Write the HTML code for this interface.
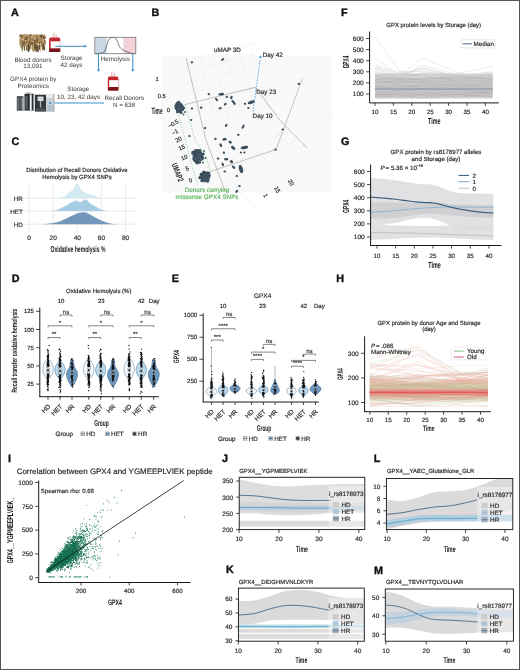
<!DOCTYPE html>
<html><head><meta charset="utf-8"><style>
html,body{margin:0;padding:0;background:#fff;width:520px;height:670px;overflow:hidden;}
#wrap{position:relative;width:520px;height:670px;}
svg{display:block;font-family:"Liberation Sans",sans-serif;text-rendering:geometricPrecision;}
#main{filter:blur(0.3px);}
#brd{position:absolute;left:0;top:0;}
</style></head><body><div id="wrap">
<svg id="main" width="520" height="670" viewBox="0 0 520 670">
<rect x="0" y="0" width="520" height="670" fill="#fff"/>
<text x="11.00" y="16.20" font-size="10.8" font-weight="bold" fill="#111" stroke="#111" stroke-width="0.35">A</text>
<rect x="19.50" y="34.50" width="25.50" height="10.00" fill="#b08d5c" stroke="none" stroke-width="1" />
<rect x="27.76" y="35.91" width="1.25" height="0.69" fill="#e3cfa6"/>
<rect x="21.90" y="40.54" width="1.51" height="0.86" fill="#c9a874"/>
<rect x="30.56" y="35.05" width="0.69" height="1.11" fill="#b89460"/>
<rect x="33.92" y="44.44" width="1.23" height="1.30" fill="#c9a874"/>
<rect x="34.22" y="38.54" width="1.58" height="0.66" fill="#b89460"/>
<rect x="22.90" y="38.78" width="1.14" height="1.29" fill="#e3cfa6"/>
<rect x="40.31" y="36.23" width="1.18" height="1.37" fill="#8a6a40"/>
<rect x="21.98" y="41.92" width="1.16" height="1.34" fill="#5b4630"/>
<rect x="36.85" y="38.88" width="0.91" height="1.30" fill="#5b4630"/>
<rect x="28.72" y="36.96" width="0.78" height="1.54" fill="#c9a874"/>
<rect x="34.15" y="39.92" width="1.48" height="1.48" fill="#8a6a40"/>
<rect x="35.03" y="35.08" width="1.11" height="0.80" fill="#8a6a40"/>
<rect x="23.38" y="39.53" width="0.64" height="1.40" fill="#b89460"/>
<rect x="33.73" y="42.74" width="1.42" height="1.01" fill="#8a6a40"/>
<rect x="34.66" y="40.50" width="1.06" height="1.61" fill="#8a6a40"/>
<rect x="31.59" y="41.41" width="0.66" height="1.44" fill="#3f3327"/>
<rect x="34.24" y="41.59" width="1.05" height="1.46" fill="#3f3327"/>
<rect x="28.35" y="44.36" width="0.96" height="1.33" fill="#5b4630"/>
<rect x="21.00" y="42.52" width="0.73" height="0.90" fill="#5b4630"/>
<rect x="42.88" y="39.61" width="0.77" height="1.08" fill="#8a6a40"/>
<rect x="42.03" y="43.07" width="1.46" height="0.93" fill="#5b4630"/>
<rect x="44.65" y="41.61" width="0.98" height="0.88" fill="#c9a874"/>
<rect x="23.99" y="36.78" width="0.83" height="1.18" fill="#e3cfa6"/>
<rect x="24.15" y="37.32" width="0.75" height="1.24" fill="#e3cfa6"/>
<rect x="33.94" y="44.50" width="1.29" height="1.22" fill="#e3cfa6"/>
<rect x="36.20" y="42.22" width="1.06" height="1.65" fill="#b89460"/>
<rect x="36.85" y="40.28" width="1.00" height="1.07" fill="#5b4630"/>
<rect x="35.67" y="34.97" width="0.67" height="0.85" fill="#a7834e"/>
<rect x="22.30" y="40.73" width="0.70" height="1.28" fill="#e3cfa6"/>
<rect x="22.09" y="38.19" width="0.63" height="1.65" fill="#e3cfa6"/>
<rect x="29.09" y="41.09" width="1.56" height="1.32" fill="#5b4630"/>
<rect x="22.63" y="43.38" width="1.59" height="1.16" fill="#5b4630"/>
<rect x="27.45" y="35.84" width="1.35" height="1.49" fill="#5b4630"/>
<rect x="40.64" y="36.03" width="0.62" height="1.74" fill="#e3cfa6"/>
<rect x="28.72" y="41.68" width="1.51" height="1.51" fill="#8a6a40"/>
<rect x="44.45" y="43.54" width="1.30" height="0.91" fill="#8a6a40"/>
<rect x="42.66" y="38.11" width="0.82" height="1.25" fill="#e3cfa6"/>
<rect x="27.91" y="36.69" width="1.41" height="1.78" fill="#b89460"/>
<rect x="24.48" y="36.86" width="1.00" height="1.56" fill="#a7834e"/>
<rect x="32.70" y="38.10" width="0.63" height="0.63" fill="#8a6a40"/>
<rect x="31.54" y="36.37" width="1.21" height="1.01" fill="#b89460"/>
<rect x="43.39" y="44.87" width="1.56" height="1.04" fill="#a7834e"/>
<rect x="22.11" y="39.33" width="0.94" height="1.18" fill="#e3cfa6"/>
<rect x="40.93" y="39.43" width="1.25" height="1.56" fill="#c9a874"/>
<rect x="40.78" y="35.58" width="0.99" height="1.45" fill="#a7834e"/>
<rect x="31.69" y="36.21" width="1.39" height="1.00" fill="#b89460"/>
<rect x="43.63" y="42.02" width="1.06" height="1.49" fill="#c9a874"/>
<rect x="37.98" y="36.12" width="0.73" height="0.78" fill="#5b4630"/>
<rect x="40.07" y="35.86" width="1.43" height="1.78" fill="#3f3327"/>
<rect x="43.41" y="35.97" width="1.15" height="0.63" fill="#b89460"/>
<rect x="44.26" y="41.25" width="1.13" height="1.72" fill="#5b4630"/>
<rect x="44.66" y="36.38" width="1.47" height="0.63" fill="#a7834e"/>
<rect x="26.97" y="36.87" width="1.19" height="0.91" fill="#5b4630"/>
<rect x="40.77" y="34.95" width="1.34" height="1.68" fill="#3f3327"/>
<rect x="34.38" y="43.98" width="1.02" height="1.70" fill="#e3cfa6"/>
<rect x="22.83" y="35.92" width="1.11" height="1.65" fill="#b89460"/>
<rect x="24.17" y="34.34" width="1.40" height="0.81" fill="#5b4630"/>
<rect x="35.29" y="35.59" width="0.66" height="1.42" fill="#e3cfa6"/>
<rect x="33.66" y="42.69" width="0.71" height="1.27" fill="#a7834e"/>
<rect x="24.38" y="34.75" width="0.70" height="1.14" fill="#c9a874"/>
<rect x="38.88" y="44.06" width="1.04" height="1.34" fill="#e3cfa6"/>
<rect x="34.96" y="36.43" width="0.88" height="1.21" fill="#b89460"/>
<rect x="31.69" y="44.37" width="1.30" height="1.65" fill="#8a6a40"/>
<rect x="43.03" y="43.85" width="0.80" height="1.14" fill="#5b4630"/>
<rect x="22.60" y="39.03" width="0.67" height="0.89" fill="#c9a874"/>
<rect x="24.92" y="37.54" width="0.72" height="1.53" fill="#3f3327"/>
<rect x="35.91" y="38.22" width="0.85" height="0.76" fill="#5b4630"/>
<rect x="25.10" y="44.49" width="1.00" height="1.18" fill="#3f3327"/>
<rect x="40.73" y="36.03" width="1.03" height="1.22" fill="#8a6a40"/>
<rect x="30.24" y="38.12" width="0.69" height="1.04" fill="#8a6a40"/>
<rect x="33.63" y="39.01" width="0.62" height="1.00" fill="#e3cfa6"/>
<rect x="27.03" y="44.58" width="0.71" height="1.70" fill="#a7834e"/>
<rect x="44.28" y="35.42" width="0.87" height="0.65" fill="#b89460"/>
<rect x="24.13" y="42.39" width="1.42" height="1.62" fill="#3f3327"/>
<rect x="40.38" y="37.07" width="0.75" height="1.70" fill="#e3cfa6"/>
<rect x="32.11" y="37.80" width="0.88" height="1.56" fill="#a7834e"/>
<rect x="30.35" y="35.07" width="1.54" height="1.36" fill="#b89460"/>
<rect x="26.14" y="40.81" width="0.82" height="0.92" fill="#c9a874"/>
<rect x="31.07" y="37.93" width="1.15" height="1.71" fill="#8a6a40"/>
<rect x="35.35" y="34.76" width="1.31" height="1.73" fill="#a7834e"/>
<rect x="26.18" y="36.24" width="1.53" height="1.35" fill="#e3cfa6"/>
<rect x="38.87" y="37.40" width="1.10" height="0.81" fill="#8a6a40"/>
<rect x="39.99" y="44.94" width="0.64" height="0.62" fill="#e3cfa6"/>
<rect x="33.55" y="36.33" width="1.07" height="1.72" fill="#c9a874"/>
<rect x="36.29" y="41.26" width="1.26" height="1.26" fill="#5b4630"/>
<rect x="44.24" y="37.59" width="0.82" height="0.88" fill="#a7834e"/>
<rect x="40.72" y="41.86" width="1.24" height="1.09" fill="#8a6a40"/>
<rect x="44.54" y="43.26" width="0.61" height="1.35" fill="#8a6a40"/>
<rect x="30.48" y="34.89" width="1.27" height="1.06" fill="#e3cfa6"/>
<rect x="36.60" y="37.32" width="0.84" height="0.95" fill="#5b4630"/>
<rect x="24.23" y="37.18" width="0.60" height="1.04" fill="#8a6a40"/>
<rect x="44.30" y="40.15" width="0.84" height="1.76" fill="#8a6a40"/>
<rect x="25.06" y="36.26" width="0.94" height="0.70" fill="#8a6a40"/>
<rect x="32.32" y="36.45" width="1.10" height="0.61" fill="#8a6a40"/>
<rect x="40.33" y="35.84" width="1.19" height="1.07" fill="#8a6a40"/>
<rect x="27.26" y="36.79" width="1.19" height="1.24" fill="#b89460"/>
<rect x="23.46" y="43.85" width="1.38" height="1.32" fill="#b89460"/>
<rect x="27.82" y="44.84" width="0.75" height="1.47" fill="#3f3327"/>
<rect x="23.19" y="43.13" width="1.32" height="1.22" fill="#5b4630"/>
<rect x="38.21" y="42.99" width="0.74" height="1.23" fill="#e3cfa6"/>
<rect x="34.00" y="43.00" width="0.62" height="1.42" fill="#b89460"/>
<rect x="42.27" y="41.61" width="1.29" height="0.88" fill="#c9a874"/>
<rect x="20.57" y="41.12" width="1.56" height="1.05" fill="#5b4630"/>
<rect x="33.74" y="41.02" width="1.23" height="1.42" fill="#5b4630"/>
<rect x="26.23" y="39.19" width="0.67" height="1.72" fill="#e3cfa6"/>
<rect x="21.84" y="39.93" width="1.35" height="1.17" fill="#b89460"/>
<rect x="21.40" y="37.14" width="1.33" height="0.85" fill="#3f3327"/>
<rect x="36.07" y="39.23" width="1.45" height="0.69" fill="#3f3327"/>
<rect x="26.83" y="34.80" width="1.23" height="0.84" fill="#e3cfa6"/>
<rect x="23.26" y="37.02" width="1.34" height="0.97" fill="#e3cfa6"/>
<rect x="22.90" y="39.46" width="1.09" height="1.77" fill="#c9a874"/>
<rect x="37.15" y="41.53" width="0.89" height="1.22" fill="#5b4630"/>
<rect x="31.38" y="42.51" width="1.59" height="1.26" fill="#8a6a40"/>
<rect x="44.44" y="44.32" width="0.62" height="1.15" fill="#b89460"/>
<rect x="32.42" y="44.94" width="1.59" height="1.06" fill="#a7834e"/>
<rect x="21.40" y="35.27" width="1.35" height="0.91" fill="#8a6a40"/>
<rect x="22.88" y="43.08" width="1.11" height="1.66" fill="#3f3327"/>
<rect x="28.81" y="39.63" width="1.48" height="1.07" fill="#a7834e"/>
<rect x="19.59" y="39.56" width="1.05" height="0.96" fill="#a7834e"/>
<rect x="30.11" y="38.32" width="0.72" height="1.00" fill="#8a6a40"/>
<rect x="38.64" y="43.28" width="0.72" height="1.71" fill="#3f3327"/>
<rect x="19.80" y="42.22" width="0.85" height="0.68" fill="#5b4630"/>
<rect x="44.97" y="40.60" width="0.96" height="1.11" fill="#8a6a40"/>
<rect x="41.28" y="37.30" width="0.65" height="1.39" fill="#3f3327"/>
<rect x="43.36" y="36.97" width="0.87" height="1.21" fill="#a7834e"/>
<rect x="39.22" y="42.70" width="1.03" height="0.63" fill="#b89460"/>
<rect x="35.59" y="44.07" width="1.54" height="1.26" fill="#3f3327"/>
<rect x="21.55" y="44.29" width="1.01" height="1.34" fill="#a7834e"/>
<rect x="35.93" y="37.36" width="0.65" height="1.71" fill="#a7834e"/>
<rect x="23.85" y="38.74" width="0.88" height="0.91" fill="#3f3327"/>
<rect x="44.40" y="37.08" width="1.26" height="0.96" fill="#e3cfa6"/>
<rect x="36.56" y="35.58" width="1.24" height="0.69" fill="#e3cfa6"/>
<rect x="42.60" y="39.62" width="0.82" height="1.69" fill="#b89460"/>
<rect x="30.97" y="35.79" width="0.79" height="0.71" fill="#8a6a40"/>
<rect x="33.67" y="37.72" width="0.97" height="1.57" fill="#a7834e"/>
<rect x="42.12" y="42.32" width="1.01" height="1.10" fill="#e3cfa6"/>
<rect x="24.86" y="37.19" width="1.35" height="1.20" fill="#e3cfa6"/>
<rect x="44.18" y="35.65" width="1.10" height="1.36" fill="#b89460"/>
<rect x="41.14" y="35.29" width="1.50" height="1.06" fill="#3f3327"/>
<rect x="30.87" y="44.51" width="1.45" height="1.65" fill="#c9a874"/>
<rect x="22.74" y="38.85" width="1.36" height="1.57" fill="#e3cfa6"/>
<rect x="31.99" y="35.08" width="1.53" height="1.71" fill="#e3cfa6"/>
<rect x="41.31" y="44.70" width="0.85" height="0.73" fill="#a7834e"/>
<rect x="23.38" y="44.70" width="0.71" height="1.59" fill="#3f3327"/>
<rect x="36.01" y="42.48" width="1.06" height="1.26" fill="#c9a874"/>
<rect x="19.53" y="35.64" width="1.17" height="0.65" fill="#3f3327"/>
<rect x="27.25" y="35.67" width="0.85" height="1.36" fill="#3f3327"/>
<rect x="38.98" y="35.36" width="0.90" height="1.73" fill="#a7834e"/>
<rect x="29.40" y="36.69" width="1.20" height="0.61" fill="#8a6a40"/>
<rect x="44.91" y="37.28" width="0.92" height="1.61" fill="#a7834e"/>
<rect x="31.62" y="36.81" width="0.85" height="1.75" fill="#3f3327"/>
<rect x="36.07" y="34.89" width="0.79" height="1.66" fill="#3f3327"/>
<rect x="30.21" y="37.05" width="1.27" height="1.71" fill="#a7834e"/>
<rect x="32.07" y="41.75" width="1.32" height="1.03" fill="#5b4630"/>
<rect x="24.55" y="42.83" width="1.34" height="1.21" fill="#a7834e"/>
<rect x="32.14" y="36.44" width="1.37" height="0.83" fill="#5b4630"/>
<rect x="25.15" y="42.44" width="0.89" height="1.74" fill="#5b4630"/>
<rect x="35.06" y="43.89" width="1.09" height="1.69" fill="#c9a874"/>
<rect x="43.69" y="35.87" width="0.99" height="0.86" fill="#e3cfa6"/>
<rect x="23.12" y="34.85" width="0.66" height="1.07" fill="#3f3327"/>
<rect x="42.03" y="42.14" width="1.60" height="1.72" fill="#8a6a40"/>
<rect x="24.36" y="41.28" width="1.12" height="1.16" fill="#8a6a40"/>
<rect x="36.44" y="38.35" width="0.97" height="1.00" fill="#a7834e"/>
<rect x="22.28" y="35.14" width="0.68" height="1.10" fill="#c9a874"/>
<rect x="33.81" y="42.42" width="0.98" height="1.52" fill="#8a6a40"/>
<rect x="40.46" y="38.93" width="0.65" height="1.17" fill="#8a6a40"/>
<rect x="33.31" y="39.08" width="0.92" height="1.48" fill="#5b4630"/>
<rect x="20.27" y="38.70" width="1.41" height="1.52" fill="#c9a874"/>
<rect x="29.08" y="39.27" width="1.40" height="0.67" fill="#a7834e"/>
<rect x="38.56" y="43.91" width="0.94" height="0.93" fill="#e3cfa6"/>
<rect x="20.61" y="42.29" width="1.29" height="1.71" fill="#8a6a40"/>
<rect x="19.60" y="42.39" width="1.52" height="1.36" fill="#c9a874"/>
<rect x="20.12" y="36.80" width="1.08" height="1.75" fill="#b89460"/>
<rect x="29.36" y="36.99" width="1.03" height="1.19" fill="#5b4630"/>
<rect x="24.16" y="42.89" width="1.34" height="1.59" fill="#b89460"/>
<rect x="23.36" y="36.83" width="1.46" height="1.15" fill="#b89460"/>
<rect x="39.45" y="35.15" width="0.80" height="1.50" fill="#a7834e"/>
<rect x="29.90" y="41.25" width="1.08" height="1.25" fill="#a7834e"/>
<rect x="44.50" y="43.75" width="1.59" height="0.92" fill="#c9a874"/>
<rect x="24.81" y="38.81" width="1.59" height="1.77" fill="#a7834e"/>
<rect x="25.47" y="38.76" width="1.22" height="1.41" fill="#3f3327"/>
<rect x="33.23" y="42.58" width="1.36" height="1.54" fill="#8a6a40"/>
<rect x="26.99" y="40.37" width="0.97" height="1.49" fill="#a7834e"/>
<rect x="30.70" y="36.29" width="0.84" height="0.94" fill="#e3cfa6"/>
<rect x="24.30" y="34.99" width="0.85" height="0.90" fill="#e3cfa6"/>
<rect x="25.40" y="42.95" width="1.25" height="1.79" fill="#c9a874"/>
<rect x="19.61" y="43.75" width="0.83" height="1.14" fill="#8a6a40"/>
<rect x="20.53" y="37.44" width="0.72" height="0.83" fill="#b89460"/>
<rect x="34.37" y="44.25" width="0.97" height="1.64" fill="#5b4630"/>
<rect x="34.88" y="42.59" width="1.26" height="0.61" fill="#3f3327"/>
<rect x="34.70" y="40.93" width="0.82" height="1.04" fill="#a7834e"/>
<rect x="20.63" y="45.00" width="0.64" height="1.48" fill="#a7834e"/>
<rect x="40.28" y="43.06" width="1.01" height="1.05" fill="#e3cfa6"/>
<rect x="27.46" y="36.48" width="1.40" height="1.26" fill="#c9a874"/>
<rect x="29.91" y="42.82" width="1.26" height="0.79" fill="#e3cfa6"/>
<rect x="21.82" y="36.05" width="1.30" height="1.09" fill="#8a6a40"/>
<rect x="36.53" y="38.77" width="0.65" height="1.49" fill="#8a6a40"/>
<rect x="30.06" y="34.49" width="1.37" height="1.56" fill="#3f3327"/>
<rect x="24.53" y="42.09" width="0.80" height="0.61" fill="#a7834e"/>
<rect x="30.31" y="43.08" width="1.01" height="1.66" fill="#5b4630"/>
<rect x="39.21" y="35.69" width="0.65" height="0.77" fill="#b89460"/>
<rect x="42.70" y="35.25" width="1.22" height="1.05" fill="#e3cfa6"/>
<rect x="23.88" y="38.02" width="0.76" height="0.81" fill="#c9a874"/>
<rect x="22.27" y="39.55" width="1.40" height="1.76" fill="#a7834e"/>
<rect x="27.19" y="43.26" width="0.64" height="1.70" fill="#8a6a40"/>
<rect x="20.86" y="44.21" width="0.99" height="1.69" fill="#e3cfa6"/>
<rect x="37.05" y="43.84" width="1.24" height="1.63" fill="#e3cfa6"/>
<rect x="29.81" y="43.36" width="1.43" height="0.82" fill="#a7834e"/>
<rect x="20.56" y="44.34" width="0.76" height="1.03" fill="#a7834e"/>
<rect x="25.80" y="42.06" width="1.50" height="0.65" fill="#e3cfa6"/>
<rect x="40.98" y="41.49" width="1.27" height="0.99" fill="#5b4630"/>
<rect x="34.79" y="40.19" width="1.23" height="0.97" fill="#5b4630"/>
<rect x="27.36" y="36.97" width="0.99" height="1.04" fill="#e3cfa6"/>
<rect x="30.68" y="34.55" width="1.22" height="1.19" fill="#a7834e"/>
<rect x="30.89" y="40.92" width="1.42" height="1.60" fill="#b89460"/>
<rect x="31.57" y="35.45" width="0.73" height="1.12" fill="#c9a874"/>
<rect x="39.96" y="39.70" width="1.26" height="0.65" fill="#a7834e"/>
<rect x="21.60" y="42.15" width="1.38" height="1.21" fill="#c9a874"/>
<rect x="38.68" y="43.88" width="1.25" height="1.54" fill="#c9a874"/>
<rect x="41.36" y="44.96" width="1.33" height="1.58" fill="#a7834e"/>
<rect x="22.86" y="43.78" width="0.89" height="1.57" fill="#b89460"/>
<rect x="23.71" y="42.74" width="1.53" height="0.68" fill="#8a6a40"/>
<rect x="35.07" y="37.00" width="0.92" height="1.34" fill="#b89460"/>
<rect x="31.14" y="37.02" width="1.56" height="1.18" fill="#e3cfa6"/>
<rect x="26.20" y="39.71" width="0.92" height="0.64" fill="#a7834e"/>
<rect x="29.79" y="41.11" width="0.88" height="0.99" fill="#5b4630"/>
<rect x="23.80" y="42.70" width="0.72" height="1.24" fill="#3f3327"/>
<rect x="41.39" y="44.64" width="1.05" height="1.23" fill="#3f3327"/>
<rect x="42.00" y="35.42" width="1.59" height="1.36" fill="#5b4630"/>
<rect x="38.32" y="38.27" width="0.98" height="1.04" fill="#a7834e"/>
<rect x="28.69" y="42.48" width="1.04" height="0.81" fill="#3f3327"/>
<rect x="43.93" y="37.47" width="1.12" height="0.97" fill="#b89460"/>
<rect x="34.44" y="41.40" width="0.91" height="0.60" fill="#c9a874"/>
<rect x="25.15" y="37.41" width="1.23" height="1.10" fill="#8a6a40"/>
<rect x="42.34" y="35.71" width="0.83" height="1.38" fill="#c9a874"/>
<rect x="20.89" y="40.37" width="0.90" height="1.23" fill="#e3cfa6"/>
<rect x="25.22" y="40.54" width="1.19" height="0.85" fill="#e3cfa6"/>
<rect x="40.63" y="36.00" width="0.61" height="1.56" fill="#3f3327"/>
<rect x="23.31" y="35.33" width="1.24" height="1.65" fill="#b89460"/>
<rect x="26.38" y="42.98" width="1.57" height="0.67" fill="#b89460"/>
<rect x="33.84" y="38.05" width="1.25" height="1.13" fill="#e3cfa6"/>
<rect x="38.20" y="36.96" width="1.50" height="0.65" fill="#e3cfa6"/>
<rect x="20.14" y="36.29" width="0.76" height="1.69" fill="#c9a874"/>
<rect x="19.81" y="40.19" width="1.54" height="0.77" fill="#a7834e"/>
<rect x="32.72" y="41.18" width="1.25" height="1.10" fill="#e3cfa6"/>
<rect x="23.95" y="37.61" width="0.90" height="0.66" fill="#3f3327"/>
<rect x="39.47" y="41.95" width="0.61" height="1.61" fill="#3f3327"/>
<rect x="42.76" y="35.16" width="1.26" height="0.81" fill="#c9a874"/>
<rect x="26.17" y="41.19" width="0.72" height="1.67" fill="#3f3327"/>
<rect x="43.54" y="37.12" width="0.65" height="1.36" fill="#3f3327"/>
<rect x="30.62" y="42.74" width="1.12" height="0.92" fill="#3f3327"/>
<rect x="43.18" y="43.87" width="0.69" height="1.21" fill="#a7834e"/>
<rect x="26.14" y="36.83" width="1.34" height="1.73" fill="#3f3327"/>
<rect x="42.83" y="36.35" width="0.99" height="1.32" fill="#5b4630"/>
<rect x="42.64" y="41.05" width="1.29" height="1.40" fill="#e3cfa6"/>
<rect x="31.47" y="43.28" width="1.30" height="1.63" fill="#5b4630"/>
<rect x="43.87" y="36.80" width="1.48" height="1.55" fill="#5b4630"/>
<rect x="35.38" y="35.13" width="1.51" height="0.77" fill="#c9a874"/>
<rect x="22.35" y="40.96" width="0.76" height="1.77" fill="#3f3327"/>
<rect x="20.23" y="34.75" width="1.29" height="1.36" fill="#3f3327"/>
<rect x="21.66" y="44.14" width="1.06" height="7.02" fill="#6b5538"/>
<rect x="40.03" y="46.46" width="0.64" height="5.16" fill="#c9a874"/>
<rect x="22.62" y="44.62" width="0.62" height="2.60" fill="#4a3a2a"/>
<rect x="40.21" y="45.89" width="0.66" height="3.18" fill="#4a3a2a"/>
<rect x="39.40" y="45.94" width="0.80" height="3.20" fill="#8a6a40"/>
<rect x="20.51" y="44.77" width="1.03" height="3.48" fill="#8a6a40"/>
<rect x="42.30" y="46.31" width="0.89" height="4.22" fill="#8a6a40"/>
<rect x="35.15" y="44.09" width="0.86" height="4.44" fill="#4a3a2a"/>
<rect x="28.50" y="46.11" width="0.73" height="4.09" fill="#4a3a2a"/>
<rect x="34.08" y="44.86" width="0.91" height="4.24" fill="#8a6a40"/>
<rect x="38.67" y="46.93" width="0.89" height="2.01" fill="#c9a874"/>
<rect x="37.03" y="46.48" width="0.96" height="5.41" fill="#8a6a40"/>
<rect x="34.16" y="44.48" width="1.16" height="6.50" fill="#6b5538"/>
<rect x="32.21" y="44.33" width="0.65" height="5.61" fill="#4a3a2a"/>
<rect x="35.38" y="45.07" width="0.84" height="3.98" fill="#4a3a2a"/>
<rect x="30.34" y="45.94" width="0.78" height="3.51" fill="#c9a874"/>
<rect x="42.08" y="45.50" width="1.13" height="3.71" fill="#6b5538"/>
<rect x="43.13" y="44.38" width="1.01" height="5.34" fill="#4a3a2a"/>
<rect x="28.54" y="44.98" width="1.11" height="2.78" fill="#8a6a40"/>
<rect x="24.15" y="45.32" width="0.95" height="5.62" fill="#6b5538"/>
<rect x="28.18" y="45.93" width="0.90" height="4.84" fill="#8a6a40"/>
<rect x="27.39" y="46.11" width="0.69" height="5.28" fill="#6b5538"/>
<rect x="43.88" y="46.17" width="0.81" height="4.31" fill="#6b5538"/>
<rect x="28.04" y="44.57" width="1.04" height="7.30" fill="#4a3a2a"/>
<rect x="24.03" y="45.97" width="0.69" height="2.79" fill="#6b5538"/>
<rect x="39.47" y="46.20" width="0.72" height="3.65" fill="#4a3a2a"/>
<rect x="26.88" y="46.66" width="0.61" height="3.55" fill="#c9a874"/>
<rect x="36.99" y="45.50" width="0.88" height="4.84" fill="#6b5538"/>
<rect x="26.30" y="46.21" width="0.75" height="2.02" fill="#c9a874"/>
<rect x="37.18" y="45.76" width="1.11" height="4.74" fill="#6b5538"/>
<rect x="36.65" y="45.92" width="0.79" height="3.85" fill="#4a3a2a"/>
<rect x="41.92" y="44.73" width="1.03" height="4.11" fill="#6b5538"/>
<rect x="26.13" y="45.27" width="0.97" height="4.15" fill="#c9a874"/>
<rect x="32.70" y="45.98" width="1.14" height="5.51" fill="#8a6a40"/>
<rect x="39.07" y="45.17" width="1.18" height="4.37" fill="#4a3a2a"/>
<rect x="26.15" y="44.65" width="1.17" height="5.83" fill="#6b5538"/>
<rect x="32.72" y="44.30" width="0.92" height="5.27" fill="#c9a874"/>
<rect x="32.55" y="45.92" width="0.91" height="5.38" fill="#c9a874"/>
<rect x="38.18" y="45.37" width="0.71" height="6.58" fill="#4a3a2a"/>
<rect x="37.86" y="45.84" width="0.75" height="4.65" fill="#c9a874"/>
<rect x="29.79" y="44.04" width="0.85" height="4.49" fill="#8a6a40"/>
<rect x="34.21" y="44.33" width="0.84" height="3.72" fill="#6b5538"/>
<rect x="44.36" y="46.88" width="0.70" height="3.44" fill="#4a3a2a"/>
<rect x="39.83" y="45.90" width="0.94" height="3.92" fill="#6b5538"/>
<rect x="39.96" y="44.44" width="1.10" height="5.70" fill="#c9a874"/>
<rect x="31.47" y="44.88" width="0.68" height="4.81" fill="#c9a874"/>
<rect x="28.69" y="46.55" width="0.83" height="2.92" fill="#8a6a40"/>
<rect x="44.08" y="46.04" width="1.08" height="3.91" fill="#8a6a40"/>
<rect x="28.77" y="45.96" width="0.89" height="3.29" fill="#4a3a2a"/>
<rect x="36.15" y="45.09" width="1.11" height="6.56" fill="#4a3a2a"/>
<rect x="22.09" y="45.69" width="1.17" height="3.40" fill="#8a6a40"/>
<rect x="35.51" y="44.04" width="1.17" height="2.07" fill="#8a6a40"/>
<rect x="26.13" y="44.30" width="0.74" height="2.81" fill="#c9a874"/>
<rect x="28.49" y="44.46" width="1.08" height="7.01" fill="#6b5538"/>
<rect x="34.93" y="46.06" width="0.65" height="5.85" fill="#8a6a40"/>
<path d="M50.70,37.60 H58.70 Q60.20,37.60 60.20,39.60 V51.00 Q60.20,52.00 58.70,52.00 H50.70 Q49.20,52.00 49.20,51.00 V39.60 Q49.20,37.60 50.70,37.60 Z" fill="#c0262c"/>
<rect x="50.40" y="41.34" width="9.60" height="7.20" fill="#ffffff" stroke="none" stroke-width="1" />
<rect x="49.20" y="48.54" width="11.00" height="3.46" fill="#7a1418" stroke="none" stroke-width="1" />
<rect x="49.20" y="41.34" width="1.20" height="7.20" fill="#c0262c" stroke="none" stroke-width="1" />
<line x1="53.20" y1="37.60" x2="53.20" y2="33.10" stroke="#c77" stroke-width="0.5" />
<line x1="56.20" y1="37.60" x2="56.20" y2="34.10" stroke="#c77" stroke-width="0.5" />
<line x1="54.70" y1="37.60" x2="54.70" y2="32.10" stroke="#caa" stroke-width="0.5" />
<path d="M109.40,76.50 H116.90 Q118.40,76.50 118.40,78.50 V89.50 Q118.40,90.50 116.90,90.50 H109.40 Q107.90,90.50 107.90,89.50 V78.50 Q107.90,76.50 109.40,76.50 Z" fill="#c0262c"/>
<rect x="109.10" y="80.14" width="9.10" height="7.00" fill="#ffffff" stroke="none" stroke-width="1" />
<rect x="107.90" y="87.14" width="10.50" height="3.36" fill="#7a1418" stroke="none" stroke-width="1" />
<rect x="107.90" y="80.14" width="1.20" height="7.00" fill="#c0262c" stroke="none" stroke-width="1" />
<line x1="111.65" y1="76.50" x2="111.65" y2="72.00" stroke="#c77" stroke-width="0.5" />
<line x1="114.65" y1="76.50" x2="114.65" y2="73.00" stroke="#c77" stroke-width="0.5" />
<line x1="113.15" y1="76.50" x2="113.15" y2="71.00" stroke="#caa" stroke-width="0.5" />
<line x1="55.50" y1="46.30" x2="84.50" y2="46.30" stroke="#3a92cf" stroke-width="1.0" />
<polygon points="87.00,46.30 84.20,47.84 84.20,44.76" fill="#3a92cf" />
<text x="33.00" y="61.50" font-size="6.3" text-anchor="middle" fill="#3a3a3a">Blood donors</text>
<text x="33.00" y="67.80" font-size="6.3" text-anchor="middle" fill="#3a3a3a">13,091</text>
<text x="71.50" y="60.40" font-size="6.3" text-anchor="middle" fill="#3a3a3a">Storage</text>
<text x="71.50" y="67.10" font-size="6.3" text-anchor="middle" fill="#3a3a3a">42 days</text>
<rect x="94.80" y="37.30" width="41.00" height="16.40" fill="#fff" stroke="none" stroke-width="1" />
<rect x="94.80" y="37.30" width="11.80" height="16.40" fill="#cad8e6" stroke="none" stroke-width="1" />
<rect x="123.40" y="37.30" width="12.40" height="16.40" fill="#f2d2d8" stroke="none" stroke-width="1" />
<polyline points="95.50,53.80 95.99,53.77 96.67,53.74 97.48,53.71 98.34,53.64 99.20,53.55 100.00,53.40 100.76,53.24 101.56,53.10 102.34,52.91 103.10,52.65 103.80,52.26 104.40,51.70 104.90,50.92 105.31,49.93 105.66,48.83 105.98,47.67 106.28,46.53 106.60,45.50 106.91,44.53 107.20,43.56 107.47,42.61 107.76,41.72 108.06,40.91 108.40,40.20 108.79,39.61 109.22,39.10 109.67,38.68 110.13,38.33 110.57,38.04 111.00,37.80 111.40,37.63 111.79,37.54 112.17,37.51 112.55,37.53 112.93,37.56 113.30,37.60 113.67,37.62 114.04,37.62 114.41,37.65 114.77,37.73 115.13,37.91 115.50,38.20 115.88,38.65 116.27,39.24 116.66,39.91 117.03,40.63 117.39,41.34 117.70,42.00 117.96,42.62 118.17,43.24 118.35,43.85 118.53,44.45 118.74,45.04 119.00,45.60 119.30,46.14 119.62,46.67 119.96,47.19 120.34,47.68 120.75,48.15 121.20,48.60 121.70,49.02 122.23,49.41 122.81,49.77 123.41,50.13 124.04,50.47 124.70,50.80 125.41,51.13 126.19,51.47 126.99,51.79 127.79,52.09 128.54,52.36 129.20,52.60 129.76,52.80 130.23,52.96 130.66,53.09 131.08,53.20 131.51,53.30 132.00,53.40 132.58,53.49 133.24,53.58 133.93,53.65 134.57,53.71 135.11,53.76 135.50,53.80" stroke="#333" fill="none" stroke-width="0.7" />
<rect x="94.80" y="37.30" width="41.00" height="16.40" fill="none" stroke="#777" stroke-width="0.8" />
<text x="115.30" y="60.90" font-size="6.3" text-anchor="middle" fill="#3a3a3a">Hemolysis</text>
<line x1="98.50" y1="53.80" x2="98.50" y2="69.50" stroke="#3a92cf" stroke-width="1.0" />
<polygon points="98.50,72.00 96.96,69.20 100.04,69.20" fill="#3a92cf" />
<line x1="132.80" y1="53.80" x2="132.80" y2="69.50" stroke="#3a92cf" stroke-width="1.0" />
<polygon points="132.80,72.00 131.26,69.20 134.34,69.20" fill="#3a92cf" />
<text x="124.30" y="99.70" font-size="6.3" text-anchor="middle" fill="#3a3a3a">Recall Donors</text>
<text x="124.00" y="107.00" font-size="6.3" text-anchor="middle" fill="#3a3a3a">N = 638</text>
<text x="78.30" y="90.50" font-size="6.3" text-anchor="middle" fill="#3a3a3a">Storage</text>
<text x="78.50" y="98.90" font-size="6.3" text-anchor="middle" fill="#3a3a3a">10, 23, 42 days</text>
<line x1="51.00" y1="103.00" x2="104.00" y2="103.00" stroke="#3a92cf" stroke-width="1.1" />
<text x="33.20" y="80.50" font-size="6.3" text-anchor="middle" fill="#3a3a3a">GPX4 protein by</text>
<text x="33.20" y="87.70" font-size="6.3" text-anchor="middle" fill="#3a3a3a">Proteomics</text>
<rect x="16.80" y="96.20" width="6.80" height="14.40" fill="#3a3e44" stroke="none" stroke-width="1" />
<rect x="17.60" y="97.50" width="1.00" height="12.00" fill="#8d939a" stroke="none" stroke-width="1" />
<rect x="19.60" y="97.50" width="0.80" height="12.00" fill="#6a7077" stroke="none" stroke-width="1" />
<rect x="21.60" y="97.50" width="1.20" height="12.00" fill="#a9aeb3" stroke="none" stroke-width="1" />
<rect x="23.60" y="95.00" width="1.00" height="15.60" fill="#e8eaec" stroke="none" stroke-width="1" />
<rect x="24.50" y="93.80" width="9.20" height="16.80" fill="#2c3035" stroke="none" stroke-width="1" />
<rect x="25.50" y="96.00" width="2.00" height="13.00" fill="#5d636a" stroke="none" stroke-width="1" />
<rect x="29.80" y="94.50" width="1.90" height="16.00" fill="#eef0f2" stroke="none" stroke-width="1" />
<rect x="26.00" y="92.40" width="4.00" height="1.40" fill="#9aa" stroke="none" stroke-width="1" />
<rect x="33.70" y="95.00" width="1.30" height="15.60" fill="#d8dbde" stroke="none" stroke-width="1" />
<rect x="35.00" y="94.70" width="11.10" height="16.90" fill="#33373c" stroke="none" stroke-width="1" />
<rect x="37.50" y="96.50" width="6.00" height="4.50" fill="#d5dadf" stroke="none" stroke-width="1" />
<rect x="39.80" y="101.00" width="1.40" height="6.50" fill="#aab2b8" stroke="none" stroke-width="1" />
<rect x="36.00" y="108.50" width="9.00" height="2.20" fill="#50565c" stroke="none" stroke-width="1" />
<rect x="46.10" y="94.20" width="8.30" height="17.80" fill="#cdd2d7" stroke="none" stroke-width="1" />
<rect x="46.10" y="94.20" width="8.30" height="3.50" fill="#e9ecef" stroke="none" stroke-width="1" />
<rect x="47.20" y="105.00" width="6.20" height="6.00" fill="#b2c1cf" stroke="none" stroke-width="1" />
<rect x="53.20" y="94.20" width="1.20" height="17.80" fill="#a9b0b7" stroke="none" stroke-width="1" />
<polygon points="48.30,103.00 51.10,101.46 51.10,104.54" fill="#3a92cf" />
<text x="151.50" y="15.80" font-size="10.8" font-weight="bold" fill="#111" stroke="#111" stroke-width="0.35">B</text>
<polygon points="161.00,55.50 331.70,55.50 331.70,192.60 161.00,192.60" fill="#f9f9fa" />
<line x1="199.00" y1="55.50" x2="219.00" y2="135.10" stroke="#eeeef1" stroke-width="0.6" />
<line x1="212.00" y1="53.00" x2="232.00" y2="130.20" stroke="#eeeef1" stroke-width="0.6" />
<line x1="225.00" y1="50.50" x2="245.00" y2="125.30" stroke="#eeeef1" stroke-width="0.6" />
<line x1="238.00" y1="48.00" x2="258.00" y2="120.40" stroke="#eeeef1" stroke-width="0.6" />
<line x1="251.00" y1="45.50" x2="271.00" y2="115.50" stroke="#eeeef1" stroke-width="0.6" />
<line x1="187.00" y1="93.60" x2="255.40" y2="76.30" stroke="#eeeef1" stroke-width="0.6" />
<line x1="187.00" y1="82.60" x2="255.40" y2="65.30" stroke="#eeeef1" stroke-width="0.6" />
<line x1="187.00" y1="71.60" x2="255.40" y2="54.30" stroke="#eeeef1" stroke-width="0.6" />
<line x1="187.00" y1="60.60" x2="255.40" y2="43.30" stroke="#eeeef1" stroke-width="0.6" />
<line x1="276.80" y1="132.40" x2="298.40" y2="158.10" stroke="#eeeef1" stroke-width="0.6" />
<line x1="268.20" y1="142.50" x2="289.80" y2="168.20" stroke="#eeeef1" stroke-width="0.6" />
<line x1="259.60" y1="152.60" x2="281.20" y2="178.30" stroke="#eeeef1" stroke-width="0.6" />
<line x1="251.00" y1="162.70" x2="272.60" y2="188.40" stroke="#eeeef1" stroke-width="0.6" />
<line x1="242.40" y1="172.80" x2="264.00" y2="198.50" stroke="#eeeef1" stroke-width="0.6" />
<line x1="233.80" y1="182.90" x2="255.40" y2="208.60" stroke="#eeeef1" stroke-width="0.6" />
<line x1="217.00" y1="159.00" x2="284.00" y2="159.00" stroke="#eeeef1" stroke-width="0.0" />
<line x1="225.00" y1="168.50" x2="292.00" y2="168.50" stroke="#eeeef1" stroke-width="0.0" />
<line x1="233.00" y1="178.00" x2="300.00" y2="178.00" stroke="#eeeef1" stroke-width="0.0" />
<line x1="241.00" y1="187.50" x2="308.00" y2="187.50" stroke="#eeeef1" stroke-width="0.0" />
<line x1="249.00" y1="197.00" x2="316.00" y2="197.00" stroke="#eeeef1" stroke-width="0.0" />
<line x1="257.00" y1="206.50" x2="324.00" y2="206.50" stroke="#eeeef1" stroke-width="0.0" />
<line x1="255.40" y1="87.30" x2="195.40" y2="107.30" stroke="#eeeef1" stroke-width="0.6" />
<line x1="262.80" y1="96.00" x2="202.80" y2="116.00" stroke="#eeeef1" stroke-width="0.6" />
<line x1="270.20" y1="104.70" x2="210.20" y2="124.70" stroke="#eeeef1" stroke-width="0.6" />
<line x1="277.60" y1="113.40" x2="217.60" y2="133.40" stroke="#eeeef1" stroke-width="0.6" />
<line x1="285.00" y1="122.10" x2="225.00" y2="142.10" stroke="#eeeef1" stroke-width="0.6" />
<line x1="292.40" y1="130.80" x2="232.40" y2="150.80" stroke="#eeeef1" stroke-width="0.6" />
<line x1="299.80" y1="139.50" x2="239.80" y2="159.50" stroke="#eeeef1" stroke-width="0.6" />
<line x1="218.00" y1="173.50" x2="263.00" y2="128.50" stroke="#eeeef1" stroke-width="0.6" />
<line x1="227.00" y1="175.00" x2="272.00" y2="130.00" stroke="#eeeef1" stroke-width="0.6" />
<line x1="236.00" y1="176.50" x2="281.00" y2="131.50" stroke="#eeeef1" stroke-width="0.6" />
<line x1="245.00" y1="178.00" x2="290.00" y2="133.00" stroke="#eeeef1" stroke-width="0.6" />
<line x1="254.00" y1="179.50" x2="299.00" y2="134.50" stroke="#eeeef1" stroke-width="0.6" />
<line x1="264.00" y1="60.00" x2="331.50" y2="117.38" stroke="#eeeef1" stroke-width="0.6" />
<line x1="275.00" y1="61.00" x2="331.50" y2="109.03" stroke="#eeeef1" stroke-width="0.6" />
<line x1="286.00" y1="62.00" x2="331.50" y2="100.67" stroke="#eeeef1" stroke-width="0.6" />
<line x1="297.00" y1="63.00" x2="331.50" y2="92.33" stroke="#eeeef1" stroke-width="0.6" />
<line x1="308.00" y1="64.00" x2="331.50" y2="83.97" stroke="#eeeef1" stroke-width="0.6" />
<line x1="319.00" y1="65.00" x2="331.50" y2="75.62" stroke="#eeeef1" stroke-width="0.6" />
<line x1="300.00" y1="150.00" x2="331.50" y2="118.00" stroke="#eeeef1" stroke-width="0.6" />
<line x1="308.00" y1="156.00" x2="331.50" y2="132.00" stroke="#eeeef1" stroke-width="0.6" />
<line x1="316.00" y1="162.00" x2="331.50" y2="146.00" stroke="#eeeef1" stroke-width="0.6" />
<line x1="324.00" y1="168.00" x2="331.50" y2="160.00" stroke="#eeeef1" stroke-width="0.6" />
<polyline points="186.00,58.00 206.00,140.00 225.00,191.00" stroke="#a9a9a9" fill="none" stroke-width="0.7" />
<line x1="184.60" y1="104.60" x2="255.40" y2="87.30" stroke="#a9a9a9" stroke-width="0.7" />
<polyline points="255.40,87.30 279.70,120.00 307.00,148.00" stroke="#a9a9a9" fill="none" stroke-width="0.7" />
<line x1="302.50" y1="78.50" x2="276.00" y2="149.50" stroke="#a9a9a9" stroke-width="0.7" />
<line x1="276.00" y1="149.50" x2="209.00" y2="172.00" stroke="#a9a9a9" stroke-width="0.7" />
<line x1="253.00" y1="111.60" x2="260.30" y2="58.50" stroke="#3f98d4" stroke-width="0.8" stroke-dasharray="1.6,1.2"/>
<polygon points="260.70,55.30 261.75,58.07 258.92,57.68" fill="#3f98d4" />
<text x="262.80" y="56.80" font-size="6.3" text-anchor="start" fill="#2b2b2b" stroke="#2b2b2b" stroke-width="0.18">Day 42</text>
<text x="256.20" y="93.80" font-size="6.3" text-anchor="start" fill="#2b2b2b" stroke="#2b2b2b" stroke-width="0.18">Day 23</text>
<text x="252.60" y="117.50" font-size="6.3" text-anchor="start" fill="#2b2b2b" stroke="#2b2b2b" stroke-width="0.18">Day 10</text>
<text x="214.00" y="52.20" font-size="6.3" text-anchor="start" fill="#2b2b2b" stroke="#2b2b2b" stroke-width="0.18">uMAP 3D</text>
<polyline points="177.00,110.00 188.00,150.00 192.00,166.00 198.00,185.00" stroke="#86c986" fill="none" stroke-width="0.7" stroke-dasharray="1.3,1.2"/>
<polyline points="185.00,104.00 195.00,140.00 206.00,156.00 210.00,170.00" stroke="#86c986" fill="none" stroke-width="0.7" stroke-dasharray="1.3,1.2"/>
<text x="207.00" y="192.30" font-size="6.3" text-anchor="middle" fill="#5fb65f" stroke="#5fb65f" stroke-width="0.18">Donors carrying</text>
<text x="207.00" y="198.80" font-size="6.3" text-anchor="middle" fill="#5fb65f" stroke="#5fb65f" stroke-width="0.18">missense GPX4 SNPs</text>
<ellipse cx="179.5" cy="107.5" rx="4.00" ry="4.96" fill="#3a4e5b"/>
<circle cx="180.72" cy="111.90" r="1.32" fill="#3a4e5b"/>
<circle cx="179.35" cy="103.88" r="1.61" fill="#3a4e5b"/>
<circle cx="177.28" cy="106.51" r="1.09" fill="#3a4e5b"/>
<circle cx="181.49" cy="110.45" r="0.95" fill="#3a4e5b"/>
<circle cx="177.57" cy="108.00" r="1.29" fill="#3a4e5b"/>
<circle cx="176.25" cy="107.55" r="1.59" fill="#3a4e5b"/>
<circle cx="183.73" cy="107.72" r="1.27" fill="#3a4e5b"/>
<circle cx="176.12" cy="105.76" r="1.57" fill="#3a4e5b"/>
<circle cx="177.48" cy="110.01" r="1.67" fill="#3a4e5b"/>
<circle cx="182.68" cy="109.52" r="1.41" fill="#3a4e5b"/>
<circle cx="182.93" cy="108.27" r="1.45" fill="#3a4e5b"/>
<circle cx="181.84" cy="106.17" r="1.69" fill="#3a4e5b"/>
<circle cx="176.43" cy="107.25" r="1.62" fill="#3a4e5b"/>
<circle cx="183.25" cy="108.50" r="1.40" fill="#3a4e5b"/>
<circle cx="177.23" cy="112.03" r="1.19" fill="#3a4e5b"/>
<circle cx="176.33" cy="108.13" r="1.52" fill="#3a4e5b"/>
<circle cx="180.21" cy="111.00" r="1.24" fill="#3a4e5b"/>
<circle cx="175.55" cy="105.77" r="1.13" fill="#3a4e5b"/>
<circle cx="180.82" cy="104.42" r="1.30" fill="#3a4e5b"/>
<circle cx="179.07" cy="111.36" r="1.68" fill="#3a4e5b"/>
<circle cx="177.20" cy="103.33" r="1.16" fill="#3a4e5b"/>
<circle cx="178.49" cy="110.30" r="1.37" fill="#3a4e5b"/>
<circle cx="176.82" cy="103.74" r="0.93" fill="#3a4e5b"/>
<circle cx="178.75" cy="102.15" r="1.34" fill="#3a4e5b"/>
<circle cx="181.86" cy="108.44" r="0.90" fill="#3a4e5b"/>
<circle cx="181.16" cy="112.68" r="1.39" fill="#3a4e5b"/>
<circle cx="177.28" cy="103.28" r="1.63" fill="#3a4e5b"/>
<circle cx="176.82" cy="104.69" r="1.40" fill="#3a4e5b"/>
<circle cx="178.36" cy="103.48" r="1.44" fill="#3a4e5b"/>
<circle cx="180.36" cy="111.92" r="1.27" fill="#3a4e5b"/>
<circle cx="179.57" cy="106.44" r="0.45" fill="#7a8c96"/>
<circle cx="179.76" cy="108.21" r="0.45" fill="#7a8c96"/>
<circle cx="180.07" cy="102.97" r="0.45" fill="#7a8c96"/>
<circle cx="178.50" cy="105.66" r="0.45" fill="#7a8c96"/>
<circle cx="180.93" cy="103.88" r="0.45" fill="#7a8c96"/>
<circle cx="178.20" cy="106.84" r="0.45" fill="#7a8c96"/>
<circle cx="178.87" cy="109.82" r="0.45" fill="#7a8c96"/>
<circle cx="178.66" cy="109.76" r="0.45" fill="#7a8c96"/>
<circle cx="177.13" cy="103.87" r="0.45" fill="#7a8c96"/>
<circle cx="181.84" cy="108.54" r="0.45" fill="#7a8c96"/>
<ellipse cx="197.8" cy="156.5" rx="5.20" ry="6.08" fill="#3a4e5b"/>
<circle cx="200.18" cy="157.20" r="1.55" fill="#3a4e5b"/>
<circle cx="192.61" cy="153.39" r="1.26" fill="#3a4e5b"/>
<circle cx="201.37" cy="156.87" r="1.37" fill="#3a4e5b"/>
<circle cx="203.43" cy="153.78" r="1.28" fill="#3a4e5b"/>
<circle cx="195.77" cy="157.96" r="1.42" fill="#3a4e5b"/>
<circle cx="198.41" cy="159.44" r="0.91" fill="#3a4e5b"/>
<circle cx="202.64" cy="156.67" r="1.00" fill="#3a4e5b"/>
<circle cx="200.07" cy="155.93" r="1.60" fill="#3a4e5b"/>
<circle cx="199.20" cy="158.22" r="1.48" fill="#3a4e5b"/>
<circle cx="198.05" cy="162.40" r="1.05" fill="#3a4e5b"/>
<circle cx="202.76" cy="158.39" r="1.47" fill="#3a4e5b"/>
<circle cx="200.90" cy="151.86" r="0.97" fill="#3a4e5b"/>
<circle cx="194.38" cy="152.32" r="1.27" fill="#3a4e5b"/>
<circle cx="200.55" cy="155.04" r="1.67" fill="#3a4e5b"/>
<circle cx="197.39" cy="154.21" r="0.91" fill="#3a4e5b"/>
<circle cx="194.64" cy="151.37" r="0.96" fill="#3a4e5b"/>
<circle cx="195.92" cy="161.96" r="1.03" fill="#3a4e5b"/>
<circle cx="200.37" cy="152.91" r="0.95" fill="#3a4e5b"/>
<circle cx="194.85" cy="160.29" r="1.25" fill="#3a4e5b"/>
<circle cx="196.66" cy="153.81" r="1.54" fill="#3a4e5b"/>
<circle cx="194.75" cy="160.64" r="1.40" fill="#3a4e5b"/>
<circle cx="194.69" cy="158.56" r="1.53" fill="#3a4e5b"/>
<circle cx="202.75" cy="154.41" r="1.35" fill="#3a4e5b"/>
<circle cx="197.22" cy="158.99" r="1.68" fill="#3a4e5b"/>
<circle cx="196.22" cy="150.41" r="1.17" fill="#3a4e5b"/>
<circle cx="193.01" cy="152.11" r="1.57" fill="#3a4e5b"/>
<circle cx="195.18" cy="154.24" r="1.24" fill="#3a4e5b"/>
<circle cx="200.50" cy="153.82" r="1.45" fill="#3a4e5b"/>
<circle cx="193.20" cy="152.50" r="1.55" fill="#3a4e5b"/>
<circle cx="197.39" cy="158.74" r="1.11" fill="#3a4e5b"/>
<circle cx="193.89" cy="158.92" r="1.55" fill="#3a4e5b"/>
<circle cx="199.42" cy="154.88" r="1.57" fill="#3a4e5b"/>
<circle cx="199.92" cy="150.42" r="1.36" fill="#3a4e5b"/>
<circle cx="196.97" cy="162.91" r="1.55" fill="#3a4e5b"/>
<circle cx="195.48" cy="150.27" r="1.18" fill="#3a4e5b"/>
<circle cx="201.49" cy="159.05" r="1.54" fill="#3a4e5b"/>
<circle cx="199.37" cy="162.20" r="1.65" fill="#3a4e5b"/>
<circle cx="198.25" cy="161.75" r="1.44" fill="#3a4e5b"/>
<circle cx="195.04" cy="157.21" r="1.10" fill="#3a4e5b"/>
<circle cx="197.84" cy="150.31" r="1.27" fill="#3a4e5b"/>
<circle cx="201.48" cy="159.14" r="0.45" fill="#7a8c96"/>
<circle cx="198.04" cy="154.52" r="0.45" fill="#7a8c96"/>
<circle cx="193.65" cy="153.85" r="0.45" fill="#7a8c96"/>
<circle cx="200.07" cy="154.16" r="0.45" fill="#7a8c96"/>
<circle cx="194.50" cy="157.07" r="0.45" fill="#7a8c96"/>
<circle cx="198.37" cy="158.15" r="0.45" fill="#7a8c96"/>
<circle cx="199.42" cy="160.57" r="0.45" fill="#7a8c96"/>
<circle cx="195.71" cy="159.36" r="0.45" fill="#7a8c96"/>
<circle cx="195.34" cy="158.52" r="0.45" fill="#7a8c96"/>
<circle cx="198.31" cy="157.30" r="0.45" fill="#7a8c96"/>
<circle cx="200.15" cy="156.45" r="0.45" fill="#7a8c96"/>
<circle cx="200.57" cy="159.05" r="0.45" fill="#7a8c96"/>
<circle cx="198.12" cy="154.95" r="0.45" fill="#7a8c96"/>
<ellipse cx="204.8" cy="176.3" rx="4.40" ry="4.80" fill="#3a4e5b"/>
<circle cx="202.44" cy="174.50" r="1.32" fill="#3a4e5b"/>
<circle cx="206.56" cy="176.55" r="1.69" fill="#3a4e5b"/>
<circle cx="207.06" cy="173.54" r="1.35" fill="#3a4e5b"/>
<circle cx="204.48" cy="181.13" r="1.24" fill="#3a4e5b"/>
<circle cx="208.95" cy="174.72" r="1.56" fill="#3a4e5b"/>
<circle cx="207.29" cy="175.66" r="0.93" fill="#3a4e5b"/>
<circle cx="205.50" cy="178.69" r="0.97" fill="#3a4e5b"/>
<circle cx="208.26" cy="177.55" r="1.60" fill="#3a4e5b"/>
<circle cx="199.94" cy="177.72" r="1.63" fill="#3a4e5b"/>
<circle cx="208.28" cy="177.92" r="1.22" fill="#3a4e5b"/>
<circle cx="208.50" cy="180.09" r="1.11" fill="#3a4e5b"/>
<circle cx="201.18" cy="174.61" r="1.67" fill="#3a4e5b"/>
<circle cx="203.32" cy="173.38" r="1.26" fill="#3a4e5b"/>
<circle cx="207.54" cy="180.99" r="1.69" fill="#3a4e5b"/>
<circle cx="205.12" cy="178.22" r="1.10" fill="#3a4e5b"/>
<circle cx="201.88" cy="180.56" r="1.62" fill="#3a4e5b"/>
<circle cx="205.75" cy="174.61" r="1.53" fill="#3a4e5b"/>
<circle cx="203.80" cy="172.12" r="1.69" fill="#3a4e5b"/>
<circle cx="206.84" cy="177.11" r="1.50" fill="#3a4e5b"/>
<circle cx="208.58" cy="174.65" r="1.14" fill="#3a4e5b"/>
<circle cx="201.14" cy="173.72" r="0.98" fill="#3a4e5b"/>
<circle cx="203.65" cy="178.81" r="1.00" fill="#3a4e5b"/>
<circle cx="202.56" cy="176.59" r="1.09" fill="#3a4e5b"/>
<circle cx="207.33" cy="179.78" r="0.91" fill="#3a4e5b"/>
<circle cx="204.32" cy="173.79" r="0.93" fill="#3a4e5b"/>
<circle cx="206.99" cy="175.13" r="1.65" fill="#3a4e5b"/>
<circle cx="208.03" cy="172.39" r="1.01" fill="#3a4e5b"/>
<circle cx="202.91" cy="177.01" r="1.64" fill="#3a4e5b"/>
<circle cx="206.93" cy="172.74" r="1.26" fill="#3a4e5b"/>
<circle cx="202.34" cy="180.53" r="1.28" fill="#3a4e5b"/>
<circle cx="203.30" cy="174.60" r="1.08" fill="#3a4e5b"/>
<circle cx="208.74" cy="177.90" r="1.34" fill="#3a4e5b"/>
<circle cx="207.20" cy="179.66" r="0.45" fill="#7a8c96"/>
<circle cx="204.58" cy="178.62" r="0.45" fill="#7a8c96"/>
<circle cx="205.69" cy="177.74" r="0.45" fill="#7a8c96"/>
<circle cx="205.78" cy="174.60" r="0.45" fill="#7a8c96"/>
<circle cx="206.01" cy="178.61" r="0.45" fill="#7a8c96"/>
<circle cx="203.13" cy="180.30" r="0.45" fill="#7a8c96"/>
<circle cx="208.05" cy="179.40" r="0.45" fill="#7a8c96"/>
<circle cx="208.54" cy="177.82" r="0.45" fill="#7a8c96"/>
<circle cx="204.13" cy="175.00" r="0.45" fill="#7a8c96"/>
<circle cx="203.16" cy="176.55" r="0.45" fill="#7a8c96"/>
<circle cx="183.5" cy="114.5" r="0.9" fill="#3a4e5b"/>
<circle cx="185" cy="112" r="0.9" fill="#3a4e5b"/>
<circle cx="204" cy="151" r="0.9" fill="#3a4e5b"/>
<circle cx="205.5" cy="158" r="0.9" fill="#3a4e5b"/>
<circle cx="203" cy="162.5" r="0.9" fill="#3a4e5b"/>
<circle cx="209.5" cy="173" r="0.9" fill="#3a4e5b"/>
<circle cx="210" cy="176" r="0.9" fill="#3a4e5b"/>
<ellipse cx="191.9" cy="62.3" rx="1.3" ry="1.1" fill="#3a4e5b" transform="rotate(0 191.9 62.3)"/>
<ellipse cx="222.7" cy="59.5" rx="1.9" ry="1.1" fill="#3a4e5b" transform="rotate(-40 222.7 59.5)"/>
<ellipse cx="208.8" cy="94.2" rx="1.2" ry="1.1" fill="#3a4e5b" transform="rotate(0 208.8 94.2)"/>
<ellipse cx="221.2" cy="94.2" rx="3.0" ry="1.3" fill="#3a4e5b" transform="rotate(-5 221.2 94.2)"/>
<ellipse cx="216.5" cy="99.5" rx="2.0" ry="1.1" fill="#3a4e5b" transform="rotate(60 216.5 99.5)"/>
<ellipse cx="226.8" cy="96.9" rx="1.2" ry="1.1" fill="#3a4e5b" transform="rotate(0 226.8 96.9)"/>
<ellipse cx="231.4" cy="97.5" rx="1.2" ry="1.8" fill="#3a4e5b" transform="rotate(20 231.4 97.5)"/>
<ellipse cx="233.2" cy="101.8" rx="2.2" ry="1.2" fill="#3a4e5b" transform="rotate(40 233.2 101.8)"/>
<ellipse cx="234.6" cy="103.8" rx="1.3" ry="1.1" fill="#3a4e5b" transform="rotate(0 234.6 103.8)"/>
<ellipse cx="225.3" cy="104.2" rx="1.6" ry="1.1" fill="#3a4e5b" transform="rotate(-40 225.3 104.2)"/>
<ellipse cx="220.1" cy="108.2" rx="1.6" ry="1.1" fill="#3a4e5b" transform="rotate(-20 220.1 108.2)"/>
<ellipse cx="201.2" cy="107.7" rx="1.3" ry="1.1" fill="#3a4e5b" transform="rotate(0 201.2 107.7)"/>
<ellipse cx="191.9" cy="108.5" rx="1.3" ry="1.1" fill="#3a4e5b" transform="rotate(0 191.9 108.5)"/>
<ellipse cx="191.2" cy="120" rx="1.2" ry="1.1" fill="#3a4e5b" transform="rotate(0 191.2 120)"/>
<ellipse cx="245" cy="103.8" rx="1.2" ry="1.1" fill="#3a4e5b" transform="rotate(0 245 103.8)"/>
<ellipse cx="251.2" cy="102.3" rx="3.6" ry="1.6" fill="#3a4e5b" transform="rotate(-20 251.2 102.3)"/>
<ellipse cx="248.4" cy="108" rx="1.2" ry="1.1" fill="#3a4e5b" transform="rotate(0 248.4 108)"/>
<ellipse cx="226.2" cy="125.4" rx="1.7" ry="1.1" fill="#3a4e5b" transform="rotate(-50 226.2 125.4)"/>
<ellipse cx="243.1" cy="126.7" rx="2.3" ry="1.1" fill="#3a4e5b" transform="rotate(-60 243.1 126.7)"/>
<ellipse cx="205.1" cy="128.1" rx="1.3" ry="1.1" fill="#3a4e5b" transform="rotate(0 205.1 128.1)"/>
<ellipse cx="238.3" cy="134.8" rx="1.3" ry="1.1" fill="#3a4e5b" transform="rotate(0 238.3 134.8)"/>
<ellipse cx="215.4" cy="138.9" rx="1.3" ry="1.1" fill="#3a4e5b" transform="rotate(0 215.4 138.9)"/>
<ellipse cx="224.6" cy="139.3" rx="2.3" ry="1.3" fill="#3a4e5b" transform="rotate(-10 224.6 139.3)"/>
<ellipse cx="220.8" cy="145.2" rx="2.0" ry="1.2" fill="#3a4e5b" transform="rotate(65 220.8 145.2)"/>
<ellipse cx="230.2" cy="142.2" rx="1.8" ry="1.3" fill="#3a4e5b" transform="rotate(30 230.2 142.2)"/>
<ellipse cx="233.2" cy="147.9" rx="2.6" ry="1.4" fill="#3a4e5b" transform="rotate(40 233.2 147.9)"/>
<ellipse cx="244.4" cy="147.6" rx="3.8" ry="1.6" fill="#3a4e5b" transform="rotate(-10 244.4 147.6)"/>
<ellipse cx="240.9" cy="152.5" rx="1.1" ry="1.0" fill="#3a4e5b" transform="rotate(0 240.9 152.5)"/>
<ellipse cx="244.4" cy="152.5" rx="1.1" ry="1.0" fill="#3a4e5b" transform="rotate(0 244.4 152.5)"/>
<ellipse cx="223.9" cy="152.7" rx="1.3" ry="1.1" fill="#3a4e5b" transform="rotate(0 223.9 152.7)"/>
<ellipse cx="218.1" cy="158.6" rx="1.3" ry="1.1" fill="#3a4e5b" transform="rotate(0 218.1 158.6)"/>
<ellipse cx="226.2" cy="159.2" rx="2.2" ry="1.3" fill="#3a4e5b" transform="rotate(0 226.2 159.2)"/>
<ellipse cx="231.5" cy="161.7" rx="1.8" ry="1.4" fill="#3a4e5b" transform="rotate(30 231.5 161.7)"/>
<ellipse cx="222.8" cy="164.4" rx="2.0" ry="1.1" fill="#3a4e5b" transform="rotate(70 222.8 164.4)"/>
<ellipse cx="233.6" cy="167.2" rx="2.0" ry="1.2" fill="#3a4e5b" transform="rotate(45 233.6 167.2)"/>
<ellipse cx="240.9" cy="169.1" rx="4.2" ry="2.0" fill="#3a4e5b" transform="rotate(75 240.9 169.1)"/>
<ellipse cx="224.8" cy="171.5" rx="1.3" ry="1.1" fill="#3a4e5b" transform="rotate(0 224.8 171.5)"/>
<ellipse cx="236.8" cy="176.0" rx="1.3" ry="1.1" fill="#3a4e5b" transform="rotate(0 236.8 176.0)"/>
<ellipse cx="239.5" cy="186.1" rx="1.3" ry="1.1" fill="#3a4e5b" transform="rotate(0 239.5 186.1)"/>
<ellipse cx="236.8" cy="191.3" rx="1.8" ry="1.1" fill="#3a4e5b" transform="rotate(-50 236.8 191.3)"/>
<ellipse cx="298.8" cy="83.9" rx="1.3" ry="1.1" fill="#3a4e5b" transform="rotate(0 298.8 83.9)"/>
<ellipse cx="282.8" cy="129.5" rx="1.3" ry="1.1" fill="#3a4e5b" transform="rotate(0 282.8 129.5)"/>
<ellipse cx="275.6" cy="149.6" rx="1.3" ry="1.1" fill="#3a4e5b" transform="rotate(0 275.6 149.6)"/>
<ellipse cx="189.5" cy="136.0" rx="1.2" ry="1.0" fill="#3a4e5b" transform="rotate(0 189.5 136.0)"/>
<text x="157.70" y="98.20" font-size="5.8" text-anchor="start" fill="#2b2b2b" stroke="#2b2b2b" stroke-width="0.18">0.5</text>
<text x="155.50" y="81.20" font-size="5.8" text-anchor="start" fill="#2b2b2b" stroke="#2b2b2b" stroke-width="0.18">1</text>
<text x="166.80" y="112.30" font-size="5.8" text-anchor="start" fill="#2b2b2b" stroke="#2b2b2b" stroke-width="0.18">0</text>
<text x="151.40" y="113.90" font-size="9.2" text-anchor="start" fill="#161616" font-weight="bold" textLength="11.2" lengthAdjust="spacingAndGlyphs">Time</text>
<text x="174.20" y="125.40" font-size="5.8" text-anchor="middle" fill="#2b2b2b" transform="rotate(-30 174.20 125.40)" stroke="#2b2b2b" stroke-width="0.18">−0.5</text>
<text x="176.00" y="133.80" font-size="5.8" text-anchor="middle" fill="#2b2b2b" transform="rotate(-30 176.00 133.80)" stroke="#2b2b2b" stroke-width="0.18">−1</text>
<text x="179.60" y="141.20" font-size="5.8" text-anchor="middle" fill="#2b2b2b" transform="rotate(-30 179.60 141.20)" stroke="#2b2b2b" stroke-width="0.18">20</text>
<text x="182.40" y="149.30" font-size="5.8" text-anchor="middle" fill="#2b2b2b" transform="rotate(-22 182.40 149.30)" stroke="#2b2b2b" stroke-width="0.18">15</text>
<text x="184.90" y="159.30" font-size="5.8" text-anchor="middle" fill="#2b2b2b" transform="rotate(-22 184.90 159.30)" stroke="#2b2b2b" stroke-width="0.18">10</text>
<text x="188.00" y="170.50" font-size="5.8" text-anchor="middle" fill="#2b2b2b" transform="rotate(-22 188.00 170.50)" stroke="#2b2b2b" stroke-width="0.18">5</text>
<text x="191.30" y="182.20" font-size="5.8" text-anchor="middle" fill="#2b2b2b" transform="rotate(-22 191.30 182.20)" stroke="#2b2b2b" stroke-width="0.18">0</text>
<text x="175.00" y="173.40" font-size="8.13" text-anchor="middle" fill="#161616" font-weight="bold" textLength="19" lengthAdjust="spacingAndGlyphs" transform="rotate(68 175.00 173.40)">UMAP2</text>
<text x="275.50" y="190.50" font-size="5.8" text-anchor="middle" fill="#2b2b2b" transform="rotate(62 275.50 190.50)" stroke="#2b2b2b" stroke-width="0.18">15</text>
<text x="289.30" y="183.50" font-size="5.8" text-anchor="middle" fill="#2b2b2b" transform="rotate(62 289.30 183.50)" stroke="#2b2b2b" stroke-width="0.18">20</text>
<text x="264.00" y="196.50" font-size="5.8" text-anchor="middle" fill="#2b2b2b" transform="rotate(62 264.00 196.50)" stroke="#2b2b2b" stroke-width="0.18">1</text>
<text x="11.50" y="144.60" font-size="10.8" font-weight="bold" fill="#111" stroke="#111" stroke-width="0.35">C</text>
<text x="76.90" y="171.50" font-size="5.93" text-anchor="middle" fill="#2b2b2b" stroke="#2b2b2b" stroke-width="0.18">Distribution of Recall Donors Oxidative</text>
<text x="76.90" y="178.50" font-size="5.93" text-anchor="middle" fill="#2b2b2b" stroke="#2b2b2b" stroke-width="0.18">Hemolysis by GPX4 SNPs</text>
<line x1="29.10" y1="183.50" x2="29.10" y2="232.00" stroke="#dcdcdc" stroke-width="0.6" />
<line x1="53.20" y1="183.50" x2="53.20" y2="232.00" stroke="#dcdcdc" stroke-width="0.6" />
<line x1="77.30" y1="183.50" x2="77.30" y2="232.00" stroke="#dcdcdc" stroke-width="0.6" />
<line x1="101.40" y1="183.50" x2="101.40" y2="232.00" stroke="#dcdcdc" stroke-width="0.6" />
<line x1="125.50" y1="183.50" x2="125.50" y2="232.00" stroke="#dcdcdc" stroke-width="0.6" />
<line x1="25.00" y1="198.20" x2="137.00" y2="198.20" stroke="#dcdcdc" stroke-width="0.6" />
<line x1="25.00" y1="211.10" x2="137.00" y2="211.10" stroke="#dcdcdc" stroke-width="0.6" />
<line x1="25.00" y1="224.20" x2="137.00" y2="224.20" stroke="#dcdcdc" stroke-width="0.6" />
<polygon points="50.79,198.20 51.46,198.16 52.36,198.12 53.44,198.08 54.63,198.02 55.87,197.95 57.09,197.86 58.23,197.74 59.23,197.60 60.11,197.43 60.96,197.25 61.77,197.04 62.54,196.82 63.27,196.57 63.97,196.30 64.63,196.01 65.25,195.70 65.81,195.35 66.31,194.97 66.76,194.56 67.17,194.13 67.57,193.69 67.98,193.25 68.40,192.82 68.87,192.40 69.36,192.02 69.88,191.67 70.40,191.33 70.94,190.99 71.47,190.63 72.01,190.22 72.55,189.75 73.08,189.20 73.61,188.46 74.14,187.50 74.66,186.43 75.19,185.34 75.72,184.33 76.25,183.50 76.77,182.96 77.30,182.80 77.81,183.09 78.31,183.78 78.80,184.75 79.29,185.90 79.79,187.13 80.33,188.32 80.90,189.38 81.52,190.20 82.19,190.81 82.89,191.31 83.63,191.73 84.39,192.10 85.19,192.43 86.00,192.74 86.82,193.06 87.66,193.40 88.55,193.76 89.49,194.12 90.48,194.46 91.47,194.80 92.45,195.12 93.38,195.43 94.25,195.73 95.01,196.00 95.67,196.25 96.23,196.49 96.71,196.72 97.16,196.93 97.59,197.12 98.02,197.29 98.48,197.45 98.99,197.60 99.59,197.73 100.25,197.83 100.95,197.92 101.65,198.00 102.32,198.06 102.92,198.12 103.43,198.16 103.81,198.20" fill="#d4ebf4" />
<polyline points="50.79,198.20 51.46,198.16 52.36,198.12 53.44,198.08 54.63,198.02 55.87,197.95 57.09,197.86 58.23,197.74 59.23,197.60 60.11,197.43 60.96,197.25 61.77,197.04 62.54,196.82 63.27,196.57 63.97,196.30 64.63,196.01 65.25,195.70 65.81,195.35 66.31,194.97 66.76,194.56 67.17,194.13 67.57,193.69 67.98,193.25 68.40,192.82 68.87,192.40 69.36,192.02 69.88,191.67 70.40,191.33 70.94,190.99 71.47,190.63 72.01,190.22 72.55,189.75 73.08,189.20 73.61,188.46 74.14,187.50 74.66,186.43 75.19,185.34 75.72,184.33 76.25,183.50 76.77,182.96 77.30,182.80 77.81,183.09 78.31,183.78 78.80,184.75 79.29,185.90 79.79,187.13 80.33,188.32 80.90,189.38 81.52,190.20 82.19,190.81 82.89,191.31 83.63,191.73 84.39,192.10 85.19,192.43 86.00,192.74 86.82,193.06 87.66,193.40 88.55,193.76 89.49,194.12 90.48,194.46 91.47,194.80 92.45,195.12 93.38,195.43 94.25,195.73 95.01,196.00 95.67,196.25 96.23,196.49 96.71,196.72 97.16,196.93 97.59,197.12 98.02,197.29 98.48,197.45 98.99,197.60 99.59,197.73 100.25,197.83 100.95,197.92 101.65,198.00 102.32,198.06 102.92,198.12 103.43,198.16 103.81,198.20" stroke="#ffffff" fill="none" stroke-width="0.3" stroke-opacity="0.4"/>
<polygon points="49.59,211.10 50.03,211.06 50.59,211.04 51.25,211.01 52.01,210.96 52.84,210.88 53.73,210.76 54.65,210.57 55.61,210.30 56.65,209.93 57.82,209.46 59.08,208.92 60.37,208.34 61.65,207.74 62.89,207.15 64.02,206.59 65.01,206.10 65.85,205.66 66.58,205.25 67.22,204.86 67.80,204.49 68.35,204.13 68.90,203.78 69.46,203.44 70.07,203.10 70.71,202.75 71.36,202.37 72.00,201.99 72.65,201.63 73.30,201.30 73.95,201.03 74.60,200.82 75.25,200.70 75.90,200.71 76.54,200.85 77.19,201.08 77.83,201.36 78.48,201.63 79.13,201.86 79.78,201.99 80.43,202.00 81.09,201.82 81.76,201.49 82.43,201.05 83.11,200.57 83.78,200.12 84.44,199.75 85.09,199.52 85.74,199.50 86.36,199.71 86.98,200.10 87.59,200.62 88.20,201.24 88.80,201.89 89.39,202.53 89.97,203.12 90.56,203.60 91.12,203.99 91.68,204.33 92.22,204.63 92.76,204.92 93.30,205.20 93.86,205.48 94.42,205.77 95.01,206.10 95.62,206.46 96.24,206.85 96.87,207.25 97.51,207.65 98.16,208.05 98.82,208.43 99.50,208.78 100.19,209.10 100.92,209.38 101.70,209.65 102.50,209.89 103.31,210.12 104.10,210.32 104.86,210.50 105.58,210.66 106.22,210.80 106.81,210.91 107.38,210.98 107.91,211.03 108.40,211.06 108.85,211.07 109.24,211.08 109.57,211.09 109.84,211.10" fill="#a7cde4" />
<polyline points="49.59,211.10 50.03,211.06 50.59,211.04 51.25,211.01 52.01,210.96 52.84,210.88 53.73,210.76 54.65,210.57 55.61,210.30 56.65,209.93 57.82,209.46 59.08,208.92 60.37,208.34 61.65,207.74 62.89,207.15 64.02,206.59 65.01,206.10 65.85,205.66 66.58,205.25 67.22,204.86 67.80,204.49 68.35,204.13 68.90,203.78 69.46,203.44 70.07,203.10 70.71,202.75 71.36,202.37 72.00,201.99 72.65,201.63 73.30,201.30 73.95,201.03 74.60,200.82 75.25,200.70 75.90,200.71 76.54,200.85 77.19,201.08 77.83,201.36 78.48,201.63 79.13,201.86 79.78,201.99 80.43,202.00 81.09,201.82 81.76,201.49 82.43,201.05 83.11,200.57 83.78,200.12 84.44,199.75 85.09,199.52 85.74,199.50 86.36,199.71 86.98,200.10 87.59,200.62 88.20,201.24 88.80,201.89 89.39,202.53 89.97,203.12 90.56,203.60 91.12,203.99 91.68,204.33 92.22,204.63 92.76,204.92 93.30,205.20 93.86,205.48 94.42,205.77 95.01,206.10 95.62,206.46 96.24,206.85 96.87,207.25 97.51,207.65 98.16,208.05 98.82,208.43 99.50,208.78 100.19,209.10 100.92,209.38 101.70,209.65 102.50,209.89 103.31,210.12 104.10,210.32 104.86,210.50 105.58,210.66 106.22,210.80 106.81,210.91 107.38,210.98 107.91,211.03 108.40,211.06 108.85,211.07 109.24,211.08 109.57,211.09 109.84,211.10" stroke="#ffffff" fill="none" stroke-width="0.3" stroke-opacity="0.4"/>
<polygon points="41.15,224.20 41.51,224.18 41.96,224.16 42.50,224.14 43.11,224.11 43.77,224.08 44.48,224.03 45.22,223.97 45.97,223.90 46.76,223.81 47.62,223.72 48.53,223.61 49.46,223.49 50.42,223.36 51.37,223.22 52.30,223.06 53.20,222.90 54.08,222.73 54.95,222.54 55.83,222.34 56.69,222.13 57.54,221.91 58.37,221.68 59.18,221.45 59.95,221.20 60.67,220.95 61.34,220.69 61.97,220.43 62.58,220.16 63.20,219.87 63.84,219.57 64.52,219.24 65.25,218.90 66.05,218.52 66.90,218.11 67.78,217.67 68.68,217.21 69.60,216.76 70.50,216.31 71.39,215.89 72.24,215.50 73.06,215.13 73.86,214.77 74.64,214.42 75.42,214.09 76.19,213.77 76.96,213.48 77.73,213.22 78.50,213.00 79.30,212.80 80.11,212.61 80.93,212.45 81.74,212.32 82.54,212.22 83.32,212.16 84.07,212.15 84.77,212.20 85.41,212.31 86.00,212.47 86.55,212.69 87.08,212.95 87.60,213.24 88.14,213.55 88.72,213.87 89.35,214.20 90.03,214.54 90.75,214.92 91.50,215.32 92.27,215.74 93.05,216.16 93.83,216.59 94.61,217.00 95.38,217.40 96.13,217.79 96.88,218.18 97.63,218.57 98.39,218.96 99.14,219.34 99.89,219.70 100.65,220.06 101.40,220.40 102.15,220.73 102.91,221.05 103.66,221.36 104.41,221.66 105.17,221.95 105.92,222.22 106.67,222.47 107.43,222.70 108.19,222.91 108.96,223.10 109.74,223.27 110.51,223.42 111.28,223.56 112.03,223.69 112.75,223.80 113.45,223.90 114.14,223.98 114.85,224.05 115.56,224.09 116.24,224.12 116.87,224.15 117.43,224.17 117.91,224.18 118.27,224.20" fill="#7297bb" />
<polyline points="41.15,224.20 41.51,224.18 41.96,224.16 42.50,224.14 43.11,224.11 43.77,224.08 44.48,224.03 45.22,223.97 45.97,223.90 46.76,223.81 47.62,223.72 48.53,223.61 49.46,223.49 50.42,223.36 51.37,223.22 52.30,223.06 53.20,222.90 54.08,222.73 54.95,222.54 55.83,222.34 56.69,222.13 57.54,221.91 58.37,221.68 59.18,221.45 59.95,221.20 60.67,220.95 61.34,220.69 61.97,220.43 62.58,220.16 63.20,219.87 63.84,219.57 64.52,219.24 65.25,218.90 66.05,218.52 66.90,218.11 67.78,217.67 68.68,217.21 69.60,216.76 70.50,216.31 71.39,215.89 72.24,215.50 73.06,215.13 73.86,214.77 74.64,214.42 75.42,214.09 76.19,213.77 76.96,213.48 77.73,213.22 78.50,213.00 79.30,212.80 80.11,212.61 80.93,212.45 81.74,212.32 82.54,212.22 83.32,212.16 84.07,212.15 84.77,212.20 85.41,212.31 86.00,212.47 86.55,212.69 87.08,212.95 87.60,213.24 88.14,213.55 88.72,213.87 89.35,214.20 90.03,214.54 90.75,214.92 91.50,215.32 92.27,215.74 93.05,216.16 93.83,216.59 94.61,217.00 95.38,217.40 96.13,217.79 96.88,218.18 97.63,218.57 98.39,218.96 99.14,219.34 99.89,219.70 100.65,220.06 101.40,220.40 102.15,220.73 102.91,221.05 103.66,221.36 104.41,221.66 105.17,221.95 105.92,222.22 106.67,222.47 107.43,222.70 108.19,222.91 108.96,223.10 109.74,223.27 110.51,223.42 111.28,223.56 112.03,223.69 112.75,223.80 113.45,223.90 114.14,223.98 114.85,224.05 115.56,224.09 116.24,224.12 116.87,224.15 117.43,224.17 117.91,224.18 118.27,224.20" stroke="#ffffff" fill="none" stroke-width="0.3" stroke-opacity="0.4"/>
<text x="22.80" y="200.60" font-size="6.3" text-anchor="end" fill="#2b2b2b" stroke="#2b2b2b" stroke-width="0.18">HR</text>
<text x="22.80" y="213.50" font-size="6.3" text-anchor="end" fill="#2b2b2b" stroke="#2b2b2b" stroke-width="0.18">HET</text>
<text x="22.80" y="226.60" font-size="6.3" text-anchor="end" fill="#2b2b2b" stroke="#2b2b2b" stroke-width="0.18">HD</text>
<text x="29.10" y="240.20" font-size="6.5" text-anchor="middle" fill="#2b2b2b" stroke="#2b2b2b" stroke-width="0.18">0</text>
<text x="53.20" y="240.20" font-size="6.5" text-anchor="middle" fill="#2b2b2b" stroke="#2b2b2b" stroke-width="0.18">20</text>
<text x="77.30" y="240.20" font-size="6.5" text-anchor="middle" fill="#2b2b2b" stroke="#2b2b2b" stroke-width="0.18">40</text>
<text x="101.40" y="240.20" font-size="6.5" text-anchor="middle" fill="#2b2b2b" stroke="#2b2b2b" stroke-width="0.18">60</text>
<text x="125.50" y="240.20" font-size="6.5" text-anchor="middle" fill="#2b2b2b" stroke="#2b2b2b" stroke-width="0.18">80</text>
<text x="78.00" y="251.50" font-size="8.56" text-anchor="middle" fill="#161616" font-weight="bold" textLength="55" lengthAdjust="spacingAndGlyphs">Oxidative hemolysis %</text>
<text x="11.80" y="282.30" font-size="10.8" font-weight="bold" fill="#111" stroke="#111" stroke-width="0.35">D</text>
<text x="98.75" y="293.20" font-size="6.0" text-anchor="middle" fill="#2b2b2b" stroke="#2b2b2b" stroke-width="0.18">Oxidative Hemolysis (%)</text>
<text x="61.00" y="303.20" font-size="6.0" text-anchor="middle" fill="#2b2b2b" stroke="#2b2b2b" stroke-width="0.18">10</text>
<text x="101.30" y="303.20" font-size="6.0" text-anchor="middle" fill="#2b2b2b" stroke="#2b2b2b" stroke-width="0.18">23</text>
<text x="141.30" y="303.20" font-size="6.0" text-anchor="middle" fill="#2b2b2b" stroke="#2b2b2b" stroke-width="0.18">42</text>
<text x="148.80" y="303.20" font-size="6.0" text-anchor="start" fill="#2b2b2b" stroke="#2b2b2b" stroke-width="0.18">Day</text>
<line x1="39.80" y1="307.50" x2="39.80" y2="397.20" stroke="#1a1a1a" stroke-width="1.0" />
<line x1="36.00" y1="384.10" x2="39.80" y2="384.10" stroke="#1a1a1a" stroke-width="0.8" />
<text x="33.90" y="386.26" font-size="6.0" text-anchor="end" fill="#2b2b2b" stroke="#2b2b2b" stroke-width="0.18">25</text>
<line x1="36.00" y1="365.90" x2="39.80" y2="365.90" stroke="#1a1a1a" stroke-width="0.8" />
<text x="33.90" y="368.06" font-size="6.0" text-anchor="end" fill="#2b2b2b" stroke="#2b2b2b" stroke-width="0.18">50</text>
<line x1="36.00" y1="347.70" x2="39.80" y2="347.70" stroke="#1a1a1a" stroke-width="0.8" />
<text x="33.90" y="349.86" font-size="6.0" text-anchor="end" fill="#2b2b2b" stroke="#2b2b2b" stroke-width="0.18">75</text>
<line x1="36.00" y1="329.50" x2="39.80" y2="329.50" stroke="#1a1a1a" stroke-width="0.8" />
<text x="33.90" y="331.66" font-size="6.0" text-anchor="end" fill="#2b2b2b" stroke="#2b2b2b" stroke-width="0.18">100</text>
<line x1="36.00" y1="311.30" x2="39.80" y2="311.30" stroke="#1a1a1a" stroke-width="0.8" />
<text x="33.90" y="313.46" font-size="6.0" text-anchor="end" fill="#2b2b2b" stroke="#2b2b2b" stroke-width="0.18">125</text>
<line x1="39.30" y1="396.70" x2="158.80" y2="396.70" stroke="#1a1a1a" stroke-width="1.0" />
<line x1="48.00" y1="396.70" x2="48.00" y2="399.70" stroke="#1a1a1a" stroke-width="0.8" />
<line x1="60.00" y1="396.70" x2="60.00" y2="399.70" stroke="#1a1a1a" stroke-width="0.8" />
<line x1="72.00" y1="396.70" x2="72.00" y2="399.70" stroke="#1a1a1a" stroke-width="0.8" />
<line x1="88.75" y1="396.70" x2="88.75" y2="399.70" stroke="#1a1a1a" stroke-width="0.8" />
<line x1="100.75" y1="396.70" x2="100.75" y2="399.70" stroke="#1a1a1a" stroke-width="0.8" />
<line x1="113.00" y1="396.70" x2="113.00" y2="399.70" stroke="#1a1a1a" stroke-width="0.8" />
<line x1="129.25" y1="396.70" x2="129.25" y2="399.70" stroke="#1a1a1a" stroke-width="0.8" />
<line x1="141.25" y1="396.70" x2="141.25" y2="399.70" stroke="#1a1a1a" stroke-width="0.8" />
<line x1="153.75" y1="396.70" x2="153.75" y2="399.70" stroke="#1a1a1a" stroke-width="0.8" />
<text x="17.20" y="350.60" font-size="7.7" text-anchor="middle" fill="#161616" font-weight="bold" textLength="84" lengthAdjust="spacingAndGlyphs" transform="rotate(-90 17.20 350.60)">Recall transfer oxidative hemolysis</text>
<polygon points="48.00,358.62 48.24,358.83 48.56,359.09 48.95,359.41 49.37,359.79 49.79,360.23 50.18,360.73 50.57,361.31 50.98,361.98 51.39,362.71 51.78,363.47 52.13,364.23 52.42,364.95 52.65,365.66 52.85,366.36 53.00,367.06 53.11,367.77 53.18,368.47 53.20,369.18 53.18,369.88 53.11,370.58 53.00,371.29 52.85,371.99 52.65,372.69 52.42,373.40 52.13,374.13 51.78,374.88 51.39,375.64 50.98,376.37 50.57,377.04 50.18,377.62 49.79,378.12 49.37,378.56 48.95,378.94 48.56,379.26 48.24,379.53 48.00,379.73 48.00,379.73 47.76,379.53 47.44,379.26 47.05,378.94 46.63,378.56 46.21,378.12 45.82,377.62 45.43,377.04 45.02,376.37 44.61,375.64 44.22,374.88 43.87,374.13 43.58,373.40 43.35,372.69 43.15,371.99 43.00,371.29 42.89,370.58 42.82,369.88 42.80,369.18 42.82,368.47 42.89,367.77 43.00,367.06 43.15,366.36 43.35,365.66 43.58,364.95 43.87,364.23 44.22,363.47 44.61,362.71 45.02,361.98 45.43,361.31 45.82,360.73 46.21,360.23 46.63,359.79 47.05,359.41 47.44,359.09 47.76,358.83 48.00,358.62" fill="#f6fafd" stroke="#7f9fb8" stroke-width="0.75"/>
<path d="M48.4 380.1h0M46.9 367.2h0M47.9 362.3h0M47.7 374.4h0M47.7 380.9h0M48.0 370.8h0M48.6 366.4h0M48.0 361.5h0M47.9 380.0h0M47.7 380.6h0M47.9 364.6h0M48.5 366.5h0M47.8 358.0h0M47.4 362.4h0M47.4 371.1h0M47.4 372.5h0M47.3 349.7h0M48.5 372.6h0M48.2 376.6h0M47.9 379.4h0M48.7 369.5h0M47.7 369.1h0M48.4 373.0h0M48.4 370.8h0M47.2 368.1h0M47.2 364.7h0M47.5 361.5h0M48.5 368.6h0M48.6 384.6h0M47.4 364.6h0M48.5 381.6h0M47.8 371.6h0M47.8 382.1h0M47.7 370.3h0M47.8 376.5h0M47.1 368.6h0M47.5 370.7h0M47.4 363.5h0M48.2 380.9h0M49.0 372.6h0M49.1 365.0h0M47.8 371.0h0M47.1 367.3h0M47.8 369.4h0M47.5 378.3h0M49.0 365.8h0M48.3 376.8h0M47.6 355.3h0M48.5 374.3h0M48.3 364.8h0M47.2 370.2h0M47.7 362.6h0M47.9 375.1h0M48.0 362.3h0M48.1 371.3h0M47.8 360.2h0M48.1 365.3h0M47.7 369.1h0M47.6 376.5h0M48.8 364.1h0M48.2 366.5h0M48.2 357.1h0M47.2 373.3h0M47.9 365.8h0M48.4 366.2h0M47.4 368.0h0M48.5 368.6h0M47.8 368.8h0M48.2 375.1h0M47.9 378.4h0M48.1 373.4h0M48.6 365.5h0M47.8 358.2h0M48.8 362.4h0M47.6 361.8h0M47.5 364.0h0M48.4 364.7h0M47.5 368.8h0M47.8 364.1h0M48.5 356.1h0M48.6 372.9h0M47.1 375.8h0M48.3 354.6h0M48.9 368.3h0M48.6 362.5h0M47.9 363.3h0M47.7 379.4h0M47.9 350.8h0M47.4 356.0h0M47.9 368.9h0M47.9 364.2h0M47.9 369.3h0M48.6 377.3h0M47.9 371.2h0M47.3 367.3h0M48.5 361.3h0M47.5 364.6h0M47.8 369.8h0M47.9 359.4h0M47.8 376.4h0M47.5 363.9h0M47.9 361.4h0M49.1 372.6h0M47.7 384.6h0M47.9 377.5h0M48.6 368.4h0M48.4 366.0h0M48.4 357.9h0M48.4 378.3h0M47.0 370.3h0M47.6 365.1h0M48.1 371.5h0M48.2 389.2h0M48.6 363.8h0M48.2 351.8h0M47.9 362.2h0M48.0 377.6h0M47.9 373.6h0M48.1 368.5h0M48.3 350.3h0M47.8 365.3h0M47.6 369.4h0M47.6 357.8h0M48.5 370.9h0M48.6 355.4h0M48.5 375.8h0M48.4 374.1h0M48.4 364.5h0M48.0 358.9h0M48.3 365.0h0M47.5 367.9h0M47.9 384.9h0M47.6 376.0h0M48.4 375.2h0M47.7 374.5h0M47.9 365.6h0M48.2 373.0h0M48.7 364.0h0M47.6 369.6h0M47.5 372.9h0M48.4 369.3h0M47.4 366.8h0M48.2 363.4h0M47.7 374.1h0M47.9 372.1h0M47.1 381.2h0M48.4 357.4h0M47.7 358.6h0M47.6 371.7h0M49.0 374.1h0M48.4 380.2h0M49.1 368.9h0M48.2 368.6h0M47.8 352.8h0M48.1 368.3h0M48.8 376.5h0M48.0 389.8h0M48.2 359.0h0M48.3 368.8h0M47.5 383.2h0M48.1 368.8h0M47.7 383.1h0M47.4 361.3h0M48.4 365.7h0M48.3 371.7h0M48.0 387.4h0M47.5 371.3h0M47.0 382.7h0M48.2 365.5h0M48.0 387.4h0M47.2 377.5h0M48.0 360.5h0M47.2 357.1h0M48.0 379.7h0M48.1 382.6h0M48.2 363.2h0M48.1 363.4h0M48.1 378.2h0M47.4 375.8h0M47.8 375.8h0M47.7 379.8h0M47.9 375.7h0M48.1 360.3h0M48.3 364.7h0M48.8 353.8h0M46.9 371.0h0M48.2 371.4h0M47.9 378.1h0M49.1 371.3h0M48.5 380.8h0M47.2 384.5h0M48.2 364.7h0M47.7 358.7h0M48.5 363.6h0M47.5 359.6h0M47.9 368.2h0M47.9 376.0h0M48.0 369.6h0M47.7 373.3h0M47.1 379.2h0M48.2 383.8h0M48.5 382.1h0M48.0 370.3h0M47.5 369.1h0M48.1 374.1h0M48.3 358.8h0M47.9 368.8h0M48.0 365.6h0M48.7 360.5h0M47.4 376.8h0M47.7 386.0h0M47.0 364.2h0M47.7 375.8h0M47.6 359.8h0M47.5 367.6h0M47.7 362.2h0M48.9 364.2h0M47.9 386.9h0M47.9 364.5h0M49.1 375.7h0M48.0 376.3h0M47.1 373.8h0M48.2 364.1h0M47.5 363.2h0M48.8 362.2h0M47.4 383.6h0M47.7 375.0h0M47.2 389.3h0M48.0 371.1h0M47.5 365.5h0M48.0 376.4h0M47.8 368.3h0M47.7 368.4h0M48.5 362.2h0M48.5 376.8h0M48.0 376.9h0M47.5 376.4h0M47.5 356.2h0M48.1 361.5h0M49.1 371.3h0M47.8 368.5h0M47.6 369.4h0M47.7 368.6h0M47.5 371.9h0M47.5 372.9h0M47.9 380.3h0M48.7 375.4h0M48.0 357.1h0M47.7 366.0h0M47.2 369.7h0M48.1 372.0h0M48.0 369.8h0M47.4 367.4h0M47.5 375.4h0M48.0 368.7h0M48.5 368.3h0M48.3 376.3h0M48.1 376.6h0M47.8 378.3h0M48.2 378.8h0M48.0 390.7h0M49.1 345.5h0" stroke="#111" stroke-width="1.3" stroke-linecap="round" fill="none"/>
<rect x="46.50" y="367.05" width="3.00" height="6.44" fill="#e3eef6" stroke="none" stroke-width="1" fill-opacity="0.85"/>
<circle cx="48.00" cy="370.27" r="0.9" fill="#111"/>
<polygon points="60.00,360.80 60.23,360.98 60.55,361.21 60.93,361.49 61.34,361.82 61.76,362.19 62.14,362.62 62.52,363.13 62.92,363.70 63.32,364.33 63.71,364.98 64.05,365.64 64.33,366.26 64.56,366.87 64.75,367.48 64.90,368.08 65.01,368.69 65.08,369.30 65.10,369.90 65.08,370.51 65.01,371.12 64.90,371.72 64.75,372.33 64.56,372.94 64.33,373.54 64.05,374.17 63.71,374.82 63.32,375.48 62.92,376.11 62.52,376.68 62.14,377.18 61.76,377.61 61.34,377.99 60.93,378.32 60.55,378.60 60.23,378.83 60.00,379.00 60.00,379.00 59.77,378.83 59.45,378.60 59.07,378.32 58.66,377.99 58.24,377.61 57.86,377.18 57.48,376.68 57.08,376.11 56.68,375.48 56.29,374.82 55.95,374.17 55.67,373.54 55.44,372.94 55.25,372.33 55.10,371.72 54.99,371.12 54.92,370.51 54.90,369.90 54.92,369.30 54.99,368.69 55.10,368.08 55.25,367.48 55.44,366.87 55.67,366.26 55.95,365.64 56.29,364.98 56.68,364.33 57.08,363.70 57.48,363.13 57.86,362.62 58.24,362.19 58.66,361.82 59.07,361.49 59.45,361.21 59.77,360.98 60.00,360.80" fill="#bedaef" stroke="#5f8db0" stroke-width="0.75"/>
<path d="M60.3 380.9h0M60.1 374.2h0M60.8 359.9h0M59.7 373.3h0M59.8 358.5h0M60.2 371.4h0M60.4 369.7h0M60.4 374.2h0M60.7 383.1h0M59.8 379.5h0M60.6 351.6h0M60.2 365.4h0M59.5 365.7h0M59.9 362.7h0M61.0 366.0h0M60.4 362.1h0M59.8 373.3h0M58.9 372.9h0M59.6 362.4h0M59.6 374.1h0M60.0 382.6h0M61.1 373.0h0M60.4 375.8h0M60.2 365.6h0M59.5 377.3h0M59.4 380.3h0M59.9 373.9h0M59.8 357.4h0M61.1 371.4h0M59.8 369.6h0M59.7 370.9h0M60.6 368.4h0M60.0 362.9h0M59.4 358.8h0M60.6 385.4h0M59.8 359.1h0M59.3 371.0h0M60.2 373.8h0M60.2 350.0h0M59.8 372.5h0M60.3 354.0h0M60.4 362.5h0M59.6 380.0h0M59.0 366.7h0M58.9 364.6h0M59.9 372.1h0M60.6 391.3h0M60.5 374.0h0M60.7 372.7h0M60.9 380.7h0M60.0 355.0h0M60.5 373.1h0M59.2 374.4h0M60.3 373.6h0M60.2 377.8h0M60.0 377.8h0M59.8 370.2h0M59.4 368.3h0M60.1 375.4h0M60.6 371.8h0M59.8 383.1h0M60.3 366.4h0M59.7 377.5h0M60.1 369.1h0M59.5 378.9h0M60.2 375.5h0M59.9 369.1h0M60.2 381.6h0M59.7 349.4h0M59.4 371.3h0M59.8 371.6h0M60.5 377.4h0M60.8 357.1h0M59.8 358.9h0M60.4 368.4h0M60.4 382.9h0M60.2 375.4h0M59.2 365.6h0M60.2 375.5h0M59.5 381.3h0M60.6 381.4h0M60.4 377.7h0M60.3 370.9h0M58.9 376.7h0M60.3 370.8h0M60.3 355.5h0M59.4 380.1h0M60.5 368.0h0M60.0 370.2h0M59.9 372.2h0M59.6 361.9h0M59.5 373.9h0M59.8 373.8h0M61.1 374.3h0M60.1 371.9h0M60.1 359.8h0M59.7 364.2h0M59.7 382.7h0M59.7 374.9h0M59.6 378.0h0M60.4 363.9h0M59.9 369.0h0M60.4 363.2h0M59.4 371.5h0M60.5 387.7h0M60.0 367.1h0M60.3 369.0h0M59.9 366.6h0M59.6 382.4h0M60.6 370.3h0M59.8 377.0h0M59.9 377.0h0M59.6 367.9h0M60.1 367.9h0M59.8 378.8h0M60.1 386.0h0M60.2 392.6h0M59.7 376.0h0M59.3 361.2h0M60.2 371.5h0M60.5 390.7h0M60.3 378.5h0M59.4 367.3h0M60.3 356.4h0M60.2 360.8h0M60.1 367.8h0M60.2 369.3h0M59.8 380.3h0M60.1 374.9h0M60.5 373.9h0M59.7 377.8h0M59.3 370.4h0M59.9 374.4h0M60.1 368.1h0M59.1 358.5h0M59.7 364.5h0M60.3 367.3h0M59.9 373.1h0M60.0 384.3h0M59.4 372.0h0M60.5 366.2h0M60.9 379.8h0M59.9 360.0h0M59.6 373.9h0M59.4 367.7h0M60.4 373.9h0M60.1 382.0h0M59.6 352.9h0M60.6 381.1h0M60.4 363.0h0M60.3 375.9h0M59.1 368.6h0M59.9 378.0h0M60.3 374.6h0M59.4 363.0h0M60.5 354.0h0M60.7 378.4h0M60.5 370.9h0M59.6 362.7h0M59.6 376.5h0M60.5 364.8h0M60.5 377.9h0M60.6 365.7h0M60.6 367.2h0M60.0 360.4h0M59.8 367.8h0M59.1 381.4h0M60.4 365.2h0M61.1 380.6h0M59.8 364.4h0M59.8 357.8h0M60.3 365.8h0M60.2 375.8h0M59.3 360.6h0M59.6 369.5h0M59.5 381.9h0M61.0 374.1h0M59.6 358.6h0M60.4 373.7h0M61.0 369.9h0M60.9 374.0h0M60.7 385.7h0M60.8 375.5h0M59.4 367.9h0M59.8 369.2h0M59.6 372.5h0M59.9 389.6h0M61.1 360.3h0M59.2 364.7h0M60.3 362.1h0M59.4 359.6h0M60.7 374.9h0M60.6 376.3h0M59.7 368.2h0M61.0 356.4h0M60.0 385.7h0M60.7 373.0h0M60.2 377.2h0M59.7 366.1h0M59.8 358.2h0M59.9 373.6h0M60.3 381.8h0M60.1 370.6h0M61.1 373.5h0M59.9 384.5h0M59.8 363.3h0M59.6 375.6h0M59.6 365.0h0M59.3 382.5h0M59.5 361.4h0M60.5 383.6h0M60.0 361.8h0M59.9 386.8h0M60.2 358.9h0M60.5 374.3h0M60.3 384.6h0M60.4 373.0h0M59.7 368.0h0M59.9 379.6h0M59.6 375.3h0M60.0 368.6h0M59.6 372.5h0M59.8 374.8h0M59.9 367.3h0M59.9 368.4h0M59.9 362.2h0M59.8 377.0h0M60.7 364.0h0M59.8 368.3h0M59.5 361.5h0M60.1 362.7h0M59.5 370.1h0M59.5 376.4h0M60.0 362.0h0M59.2 367.3h0M58.9 387.5h0M60.1 380.6h0M60.5 366.9h0M59.2 370.0h0M59.6 368.6h0M60.3 396.5h0M59.0 349.2h0" stroke="#111" stroke-width="1.3" stroke-linecap="round" fill="none"/>
<rect x="58.50" y="367.48" width="3.00" height="7.02" fill="#d2e6f4" stroke="none" stroke-width="1" fill-opacity="0.85"/>
<circle cx="60.00" cy="371.00" r="0.9" fill="#111"/>
<polygon points="72.00,358.62 72.16,358.78 72.39,358.98 72.65,359.22 72.92,359.52 73.17,359.89 73.35,360.32 73.46,360.86 73.53,361.50 73.56,362.20 73.59,362.93 73.64,363.64 73.73,364.30 73.84,364.90 73.96,365.47 74.10,366.02 74.27,366.57 74.46,367.13 74.70,367.71 75.01,368.30 75.39,368.89 75.81,369.50 76.22,370.11 76.58,370.75 76.86,371.40 77.07,372.06 77.24,372.74 77.37,373.44 77.44,374.15 77.45,374.89 77.40,375.66 77.26,376.47 77.04,377.34 76.76,378.23 76.44,379.11 76.11,379.97 75.78,380.77 75.45,381.51 75.08,382.24 74.70,382.93 74.32,383.58 73.96,384.19 73.62,384.74 73.30,385.24 72.98,385.71 72.68,386.12 72.40,386.49 72.17,386.78 72.00,387.01 72.00,387.01 71.83,386.78 71.60,386.49 71.32,386.12 71.02,385.71 70.70,385.24 70.38,384.74 70.04,384.19 69.68,383.58 69.30,382.93 68.92,382.24 68.55,381.51 68.22,380.77 67.89,379.97 67.56,379.11 67.24,378.23 66.96,377.34 66.74,376.47 66.60,375.66 66.55,374.89 66.56,374.15 66.63,373.44 66.76,372.74 66.93,372.06 67.14,371.40 67.42,370.75 67.78,370.11 68.19,369.50 68.61,368.89 68.99,368.30 69.30,367.71 69.54,367.13 69.73,366.57 69.90,366.02 70.04,365.47 70.16,364.90 70.27,364.30 70.36,363.64 70.41,362.93 70.44,362.20 70.47,361.50 70.54,360.86 70.65,360.32 70.83,359.89 71.08,359.52 71.35,359.22 71.61,358.98 71.84,358.78 72.00,358.62" fill="#7097bd" stroke="#46709a" stroke-width="0.75"/>
<path d="M72.0 377.5h0M72.9 379.5h0M72.3 373.6h0M72.2 383.9h0M72.0 367.2h0M71.6 373.3h0M71.9 370.7h0M72.6 374.4h0M72.4 384.8h0M73.0 373.3h0M72.1 380.3h0M72.0 372.4h0M71.2 377.4h0M72.2 374.3h0M71.1 373.7h0M72.8 368.0h0M71.7 368.0h0M72.0 378.3h0M71.3 372.5h0M71.8 364.0h0M71.5 369.6h0M72.6 376.7h0M72.1 373.2h0M71.4 374.5h0M71.0 367.0h0M72.0 372.3h0M71.8 370.3h0M71.4 359.6h0M72.3 380.5h0M71.9 378.4h0M72.1 382.5h0M71.7 381.7h0M71.7 367.5h0M71.8 370.7h0M71.2 363.0h0M72.3 384.0h0M72.2 377.6h0M71.1 364.0h0M72.1 366.5h0M72.6 367.3h0M72.1 367.4h0M72.6 372.3h0M71.9 372.5h0M72.0 372.3h0M71.4 367.5h0M71.5 373.4h0M71.1 370.6h0M71.6 364.0h0M72.1 379.0h0M72.3 376.8h0M72.6 369.2h0M72.1 374.0h0M71.5 373.4h0M72.2 360.2h0M71.9 370.0h0M72.9 374.9h0M73.0 366.1h0M72.5 378.9h0M71.4 376.4h0M71.7 371.8h0M72.1 376.2h0M71.6 359.8h0M72.3 369.4h0M72.3 374.8h0M72.4 369.6h0M72.1 377.1h0M71.6 376.0h0M71.6 371.8h0M71.9 385.6h0M72.7 370.0h0M72.8 364.6h0M72.5 368.1h0M72.2 361.3h0M72.3 369.8h0M72.4 371.6h0M72.6 373.2h0M72.4 377.4h0M71.2 362.9h0M72.5 379.3h0M72.2 373.2h0M71.8 375.5h0M72.3 377.0h0M72.1 385.4h0M72.0 374.7h0M71.2 371.7h0M72.1 371.6h0M72.3 367.5h0M72.0 373.4h0M71.2 376.2h0M72.2 370.7h0M72.4 368.6h0M72.1 377.7h0M72.2 381.3h0M71.8 378.4h0M71.7 366.3h0M72.3 366.6h0M71.8 377.6h0M72.1 371.8h0M73.1 367.6h0M72.4 364.7h0M72.1 376.3h0M71.2 373.8h0M72.0 364.2h0M72.4 363.5h0M71.6 379.1h0M71.9 369.8h0M70.9 374.2h0M72.3 372.8h0M71.7 376.3h0M72.3 375.2h0M72.7 387.0h0M71.9 358.6h0" stroke="#111" stroke-width="1.3" stroke-linecap="round" fill="none"/>
<rect x="70.50" y="370.11" width="3.00" height="4.68" fill="#9bb8d2" stroke="none" stroke-width="1" fill-opacity="0.85"/>
<circle cx="72.00" cy="372.45" r="0.9" fill="#111"/>
<polyline points="60.00,316.60 60.00,315.00 72.00,315.00 72.00,316.60" stroke="#555" fill="none" stroke-width="0.7" />
<text x="66.00" y="313.80" font-size="6.0" text-anchor="middle" fill="#333" stroke="#333" stroke-width="0.18">ns</text>
<polyline points="48.00,327.35 48.00,325.75 72.00,325.75 72.00,327.35" stroke="#555" fill="none" stroke-width="0.7" />
<text x="60.00" y="324.55" font-size="6.0" text-anchor="middle" fill="#333" stroke="#333" stroke-width="0.18">*</text>
<polyline points="48.00,339.10 48.00,337.50 60.00,337.50 60.00,339.10" stroke="#555" fill="none" stroke-width="0.7" />
<text x="54.00" y="336.30" font-size="6.0" text-anchor="middle" fill="#333" stroke="#333" stroke-width="0.18">**</text>
<text x="50.90" y="406.90" font-size="6.5" text-anchor="end" fill="#2b2b2b" transform="rotate(-45 50.90 406.90)" stroke="#2b2b2b" stroke-width="0.18">HD</text>
<text x="62.90" y="406.90" font-size="6.5" text-anchor="end" fill="#2b2b2b" transform="rotate(-45 62.90 406.90)" stroke="#2b2b2b" stroke-width="0.18">HET</text>
<text x="74.90" y="406.90" font-size="6.5" text-anchor="end" fill="#2b2b2b" transform="rotate(-45 74.90 406.90)" stroke="#2b2b2b" stroke-width="0.18">HR</text>
<polygon points="88.75,358.62 88.99,358.83 89.31,359.09 89.70,359.41 90.12,359.79 90.54,360.23 90.93,360.73 91.32,361.31 91.73,361.98 92.14,362.71 92.53,363.47 92.88,364.23 93.17,364.95 93.40,365.66 93.60,366.36 93.75,367.06 93.86,367.77 93.93,368.47 93.95,369.18 93.93,369.88 93.86,370.58 93.75,371.29 93.60,371.99 93.40,372.69 93.17,373.40 92.88,374.13 92.53,374.88 92.14,375.64 91.73,376.37 91.32,377.04 90.93,377.62 90.54,378.12 90.12,378.56 89.70,378.94 89.31,379.26 88.99,379.53 88.75,379.73 88.75,379.73 88.51,379.53 88.19,379.26 87.80,378.94 87.38,378.56 86.96,378.12 86.57,377.62 86.18,377.04 85.77,376.37 85.36,375.64 84.97,374.88 84.62,374.13 84.33,373.40 84.10,372.69 83.90,371.99 83.75,371.29 83.64,370.58 83.57,369.88 83.55,369.18 83.57,368.47 83.64,367.77 83.75,367.06 83.90,366.36 84.10,365.66 84.33,364.95 84.62,364.23 84.97,363.47 85.36,362.71 85.77,361.98 86.18,361.31 86.57,360.73 86.96,360.23 87.38,359.79 87.80,359.41 88.19,359.09 88.51,358.83 88.75,358.62" fill="#f6fafd" stroke="#7f9fb8" stroke-width="0.75"/>
<path d="M88.6 362.4h0M89.2 368.3h0M88.1 371.9h0M88.2 372.5h0M89.2 377.1h0M88.7 360.0h0M88.5 363.2h0M88.2 378.3h0M88.8 363.5h0M88.5 376.1h0M88.9 382.3h0M89.0 360.7h0M89.1 380.5h0M88.6 360.8h0M88.5 368.7h0M88.8 363.0h0M88.7 366.2h0M88.8 361.0h0M88.5 367.5h0M88.6 365.6h0M88.5 368.3h0M88.5 361.5h0M88.8 373.4h0M89.3 362.1h0M88.5 358.2h0M89.0 370.8h0M88.9 366.7h0M88.8 374.4h0M89.1 372.6h0M88.5 368.2h0M89.0 373.0h0M88.9 377.4h0M87.7 370.5h0M88.9 368.7h0M89.0 367.7h0M89.7 364.6h0M88.2 384.5h0M88.8 359.0h0M88.9 371.6h0M88.3 376.5h0M89.3 373.2h0M89.0 366.7h0M88.4 363.3h0M88.2 373.2h0M88.5 369.0h0M89.8 383.0h0M89.8 368.9h0M87.7 371.2h0M87.9 373.7h0M89.1 363.2h0M88.7 355.9h0M88.4 362.0h0M89.0 376.5h0M88.8 358.0h0M88.9 372.9h0M88.9 370.6h0M88.2 374.9h0M89.4 366.6h0M88.5 365.8h0M89.3 369.1h0M89.1 371.9h0M88.8 371.4h0M88.8 373.5h0M88.7 362.5h0M87.9 374.4h0M88.6 371.4h0M89.0 371.9h0M88.0 376.3h0M88.0 372.1h0M89.3 382.0h0M89.2 367.0h0M88.0 365.9h0M89.0 372.7h0M88.7 357.8h0M89.2 376.8h0M88.6 365.8h0M88.6 366.5h0M88.4 374.5h0M88.8 372.2h0M88.7 363.2h0M88.4 369.8h0M88.6 368.0h0M88.4 359.1h0M89.1 368.5h0M88.2 383.6h0M88.0 376.1h0M88.3 363.6h0M89.3 371.3h0M88.5 378.9h0M89.1 386.0h0M89.1 367.7h0M88.5 358.3h0M89.1 380.3h0M89.0 387.5h0M88.7 366.3h0M88.4 374.6h0M88.7 372.6h0M88.1 372.8h0M88.6 377.5h0M88.5 366.8h0M89.0 362.9h0M88.9 367.4h0M88.4 374.7h0M89.2 362.0h0M89.3 371.1h0M88.8 365.6h0M88.4 377.7h0M89.0 365.0h0M87.7 364.3h0M88.5 360.0h0M89.0 370.0h0M89.7 366.7h0M88.4 374.8h0M89.5 363.2h0M89.8 364.1h0M89.7 361.7h0M87.7 373.3h0M89.3 380.0h0M88.8 370.8h0M89.3 371.9h0M88.7 376.2h0M88.4 365.5h0M88.6 362.7h0M89.5 367.1h0M89.2 361.4h0M88.6 367.1h0M88.9 378.0h0M89.2 374.9h0M89.0 373.1h0M88.7 364.8h0M88.4 363.0h0M88.4 369.2h0M88.5 362.2h0M88.5 376.8h0M88.0 371.2h0M88.1 358.4h0M89.2 366.7h0M88.2 362.0h0M88.1 385.2h0M88.7 383.5h0M89.5 377.1h0M89.4 362.3h0M88.5 357.4h0M88.2 375.1h0M88.5 378.0h0M88.3 378.3h0M88.5 377.3h0M89.0 365.9h0M88.2 372.7h0M88.4 355.4h0M88.6 364.6h0M88.7 375.7h0M88.4 368.4h0M88.4 371.5h0M88.2 364.0h0M88.4 363.1h0M89.0 373.0h0M88.6 363.2h0M87.7 365.8h0M89.1 370.9h0M88.7 368.2h0M88.3 364.9h0M88.6 372.8h0M87.7 375.6h0M87.9 360.2h0M89.3 370.2h0M89.8 374.9h0M89.8 366.6h0M88.4 381.9h0M88.8 369.8h0M89.1 381.0h0M88.1 373.6h0M89.6 384.3h0M88.4 375.9h0M88.9 363.2h0M88.2 371.7h0M88.9 379.8h0M88.7 356.6h0M89.3 375.2h0M88.2 358.6h0M88.7 374.4h0M89.7 381.8h0M88.2 355.7h0M88.9 373.6h0M89.0 364.3h0M88.5 360.9h0M88.6 380.6h0M89.5 369.7h0M89.3 374.8h0M89.0 365.5h0M88.9 370.3h0M88.2 380.2h0M88.8 369.8h0M89.6 364.2h0M89.3 372.5h0M88.1 365.8h0M87.7 374.4h0M88.4 370.6h0M88.8 367.5h0M88.5 369.1h0M88.6 360.3h0M88.9 362.8h0M89.2 363.6h0M88.9 364.6h0M89.4 369.0h0M88.0 379.3h0M89.0 361.9h0M89.0 356.6h0M88.0 368.5h0M89.4 372.2h0M88.0 370.5h0M88.0 360.7h0M89.8 368.0h0M89.4 377.9h0M88.9 371.6h0M89.4 376.2h0M89.3 371.8h0M88.2 377.2h0M89.0 377.1h0M89.5 358.6h0M88.7 362.0h0M88.8 382.8h0M88.5 377.9h0M89.1 373.7h0M88.5 373.3h0M88.5 381.0h0M88.1 363.3h0M88.3 382.8h0M88.9 364.8h0M89.0 364.8h0M88.6 373.1h0M88.2 375.3h0M88.9 369.7h0M88.9 369.0h0M89.4 386.6h0M88.5 380.0h0M88.5 366.1h0M89.0 371.1h0M89.5 373.5h0M88.7 378.0h0M88.7 375.7h0M88.3 376.2h0M88.6 348.3h0M89.2 380.0h0M89.2 358.2h0M89.3 366.5h0M87.9 368.5h0M89.2 368.7h0M88.3 373.2h0M89.0 357.6h0M87.7 366.2h0M88.7 370.4h0M88.3 371.2h0M89.4 368.6h0M88.8 379.1h0M89.4 372.7h0M88.5 375.1h0M89.7 365.3h0M88.5 365.5h0M89.7 384.8h0M88.5 390.7h0M88.3 345.5h0" stroke="#111" stroke-width="1.3" stroke-linecap="round" fill="none"/>
<rect x="87.25" y="367.05" width="3.00" height="6.44" fill="#e3eef6" stroke="none" stroke-width="1" fill-opacity="0.85"/>
<circle cx="88.75" cy="370.27" r="0.9" fill="#111"/>
<polygon points="100.75,360.80 100.98,360.98 101.30,361.21 101.68,361.49 102.09,361.82 102.51,362.19 102.89,362.62 103.27,363.13 103.67,363.70 104.07,364.33 104.46,364.98 104.80,365.64 105.08,366.26 105.31,366.87 105.50,367.48 105.65,368.08 105.76,368.69 105.83,369.30 105.85,369.90 105.83,370.51 105.76,371.12 105.65,371.72 105.50,372.33 105.31,372.94 105.08,373.54 104.80,374.17 104.46,374.82 104.07,375.48 103.67,376.11 103.27,376.68 102.89,377.18 102.51,377.61 102.09,377.99 101.68,378.32 101.30,378.60 100.98,378.83 100.75,379.00 100.75,379.00 100.52,378.83 100.20,378.60 99.82,378.32 99.41,377.99 98.99,377.61 98.61,377.18 98.23,376.68 97.83,376.11 97.43,375.48 97.04,374.82 96.70,374.17 96.42,373.54 96.19,372.94 96.00,372.33 95.85,371.72 95.74,371.12 95.67,370.51 95.65,369.90 95.67,369.30 95.74,368.69 95.85,368.08 96.00,367.48 96.19,366.87 96.42,366.26 96.70,365.64 97.04,364.98 97.43,364.33 97.83,363.70 98.23,363.13 98.61,362.62 98.99,362.19 99.41,361.82 99.82,361.49 100.20,361.21 100.52,360.98 100.75,360.80" fill="#bedaef" stroke="#5f8db0" stroke-width="0.75"/>
<path d="M99.7 363.1h0M100.0 374.5h0M100.8 371.5h0M100.1 382.8h0M101.3 374.0h0M101.4 370.0h0M101.3 377.2h0M101.1 367.5h0M101.3 391.2h0M100.9 363.1h0M101.2 374.6h0M101.0 358.0h0M101.1 374.1h0M100.2 376.8h0M100.4 374.9h0M100.3 368.5h0M101.2 365.7h0M101.0 375.1h0M100.4 378.0h0M100.3 367.2h0M100.5 363.7h0M101.2 386.4h0M100.7 380.2h0M100.6 376.9h0M100.4 355.9h0M100.7 360.1h0M101.6 363.9h0M100.4 366.6h0M100.6 380.9h0M101.6 361.1h0M101.1 374.9h0M100.2 378.0h0M101.3 353.9h0M100.1 383.8h0M101.0 358.8h0M99.7 369.2h0M100.3 379.1h0M101.2 369.4h0M100.5 378.4h0M100.4 369.3h0M100.8 376.7h0M100.8 381.5h0M100.5 375.4h0M100.4 362.2h0M101.7 371.4h0M101.5 365.0h0M100.9 382.1h0M100.2 380.2h0M100.5 362.1h0M100.6 367.0h0M101.0 381.4h0M101.6 363.6h0M100.5 365.7h0M100.8 368.9h0M100.5 362.9h0M100.8 365.5h0M100.4 364.1h0M100.9 371.2h0M101.3 374.6h0M100.6 364.7h0M100.6 360.0h0M100.8 381.3h0M100.1 381.0h0M101.7 371.3h0M100.1 355.0h0M100.6 372.8h0M100.3 386.0h0M101.5 363.8h0M100.5 364.3h0M100.5 353.8h0M101.7 369.3h0M100.7 353.5h0M100.4 377.3h0M100.8 363.0h0M100.9 369.8h0M100.4 381.5h0M100.7 373.4h0M100.6 359.2h0M101.1 361.1h0M101.1 374.3h0M101.2 361.1h0M100.7 363.0h0M101.2 363.0h0M100.6 368.4h0M101.3 368.3h0M101.0 378.3h0M100.5 371.6h0M101.4 369.9h0M100.0 377.5h0M100.3 373.5h0M100.4 369.5h0M100.7 369.1h0M100.1 361.6h0M100.1 380.0h0M99.8 374.5h0M100.8 368.6h0M100.4 374.3h0M101.8 368.0h0M101.1 375.1h0M100.2 360.5h0M101.4 373.0h0M100.8 381.0h0M101.3 364.3h0M100.2 356.2h0M101.3 388.0h0M101.3 372.1h0M100.5 370.3h0M100.3 361.8h0M100.6 357.7h0M100.9 372.3h0M101.8 384.7h0M101.7 365.0h0M101.5 362.0h0M100.6 366.8h0M100.6 370.2h0M100.9 378.1h0M100.6 349.4h0M100.5 381.5h0M100.6 384.3h0M101.2 362.3h0M100.7 368.4h0M100.9 365.0h0M100.6 367.8h0M100.7 356.0h0M100.6 358.4h0M101.4 375.8h0M100.9 362.1h0M101.5 381.3h0M100.7 386.0h0M101.3 360.3h0M100.1 374.7h0M100.6 389.9h0M100.7 371.1h0M100.4 376.8h0M100.7 366.5h0M100.3 371.4h0M100.7 377.7h0M100.4 377.2h0M100.8 364.2h0M100.6 379.1h0M100.3 369.8h0M100.5 379.7h0M100.8 367.0h0M100.1 355.2h0M100.8 365.9h0M101.4 361.1h0M100.6 366.9h0M101.0 379.4h0M101.1 373.6h0M100.4 370.3h0M101.4 367.1h0M101.8 376.3h0M100.2 365.5h0M101.8 377.3h0M100.4 370.4h0M101.5 371.0h0M99.8 381.1h0M101.3 362.1h0M100.8 370.5h0M100.1 370.0h0M100.3 371.2h0M100.2 389.5h0M100.3 383.3h0M100.9 378.8h0M100.7 362.2h0M99.7 376.0h0M100.6 365.6h0M101.0 380.0h0M100.8 378.4h0M101.6 375.1h0M99.8 361.6h0M100.9 385.5h0M100.8 372.5h0M101.1 367.4h0M100.1 369.7h0M100.1 371.1h0M100.7 364.1h0M100.8 368.4h0M99.8 379.8h0M100.9 365.3h0M100.8 377.8h0M101.1 373.9h0M99.7 358.1h0M101.0 349.4h0M100.3 358.1h0M100.5 367.2h0M101.1 377.8h0M101.6 377.6h0M100.8 356.3h0M100.7 368.0h0M101.4 383.2h0M100.3 357.1h0M100.7 365.8h0M100.5 359.3h0M100.3 367.4h0M100.9 389.9h0M101.8 377.4h0M100.9 372.2h0M101.0 372.4h0M100.7 357.6h0M101.3 376.9h0M100.8 371.8h0M100.3 371.4h0M100.8 371.7h0M101.5 380.1h0M100.7 381.7h0M101.4 393.7h0M100.7 368.0h0M101.8 372.7h0M100.9 369.2h0M101.1 380.2h0M100.6 370.9h0M101.2 379.5h0M100.6 379.9h0M100.0 368.0h0M100.9 365.3h0M100.1 365.8h0M101.5 371.3h0M101.2 374.3h0M100.8 358.6h0M101.1 360.0h0M99.7 376.5h0M101.5 380.5h0M100.4 367.7h0M101.1 368.1h0M101.8 379.0h0M99.9 350.9h0M100.5 389.3h0M100.9 378.3h0M101.0 368.8h0M99.9 362.2h0M100.3 387.3h0M101.5 374.8h0M100.5 358.3h0M101.0 358.6h0M100.1 373.2h0M100.3 370.6h0M99.8 378.7h0M100.9 367.5h0M101.3 380.2h0M100.8 396.5h0M100.6 349.2h0" stroke="#111" stroke-width="1.3" stroke-linecap="round" fill="none"/>
<rect x="99.25" y="367.48" width="3.00" height="7.02" fill="#d2e6f4" stroke="none" stroke-width="1" fill-opacity="0.85"/>
<circle cx="100.75" cy="371.00" r="0.9" fill="#111"/>
<polygon points="113.00,358.62 113.16,358.78 113.39,358.98 113.65,359.22 113.92,359.52 114.17,359.89 114.35,360.32 114.46,360.86 114.53,361.50 114.56,362.20 114.59,362.93 114.64,363.64 114.73,364.30 114.84,364.90 114.96,365.47 115.10,366.02 115.27,366.57 115.46,367.13 115.70,367.71 116.01,368.30 116.39,368.89 116.81,369.50 117.22,370.11 117.58,370.75 117.86,371.40 118.07,372.06 118.24,372.74 118.37,373.44 118.44,374.15 118.45,374.89 118.40,375.66 118.26,376.47 118.04,377.34 117.76,378.23 117.44,379.11 117.11,379.97 116.78,380.77 116.45,381.51 116.08,382.24 115.70,382.93 115.32,383.58 114.96,384.19 114.62,384.74 114.30,385.24 113.98,385.71 113.68,386.12 113.40,386.49 113.17,386.78 113.00,387.01 113.00,387.01 112.83,386.78 112.60,386.49 112.32,386.12 112.02,385.71 111.70,385.24 111.38,384.74 111.04,384.19 110.68,383.58 110.30,382.93 109.92,382.24 109.55,381.51 109.22,380.77 108.89,379.97 108.56,379.11 108.24,378.23 107.96,377.34 107.74,376.47 107.60,375.66 107.55,374.89 107.56,374.15 107.63,373.44 107.76,372.74 107.93,372.06 108.14,371.40 108.42,370.75 108.78,370.11 109.19,369.50 109.61,368.89 109.99,368.30 110.30,367.71 110.54,367.13 110.73,366.57 110.90,366.02 111.04,365.47 111.16,364.90 111.27,364.30 111.36,363.64 111.41,362.93 111.44,362.20 111.47,361.50 111.54,360.86 111.65,360.32 111.83,359.89 112.08,359.52 112.35,359.22 112.61,358.98 112.84,358.78 113.00,358.62" fill="#7097bd" stroke="#46709a" stroke-width="0.75"/>
<path d="M113.0 371.0h0M112.9 369.7h0M113.6 374.1h0M112.6 369.2h0M112.6 361.0h0M113.5 359.4h0M113.3 375.8h0M112.3 379.8h0M113.1 361.2h0M113.4 366.7h0M112.9 365.3h0M112.8 368.9h0M113.1 373.7h0M113.1 366.7h0M112.7 365.8h0M113.4 365.5h0M112.2 378.8h0M113.0 366.4h0M114.1 374.5h0M112.5 374.5h0M113.0 370.3h0M111.9 374.4h0M112.6 358.8h0M112.4 369.1h0M113.0 370.8h0M112.8 373.5h0M113.9 370.9h0M112.5 373.7h0M113.0 369.0h0M113.1 367.3h0M113.3 367.5h0M113.5 379.8h0M112.2 374.3h0M114.1 371.9h0M112.9 379.6h0M112.6 370.2h0M112.2 373.2h0M112.8 372.1h0M112.1 370.2h0M113.1 376.0h0M112.7 363.3h0M113.2 366.3h0M112.6 375.6h0M113.0 369.7h0M114.1 368.0h0M113.6 376.9h0M113.1 374.5h0M112.5 368.3h0M113.7 380.1h0M112.2 370.5h0M112.3 368.8h0M113.7 377.8h0M112.7 367.4h0M113.7 359.4h0M113.3 371.2h0M114.1 372.6h0M113.9 372.0h0M113.3 378.3h0M112.7 369.2h0M113.3 371.3h0M113.7 368.0h0M113.1 364.0h0M111.9 372.2h0M112.8 371.3h0M112.8 370.5h0M113.0 362.2h0M112.8 380.9h0M113.6 372.4h0M112.4 376.1h0M113.2 371.6h0M112.0 367.5h0M111.9 372.0h0M112.5 368.1h0M112.6 371.3h0M112.6 376.6h0M112.7 376.2h0M113.3 380.5h0M113.3 371.1h0M113.0 374.7h0M113.1 367.5h0M112.7 366.7h0M112.5 377.6h0M112.3 378.7h0M112.8 368.8h0M112.4 377.5h0M112.8 371.2h0M113.4 368.8h0M113.3 374.6h0M113.7 362.0h0M112.5 376.9h0M111.9 369.9h0M112.4 374.8h0M114.0 373.4h0M113.4 373.3h0M112.8 369.0h0M113.7 373.2h0M112.8 376.7h0M113.8 375.4h0M112.8 374.2h0M112.8 367.9h0M113.4 374.0h0M112.4 365.2h0M112.9 367.4h0M114.0 376.7h0M113.2 366.3h0M112.4 385.6h0M112.9 372.2h0M113.0 378.1h0M112.6 373.0h0M113.2 365.6h0M113.6 387.0h0M113.0 358.6h0" stroke="#111" stroke-width="1.3" stroke-linecap="round" fill="none"/>
<rect x="111.50" y="370.11" width="3.00" height="4.68" fill="#9bb8d2" stroke="none" stroke-width="1" fill-opacity="0.85"/>
<circle cx="113.00" cy="372.45" r="0.9" fill="#111"/>
<polyline points="100.75,316.60 100.75,315.00 113.00,315.00 113.00,316.60" stroke="#555" fill="none" stroke-width="0.7" />
<text x="106.88" y="313.80" font-size="6.0" text-anchor="middle" fill="#333" stroke="#333" stroke-width="0.18">ns</text>
<polyline points="88.75,327.35 88.75,325.75 113.00,325.75 113.00,327.35" stroke="#555" fill="none" stroke-width="0.7" />
<text x="100.88" y="324.55" font-size="6.0" text-anchor="middle" fill="#333" stroke="#333" stroke-width="0.18">*</text>
<polyline points="88.75,339.10 88.75,337.50 100.75,337.50 100.75,339.10" stroke="#555" fill="none" stroke-width="0.7" />
<text x="94.75" y="336.30" font-size="6.0" text-anchor="middle" fill="#333" stroke="#333" stroke-width="0.18">**</text>
<text x="91.65" y="406.90" font-size="6.5" text-anchor="end" fill="#2b2b2b" transform="rotate(-45 91.65 406.90)" stroke="#2b2b2b" stroke-width="0.18">HD</text>
<text x="103.65" y="406.90" font-size="6.5" text-anchor="end" fill="#2b2b2b" transform="rotate(-45 103.65 406.90)" stroke="#2b2b2b" stroke-width="0.18">HET</text>
<text x="115.90" y="406.90" font-size="6.5" text-anchor="end" fill="#2b2b2b" transform="rotate(-45 115.90 406.90)" stroke="#2b2b2b" stroke-width="0.18">HR</text>
<polygon points="129.25,358.62 129.49,358.83 129.81,359.09 130.20,359.41 130.62,359.79 131.04,360.23 131.43,360.73 131.82,361.31 132.23,361.98 132.64,362.71 133.03,363.47 133.38,364.23 133.67,364.95 133.90,365.66 134.10,366.36 134.25,367.06 134.36,367.77 134.43,368.47 134.45,369.18 134.43,369.88 134.36,370.58 134.25,371.29 134.10,371.99 133.90,372.69 133.67,373.40 133.38,374.13 133.03,374.88 132.64,375.64 132.23,376.37 131.82,377.04 131.43,377.62 131.04,378.12 130.62,378.56 130.20,378.94 129.81,379.26 129.49,379.53 129.25,379.73 129.25,379.73 129.01,379.53 128.69,379.26 128.30,378.94 127.88,378.56 127.46,378.12 127.07,377.62 126.68,377.04 126.27,376.37 125.86,375.64 125.47,374.88 125.12,374.13 124.83,373.40 124.60,372.69 124.40,371.99 124.25,371.29 124.14,370.58 124.07,369.88 124.05,369.18 124.07,368.47 124.14,367.77 124.25,367.06 124.40,366.36 124.60,365.66 124.83,364.95 125.12,364.23 125.47,363.47 125.86,362.71 126.27,361.98 126.68,361.31 127.07,360.73 127.46,360.23 127.88,359.79 128.30,359.41 128.69,359.09 129.01,358.83 129.25,358.62" fill="#f6fafd" stroke="#7f9fb8" stroke-width="0.75"/>
<path d="M129.2 363.1h0M129.9 367.9h0M128.7 369.2h0M128.7 376.3h0M128.7 362.5h0M129.0 359.4h0M128.7 373.9h0M128.8 377.3h0M129.5 366.1h0M128.7 369.4h0M129.2 361.2h0M128.6 366.3h0M129.1 371.3h0M129.5 381.4h0M128.2 365.3h0M129.3 369.5h0M129.4 380.4h0M129.2 382.2h0M129.4 384.9h0M129.4 365.3h0M128.6 373.8h0M129.2 377.3h0M129.6 375.4h0M129.9 371.2h0M128.6 370.0h0M128.9 373.0h0M128.5 364.3h0M129.2 362.1h0M128.7 372.1h0M128.7 357.6h0M129.6 371.3h0M130.3 377.2h0M128.2 369.0h0M130.1 381.8h0M128.8 372.7h0M129.6 378.8h0M129.4 373.7h0M129.9 368.7h0M129.1 389.9h0M128.8 367.1h0M129.2 368.2h0M129.6 372.0h0M128.8 364.5h0M129.4 367.5h0M129.2 373.2h0M129.3 378.3h0M129.2 364.4h0M129.5 364.2h0M129.6 382.1h0M129.1 376.1h0M129.1 379.8h0M128.2 363.6h0M128.8 374.9h0M128.5 380.3h0M129.6 358.2h0M128.7 366.6h0M128.9 368.4h0M129.5 368.3h0M129.7 371.7h0M129.9 370.0h0M128.8 363.1h0M129.4 366.7h0M129.8 374.0h0M128.8 369.5h0M129.1 355.3h0M128.6 374.8h0M128.9 380.9h0M129.6 369.4h0M129.3 379.5h0M129.1 349.2h0M129.0 365.3h0M130.0 365.6h0M129.6 367.4h0M128.6 354.5h0M130.3 378.5h0M129.0 370.7h0M129.2 383.7h0M129.0 360.3h0M129.0 370.9h0M129.6 356.1h0M128.5 372.5h0M129.3 378.7h0M129.1 376.0h0M130.1 363.9h0M129.4 376.9h0M129.5 368.2h0M129.5 376.1h0M129.5 376.1h0M129.3 374.8h0M128.2 357.3h0M129.5 379.0h0M129.1 367.7h0M129.6 363.9h0M129.4 376.3h0M129.0 382.4h0M128.8 358.2h0M128.7 356.4h0M129.4 372.3h0M129.2 380.0h0M128.8 363.3h0M129.1 370.7h0M129.4 377.0h0M128.9 373.5h0M129.2 389.6h0M128.9 376.9h0M128.2 380.1h0M129.3 381.0h0M129.3 365.6h0M129.7 368.2h0M129.9 356.7h0M128.9 375.7h0M129.5 377.1h0M129.4 359.7h0M129.3 362.0h0M129.7 369.4h0M129.7 369.6h0M128.6 376.4h0M130.0 374.5h0M129.2 374.0h0M128.9 355.1h0M128.9 364.4h0M129.1 353.6h0M128.7 360.4h0M129.8 366.4h0M129.5 363.7h0M128.8 384.0h0M129.7 378.6h0M129.4 363.5h0M129.3 373.5h0M129.7 383.4h0M129.2 370.5h0M129.1 380.8h0M129.5 370.4h0M128.3 357.8h0M128.6 379.6h0M129.5 374.0h0M129.8 365.9h0M128.4 370.6h0M129.3 368.9h0M128.9 377.2h0M129.1 373.1h0M129.5 389.7h0M130.0 371.9h0M130.1 360.0h0M129.7 379.5h0M129.6 371.9h0M129.3 364.7h0M128.3 360.5h0M129.4 361.0h0M128.6 377.6h0M128.7 373.8h0M129.3 356.2h0M128.5 374.2h0M130.1 368.1h0M129.5 377.3h0M129.4 375.8h0M129.5 374.9h0M129.4 388.2h0M129.3 378.7h0M129.6 378.4h0M128.9 359.5h0M129.4 364.2h0M129.3 367.2h0M129.6 374.6h0M128.7 381.7h0M129.4 366.6h0M129.2 377.2h0M129.6 371.4h0M129.5 362.8h0M129.3 372.0h0M129.5 370.7h0M129.5 378.5h0M129.9 362.0h0M129.4 366.2h0M129.5 364.7h0M128.8 357.3h0M129.1 383.6h0M129.6 370.3h0M129.8 365.3h0M128.8 367.8h0M129.2 368.0h0M129.1 366.7h0M129.3 382.9h0M129.0 371.1h0M129.0 361.0h0M129.2 370.9h0M129.3 372.1h0M129.8 363.6h0M128.8 384.7h0M128.8 367.3h0M129.6 358.1h0M129.5 372.5h0M129.2 377.2h0M128.7 366.2h0M129.8 374.2h0M128.7 377.1h0M129.8 369.1h0M129.4 383.9h0M129.2 365.0h0M129.2 380.2h0M129.7 374.9h0M129.3 364.6h0M128.4 370.7h0M128.9 368.4h0M128.2 359.3h0M129.4 358.1h0M129.7 353.5h0M129.8 374.9h0M128.6 363.0h0M130.3 383.9h0M130.2 364.0h0M129.2 359.9h0M128.2 376.4h0M128.8 366.7h0M129.8 363.7h0M130.3 371.8h0M129.0 375.6h0M128.3 358.2h0M128.8 381.2h0M130.2 369.1h0M129.2 362.7h0M128.5 368.6h0M128.2 357.6h0M129.6 358.5h0M129.6 366.7h0M129.0 356.1h0M129.1 364.4h0M129.3 380.5h0M129.1 373.1h0M129.0 368.3h0M129.0 368.9h0M128.9 384.2h0M129.9 351.8h0M129.4 383.2h0M129.8 379.6h0M130.2 366.8h0M128.2 368.8h0M129.2 358.0h0M129.7 368.6h0M129.1 367.4h0M128.9 364.5h0M129.4 376.4h0M129.0 381.0h0M128.8 374.2h0M129.1 362.2h0M129.3 372.8h0M129.3 360.3h0M129.7 374.9h0M129.3 364.3h0M129.0 370.2h0M130.3 363.6h0M129.1 370.4h0M129.1 368.8h0M129.2 374.2h0M128.9 360.3h0M128.5 370.7h0M129.3 366.4h0M130.0 365.2h0M128.3 377.7h0M128.9 377.2h0M129.5 390.7h0M128.9 345.5h0" stroke="#111" stroke-width="1.3" stroke-linecap="round" fill="none"/>
<rect x="127.75" y="367.05" width="3.00" height="6.44" fill="#e3eef6" stroke="none" stroke-width="1" fill-opacity="0.85"/>
<circle cx="129.25" cy="370.27" r="0.9" fill="#111"/>
<polygon points="141.25,360.80 141.48,360.98 141.80,361.21 142.18,361.49 142.59,361.82 143.01,362.19 143.39,362.62 143.77,363.13 144.17,363.70 144.57,364.33 144.96,364.98 145.30,365.64 145.59,366.26 145.81,366.87 146.00,367.48 146.15,368.08 146.26,368.69 146.33,369.30 146.35,369.90 146.33,370.51 146.26,371.12 146.15,371.72 146.00,372.33 145.81,372.94 145.59,373.54 145.30,374.17 144.96,374.82 144.57,375.48 144.17,376.11 143.77,376.68 143.39,377.18 143.01,377.61 142.59,377.99 142.18,378.32 141.80,378.60 141.48,378.83 141.25,379.00 141.25,379.00 141.02,378.83 140.70,378.60 140.32,378.32 139.91,377.99 139.49,377.61 139.11,377.18 138.73,376.68 138.33,376.11 137.93,375.48 137.54,374.82 137.20,374.17 136.91,373.54 136.69,372.94 136.50,372.33 136.35,371.72 136.24,371.12 136.17,370.51 136.15,369.90 136.17,369.30 136.24,368.69 136.35,368.08 136.50,367.48 136.69,366.87 136.91,366.26 137.20,365.64 137.54,364.98 137.93,364.33 138.33,363.70 138.73,363.13 139.11,362.62 139.49,362.19 139.91,361.82 140.32,361.49 140.70,361.21 141.02,360.98 141.25,360.80" fill="#bedaef" stroke="#5f8db0" stroke-width="0.75"/>
<path d="M141.2 366.5h0M140.5 371.5h0M141.2 380.7h0M141.0 373.0h0M140.6 375.6h0M141.5 366.3h0M140.3 393.3h0M141.5 367.5h0M141.4 359.4h0M141.5 369.8h0M141.3 369.0h0M141.7 375.8h0M141.1 368.1h0M140.7 372.4h0M141.5 382.3h0M140.9 381.5h0M141.1 391.4h0M141.3 367.3h0M140.8 369.6h0M141.8 361.6h0M140.5 368.8h0M141.9 365.0h0M141.3 382.8h0M142.1 387.4h0M141.8 376.1h0M141.6 374.0h0M141.4 367.9h0M141.3 372.2h0M140.6 372.5h0M141.0 370.7h0M140.8 368.9h0M140.9 369.3h0M141.2 368.3h0M140.9 375.5h0M141.3 371.9h0M141.1 384.0h0M141.0 380.9h0M141.5 373.5h0M141.5 367.3h0M140.6 377.7h0M141.1 383.4h0M142.3 362.7h0M141.3 378.4h0M141.5 386.2h0M140.8 379.6h0M141.8 381.5h0M142.0 392.3h0M141.6 374.5h0M141.2 356.3h0M141.3 377.6h0M140.3 378.3h0M141.6 361.1h0M141.1 370.3h0M141.5 372.0h0M141.5 359.2h0M141.4 381.4h0M142.3 371.6h0M141.7 366.7h0M140.9 369.3h0M141.6 381.3h0M141.6 379.2h0M141.3 355.5h0M142.0 371.9h0M141.1 373.4h0M140.4 361.7h0M140.7 386.8h0M141.5 371.6h0M140.8 386.5h0M141.3 358.9h0M140.5 379.8h0M141.5 370.1h0M141.1 379.1h0M140.8 370.0h0M141.0 368.3h0M141.1 371.0h0M141.7 373.9h0M141.4 368.9h0M141.2 373.2h0M141.3 375.5h0M141.7 365.6h0M141.5 363.6h0M142.1 382.9h0M140.9 379.9h0M141.7 377.9h0M141.3 368.5h0M141.0 383.3h0M141.6 357.5h0M141.7 370.7h0M141.8 369.7h0M141.5 363.4h0M140.8 377.6h0M141.4 367.8h0M141.5 367.5h0M142.1 359.8h0M141.3 380.2h0M141.3 359.0h0M142.0 365.8h0M141.3 368.9h0M141.0 361.7h0M141.4 373.2h0M141.7 372.7h0M141.3 363.7h0M140.4 374.1h0M141.1 361.6h0M141.8 359.0h0M140.9 369.1h0M141.7 369.5h0M141.4 376.7h0M140.9 379.0h0M141.7 358.5h0M140.2 380.0h0M140.2 370.3h0M140.5 368.4h0M141.5 378.8h0M141.1 377.0h0M141.6 377.1h0M141.2 352.5h0M141.3 367.8h0M141.0 358.9h0M141.1 353.3h0M141.8 362.2h0M141.7 359.5h0M140.6 374.8h0M141.6 377.0h0M142.3 358.3h0M141.6 358.2h0M140.8 379.9h0M141.6 361.0h0M141.4 368.4h0M141.1 364.0h0M141.8 362.5h0M141.9 354.4h0M141.0 376.4h0M141.3 370.9h0M141.1 359.9h0M141.3 373.2h0M142.1 366.2h0M141.1 371.6h0M141.6 385.7h0M141.4 375.7h0M141.3 363.2h0M140.7 375.6h0M141.6 384.3h0M140.7 375.3h0M141.6 370.0h0M141.2 366.6h0M141.3 368.0h0M141.0 366.3h0M140.8 380.1h0M140.8 376.1h0M141.3 377.6h0M141.2 374.7h0M141.4 367.0h0M141.1 359.2h0M141.7 372.9h0M141.3 361.6h0M141.3 361.2h0M141.2 380.8h0M141.3 377.9h0M141.6 369.5h0M140.9 382.9h0M140.7 354.5h0M141.5 387.2h0M141.5 381.5h0M141.3 364.0h0M141.4 377.3h0M140.6 364.6h0M140.8 379.4h0M141.3 361.6h0M141.3 375.9h0M140.7 364.5h0M141.5 362.0h0M140.3 383.9h0M141.9 378.5h0M140.8 386.0h0M141.0 380.5h0M140.8 362.8h0M140.6 371.1h0M141.1 363.4h0M140.3 358.4h0M141.1 361.8h0M141.4 364.5h0M141.1 374.5h0M141.3 374.1h0M140.6 368.0h0M140.4 363.2h0M140.6 361.3h0M141.8 368.1h0M141.4 373.3h0M140.4 371.4h0M142.1 356.3h0M141.6 368.3h0M141.8 353.3h0M141.8 377.0h0M141.9 363.1h0M140.4 368.8h0M141.3 364.1h0M140.9 377.3h0M142.2 367.8h0M141.6 371.3h0M141.3 373.1h0M141.1 381.1h0M140.2 383.0h0M141.3 373.6h0M140.9 365.9h0M141.9 368.4h0M141.6 368.6h0M141.2 367.9h0M141.1 382.5h0M141.8 361.4h0M141.0 370.1h0M141.8 377.2h0M141.4 375.4h0M141.1 362.1h0M141.4 369.0h0M142.1 385.2h0M140.5 352.4h0M141.6 383.6h0M141.6 355.8h0M141.1 363.3h0M142.0 379.4h0M141.6 359.8h0M141.5 359.7h0M140.8 361.6h0M141.6 365.0h0M140.6 367.8h0M141.5 368.8h0M142.3 375.3h0M140.8 368.3h0M142.0 359.5h0M140.7 371.6h0M141.3 353.5h0M141.6 384.2h0M140.6 370.4h0M141.4 383.6h0M140.9 385.9h0M141.0 368.4h0M141.7 373.5h0M141.2 375.5h0M141.5 379.9h0M141.3 396.5h0M141.5 349.2h0" stroke="#111" stroke-width="1.3" stroke-linecap="round" fill="none"/>
<rect x="139.75" y="367.48" width="3.00" height="7.02" fill="#d2e6f4" stroke="none" stroke-width="1" fill-opacity="0.85"/>
<circle cx="141.25" cy="371.00" r="0.9" fill="#111"/>
<polygon points="153.75,358.62 153.91,358.78 154.14,358.98 154.40,359.22 154.67,359.52 154.92,359.89 155.10,360.32 155.21,360.86 155.28,361.50 155.31,362.20 155.34,362.93 155.39,363.64 155.48,364.30 155.59,364.90 155.71,365.47 155.85,366.02 156.02,366.57 156.21,367.13 156.45,367.71 156.76,368.30 157.14,368.89 157.56,369.50 157.97,370.11 158.33,370.75 158.61,371.40 158.82,372.06 158.99,372.74 159.12,373.44 159.19,374.15 159.20,374.89 159.15,375.66 159.01,376.47 158.79,377.34 158.51,378.23 158.19,379.11 157.86,379.97 157.53,380.77 157.19,381.51 156.83,382.24 156.45,382.93 156.07,383.58 155.71,384.19 155.37,384.74 155.05,385.24 154.73,385.71 154.43,386.12 154.15,386.49 153.92,386.78 153.75,387.01 153.75,387.01 153.58,386.78 153.35,386.49 153.07,386.12 152.77,385.71 152.45,385.24 152.13,384.74 151.79,384.19 151.43,383.58 151.05,382.93 150.67,382.24 150.31,381.51 149.97,380.77 149.64,379.97 149.31,379.11 148.99,378.23 148.71,377.34 148.49,376.47 148.35,375.66 148.30,374.89 148.31,374.15 148.38,373.44 148.51,372.74 148.68,372.06 148.89,371.40 149.17,370.75 149.53,370.11 149.94,369.50 150.36,368.89 150.74,368.30 151.05,367.71 151.29,367.13 151.48,366.57 151.65,366.02 151.79,365.47 151.91,364.90 152.02,364.30 152.11,363.64 152.16,362.93 152.19,362.20 152.22,361.50 152.29,360.86 152.40,360.32 152.58,359.89 152.83,359.52 153.10,359.22 153.36,358.98 153.59,358.78 153.75,358.62" fill="#7097bd" stroke="#46709a" stroke-width="0.75"/>
<path d="M154.2 363.3h0M154.2 371.5h0M153.0 373.9h0M154.2 372.1h0M153.0 368.1h0M154.8 369.6h0M154.0 384.6h0M154.3 372.7h0M153.8 369.8h0M153.8 375.7h0M153.4 373.8h0M154.8 378.9h0M153.6 372.7h0M154.3 382.4h0M153.4 377.1h0M153.7 372.7h0M153.6 380.9h0M153.7 373.8h0M153.5 376.2h0M154.1 365.0h0M154.1 363.1h0M153.0 360.1h0M153.5 371.5h0M153.1 368.4h0M154.3 358.6h0M153.1 376.0h0M154.0 362.5h0M153.8 377.5h0M153.7 366.2h0M152.8 381.3h0M154.6 374.5h0M153.7 373.4h0M154.1 373.7h0M154.3 383.4h0M153.3 371.5h0M153.3 373.9h0M154.6 363.7h0M154.7 368.9h0M153.4 384.7h0M153.7 371.5h0M154.2 366.1h0M153.7 372.8h0M154.4 376.3h0M154.1 380.1h0M153.7 374.4h0M154.1 377.7h0M153.5 373.8h0M154.4 374.1h0M153.4 364.9h0M154.4 377.9h0M154.8 370.3h0M152.9 378.6h0M154.6 370.7h0M153.0 366.3h0M153.7 375.6h0M154.7 379.1h0M154.3 372.1h0M154.1 372.1h0M154.0 375.9h0M153.9 369.8h0M154.0 371.9h0M153.7 368.4h0M153.6 380.2h0M153.2 367.9h0M154.6 365.0h0M153.8 377.0h0M154.7 360.8h0M154.1 370.9h0M154.0 379.8h0M153.2 378.4h0M153.6 376.6h0M153.8 376.0h0M153.7 373.6h0M153.6 370.6h0M152.7 373.5h0M153.6 374.1h0M153.6 377.8h0M153.5 384.1h0M153.6 376.4h0M153.0 379.4h0M153.3 367.2h0M154.5 386.2h0M153.3 365.7h0M153.5 373.4h0M153.4 372.2h0M153.7 378.7h0M153.5 377.9h0M154.8 367.2h0M153.2 378.5h0M154.4 372.8h0M153.5 372.0h0M154.0 368.5h0M154.8 379.6h0M153.8 364.7h0M153.8 373.2h0M152.7 366.4h0M153.6 380.5h0M153.7 366.0h0M153.8 372.8h0M153.9 367.8h0M153.2 376.0h0M153.3 367.3h0M154.2 372.1h0M153.6 383.3h0M153.8 376.1h0M154.1 369.6h0M153.8 373.4h0M153.8 374.9h0M153.2 374.4h0M153.8 367.0h0M152.9 387.0h0M154.7 358.6h0" stroke="#111" stroke-width="1.3" stroke-linecap="round" fill="none"/>
<rect x="152.25" y="370.11" width="3.00" height="4.68" fill="#9bb8d2" stroke="none" stroke-width="1" fill-opacity="0.85"/>
<circle cx="153.75" cy="372.45" r="0.9" fill="#111"/>
<polyline points="141.25,316.60 141.25,315.00 153.75,315.00 153.75,316.60" stroke="#555" fill="none" stroke-width="0.7" />
<text x="147.50" y="313.80" font-size="6.0" text-anchor="middle" fill="#333" stroke="#333" stroke-width="0.18">ns</text>
<polyline points="129.25,327.35 129.25,325.75 153.75,325.75 153.75,327.35" stroke="#555" fill="none" stroke-width="0.7" />
<text x="141.50" y="324.55" font-size="6.0" text-anchor="middle" fill="#333" stroke="#333" stroke-width="0.18">*</text>
<polyline points="129.25,339.10 129.25,337.50 141.25,337.50 141.25,339.10" stroke="#555" fill="none" stroke-width="0.7" />
<text x="135.25" y="336.30" font-size="6.0" text-anchor="middle" fill="#333" stroke="#333" stroke-width="0.18">**</text>
<text x="132.15" y="406.90" font-size="6.5" text-anchor="end" fill="#2b2b2b" transform="rotate(-45 132.15 406.90)" stroke="#2b2b2b" stroke-width="0.18">HD</text>
<text x="144.15" y="406.90" font-size="6.5" text-anchor="end" fill="#2b2b2b" transform="rotate(-45 144.15 406.90)" stroke="#2b2b2b" stroke-width="0.18">HET</text>
<text x="156.65" y="406.90" font-size="6.5" text-anchor="end" fill="#2b2b2b" transform="rotate(-45 156.65 406.90)" stroke="#2b2b2b" stroke-width="0.18">HR</text>
<text x="101.40" y="425.80" font-size="8.56" text-anchor="middle" fill="#161616" font-weight="bold" textLength="14.5" lengthAdjust="spacingAndGlyphs">Group</text>
<text x="55.60" y="436.00" font-size="6.3" text-anchor="start" fill="#2b2b2b" stroke="#2b2b2b" stroke-width="0.18">Group</text>
<rect x="80.50" y="431.60" width="4.40" height="4.40" fill="#a3a3a3" stroke="none" stroke-width="1" />
<rect x="81.30" y="432.40" width="2.80" height="2.80" fill="#dbe9f3" stroke="none" stroke-width="1" />
<line x1="81.00" y1="433.80" x2="84.40" y2="433.80" stroke="#333" stroke-width="0.7" />
<text x="86.30" y="436.00" font-size="6.3" text-anchor="start" fill="#2b2b2b" stroke="#2b2b2b" stroke-width="0.18">HD</text>
<rect x="105.30" y="431.60" width="4.40" height="4.40" fill="#a3a3a3" stroke="none" stroke-width="1" />
<rect x="106.10" y="432.40" width="2.80" height="2.80" fill="#93c0e0" stroke="none" stroke-width="1" />
<line x1="105.80" y1="433.80" x2="109.20" y2="433.80" stroke="#333" stroke-width="0.7" />
<text x="111.10" y="436.00" font-size="6.3" text-anchor="start" fill="#2b2b2b" stroke="#2b2b2b" stroke-width="0.18">HET</text>
<rect x="132.30" y="431.60" width="4.40" height="4.40" fill="#a3a3a3" stroke="none" stroke-width="1" />
<rect x="133.10" y="432.40" width="2.80" height="2.80" fill="#345" stroke="none" stroke-width="1" />
<line x1="132.80" y1="433.80" x2="136.20" y2="433.80" stroke="#333" stroke-width="0.7" />
<text x="138.10" y="436.00" font-size="6.3" text-anchor="start" fill="#2b2b2b" stroke="#2b2b2b" stroke-width="0.18">HR</text>
<text x="171.70" y="282.30" font-size="10.8" font-weight="bold" fill="#111" stroke="#111" stroke-width="0.35">E</text>
<text x="262.60" y="297.60" font-size="6.5" text-anchor="middle" fill="#2b2b2b" stroke="#2b2b2b" stroke-width="0.18">GPX4</text>
<text x="223.00" y="308.40" font-size="6.0" text-anchor="middle" fill="#2b2b2b" stroke="#2b2b2b" stroke-width="0.18">10</text>
<text x="262.50" y="308.40" font-size="6.0" text-anchor="middle" fill="#2b2b2b" stroke="#2b2b2b" stroke-width="0.18">23</text>
<text x="303.75" y="308.40" font-size="6.0" text-anchor="middle" fill="#2b2b2b" stroke="#2b2b2b" stroke-width="0.18">42</text>
<text x="314.00" y="308.40" font-size="6.0" text-anchor="start" fill="#2b2b2b" stroke="#2b2b2b" stroke-width="0.18">Day</text>
<line x1="203.20" y1="313.30" x2="203.20" y2="402.30" stroke="#1a1a1a" stroke-width="1.0" />
<line x1="199.40" y1="381.25" x2="203.20" y2="381.25" stroke="#1a1a1a" stroke-width="0.8" />
<text x="197.30" y="383.48" font-size="6.2" text-anchor="end" fill="#2b2b2b" stroke="#2b2b2b" stroke-width="0.18">250</text>
<line x1="199.40" y1="359.25" x2="203.20" y2="359.25" stroke="#1a1a1a" stroke-width="0.8" />
<text x="197.30" y="361.48" font-size="6.2" text-anchor="end" fill="#2b2b2b" stroke="#2b2b2b" stroke-width="0.18">500</text>
<line x1="199.40" y1="337.25" x2="203.20" y2="337.25" stroke="#1a1a1a" stroke-width="0.8" />
<text x="197.30" y="339.48" font-size="6.2" text-anchor="end" fill="#2b2b2b" stroke="#2b2b2b" stroke-width="0.18">750</text>
<line x1="199.40" y1="315.25" x2="203.20" y2="315.25" stroke="#1a1a1a" stroke-width="0.8" />
<text x="197.30" y="317.48" font-size="6.2" text-anchor="end" fill="#2b2b2b" stroke="#2b2b2b" stroke-width="0.18">1000</text>
<line x1="202.70" y1="402.00" x2="318.80" y2="402.00" stroke="#1a1a1a" stroke-width="1.0" />
<line x1="211.50" y1="402.00" x2="211.50" y2="405.00" stroke="#1a1a1a" stroke-width="0.8" />
<line x1="223.10" y1="402.00" x2="223.10" y2="405.00" stroke="#1a1a1a" stroke-width="0.8" />
<line x1="235.00" y1="402.00" x2="235.00" y2="405.00" stroke="#1a1a1a" stroke-width="0.8" />
<line x1="251.50" y1="402.00" x2="251.50" y2="405.00" stroke="#1a1a1a" stroke-width="0.8" />
<line x1="263.40" y1="402.00" x2="263.40" y2="405.00" stroke="#1a1a1a" stroke-width="0.8" />
<line x1="275.00" y1="402.00" x2="275.00" y2="405.00" stroke="#1a1a1a" stroke-width="0.8" />
<line x1="291.50" y1="402.00" x2="291.50" y2="405.00" stroke="#1a1a1a" stroke-width="0.8" />
<line x1="303.40" y1="402.00" x2="303.40" y2="405.00" stroke="#1a1a1a" stroke-width="0.8" />
<line x1="315.50" y1="402.00" x2="315.50" y2="405.00" stroke="#1a1a1a" stroke-width="0.8" />
<text x="179.00" y="356.60" font-size="8.03" text-anchor="middle" fill="#161616" font-weight="bold" textLength="13.2" lengthAdjust="spacingAndGlyphs" transform="rotate(-90 179.00 356.60)">GPX4</text>
<line x1="211.50" y1="347.30" x2="211.50" y2="385.60" stroke="#888" stroke-width="0.6" />
<polygon points="211.50,385.60 212.23,386.24 213.33,387.12 214.59,388.16 215.78,389.28 216.66,390.41 217.00,391.45 216.66,392.49 215.78,393.62 214.59,394.74 213.33,395.78 212.23,396.66 211.50,397.30 211.50,397.30 210.77,396.66 209.67,395.78 208.41,394.74 207.22,393.62 206.34,392.49 206.00,391.45 206.34,390.41 207.22,389.28 208.41,388.16 209.67,387.12 210.77,386.24 211.50,385.60" fill="#f6fafd" stroke="#7f9fb8" stroke-width="0.75"/>
<path d="M212.1 387.8h0M211.3 394.1h0M211.5 390.8h0M211.6 383.6h0M211.1 381.0h0M211.3 391.7h0M211.8 394.7h0M211.4 381.9h0M211.5 392.7h0M211.6 386.4h0M212.3 392.5h0M211.6 394.1h0M211.7 392.9h0M211.3 386.7h0M212.1 384.9h0M211.6 396.6h0M211.5 395.4h0M212.1 395.5h0M212.1 390.9h0M211.1 382.0h0M211.4 388.6h0M212.1 395.3h0M211.3 382.5h0M212.2 387.5h0M211.5 381.6h0M212.4 394.8h0M211.1 388.4h0M210.6 383.0h0M210.9 388.4h0M212.4 385.9h0M211.2 389.5h0M211.3 391.7h0M211.3 392.2h0M211.2 383.4h0M211.6 390.8h0M211.6 382.1h0M211.2 389.6h0M211.3 393.8h0M212.1 387.0h0M212.0 394.0h0M212.0 386.6h0M212.1 389.0h0M211.4 393.6h0M211.9 379.1h0M212.3 391.0h0M211.2 390.8h0M212.1 392.8h0M210.4 396.1h0M210.7 392.6h0M210.9 386.3h0M211.1 385.8h0M211.1 390.2h0M211.3 387.3h0M211.9 391.0h0M211.2 383.2h0M211.4 392.6h0M210.9 389.3h0M210.8 381.9h0M211.4 384.1h0M211.2 395.8h0M211.9 394.4h0M211.6 394.8h0M210.7 388.9h0M211.9 397.2h0M211.0 385.2h0M211.3 392.9h0M211.1 395.9h0M211.1 386.0h0M211.2 379.1h0M211.0 384.2h0M211.2 383.1h0M211.4 393.8h0M211.8 391.6h0M211.8 390.1h0M212.3 383.9h0M210.8 392.0h0M211.3 384.5h0M212.1 384.4h0M211.0 391.5h0M211.4 392.0h0M211.8 393.7h0M212.2 394.1h0M211.8 384.5h0M211.7 387.7h0M211.4 384.6h0M211.8 390.3h0M211.6 380.9h0M211.7 394.6h0M211.2 392.5h0M211.5 393.8h0M211.1 390.2h0M211.0 395.3h0M211.1 394.2h0M211.1 394.1h0M211.2 393.8h0M211.3 386.1h0M210.8 388.3h0M211.7 382.2h0M211.7 393.3h0M212.2 390.0h0M210.5 397.3h0M210.9 387.4h0M211.1 389.5h0M211.1 394.6h0M211.5 396.6h0M211.1 393.2h0M211.2 394.8h0M211.8 395.6h0M211.4 387.1h0M210.8 391.7h0M211.9 382.4h0M212.5 392.4h0M212.0 396.2h0M211.4 390.5h0M212.1 384.7h0M211.5 391.2h0M211.4 382.5h0M211.6 389.9h0M212.1 383.0h0M211.6 389.3h0M211.4 393.9h0M210.9 393.1h0M211.6 394.4h0M211.0 389.8h0M211.5 389.6h0M210.9 382.1h0M211.1 393.6h0M211.1 391.2h0M211.2 389.2h0M211.0 384.7h0M212.1 389.9h0M211.9 382.4h0M211.4 384.1h0M211.0 382.9h0M212.0 389.4h0M211.4 384.5h0M211.8 394.1h0M212.0 391.7h0M211.3 394.6h0M211.7 391.0h0M211.7 385.0h0M211.3 387.2h0M211.4 394.2h0M211.2 391.4h0M210.0 392.1h0M211.3 391.9h0M212.3 381.8h0M212.0 385.8h0M212.7 389.5h0M211.5 394.3h0M211.9 378.0h0M211.2 398.5h0M211.2 347.3h0M211.1 366.2h0M211.7 371.5h0M211.9 374.5h0" stroke="#111" stroke-width="1.24" stroke-linecap="round" fill="none"/>
<rect x="210.10" y="389.25" width="2.80" height="4.40" fill="#e3eef6" stroke="none" stroke-width="1" fill-opacity="0.85"/>
<circle cx="211.50" cy="391.95" r="0.9" fill="#111"/>
<text x="214.40" y="412.20" font-size="6.5" text-anchor="end" fill="#2b2b2b" transform="rotate(-45 214.40 412.20)" stroke="#2b2b2b" stroke-width="0.18">HD</text>
<polygon points="223.10,384.20 223.33,384.35 223.65,384.55 224.02,384.79 224.42,385.06 224.81,385.35 225.17,385.65 225.50,385.97 225.84,386.32 226.18,386.68 226.49,387.06 226.77,387.44 227.01,387.83 227.21,388.22 227.38,388.62 227.51,389.02 227.61,389.43 227.68,389.84 227.70,390.25 227.68,390.66 227.61,391.07 227.51,391.48 227.38,391.88 227.21,392.28 227.01,392.67 226.77,393.06 226.49,393.44 226.18,393.82 225.84,394.18 225.50,394.53 225.17,394.85 224.81,395.15 224.42,395.44 224.02,395.71 223.65,395.95 223.33,396.15 223.10,396.30 223.10,396.30 222.87,396.15 222.55,395.95 222.18,395.71 221.78,395.44 221.39,395.15 221.03,394.85 220.70,394.53 220.36,394.18 220.02,393.82 219.71,393.44 219.43,393.06 219.19,392.67 218.99,392.28 218.82,391.88 218.69,391.48 218.59,391.07 218.52,390.66 218.50,390.25 218.52,389.84 218.59,389.43 218.69,389.02 218.82,388.62 218.99,388.22 219.19,387.83 219.43,387.44 219.71,387.06 220.02,386.68 220.36,386.32 220.70,385.97 221.03,385.65 221.39,385.35 221.78,385.06 222.18,384.79 222.55,384.55 222.87,384.35 223.10,384.20" fill="#bedaef" stroke="#5f8db0" stroke-width="0.75"/>
<path d="M222.9 386.6h0M222.7 392.6h0M223.2 379.4h0M222.5 388.2h0M223.5 387.1h0M223.4 388.4h0M223.1 391.6h0M223.5 389.0h0M223.6 384.5h0M222.9 394.2h0M223.1 389.0h0M222.8 383.5h0M222.9 388.3h0M222.9 392.6h0M223.1 376.7h0M223.3 389.7h0M224.1 387.4h0M223.3 383.8h0M223.5 380.8h0M223.0 382.6h0M223.8 386.6h0M223.2 386.3h0M223.0 389.1h0M223.0 383.4h0M223.1 389.3h0M222.9 387.1h0M223.2 391.6h0M223.9 391.7h0M223.1 382.7h0M222.8 394.9h0M222.3 388.3h0M223.1 384.7h0M222.7 383.1h0M222.8 390.6h0M223.2 386.5h0M223.3 390.2h0M223.3 383.1h0M223.6 392.5h0M222.7 383.3h0M222.8 392.6h0M222.7 386.6h0M222.7 385.9h0M222.8 388.7h0M222.7 387.9h0M223.4 388.3h0M222.6 388.5h0M224.1 394.1h0M222.2 391.0h0M223.5 378.7h0M222.4 395.3h0M222.9 374.7h0M222.6 377.1h0M223.1 391.9h0M223.3 383.5h0M222.9 375.8h0M222.8 381.2h0M222.7 387.5h0M222.7 392.2h0M222.7 375.1h0M222.8 380.9h0M223.1 374.5h0M223.5 377.1h0M222.8 384.3h0M222.2 387.4h0M222.9 394.6h0M223.5 389.7h0M222.6 392.4h0M223.3 388.9h0M222.6 393.3h0M222.5 390.0h0M223.2 382.8h0M222.3 385.4h0M222.9 387.2h0M221.9 379.3h0M222.6 393.5h0M223.3 387.3h0M222.9 381.8h0M222.8 387.4h0M223.3 391.7h0M222.7 383.5h0M222.6 388.9h0M222.9 378.7h0M223.1 382.8h0M223.1 381.5h0M223.0 387.6h0M223.6 390.2h0M223.3 382.5h0M223.0 390.3h0M224.1 388.8h0M222.4 391.1h0M223.2 395.8h0M222.7 384.7h0M224.0 395.9h0M223.2 386.8h0M223.4 387.7h0M223.3 381.3h0M223.7 378.4h0M222.8 389.7h0M223.5 379.1h0M222.3 376.1h0M223.3 378.4h0M223.6 388.2h0M223.5 381.7h0M223.3 383.3h0M222.3 391.3h0M223.1 386.7h0M222.9 380.4h0M223.7 390.1h0M223.3 395.7h0M223.4 389.3h0M223.7 386.7h0M223.3 388.1h0M222.5 390.4h0M222.7 392.2h0M222.2 391.5h0M223.6 383.0h0M223.0 391.4h0M222.5 379.1h0M223.3 379.9h0M222.9 387.7h0M223.0 381.5h0M223.6 388.5h0M222.2 383.7h0M222.4 393.9h0M223.0 386.5h0M223.0 391.9h0M223.6 394.0h0M222.9 386.8h0M223.3 391.3h0M223.8 387.4h0M222.5 385.9h0M222.5 379.8h0M222.8 389.9h0M223.0 393.5h0M222.6 390.2h0M223.2 384.4h0M222.7 387.9h0M223.6 385.1h0M223.3 385.8h0M223.4 391.3h0M223.2 373.8h0M223.2 387.3h0M222.4 387.7h0M223.0 380.4h0M222.3 390.8h0M223.7 383.1h0M222.6 386.0h0M222.7 383.0h0M222.9 389.0h0M224.0 386.4h0M222.6 372.0h0M223.8 396.5h0" stroke="#111" stroke-width="1.24" stroke-linecap="round" fill="none"/>
<rect x="221.70" y="388.05" width="2.80" height="4.40" fill="#d2e6f4" stroke="none" stroke-width="1" fill-opacity="0.85"/>
<circle cx="223.10" cy="390.75" r="0.9" fill="#111"/>
<text x="226.00" y="412.20" font-size="6.5" text-anchor="end" fill="#2b2b2b" transform="rotate(-45 226.00 412.20)" stroke="#2b2b2b" stroke-width="0.18">HET</text>
<polygon points="235.00,384.20 235.25,384.31 235.59,384.45 236.00,384.62 236.44,384.82 236.86,385.03 237.25,385.24 237.61,385.47 237.98,385.72 238.34,385.98 238.69,386.26 238.99,386.53 239.25,386.81 239.46,387.09 239.65,387.38 239.80,387.67 239.91,387.96 239.98,388.26 240.00,388.55 239.98,388.84 239.91,389.14 239.80,389.43 239.65,389.72 239.46,390.01 239.25,390.29 238.99,390.57 238.69,390.84 238.34,391.12 237.98,391.38 237.61,391.63 237.25,391.86 236.86,392.07 236.44,392.28 236.00,392.48 235.59,392.65 235.25,392.79 235.00,392.90 235.00,392.90 234.75,392.79 234.41,392.65 234.00,392.48 233.56,392.28 233.14,392.07 232.75,391.86 232.39,391.63 232.02,391.38 231.66,391.12 231.31,390.84 231.01,390.57 230.75,390.29 230.54,390.01 230.35,389.72 230.20,389.43 230.09,389.14 230.02,388.84 230.00,388.55 230.02,388.26 230.09,387.96 230.20,387.67 230.35,387.38 230.54,387.09 230.75,386.81 231.01,386.53 231.31,386.26 231.66,385.98 232.02,385.72 232.39,385.47 232.75,385.24 233.14,385.03 233.56,384.82 234.00,384.62 234.41,384.45 234.75,384.31 235.00,384.20" fill="#7097bd" stroke="#46709a" stroke-width="0.75"/>
<path d="M235.2 385.2h0M235.1 391.9h0M234.6 389.4h0M235.0 384.2h0M235.1 389.8h0M234.5 383.9h0M234.6 386.8h0M234.9 386.7h0M235.8 386.2h0M235.1 386.5h0M234.4 384.0h0M235.5 386.9h0M235.4 382.7h0M235.3 390.3h0M234.7 386.4h0M234.9 389.7h0M235.9 387.2h0M235.5 392.4h0M237.0 391.0h0M234.2 389.6h0M234.3 390.7h0M234.8 391.4h0M234.6 391.6h0M234.7 387.1h0M235.3 388.7h0M235.6 382.2h0M234.4 386.6h0M235.2 386.2h0M235.4 388.9h0M235.1 379.9h0M235.6 390.0h0M235.5 382.3h0M234.6 387.2h0M235.0 387.8h0M235.1 390.7h0M234.5 389.0h0M234.9 383.7h0M235.4 389.3h0M235.2 385.0h0M235.0 388.9h0M236.1 387.1h0M235.3 392.0h0M235.4 387.4h0M234.6 385.5h0M235.5 386.0h0M234.8 392.0h0M234.9 386.4h0M234.8 385.1h0M234.4 388.2h0M235.2 389.3h0M234.4 391.8h0M235.4 382.4h0M234.6 386.2h0M235.5 389.7h0M235.1 387.9h0M235.5 389.5h0M234.5 389.4h0M235.2 382.7h0M235.3 381.7h0M235.1 384.2h0M234.9 385.9h0M234.7 384.3h0M233.6 385.7h0M235.2 383.1h0M234.4 380.9h0M234.5 388.1h0M235.2 390.0h0M233.8 383.9h0M234.7 382.7h0M235.3 389.8h0M235.0 378.8h0M234.9 393.5h0" stroke="#111" stroke-width="1.24" stroke-linecap="round" fill="none"/>
<rect x="233.60" y="386.35" width="2.80" height="4.40" fill="#9bb8d2" stroke="none" stroke-width="1" fill-opacity="0.85"/>
<circle cx="235.00" cy="389.05" r="0.9" fill="#111"/>
<text x="237.90" y="412.20" font-size="6.5" text-anchor="end" fill="#2b2b2b" transform="rotate(-45 237.90 412.20)" stroke="#2b2b2b" stroke-width="0.18">HR</text>
<polygon points="251.50,386.60 252.23,387.07 253.33,387.73 254.59,388.50 255.78,389.34 256.66,390.17 257.00,390.95 256.66,391.73 255.78,392.56 254.59,393.40 253.33,394.17 252.23,394.83 251.50,395.30 251.50,395.30 250.77,394.83 249.67,394.17 248.41,393.40 247.22,392.56 246.34,391.73 246.00,390.95 246.34,390.17 247.22,389.34 248.41,388.50 249.67,387.73 250.77,387.07 251.50,386.60" fill="#f6fafd" stroke="#7f9fb8" stroke-width="0.75"/>
<path d="M251.4 388.0h0M250.7 384.3h0M250.5 389.4h0M251.3 391.9h0M252.3 393.7h0M251.4 388.7h0M251.3 391.4h0M251.8 378.9h0M251.3 390.9h0M251.3 395.0h0M251.6 390.3h0M251.7 388.4h0M251.2 388.7h0M251.1 387.1h0M252.2 382.1h0M251.1 382.6h0M251.1 392.7h0M251.4 388.8h0M251.4 376.9h0M251.6 390.3h0M252.2 393.2h0M252.1 390.8h0M251.5 382.1h0M251.6 395.6h0M251.9 382.2h0M251.4 388.7h0M251.6 387.9h0M251.0 381.7h0M251.7 384.2h0M251.5 382.3h0M250.9 381.8h0M251.6 377.1h0M252.5 390.7h0M251.7 391.0h0M251.1 383.9h0M252.1 395.6h0M251.7 387.3h0M251.6 387.8h0M252.2 395.0h0M251.9 390.8h0M252.4 388.0h0M251.1 392.1h0M251.3 392.0h0M251.5 385.1h0M251.6 378.5h0M251.0 391.9h0M251.6 392.1h0M250.9 390.1h0M251.2 380.3h0M251.4 392.1h0M251.6 382.0h0M251.6 392.8h0M251.2 390.4h0M251.7 390.6h0M251.6 378.7h0M251.5 386.2h0M251.5 391.9h0M251.3 380.1h0M252.3 377.0h0M252.1 387.1h0M251.6 393.6h0M252.1 390.5h0M251.1 383.4h0M251.3 379.0h0M251.4 393.3h0M251.7 393.4h0M251.4 391.5h0M251.1 382.8h0M250.8 392.2h0M251.0 374.7h0M251.9 381.9h0M251.7 385.3h0M250.9 395.7h0M252.3 376.8h0M251.3 381.6h0M251.3 391.9h0M251.4 392.3h0M251.5 384.2h0M251.3 378.8h0M251.5 393.6h0M251.8 396.2h0M251.9 394.6h0M251.2 389.6h0M251.4 379.1h0M251.2 392.0h0M251.3 390.8h0M251.5 393.3h0M251.4 392.3h0M251.8 388.6h0M251.1 396.4h0M251.7 387.9h0M251.8 387.7h0M251.4 390.6h0M251.4 392.6h0M251.8 389.9h0M251.3 395.3h0M251.4 384.3h0M251.6 394.3h0M250.4 394.0h0M251.8 385.8h0M251.6 376.3h0M251.8 390.1h0M250.9 390.4h0M251.3 395.8h0M251.7 389.4h0M251.7 391.8h0M251.2 392.3h0M251.3 381.8h0M252.2 391.0h0M251.6 387.5h0M252.1 383.0h0M250.9 384.4h0M251.7 386.2h0M251.3 391.9h0M251.3 389.4h0M252.1 385.3h0M251.0 377.8h0M251.1 392.6h0M251.2 392.2h0M251.4 393.3h0M251.5 392.6h0M251.7 378.2h0M252.1 384.5h0M251.7 387.9h0M252.3 384.9h0M252.0 393.1h0M251.7 382.8h0M251.4 375.2h0M252.1 387.7h0M251.4 377.6h0M251.9 376.3h0M251.5 390.2h0M251.3 390.1h0M251.8 389.2h0M251.8 378.5h0M251.6 389.5h0M252.0 388.9h0M251.6 385.0h0M251.2 383.2h0M251.5 381.5h0M252.3 388.3h0M251.1 386.2h0M250.7 389.9h0M251.5 391.1h0M251.0 384.4h0M252.1 390.2h0M251.6 384.0h0M251.1 392.1h0M251.5 382.7h0M251.1 390.0h0M251.7 372.5h0M251.9 398.3h0" stroke="#111" stroke-width="1.24" stroke-linecap="round" fill="none"/>
<rect x="250.10" y="388.75" width="2.80" height="4.40" fill="#e3eef6" stroke="none" stroke-width="1" fill-opacity="0.85"/>
<circle cx="251.50" cy="391.45" r="0.9" fill="#111"/>
<text x="254.40" y="412.20" font-size="6.5" text-anchor="end" fill="#2b2b2b" transform="rotate(-45 254.40 412.20)" stroke="#2b2b2b" stroke-width="0.18">HD</text>
<polygon points="263.40,384.70 263.63,384.83 263.95,384.99 264.32,385.20 264.72,385.43 265.11,385.67 265.47,385.92 265.80,386.19 266.14,386.48 266.48,386.79 266.79,387.11 267.07,387.44 267.31,387.76 267.51,388.09 267.68,388.42 267.81,388.77 267.91,389.11 267.98,389.46 268.00,389.80 267.98,390.14 267.91,390.49 267.81,390.83 267.68,391.18 267.51,391.51 267.31,391.84 267.07,392.16 266.79,392.49 266.48,392.81 266.14,393.12 265.80,393.41 265.47,393.68 265.11,393.93 264.72,394.17 264.32,394.40 263.95,394.61 263.63,394.77 263.40,394.90 263.40,394.90 263.17,394.77 262.85,394.61 262.48,394.40 262.08,394.17 261.69,393.93 261.33,393.68 261.00,393.41 260.66,393.12 260.32,392.81 260.01,392.49 259.73,392.16 259.49,391.84 259.29,391.51 259.12,391.18 258.99,390.83 258.89,390.49 258.82,390.14 258.80,389.80 258.82,389.46 258.89,389.11 258.99,388.77 259.12,388.42 259.29,388.09 259.49,387.76 259.73,387.44 260.01,387.11 260.32,386.79 260.66,386.48 261.00,386.19 261.33,385.92 261.69,385.67 262.08,385.43 262.48,385.20 262.85,384.99 263.17,384.83 263.40,384.70" fill="#bedaef" stroke="#5f8db0" stroke-width="0.75"/>
<path d="M262.8 378.1h0M263.2 390.4h0M263.8 382.1h0M263.2 387.0h0M263.2 391.7h0M263.6 388.7h0M263.4 393.4h0M263.0 390.5h0M263.5 390.1h0M263.7 390.8h0M262.6 390.0h0M263.8 393.7h0M262.6 388.6h0M263.7 389.6h0M262.8 387.9h0M263.5 387.6h0M263.4 394.2h0M263.9 383.2h0M263.4 380.5h0M263.2 387.1h0M263.1 383.5h0M263.5 390.4h0M263.3 389.2h0M263.8 371.1h0M263.6 381.0h0M264.0 389.0h0M263.7 385.2h0M263.5 389.9h0M263.4 386.5h0M263.7 378.0h0M263.7 390.0h0M262.8 395.2h0M263.6 377.3h0M263.2 388.9h0M263.5 388.9h0M263.8 388.9h0M262.5 387.1h0M263.4 387.2h0M263.9 396.0h0M262.6 392.7h0M263.5 385.9h0M263.4 391.8h0M263.2 389.7h0M263.8 391.7h0M263.8 396.7h0M263.4 376.4h0M264.0 381.1h0M264.1 381.6h0M263.5 391.8h0M263.8 393.8h0M263.8 381.5h0M264.2 386.8h0M263.8 393.0h0M263.7 390.5h0M263.5 388.5h0M263.7 393.1h0M264.1 393.8h0M263.4 377.3h0M263.4 394.9h0M263.0 383.0h0M264.6 388.9h0M263.2 390.9h0M263.2 383.1h0M263.2 383.3h0M263.9 393.4h0M263.6 391.5h0M262.5 395.3h0M263.5 377.4h0M264.2 389.1h0M263.4 390.7h0M263.5 394.6h0M264.7 390.5h0M263.3 382.8h0M263.3 377.7h0M263.7 380.0h0M264.5 382.3h0M263.6 388.2h0M262.7 383.7h0M263.3 379.3h0M263.3 377.1h0M263.7 390.0h0M263.3 391.8h0M263.5 378.5h0M262.8 387.3h0M262.9 395.5h0M263.4 384.5h0M264.1 387.6h0M263.0 391.7h0M262.7 373.7h0M263.9 392.7h0M263.6 391.2h0M263.8 390.7h0M263.3 384.1h0M263.5 386.9h0M263.4 394.2h0M263.4 376.0h0M264.2 376.9h0M263.2 389.3h0M263.2 394.5h0M263.4 379.3h0M263.3 380.5h0M264.2 386.4h0M263.3 391.4h0M263.6 388.1h0M262.9 389.6h0M263.7 375.5h0M263.7 380.8h0M263.7 388.5h0M262.7 390.5h0M263.1 377.3h0M262.2 377.3h0M264.2 383.5h0M263.4 385.5h0M264.1 383.9h0M264.3 379.9h0M263.9 376.6h0M263.1 389.4h0M263.3 394.5h0M263.8 389.2h0M262.5 393.7h0M264.0 378.6h0M264.1 388.9h0M263.8 384.6h0M263.3 392.3h0M263.6 388.7h0M262.7 388.9h0M263.0 393.6h0M263.2 394.6h0M263.1 378.9h0M264.2 386.0h0M263.6 377.0h0M262.3 388.1h0M263.9 381.4h0M263.6 390.2h0M263.3 384.4h0M263.1 372.1h0M264.3 393.0h0M263.5 378.6h0M263.5 382.5h0M262.7 387.4h0M263.2 375.8h0M263.8 391.2h0M263.5 390.4h0M263.2 378.3h0M263.3 389.0h0M262.7 378.6h0M262.3 387.6h0M263.7 377.4h0M262.8 382.8h0M262.7 386.2h0M263.6 370.0h0M263.8 397.3h0" stroke="#111" stroke-width="1.24" stroke-linecap="round" fill="none"/>
<rect x="262.00" y="387.60" width="2.80" height="4.40" fill="#d2e6f4" stroke="none" stroke-width="1" fill-opacity="0.85"/>
<circle cx="263.40" cy="390.30" r="0.9" fill="#111"/>
<text x="266.30" y="412.20" font-size="6.5" text-anchor="end" fill="#2b2b2b" transform="rotate(-45 266.30 412.20)" stroke="#2b2b2b" stroke-width="0.18">HET</text>
<line x1="275.00" y1="365.70" x2="275.00" y2="378.80" stroke="#888" stroke-width="0.6" />
<polygon points="275.00,378.80 275.16,379.32 275.37,380.04 275.62,380.90 275.89,381.80 276.18,382.69 276.47,383.48 276.77,384.18 277.11,384.87 277.45,385.53 277.79,386.17 278.10,386.78 278.36,387.38 278.59,387.95 278.80,388.51 278.98,389.04 279.11,389.55 279.19,390.03 279.20,390.50 279.13,390.94 279.00,391.37 278.81,391.77 278.56,392.15 278.27,392.50 277.94,392.84 277.51,393.16 276.98,393.48 276.39,393.77 275.82,394.02 275.34,394.24 275.00,394.40 275.00,394.40 274.66,394.24 274.18,394.02 273.61,393.77 273.02,393.48 272.49,393.16 272.06,392.84 271.73,392.50 271.44,392.15 271.19,391.77 271.00,391.37 270.87,390.94 270.80,390.50 270.81,390.03 270.89,389.55 271.02,389.04 271.20,388.51 271.41,387.95 271.64,387.38 271.90,386.78 272.21,386.17 272.55,385.53 272.89,384.87 273.23,384.18 273.53,383.48 273.82,382.69 274.11,381.80 274.38,380.90 274.63,380.04 274.84,379.32 275.00,378.80" fill="#7097bd" stroke="#46709a" stroke-width="0.75"/>
<path d="M274.7 386.3h0M274.7 387.9h0M275.3 389.9h0M275.2 393.6h0M275.1 391.7h0M275.6 390.9h0M274.6 393.0h0M274.5 389.7h0M275.0 389.7h0M275.0 384.0h0M275.1 387.2h0M275.2 387.8h0M274.3 384.2h0M275.7 391.6h0M274.2 387.0h0M275.2 385.8h0M275.2 383.8h0M275.4 388.2h0M275.1 386.7h0M274.6 392.4h0M274.9 388.9h0M274.4 387.4h0M274.9 384.9h0M274.9 383.2h0M274.2 389.3h0M276.0 388.7h0M274.7 387.9h0M275.3 388.0h0M275.6 387.3h0M275.0 391.7h0M274.8 383.3h0M274.5 385.7h0M274.7 390.3h0M274.7 386.5h0M274.9 386.6h0M275.4 387.4h0M275.1 386.3h0M275.7 389.9h0M275.2 384.0h0M275.1 388.3h0M273.6 389.5h0M274.9 386.7h0M275.1 389.7h0M274.3 386.8h0M275.0 388.8h0M274.7 384.1h0M274.9 386.5h0M275.0 388.3h0M274.9 388.7h0M275.0 387.7h0M275.2 382.9h0M275.2 388.2h0M274.7 391.1h0M275.4 386.1h0M275.0 385.5h0M275.2 388.8h0M275.8 385.7h0M275.8 384.1h0M276.0 383.7h0M274.9 388.8h0M275.2 391.3h0M275.2 390.1h0M275.1 388.5h0M274.9 391.2h0M275.4 390.9h0M275.5 386.1h0M276.0 387.0h0M274.8 393.0h0M275.2 392.3h0M274.7 388.9h0M274.9 381.0h0M273.9 394.5h0" stroke="#111" stroke-width="1.24" stroke-linecap="round" fill="none"/>
<rect x="273.60" y="384.40" width="2.80" height="4.40" fill="#9bb8d2" stroke="none" stroke-width="1" fill-opacity="0.85"/>
<circle cx="275.00" cy="387.10" r="0.9" fill="#111"/>
<text x="277.90" y="412.20" font-size="6.5" text-anchor="end" fill="#2b2b2b" transform="rotate(-45 277.90 412.20)" stroke="#2b2b2b" stroke-width="0.18">HR</text>
<polygon points="291.50,385.60 291.73,385.73 292.05,385.91 292.42,386.12 292.82,386.36 293.21,386.62 293.57,386.88 293.90,387.17 294.24,387.47 294.58,387.79 294.89,388.13 295.17,388.47 295.41,388.81 295.61,389.15 295.78,389.51 295.91,389.87 296.01,390.23 296.08,390.59 296.10,390.95 296.08,391.31 296.01,391.67 295.91,392.03 295.78,392.39 295.61,392.75 295.41,393.09 295.17,393.43 294.89,393.77 294.58,394.11 294.24,394.43 293.90,394.73 293.57,395.02 293.21,395.28 292.82,395.54 292.42,395.78 292.05,395.99 291.73,396.17 291.50,396.30 291.50,396.30 291.27,396.17 290.95,395.99 290.58,395.78 290.18,395.54 289.79,395.28 289.43,395.02 289.10,394.73 288.76,394.43 288.42,394.11 288.11,393.77 287.83,393.43 287.59,393.09 287.39,392.75 287.22,392.39 287.09,392.03 286.99,391.67 286.92,391.31 286.90,390.95 286.92,390.59 286.99,390.23 287.09,389.87 287.22,389.51 287.39,389.15 287.59,388.81 287.83,388.47 288.11,388.13 288.42,387.79 288.76,387.47 289.10,387.17 289.43,386.88 289.79,386.62 290.18,386.36 290.58,386.12 290.95,385.91 291.27,385.73 291.50,385.60" fill="#f6fafd" stroke="#7f9fb8" stroke-width="0.75"/>
<path d="M291.0 394.8h0M291.5 396.4h0M291.0 392.9h0M291.5 393.2h0M291.2 392.3h0M291.0 388.9h0M292.0 390.8h0M291.7 395.4h0M291.5 390.8h0M292.1 380.2h0M290.8 389.3h0M291.7 394.3h0M292.2 392.3h0M291.3 389.7h0M291.1 395.5h0M291.1 392.8h0M292.1 385.8h0M292.0 392.3h0M291.6 394.3h0M291.9 378.8h0M291.2 395.5h0M291.3 389.1h0M291.9 394.0h0M291.1 379.4h0M291.6 387.4h0M291.5 387.2h0M291.1 385.7h0M291.6 391.8h0M290.9 393.3h0M291.2 391.7h0M290.6 395.0h0M290.9 383.4h0M291.1 386.9h0M291.7 388.6h0M291.5 393.3h0M290.9 392.6h0M291.4 397.2h0M292.5 394.4h0M291.5 390.3h0M291.7 392.7h0M290.5 393.6h0M291.3 390.2h0M292.0 392.0h0M290.8 394.1h0M291.1 393.8h0M291.2 384.4h0M291.4 380.5h0M291.8 392.3h0M290.7 393.6h0M291.8 385.1h0M290.3 394.0h0M291.1 392.8h0M291.7 384.6h0M291.0 384.4h0M291.1 391.8h0M291.2 391.4h0M292.2 384.5h0M291.0 394.9h0M291.9 385.6h0M292.4 393.8h0M291.3 395.7h0M291.1 383.6h0M291.5 392.2h0M291.0 390.5h0M291.3 395.1h0M291.0 389.2h0M290.8 388.8h0M290.8 386.0h0M291.9 394.0h0M291.2 387.4h0M291.0 395.0h0M292.0 380.7h0M291.4 394.6h0M291.3 379.8h0M291.1 392.5h0M291.5 395.8h0M291.3 387.5h0M291.3 391.0h0M291.4 388.8h0M291.8 381.9h0M291.4 393.9h0M292.1 389.9h0M291.9 393.4h0M291.0 380.8h0M291.0 384.6h0M290.9 385.9h0M291.1 393.6h0M291.8 380.1h0M291.3 380.1h0M291.3 388.3h0M291.5 388.4h0M290.5 394.0h0M291.6 394.1h0M291.4 386.1h0M291.8 392.7h0M291.3 388.0h0M291.9 393.0h0M292.0 391.8h0M291.3 382.1h0M291.7 389.6h0M291.1 388.9h0M291.1 389.4h0M291.0 390.6h0M291.4 392.1h0M290.9 388.6h0M291.0 390.2h0M291.4 393.7h0M290.8 392.0h0M291.7 385.2h0M291.1 384.0h0M291.4 386.6h0M291.3 395.9h0M291.9 388.4h0M291.7 394.5h0M291.4 396.2h0M291.2 392.2h0M291.9 388.2h0M291.4 392.7h0M291.0 390.0h0M291.5 395.9h0M291.8 390.0h0M291.5 391.5h0M291.5 392.1h0M292.1 391.5h0M291.2 384.9h0M291.8 390.8h0M292.2 389.0h0M292.2 392.0h0M290.9 393.0h0M291.7 385.5h0M291.5 388.2h0M292.6 386.4h0M292.0 396.1h0M291.9 389.8h0M292.0 389.3h0M291.7 396.2h0M291.0 393.1h0M292.5 394.1h0M290.7 390.0h0M291.8 383.7h0M291.8 388.2h0M291.6 382.5h0M291.9 388.6h0M291.5 389.3h0M291.8 389.7h0M291.6 396.7h0M291.1 390.3h0M291.9 384.6h0M291.2 384.9h0M291.8 392.0h0M291.0 377.4h0M291.6 398.3h0" stroke="#111" stroke-width="1.24" stroke-linecap="round" fill="none"/>
<rect x="290.10" y="388.75" width="2.80" height="4.40" fill="#e3eef6" stroke="none" stroke-width="1" fill-opacity="0.85"/>
<circle cx="291.50" cy="391.45" r="0.9" fill="#111"/>
<text x="294.40" y="412.20" font-size="6.5" text-anchor="end" fill="#2b2b2b" transform="rotate(-45 294.40 412.20)" stroke="#2b2b2b" stroke-width="0.18">HD</text>
<polygon points="303.40,385.00 303.63,385.14 303.95,385.32 304.32,385.54 304.72,385.78 305.11,386.05 305.47,386.32 305.80,386.61 306.14,386.92 306.48,387.25 306.79,387.60 307.07,387.95 307.31,388.30 307.51,388.65 307.68,389.02 307.81,389.39 307.91,389.76 307.98,390.13 308.00,390.50 307.98,390.87 307.91,391.24 307.81,391.61 307.68,391.98 307.51,392.35 307.31,392.70 307.07,393.05 306.79,393.40 306.48,393.75 306.14,394.08 305.80,394.39 305.47,394.68 305.11,394.95 304.72,395.22 304.32,395.46 303.95,395.68 303.63,395.86 303.40,396.00 303.40,396.00 303.17,395.86 302.85,395.68 302.48,395.46 302.08,395.22 301.69,394.95 301.33,394.68 301.00,394.39 300.66,394.08 300.32,393.75 300.01,393.40 299.73,393.05 299.49,392.70 299.29,392.35 299.12,391.98 298.99,391.61 298.89,391.24 298.82,390.87 298.80,390.50 298.82,390.13 298.89,389.76 298.99,389.39 299.12,389.02 299.29,388.65 299.49,388.30 299.73,387.95 300.01,387.60 300.32,387.25 300.66,386.92 301.00,386.61 301.33,386.32 301.69,386.05 302.08,385.78 302.48,385.54 302.85,385.32 303.17,385.14 303.40,385.00" fill="#bedaef" stroke="#5f8db0" stroke-width="0.75"/>
<path d="M303.3 384.7h0M303.7 389.7h0M303.0 390.3h0M303.3 390.3h0M303.3 392.1h0M303.0 388.9h0M303.5 385.3h0M303.3 394.8h0M304.3 383.3h0M303.7 386.8h0M303.3 388.4h0M303.1 388.4h0M303.1 385.2h0M303.1 393.5h0M303.0 386.8h0M303.4 390.0h0M302.8 390.7h0M303.2 383.6h0M303.6 388.6h0M303.1 383.6h0M302.9 390.0h0M303.2 392.0h0M303.8 393.4h0M303.0 394.8h0M304.1 383.1h0M302.6 388.9h0M303.0 391.3h0M303.7 387.8h0M304.0 394.9h0M303.3 389.4h0M302.6 393.6h0M303.3 381.8h0M303.0 388.0h0M303.1 391.6h0M303.2 393.2h0M303.1 389.4h0M303.4 393.4h0M303.4 392.3h0M303.2 388.4h0M302.6 391.7h0M303.3 389.6h0M302.2 383.1h0M303.4 394.0h0M303.2 393.2h0M303.0 393.9h0M304.3 385.7h0M304.1 392.4h0M304.0 380.7h0M303.5 389.5h0M303.2 386.8h0M303.6 389.5h0M304.1 387.9h0M303.3 390.0h0M303.3 388.6h0M303.1 392.3h0M303.3 391.2h0M303.8 386.4h0M303.0 385.0h0M303.8 385.7h0M303.4 387.1h0M304.4 388.5h0M303.5 389.5h0M303.9 392.3h0M302.9 395.9h0M304.5 386.1h0M303.4 386.7h0M303.3 389.7h0M304.1 378.8h0M303.4 391.0h0M302.8 380.7h0M303.7 390.5h0M303.6 390.5h0M303.4 387.9h0M303.2 396.3h0M302.7 386.9h0M304.1 379.6h0M303.2 383.0h0M303.5 385.8h0M303.2 392.0h0M303.1 392.1h0M303.5 387.5h0M303.0 393.8h0M303.8 384.3h0M302.7 385.5h0M303.6 390.3h0M303.9 389.8h0M303.2 392.6h0M303.5 386.9h0M303.8 394.1h0M303.2 390.9h0M303.3 391.6h0M303.3 390.3h0M304.6 385.2h0M303.0 390.2h0M303.3 394.8h0M303.2 379.5h0M303.1 387.2h0M303.0 386.9h0M303.1 386.0h0M303.5 392.4h0M303.9 391.1h0M304.1 383.7h0M302.8 391.7h0M302.9 393.7h0M303.4 381.8h0M302.9 379.7h0M303.0 390.6h0M303.3 393.8h0M303.1 390.0h0M303.0 389.5h0M303.5 388.3h0M303.0 390.2h0M303.3 394.3h0M303.5 390.6h0M303.7 392.1h0M303.5 389.0h0M303.9 393.8h0M303.4 392.4h0M302.7 389.6h0M304.0 386.8h0M304.7 386.7h0M303.7 395.8h0M304.1 391.0h0M303.9 381.9h0M303.2 389.7h0M303.7 388.5h0M303.1 390.6h0M303.1 386.5h0M303.6 394.1h0M303.4 389.2h0M303.1 393.0h0M302.8 386.1h0M303.7 393.9h0M303.4 390.0h0M303.4 390.0h0M303.0 388.6h0M303.0 394.8h0M303.4 390.2h0M302.6 389.9h0M303.9 387.7h0M303.4 388.9h0M303.9 386.3h0M303.8 388.8h0M303.1 386.2h0M303.6 382.1h0M302.9 387.7h0M303.0 380.2h0M304.0 391.3h0M303.1 382.7h0M303.0 394.1h0M303.6 377.4h0M303.4 397.3h0M303.8 371.6h0" stroke="#111" stroke-width="1.24" stroke-linecap="round" fill="none"/>
<rect x="302.00" y="388.30" width="2.80" height="4.40" fill="#d2e6f4" stroke="none" stroke-width="1" fill-opacity="0.85"/>
<circle cx="303.40" cy="391.00" r="0.9" fill="#111"/>
<text x="306.30" y="412.20" font-size="6.5" text-anchor="end" fill="#2b2b2b" transform="rotate(-45 306.30 412.20)" stroke="#2b2b2b" stroke-width="0.18">HET</text>
<polygon points="315.50,382.70 316.23,383.39 317.33,384.33 318.59,385.46 319.78,386.67 320.66,387.88 321.00,389.00 320.66,390.12 319.78,391.33 318.59,392.54 317.33,393.67 316.23,394.61 315.50,395.30 315.50,395.30 314.77,394.61 313.67,393.67 312.41,392.54 311.22,391.33 310.34,390.12 310.00,389.00 310.34,387.88 311.22,386.67 312.41,385.46 313.67,384.33 314.77,383.39 315.50,382.70" fill="#7097bd" stroke="#46709a" stroke-width="0.75"/>
<path d="M314.9 390.7h0M315.5 388.7h0M316.4 391.1h0M315.8 382.5h0M316.1 390.4h0M315.4 392.3h0M315.6 388.1h0M315.4 391.0h0M315.9 390.6h0M315.6 389.0h0M314.7 391.3h0M315.7 388.8h0M315.4 384.3h0M315.6 389.2h0M315.9 391.1h0M315.4 385.1h0M315.8 388.6h0M315.5 391.9h0M315.5 381.3h0M315.3 392.2h0M315.4 387.5h0M315.4 387.6h0M315.8 390.6h0M314.5 389.6h0M315.7 386.8h0M315.5 384.9h0M315.0 388.2h0M315.8 392.6h0M315.5 394.9h0M315.7 390.8h0M316.1 390.6h0M315.6 390.5h0M314.8 392.9h0M314.8 385.0h0M315.5 384.7h0M315.0 392.0h0M316.5 381.6h0M315.5 389.2h0M314.7 388.0h0M314.5 393.0h0M315.3 390.0h0M314.4 385.9h0M315.7 383.1h0M314.5 388.7h0M315.9 389.4h0M315.3 388.7h0M316.0 389.7h0M315.0 383.0h0M315.3 387.6h0M316.0 391.8h0M314.8 386.8h0M315.8 385.4h0M316.1 385.3h0M315.0 393.3h0M315.4 392.3h0M316.2 388.0h0M316.2 387.2h0M316.2 387.7h0M315.4 392.5h0M315.3 392.8h0M315.4 393.6h0M315.3 392.1h0M315.9 390.5h0M315.9 384.2h0M315.7 393.4h0M315.2 385.1h0M315.8 391.0h0M315.7 387.5h0M315.6 382.3h0M316.0 390.3h0M315.3 379.8h0M315.6 395.5h0" stroke="#111" stroke-width="1.24" stroke-linecap="round" fill="none"/>
<rect x="314.10" y="386.80" width="2.80" height="4.40" fill="#9bb8d2" stroke="none" stroke-width="1" fill-opacity="0.85"/>
<circle cx="315.50" cy="389.50" r="0.9" fill="#111"/>
<text x="318.40" y="412.20" font-size="6.5" text-anchor="end" fill="#2b2b2b" transform="rotate(-45 318.40 412.20)" stroke="#2b2b2b" stroke-width="0.18">HR</text>
<polyline points="223.10,319.10 223.10,317.50 235.00,317.50 235.00,319.10" stroke="#555" fill="none" stroke-width="0.7" />
<text x="229.05" y="316.30" font-size="6.0" text-anchor="middle" fill="#333" stroke="#333" stroke-width="0.18">ns</text>
<polyline points="211.50,330.35 211.50,328.75 235.00,328.75 235.00,330.35" stroke="#555" fill="none" stroke-width="0.7" />
<text x="223.25" y="327.55" font-size="6.0" text-anchor="middle" fill="#333" stroke="#333" stroke-width="0.18">****</text>
<polyline points="211.50,341.60 211.50,340.00 223.10,340.00 223.10,341.60" stroke="#555" fill="none" stroke-width="0.7" />
<text x="217.30" y="338.80" font-size="6.0" text-anchor="middle" fill="#333" stroke="#333" stroke-width="0.18">***</text>
<polyline points="263.40,346.00 263.40,344.40 275.00,344.40 275.00,346.00" stroke="#555" fill="none" stroke-width="0.7" />
<text x="269.20" y="343.20" font-size="6.0" text-anchor="middle" fill="#333" stroke="#333" stroke-width="0.18">ns</text>
<polyline points="251.50,353.70 251.50,352.10 275.00,352.10 275.00,353.70" stroke="#555" fill="none" stroke-width="0.7" />
<text x="263.25" y="350.90" font-size="6.0" text-anchor="middle" fill="#333" stroke="#333" stroke-width="0.18">*</text>
<polyline points="251.50,361.00 251.50,359.40 263.40,359.40 263.40,361.00" stroke="#555" fill="none" stroke-width="0.7" />
<text x="257.45" y="358.20" font-size="6.0" text-anchor="middle" fill="#333" stroke="#333" stroke-width="0.18">****</text>
<polyline points="303.40,355.70 303.40,354.10 315.50,354.10 315.50,355.70" stroke="#555" fill="none" stroke-width="0.7" />
<text x="309.45" y="352.90" font-size="6.0" text-anchor="middle" fill="#333" stroke="#333" stroke-width="0.18">ns</text>
<polyline points="291.50,362.00 291.50,360.40 315.50,360.40 315.50,362.00" stroke="#555" fill="none" stroke-width="0.7" />
<text x="303.50" y="359.20" font-size="6.0" text-anchor="middle" fill="#333" stroke="#333" stroke-width="0.18">*</text>
<polyline points="291.50,367.80 291.50,366.20 303.40,366.20 303.40,367.80" stroke="#555" fill="none" stroke-width="0.7" />
<text x="297.45" y="365.00" font-size="6.0" text-anchor="middle" fill="#333" stroke="#333" stroke-width="0.18">****</text>
<text x="264.00" y="431.20" font-size="8.56" text-anchor="middle" fill="#161616" font-weight="bold" textLength="14.3" lengthAdjust="spacingAndGlyphs">Group</text>
<text x="218.00" y="440.60" font-size="6.3" text-anchor="start" fill="#2b2b2b" stroke="#2b2b2b" stroke-width="0.18">Group</text>
<rect x="243.00" y="436.20" width="4.40" height="4.40" fill="#a3a3a3" stroke="none" stroke-width="1" />
<rect x="243.80" y="437.00" width="2.80" height="2.80" fill="#dbe9f3" stroke="none" stroke-width="1" />
<line x1="243.50" y1="438.40" x2="246.90" y2="438.40" stroke="#333" stroke-width="0.7" />
<text x="248.80" y="440.60" font-size="6.3" text-anchor="start" fill="#2b2b2b" stroke="#2b2b2b" stroke-width="0.18">HD</text>
<rect x="268.50" y="436.20" width="4.40" height="4.40" fill="#a3a3a3" stroke="none" stroke-width="1" />
<rect x="269.30" y="437.00" width="2.80" height="2.80" fill="#93c0e0" stroke="none" stroke-width="1" />
<line x1="269.00" y1="438.40" x2="272.40" y2="438.40" stroke="#333" stroke-width="0.7" />
<text x="274.30" y="440.60" font-size="6.3" text-anchor="start" fill="#2b2b2b" stroke="#2b2b2b" stroke-width="0.18">HET</text>
<rect x="295.50" y="436.20" width="4.40" height="4.40" fill="#a3a3a3" stroke="none" stroke-width="1" />
<rect x="296.30" y="437.00" width="2.80" height="2.80" fill="#345" stroke="none" stroke-width="1" />
<line x1="296.00" y1="438.40" x2="299.40" y2="438.40" stroke="#333" stroke-width="0.7" />
<text x="301.30" y="440.60" font-size="6.3" text-anchor="start" fill="#2b2b2b" stroke="#2b2b2b" stroke-width="0.18">HR</text>
<text x="341.00" y="15.90" font-size="10.8" font-weight="bold" fill="#111" stroke="#111" stroke-width="0.35">F</text>
<text x="433.70" y="26.50" font-size="5.95" text-anchor="middle" fill="#2b2b2b" stroke="#2b2b2b" stroke-width="0.18">GPX protein levels by Storage (day)</text>
<rect x="375.00" y="73.47" width="117.76" height="25.20" fill="#d8d8d8" stroke="none" stroke-width="1" fill-opacity="0.85"/>
<rect x="375.00" y="77.91" width="117.76" height="19.42" fill="#c2c2c2" stroke="none" stroke-width="1" fill-opacity="0.6"/>
<polyline points="375.00,36.28 398.92,70.69 422.84,77.35 459.64,78.46 492.76,77.35" stroke="#d4d4d4" fill="none" stroke-width="0.6" stroke-opacity="0.7"/>
<polyline points="375.00,58.48 398.92,74.02 422.84,68.47 459.64,76.24 492.76,75.69" stroke="#d4d4d4" fill="none" stroke-width="0.6" stroke-opacity="0.7"/>
<polyline points="375.00,66.25 398.92,75.13 422.84,58.48 459.64,72.91 492.76,66.25" stroke="#d4d4d4" fill="none" stroke-width="0.6" stroke-opacity="0.7"/>
<polyline points="375.00,68.47 398.92,77.35 422.84,65.14 459.64,75.13 492.76,71.80" stroke="#d4d4d4" fill="none" stroke-width="0.6" stroke-opacity="0.7"/>
<polyline points="375.00,71.80 398.92,76.24 422.84,67.36 459.64,77.35 492.76,74.02" stroke="#d4d4d4" fill="none" stroke-width="0.6" stroke-opacity="0.7"/>
<polyline points="375.00,65.14 398.92,71.80 422.84,71.80 459.64,75.13 492.76,75.13" stroke="#d4d4d4" fill="none" stroke-width="0.6" stroke-opacity="0.7"/>
<polyline points="375.00,67.36 398.92,72.91 422.84,70.69 459.64,77.35 492.76,76.24" stroke="#d4d4d4" fill="none" stroke-width="0.6" stroke-opacity="0.7"/>
<polyline points="375.00,70.69 398.92,78.46 422.84,72.91 459.64,74.02 492.76,76.24" stroke="#d4d4d4" fill="none" stroke-width="0.6" stroke-opacity="0.7"/>
<polyline points="375.00,72.91 398.92,75.13 422.84,68.47 459.64,78.46 492.76,71.80" stroke="#d4d4d4" fill="none" stroke-width="0.6" stroke-opacity="0.7"/>
<polyline points="375.00,68.47 398.92,76.24 422.84,74.02 459.64,77.35 492.76,72.91" stroke="#d4d4d4" fill="none" stroke-width="0.6" stroke-opacity="0.7"/>
<polyline points="375.00,86.62 398.92,90.79 422.84,89.13 459.64,89.47 492.76,94.94" stroke="#8a8a8a" fill="none" stroke-width="0.5" stroke-opacity="0.10"/>
<polyline points="375.00,79.04 398.92,84.51 422.84,86.27 459.64,84.07 492.76,84.23" stroke="#8a8a8a" fill="none" stroke-width="0.5" stroke-opacity="0.10"/>
<polyline points="375.00,97.81 398.92,98.44 422.84,94.30 459.64,95.95 492.76,96.26" stroke="#8a8a8a" fill="none" stroke-width="0.5" stroke-opacity="0.10"/>
<polyline points="375.00,76.16 398.92,78.13 422.84,78.08 459.64,77.13 492.76,78.58" stroke="#8a8a8a" fill="none" stroke-width="0.5" stroke-opacity="0.10"/>
<polyline points="375.00,78.20 398.92,79.38 422.84,83.48 459.64,80.92 492.76,81.30" stroke="#8a8a8a" fill="none" stroke-width="0.5" stroke-opacity="0.10"/>
<polyline points="375.00,94.39 398.92,94.35 422.84,95.84 459.64,94.10 492.76,94.08" stroke="#8a8a8a" fill="none" stroke-width="0.5" stroke-opacity="0.10"/>
<polyline points="375.00,88.55 398.92,86.35 422.84,88.19 459.64,87.39 492.76,86.69" stroke="#8a8a8a" fill="none" stroke-width="0.5" stroke-opacity="0.10"/>
<polyline points="375.00,83.72 398.92,87.94 422.84,87.68 459.64,83.29 492.76,89.43" stroke="#8a8a8a" fill="none" stroke-width="0.5" stroke-opacity="0.10"/>
<polyline points="375.00,83.24 398.92,84.44 422.84,88.19 459.64,77.04 492.76,84.11" stroke="#8a8a8a" fill="none" stroke-width="0.5" stroke-opacity="0.10"/>
<polyline points="375.00,81.14 398.92,83.33 422.84,78.78 459.64,77.82 492.76,77.90" stroke="#8a8a8a" fill="none" stroke-width="0.5" stroke-opacity="0.10"/>
<polyline points="375.00,98.44 398.92,96.91 422.84,98.18 459.64,97.64 492.76,91.42" stroke="#8a8a8a" fill="none" stroke-width="0.5" stroke-opacity="0.10"/>
<polyline points="375.00,92.23 398.92,94.83 422.84,92.47 459.64,95.42 492.76,96.55" stroke="#8a8a8a" fill="none" stroke-width="0.5" stroke-opacity="0.10"/>
<polyline points="375.00,82.81 398.92,80.43 422.84,77.88 459.64,80.48 492.76,79.81" stroke="#8a8a8a" fill="none" stroke-width="0.5" stroke-opacity="0.10"/>
<polyline points="375.00,78.61 398.92,77.99 422.84,77.62 459.64,77.94 492.76,79.01" stroke="#8a8a8a" fill="none" stroke-width="0.5" stroke-opacity="0.10"/>
<polyline points="375.00,73.54 398.92,78.31 422.84,74.63 459.64,73.73 492.76,75.22" stroke="#8a8a8a" fill="none" stroke-width="0.5" stroke-opacity="0.10"/>
<polyline points="375.00,96.01 398.92,95.94 422.84,94.38 459.64,93.76 492.76,95.19" stroke="#8a8a8a" fill="none" stroke-width="0.5" stroke-opacity="0.10"/>
<polyline points="375.00,94.39 398.92,91.62 422.84,89.04 459.64,93.88 492.76,91.78" stroke="#8a8a8a" fill="none" stroke-width="0.5" stroke-opacity="0.10"/>
<polyline points="375.00,92.43 398.92,91.57 422.84,95.06 459.64,90.83 492.76,93.89" stroke="#8a8a8a" fill="none" stroke-width="0.5" stroke-opacity="0.10"/>
<polyline points="375.00,94.79 398.92,93.89 422.84,98.15 459.64,93.50 492.76,95.50" stroke="#8a8a8a" fill="none" stroke-width="0.5" stroke-opacity="0.10"/>
<polyline points="375.00,82.41 398.92,78.79 422.84,80.33 459.64,83.22 492.76,84.72" stroke="#8a8a8a" fill="none" stroke-width="0.5" stroke-opacity="0.10"/>
<polyline points="375.00,76.13 398.92,76.66 422.84,75.79 459.64,75.40 492.76,76.00" stroke="#8a8a8a" fill="none" stroke-width="0.5" stroke-opacity="0.10"/>
<polyline points="375.00,80.42 398.92,85.19 422.84,81.31 459.64,82.06 492.76,79.91" stroke="#8a8a8a" fill="none" stroke-width="0.5" stroke-opacity="0.10"/>
<polyline points="375.00,95.49 398.92,87.32 422.84,93.29 459.64,87.37 492.76,88.18" stroke="#8a8a8a" fill="none" stroke-width="0.5" stroke-opacity="0.10"/>
<polyline points="375.00,97.78 398.92,95.53 422.84,96.31 459.64,94.24 492.76,90.95" stroke="#8a8a8a" fill="none" stroke-width="0.5" stroke-opacity="0.10"/>
<polyline points="375.00,90.86 398.92,93.60 422.84,94.73 459.64,89.94 492.76,94.21" stroke="#8a8a8a" fill="none" stroke-width="0.5" stroke-opacity="0.10"/>
<polyline points="375.00,86.11 398.92,89.45 422.84,87.75 459.64,85.86 492.76,85.26" stroke="#8a8a8a" fill="none" stroke-width="0.5" stroke-opacity="0.10"/>
<polyline points="375.00,90.31 398.92,84.31 422.84,87.24 459.64,87.12 492.76,88.49" stroke="#8a8a8a" fill="none" stroke-width="0.5" stroke-opacity="0.10"/>
<polyline points="375.00,90.63 398.92,90.73 422.84,81.90 459.64,89.52 492.76,91.73" stroke="#8a8a8a" fill="none" stroke-width="0.5" stroke-opacity="0.10"/>
<polyline points="375.00,94.39 398.92,90.64 422.84,96.11 459.64,94.36 492.76,90.51" stroke="#8a8a8a" fill="none" stroke-width="0.5" stroke-opacity="0.10"/>
<polyline points="375.00,82.80 398.92,82.05 422.84,81.57 459.64,80.09 492.76,85.94" stroke="#8a8a8a" fill="none" stroke-width="0.5" stroke-opacity="0.10"/>
<polyline points="375.00,95.03 398.92,90.13 422.84,89.17 459.64,90.41 492.76,89.77" stroke="#8a8a8a" fill="none" stroke-width="0.5" stroke-opacity="0.10"/>
<polyline points="375.00,86.93 398.92,87.53 422.84,85.20 459.64,84.03 492.76,87.98" stroke="#8a8a8a" fill="none" stroke-width="0.5" stroke-opacity="0.10"/>
<polyline points="375.00,82.87 398.92,88.44 422.84,85.15 459.64,79.38 492.76,83.65" stroke="#8a8a8a" fill="none" stroke-width="0.5" stroke-opacity="0.10"/>
<polyline points="375.00,97.29 398.92,95.63 422.84,95.54 459.64,94.41 492.76,96.66" stroke="#8a8a8a" fill="none" stroke-width="0.5" stroke-opacity="0.10"/>
<polyline points="375.00,94.56 398.92,90.31 422.84,83.65 459.64,94.80 492.76,92.46" stroke="#8a8a8a" fill="none" stroke-width="0.5" stroke-opacity="0.10"/>
<polyline points="375.00,88.24 398.92,93.25 422.84,93.06 459.64,91.94 492.76,92.38" stroke="#8a8a8a" fill="none" stroke-width="0.5" stroke-opacity="0.10"/>
<polyline points="375.00,92.45 398.92,92.43 422.84,93.83 459.64,92.05 492.76,90.52" stroke="#8a8a8a" fill="none" stroke-width="0.5" stroke-opacity="0.10"/>
<polyline points="375.00,74.55 398.92,73.67 422.84,76.58 459.64,76.00 492.76,76.71" stroke="#8a8a8a" fill="none" stroke-width="0.5" stroke-opacity="0.10"/>
<polyline points="375.00,90.59 398.92,93.90 422.84,82.74 459.64,92.14 492.76,89.45" stroke="#8a8a8a" fill="none" stroke-width="0.5" stroke-opacity="0.10"/>
<polyline points="375.00,90.47 398.92,88.64 422.84,91.53 459.64,86.59 492.76,91.08" stroke="#8a8a8a" fill="none" stroke-width="0.5" stroke-opacity="0.10"/>
<polyline points="375.00,95.07 398.92,96.00 422.84,98.44 459.64,97.09 492.76,91.78" stroke="#8a8a8a" fill="none" stroke-width="0.5" stroke-opacity="0.10"/>
<polyline points="375.00,76.69 398.92,76.10 422.84,73.68 459.64,79.37 492.76,73.82" stroke="#8a8a8a" fill="none" stroke-width="0.5" stroke-opacity="0.10"/>
<polyline points="375.00,78.57 398.92,80.30 422.84,78.56 459.64,77.11 492.76,78.95" stroke="#8a8a8a" fill="none" stroke-width="0.5" stroke-opacity="0.10"/>
<polyline points="375.00,95.78 398.92,98.44 422.84,93.45 459.64,93.79 492.76,91.64" stroke="#8a8a8a" fill="none" stroke-width="0.5" stroke-opacity="0.10"/>
<polyline points="375.00,82.35 398.92,81.40 422.84,82.87 459.64,84.36 492.76,85.76" stroke="#8a8a8a" fill="none" stroke-width="0.5" stroke-opacity="0.10"/>
<polyline points="375.00,94.94 398.92,97.89 422.84,98.44 459.64,93.60 492.76,98.44" stroke="#8a8a8a" fill="none" stroke-width="0.5" stroke-opacity="0.10"/>
<polyline points="375.00,96.97 398.92,97.05 422.84,97.01 459.64,94.16 492.76,98.44" stroke="#8a8a8a" fill="none" stroke-width="0.5" stroke-opacity="0.10"/>
<polyline points="375.00,87.02 398.92,88.21 422.84,81.07 459.64,86.33 492.76,83.17" stroke="#8a8a8a" fill="none" stroke-width="0.5" stroke-opacity="0.10"/>
<polyline points="375.00,74.83 398.92,74.46 422.84,74.85 459.64,81.44 492.76,79.41" stroke="#8a8a8a" fill="none" stroke-width="0.5" stroke-opacity="0.10"/>
<polyline points="375.00,87.32 398.92,86.98 422.84,86.22 459.64,85.48 492.76,88.57" stroke="#8a8a8a" fill="none" stroke-width="0.5" stroke-opacity="0.10"/>
<polyline points="375.00,76.25 398.92,72.91 422.84,77.85 459.64,76.57 492.76,74.26" stroke="#8a8a8a" fill="none" stroke-width="0.5" stroke-opacity="0.10"/>
<polyline points="375.00,96.49 398.92,93.01 422.84,95.39 459.64,89.77 492.76,92.85" stroke="#8a8a8a" fill="none" stroke-width="0.5" stroke-opacity="0.10"/>
<polyline points="375.00,76.01 398.92,80.99 422.84,81.03 459.64,77.13 492.76,77.27" stroke="#8a8a8a" fill="none" stroke-width="0.5" stroke-opacity="0.10"/>
<polyline points="375.00,75.81 398.92,72.91 422.84,75.80 459.64,80.97 492.76,74.96" stroke="#8a8a8a" fill="none" stroke-width="0.5" stroke-opacity="0.10"/>
<polyline points="375.00,94.69 398.92,96.74 422.84,98.09 459.64,96.41 492.76,97.32" stroke="#8a8a8a" fill="none" stroke-width="0.5" stroke-opacity="0.10"/>
<polyline points="375.00,83.53 398.92,80.56 422.84,88.21 459.64,86.37 492.76,81.62" stroke="#8a8a8a" fill="none" stroke-width="0.5" stroke-opacity="0.10"/>
<polyline points="375.00,92.23 398.92,94.54 422.84,92.83 459.64,92.15 492.76,93.88" stroke="#8a8a8a" fill="none" stroke-width="0.5" stroke-opacity="0.10"/>
<polyline points="375.00,76.87 398.92,73.85 422.84,81.60 459.64,83.03 492.76,79.94" stroke="#8a8a8a" fill="none" stroke-width="0.5" stroke-opacity="0.10"/>
<polyline points="375.00,77.76 398.92,78.41 422.84,72.91 459.64,79.45 492.76,75.93" stroke="#8a8a8a" fill="none" stroke-width="0.5" stroke-opacity="0.10"/>
<polyline points="375.00,78.72 398.92,80.34 422.84,82.74 459.64,84.92 492.76,81.31" stroke="#8a8a8a" fill="none" stroke-width="0.5" stroke-opacity="0.10"/>
<polyline points="375.00,80.94 398.92,83.22 422.84,85.15 459.64,83.88 492.76,81.73" stroke="#8a8a8a" fill="none" stroke-width="0.5" stroke-opacity="0.10"/>
<polyline points="375.00,85.50 398.92,79.67 422.84,79.47 459.64,82.31 492.76,80.80" stroke="#8a8a8a" fill="none" stroke-width="0.5" stroke-opacity="0.10"/>
<polyline points="375.00,74.90 398.92,79.75 422.84,78.19 459.64,78.65 492.76,77.45" stroke="#8a8a8a" fill="none" stroke-width="0.5" stroke-opacity="0.10"/>
<polyline points="375.00,75.42 398.92,76.11 422.84,72.91 459.64,75.43 492.76,78.57" stroke="#8a8a8a" fill="none" stroke-width="0.5" stroke-opacity="0.10"/>
<polyline points="375.00,77.78 398.92,77.97 422.84,79.78 459.64,76.00 492.76,79.18" stroke="#8a8a8a" fill="none" stroke-width="0.5" stroke-opacity="0.10"/>
<polyline points="375.00,85.84 398.92,85.43 422.84,86.12 459.64,85.07 492.76,88.71" stroke="#8a8a8a" fill="none" stroke-width="0.5" stroke-opacity="0.10"/>
<polyline points="375.00,91.87 398.92,90.64 422.84,90.76 459.64,89.13 492.76,92.75" stroke="#8a8a8a" fill="none" stroke-width="0.5" stroke-opacity="0.10"/>
<polyline points="375.00,82.52 398.92,82.15 422.84,83.03 459.64,86.95 492.76,85.35" stroke="#8a8a8a" fill="none" stroke-width="0.5" stroke-opacity="0.10"/>
<polyline points="375.00,86.00 398.92,90.20 422.84,85.48 459.64,89.97 492.76,88.16" stroke="#8a8a8a" fill="none" stroke-width="0.5" stroke-opacity="0.10"/>
<polyline points="375.00,96.37 398.92,93.96 422.84,98.37 459.64,95.55 492.76,94.85" stroke="#8a8a8a" fill="none" stroke-width="0.5" stroke-opacity="0.10"/>
<polyline points="375.00,95.18 398.92,92.66 422.84,94.79 459.64,92.79 492.76,96.72" stroke="#8a8a8a" fill="none" stroke-width="0.5" stroke-opacity="0.10"/>
<polyline points="375.00,95.13 398.92,94.77 422.84,93.85 459.64,88.63 492.76,93.11" stroke="#8a8a8a" fill="none" stroke-width="0.5" stroke-opacity="0.10"/>
<polyline points="375.00,94.24 398.92,96.04 422.84,90.80 459.64,98.44 492.76,95.81" stroke="#8a8a8a" fill="none" stroke-width="0.5" stroke-opacity="0.10"/>
<polyline points="375.00,86.68 398.92,84.18 422.84,88.55 459.64,86.57 492.76,87.00" stroke="#8a8a8a" fill="none" stroke-width="0.5" stroke-opacity="0.10"/>
<polyline points="375.00,88.78 398.92,86.64 422.84,86.88 459.64,94.00 492.76,89.75" stroke="#8a8a8a" fill="none" stroke-width="0.5" stroke-opacity="0.10"/>
<polyline points="375.00,75.88 398.92,79.60 422.84,79.28 459.64,73.41 492.76,76.21" stroke="#8a8a8a" fill="none" stroke-width="0.5" stroke-opacity="0.10"/>
<polyline points="375.00,94.34 398.92,94.41 422.84,98.44 459.64,94.56 492.76,96.66" stroke="#8a8a8a" fill="none" stroke-width="0.5" stroke-opacity="0.10"/>
<polyline points="375.00,79.75 398.92,81.66 422.84,82.90 459.64,77.22 492.76,84.57" stroke="#8a8a8a" fill="none" stroke-width="0.5" stroke-opacity="0.10"/>
<polyline points="375.00,75.78 398.92,78.83 422.84,74.54 459.64,81.54 492.76,74.54" stroke="#8a8a8a" fill="none" stroke-width="0.5" stroke-opacity="0.10"/>
<polyline points="375.00,80.27 398.92,77.00 422.84,79.85 459.64,75.08 492.76,80.10" stroke="#8a8a8a" fill="none" stroke-width="0.5" stroke-opacity="0.10"/>
<polyline points="375.00,88.69 398.92,85.89 422.84,86.00 459.64,89.48 492.76,85.25" stroke="#8a8a8a" fill="none" stroke-width="0.5" stroke-opacity="0.10"/>
<polyline points="375.00,80.44 398.92,82.74 422.84,75.37 459.64,84.00 492.76,84.43" stroke="#8a8a8a" fill="none" stroke-width="0.5" stroke-opacity="0.10"/>
<polyline points="375.00,96.07 398.92,92.31 422.84,91.38 459.64,98.01 492.76,94.04" stroke="#8a8a8a" fill="none" stroke-width="0.5" stroke-opacity="0.10"/>
<polyline points="375.00,85.35 398.92,91.43 422.84,88.98 459.64,89.39 492.76,86.68" stroke="#8a8a8a" fill="none" stroke-width="0.5" stroke-opacity="0.10"/>
<polyline points="375.00,80.08 398.92,78.70 422.84,81.63 459.64,75.16 492.76,79.57" stroke="#8a8a8a" fill="none" stroke-width="0.5" stroke-opacity="0.10"/>
<polyline points="375.00,79.55 398.92,74.53 422.84,72.91 459.64,76.23 492.76,81.81" stroke="#8a8a8a" fill="none" stroke-width="0.5" stroke-opacity="0.10"/>
<polyline points="375.00,86.38 398.92,83.02 422.84,80.86 459.64,86.91 492.76,82.49" stroke="#8a8a8a" fill="none" stroke-width="0.5" stroke-opacity="0.10"/>
<polyline points="375.00,87.14 398.92,85.89 422.84,84.39 459.64,84.03 492.76,86.39" stroke="#8a8a8a" fill="none" stroke-width="0.5" stroke-opacity="0.10"/>
<polyline points="375.00,73.82 398.92,76.65 422.84,74.68 459.64,76.75 492.76,82.17" stroke="#8a8a8a" fill="none" stroke-width="0.5" stroke-opacity="0.10"/>
<polyline points="375.00,92.86 398.92,89.69 422.84,91.10 459.64,91.70 492.76,93.84" stroke="#8a8a8a" fill="none" stroke-width="0.5" stroke-opacity="0.10"/>
<line x1="375.00" y1="89.00" x2="492.76" y2="89.00" stroke="#74899a" stroke-width="0.9" />
<line x1="369.60" y1="31.50" x2="369.60" y2="103.00" stroke="#1a1a1a" stroke-width="1.0" />
<line x1="366.00" y1="94.00" x2="369.60" y2="94.00" stroke="#1a1a1a" stroke-width="0.8" />
<text x="363.70" y="96.34" font-size="6.5" text-anchor="end" fill="#2b2b2b" stroke="#2b2b2b" stroke-width="0.18">100</text>
<line x1="366.00" y1="82.90" x2="369.60" y2="82.90" stroke="#1a1a1a" stroke-width="0.8" />
<text x="363.70" y="85.24" font-size="6.5" text-anchor="end" fill="#2b2b2b" stroke="#2b2b2b" stroke-width="0.18">200</text>
<line x1="366.00" y1="71.80" x2="369.60" y2="71.80" stroke="#1a1a1a" stroke-width="0.8" />
<text x="363.70" y="74.14" font-size="6.5" text-anchor="end" fill="#2b2b2b" stroke="#2b2b2b" stroke-width="0.18">300</text>
<line x1="366.00" y1="60.70" x2="369.60" y2="60.70" stroke="#1a1a1a" stroke-width="0.8" />
<text x="363.70" y="63.04" font-size="6.5" text-anchor="end" fill="#2b2b2b" stroke="#2b2b2b" stroke-width="0.18">400</text>
<line x1="366.00" y1="49.60" x2="369.60" y2="49.60" stroke="#1a1a1a" stroke-width="0.8" />
<text x="363.70" y="51.94" font-size="6.5" text-anchor="end" fill="#2b2b2b" stroke="#2b2b2b" stroke-width="0.18">500</text>
<line x1="366.00" y1="38.50" x2="369.60" y2="38.50" stroke="#1a1a1a" stroke-width="0.8" />
<text x="363.70" y="40.84" font-size="6.5" text-anchor="end" fill="#2b2b2b" stroke="#2b2b2b" stroke-width="0.18">600</text>
<line x1="369.60" y1="102.90" x2="498.80" y2="102.90" stroke="#1a1a1a" stroke-width="1.0" />
<line x1="375.00" y1="102.90" x2="375.00" y2="105.90" stroke="#1a1a1a" stroke-width="0.8" />
<text x="375.00" y="113.80" font-size="6.2" text-anchor="middle" fill="#2b2b2b" stroke="#2b2b2b" stroke-width="0.18">10</text>
<line x1="393.40" y1="102.90" x2="393.40" y2="105.90" stroke="#1a1a1a" stroke-width="0.8" />
<text x="393.40" y="113.80" font-size="6.2" text-anchor="middle" fill="#2b2b2b" stroke="#2b2b2b" stroke-width="0.18">15</text>
<line x1="411.80" y1="102.90" x2="411.80" y2="105.90" stroke="#1a1a1a" stroke-width="0.8" />
<text x="411.80" y="113.80" font-size="6.2" text-anchor="middle" fill="#2b2b2b" stroke="#2b2b2b" stroke-width="0.18">20</text>
<line x1="430.20" y1="102.90" x2="430.20" y2="105.90" stroke="#1a1a1a" stroke-width="0.8" />
<text x="430.20" y="113.80" font-size="6.2" text-anchor="middle" fill="#2b2b2b" stroke="#2b2b2b" stroke-width="0.18">25</text>
<line x1="448.60" y1="102.90" x2="448.60" y2="105.90" stroke="#1a1a1a" stroke-width="0.8" />
<text x="448.60" y="113.80" font-size="6.2" text-anchor="middle" fill="#2b2b2b" stroke="#2b2b2b" stroke-width="0.18">30</text>
<line x1="467.00" y1="102.90" x2="467.00" y2="105.90" stroke="#1a1a1a" stroke-width="0.8" />
<text x="467.00" y="113.80" font-size="6.2" text-anchor="middle" fill="#2b2b2b" stroke="#2b2b2b" stroke-width="0.18">35</text>
<line x1="485.40" y1="102.90" x2="485.40" y2="105.90" stroke="#1a1a1a" stroke-width="0.8" />
<text x="485.40" y="113.80" font-size="6.2" text-anchor="middle" fill="#2b2b2b" stroke="#2b2b2b" stroke-width="0.18">40</text>
<text x="434.20" y="124.30" font-size="8.88" text-anchor="middle" fill="#161616" font-weight="bold" textLength="12.4" lengthAdjust="spacingAndGlyphs">Time</text>
<text x="348.80" y="62.00" font-size="8.88" text-anchor="middle" fill="#161616" font-weight="bold" textLength="12.6" lengthAdjust="spacingAndGlyphs" transform="rotate(-90 348.80 62.00)">GPX4</text>
<rect x="461.00" y="39.80" width="34.00" height="8.10" fill="#fff" stroke="#c8c8c8" stroke-width="0.5" rx="1"/>
<line x1="462.60" y1="43.80" x2="472.00" y2="43.80" stroke="#55677a" stroke-width="1.0" />
<text x="473.60" y="46.00" font-size="6.2" text-anchor="start" fill="#2b2b2b" stroke="#2b2b2b" stroke-width="0.18">Median</text>
<text x="341.00" y="144.50" font-size="10.8" font-weight="bold" fill="#111" stroke="#111" stroke-width="0.35">G</text>
<text x="436.00" y="154.40" font-size="6.1" text-anchor="middle" fill="#2b2b2b" stroke="#2b2b2b" stroke-width="0.18">GPX protein by rs8178977 alleles</text>
<text x="436.00" y="161.20" font-size="6.1" text-anchor="middle" fill="#2b2b2b" stroke="#2b2b2b" stroke-width="0.18">and Storage (day)</text>
<polygon points="369.91,177.66 371.02,177.77 372.41,177.90 374.02,178.05 375.84,178.21 377.81,178.40 379.91,178.60 382.10,178.81 384.34,179.03 386.58,179.27 388.81,179.51 390.97,179.76 393.04,180.01 395.08,180.29 397.19,180.59 399.35,180.92 401.54,181.26 403.74,181.62 405.93,181.97 408.10,182.33 410.24,182.67 412.32,183.00 414.32,183.30 416.23,183.58 418.03,183.81 419.70,184.00 421.26,184.12 422.72,184.20 424.09,184.26 425.42,184.29 426.70,184.32 427.97,184.37 429.25,184.44 430.55,184.54 431.90,184.71 433.31,184.94 434.81,185.25 436.39,185.67 438.00,186.19 439.64,186.80 441.31,187.46 443.00,188.16 444.72,188.88 446.46,189.60 448.22,190.30 449.98,190.96 451.76,191.55 453.54,192.06 455.33,192.46 457.15,192.77 459.03,193.00 460.95,193.17 462.90,193.29 464.86,193.37 466.82,193.42 468.77,193.44 470.68,193.44 472.54,193.45 474.35,193.45 476.07,193.47 477.71,193.51 479.30,193.56 480.89,193.60 482.47,193.63 484.01,193.66 485.51,193.69 486.94,193.70 488.30,193.72 489.56,193.73 490.72,193.74 491.75,193.75 492.64,193.76 493.38,193.77 493.38,232.55 492.64,232.45 491.75,232.33 490.72,232.19 489.56,232.03 488.30,231.86 486.94,231.68 485.51,231.49 484.01,231.28 482.47,231.08 480.89,230.87 479.30,230.66 477.71,230.45 476.07,230.25 474.35,230.08 472.54,229.91 470.68,229.75 468.77,229.58 466.82,229.39 464.86,229.19 462.90,228.96 460.95,228.68 459.03,228.37 457.15,228.00 455.33,227.57 453.54,227.05 451.76,226.42 449.98,225.72 448.22,224.96 446.46,224.16 444.72,223.34 443.00,222.53 441.31,221.75 439.64,221.02 438.00,220.35 436.39,219.78 434.81,219.31 433.31,218.94 431.90,218.62 430.55,218.35 429.25,218.12 427.97,217.95 426.70,217.82 425.42,217.73 424.09,217.70 422.72,217.71 421.26,217.76 419.70,217.86 418.03,218.00 416.23,218.22 414.32,218.53 412.32,218.92 410.24,219.36 408.10,219.86 405.93,220.38 403.74,220.92 401.54,221.45 399.35,221.97 397.19,222.45 395.08,222.88 393.04,223.25 390.97,223.56 388.81,223.86 386.58,224.15 384.34,224.41 382.10,224.66 379.91,224.88 377.81,225.09 375.84,225.28 374.02,225.46 372.41,225.61 371.02,225.75 369.91,225.87" fill="#dcdcdf" fill-opacity="0.85"/>
<polygon points="369.91,202.55 371.02,202.55 372.41,202.55 374.02,202.55 375.84,202.55 377.81,202.55 379.91,202.55 382.10,202.55 384.34,202.55 386.58,202.55 388.81,202.55 390.97,202.55 393.04,202.55 395.08,202.55 397.19,202.55 399.35,202.54 401.54,202.54 403.74,202.54 405.93,202.54 408.10,202.54 410.24,202.54 412.32,202.54 414.32,202.54 416.23,202.54 418.03,202.55 419.70,202.55 421.26,202.54 422.72,202.54 424.09,202.53 425.42,202.52 426.70,202.51 427.97,202.51 429.25,202.52 430.55,202.54 431.90,202.57 433.31,202.62 434.81,202.68 436.39,202.76 438.00,202.87 439.64,202.99 441.31,203.12 443.00,203.27 444.72,203.42 446.46,203.58 448.22,203.73 449.98,203.88 451.76,204.02 453.54,204.14 455.33,204.25 457.15,204.35 459.03,204.44 460.95,204.52 462.90,204.60 464.86,204.67 466.82,204.74 468.77,204.80 470.68,204.86 472.54,204.91 474.35,204.96 476.07,205.00 477.71,205.04 479.30,205.06 480.89,205.08 482.47,205.09 484.01,205.09 485.51,205.09 486.94,205.09 488.30,205.08 489.56,205.07 490.72,205.05 491.75,205.05 492.64,205.04 493.38,205.04 493.38,217.48 492.64,217.48 491.75,217.48 490.72,217.49 489.56,217.50 488.30,217.51 486.94,217.51 485.51,217.51 484.01,217.51 482.47,217.49 480.89,217.46 479.30,217.41 477.71,217.35 476.07,217.27 474.35,217.18 472.54,217.07 470.68,216.95 468.77,216.82 466.82,216.68 464.86,216.53 462.90,216.38 460.95,216.23 459.03,216.08 457.15,215.93 455.33,215.78 453.54,215.62 451.76,215.44 449.98,215.25 448.22,215.05 446.46,214.84 444.72,214.64 443.00,214.45 441.31,214.27 439.64,214.11 438.00,213.98 436.39,213.88 434.81,213.81 433.31,213.78 431.90,213.77 430.55,213.78 429.25,213.82 427.97,213.87 426.70,213.94 425.42,214.03 424.09,214.14 422.72,214.27 421.26,214.41 419.70,214.56 418.03,214.73 416.23,214.93 414.32,215.17 412.32,215.44 410.24,215.74 408.10,216.05 405.93,216.38 403.74,216.70 401.54,217.01 399.35,217.31 397.19,217.58 395.08,217.81 393.04,218.00 390.97,218.16 388.81,218.29 386.58,218.39 384.34,218.48 382.10,218.55 379.91,218.60 377.81,218.65 375.84,218.68 374.02,218.71 372.41,218.73 371.02,218.76 369.91,218.79" fill="#c9c9cc" fill-opacity="0.75"/>
<polygon points="369.91,224.95 371.02,224.97 372.41,225.01 374.02,225.04 375.84,225.08 377.81,225.13 379.91,225.18 382.10,225.23 384.34,225.28 386.58,225.33 388.81,225.38 390.97,225.43 393.04,225.47 395.08,225.52 397.19,225.57 399.35,225.62 401.54,225.67 403.74,225.72 405.93,225.77 408.10,225.81 410.24,225.86 412.32,225.90 414.32,225.94 416.23,225.97 418.03,226.00 419.70,226.02 421.26,226.03 422.72,226.05 424.09,226.05 425.42,226.06 426.70,226.06 427.97,226.06 429.25,226.05 430.55,226.05 431.90,226.03 433.31,226.02 434.81,226.00 436.39,225.97 438.00,225.94 439.64,225.90 441.31,225.85 443.00,225.80 444.72,225.75 446.46,225.70 448.22,225.65 449.98,225.60 451.76,225.55 453.54,225.51 455.33,225.47 457.15,225.44 459.03,225.41 460.95,225.39 462.90,225.37 464.86,225.34 466.82,225.32 468.77,225.31 470.68,225.29 472.54,225.27 474.35,225.25 476.07,225.23 477.71,225.21 479.30,225.19 480.89,225.16 482.47,225.14 484.01,225.11 485.51,225.09 486.94,225.06 488.30,225.04 489.56,225.02 490.72,225.00 491.75,224.98 492.64,224.96 493.38,224.95 493.38,240.01 492.64,240.00 491.75,239.98 490.72,239.96 489.56,239.95 488.30,239.92 486.94,239.90 485.51,239.87 484.01,239.83 482.47,239.79 480.89,239.74 479.30,239.69 477.71,239.62 476.07,239.54 474.35,239.45 472.54,239.34 470.68,239.23 468.77,239.11 466.82,238.99 464.86,238.87 462.90,238.74 460.95,238.62 459.03,238.51 457.15,238.40 455.33,238.31 453.54,238.22 451.76,238.14 449.98,238.06 448.22,237.98 446.46,237.91 444.72,237.84 443.00,237.77 441.31,237.71 439.64,237.65 438.00,237.60 436.39,237.56 434.81,237.52 433.31,237.49 431.90,237.46 430.55,237.43 429.25,237.41 427.97,237.40 426.70,237.38 425.42,237.38 424.09,237.39 422.72,237.40 421.26,237.43 419.70,237.47 418.03,237.52 416.23,237.59 414.32,237.69 412.32,237.79 410.24,237.91 408.10,238.04 405.93,238.18 403.74,238.32 401.54,238.46 399.35,238.60 397.19,238.73 395.08,238.85 393.04,238.97 390.97,239.07 388.81,239.17 386.58,239.28 384.34,239.38 382.10,239.48 379.91,239.58 377.81,239.67 375.84,239.76 374.02,239.83 372.41,239.90 371.02,239.96 369.91,240.01" fill="#dcdcdc" fill-opacity="0.85"/>
<polyline points="369.91,232.55 371.02,232.56 372.41,232.57 374.02,232.59 375.84,232.60 377.81,232.62 379.91,232.64 382.10,232.67 384.34,232.69 386.58,232.72 388.81,232.75 390.97,232.78 393.04,232.81 395.08,232.84 397.19,232.88 399.35,232.92 401.54,232.96 403.74,233.01 405.93,233.05 408.10,233.10 410.24,233.15 412.32,233.19 414.32,233.24 416.23,233.29 418.03,233.33 419.70,233.37 421.26,233.42 422.72,233.46 424.09,233.50 425.42,233.54 426.70,233.58 427.97,233.62 429.25,233.66 430.55,233.71 431.90,233.75 433.31,233.80 434.81,233.86 436.39,233.91 438.00,233.97 439.64,234.03 441.31,234.10 443.00,234.16 444.72,234.23 446.46,234.30 448.22,234.37 449.98,234.44 451.76,234.51 453.54,234.58 455.33,234.64 457.15,234.71 459.03,234.78 460.95,234.84 462.90,234.91 464.86,234.98 466.82,235.05 468.77,235.12 470.68,235.19 472.54,235.25 474.35,235.31 476.07,235.37 477.71,235.43 479.30,235.48 480.89,235.54 482.47,235.59 484.01,235.64 485.51,235.69 486.94,235.74 488.30,235.78 489.56,235.83 490.72,235.86 491.75,235.90 492.64,235.93 493.38,235.95" stroke="#b8c2ca" fill="none" stroke-width="1.0" stroke-opacity="1.0" stroke-linejoin="round"/>
<polyline points="369.91,212.50 371.02,212.42 372.41,212.33 374.02,212.21 375.84,212.09 377.81,211.95 379.91,211.80 382.10,211.64 384.34,211.48 386.58,211.31 388.81,211.14 390.97,210.97 393.04,210.80 395.08,210.62 397.19,210.43 399.35,210.22 401.54,210.01 403.74,209.79 405.93,209.57 408.10,209.36 410.24,209.15 412.32,208.95 414.32,208.76 416.23,208.59 418.03,208.44 419.70,208.31 421.26,208.20 422.72,208.10 424.09,208.02 425.42,207.94 426.70,207.87 427.97,207.81 429.25,207.75 430.55,207.69 431.90,207.64 433.31,207.58 434.81,207.53 436.39,207.47 438.00,207.41 439.64,207.35 441.31,207.29 443.00,207.24 444.72,207.19 446.46,207.14 448.22,207.10 449.98,207.07 451.76,207.04 453.54,207.02 455.33,207.00 457.15,207.00 459.03,207.00 460.95,207.01 462.90,207.03 464.86,207.05 466.82,207.08 468.77,207.11 470.68,207.15 472.54,207.18 474.35,207.21 476.07,207.24 477.71,207.26 479.30,207.29 480.89,207.31 482.47,207.33 484.01,207.36 485.51,207.39 486.94,207.41 488.30,207.43 489.56,207.46 490.72,207.48 491.75,207.50 492.64,207.51 493.38,207.53" stroke="#8fb4d0" fill="none" stroke-width="1.0" stroke-opacity="1.0" stroke-linejoin="round"/>
<polyline points="369.91,197.05 371.02,197.14 372.41,197.25 374.02,197.37 375.84,197.51 377.81,197.66 379.91,197.83 382.10,198.01 384.34,198.19 386.58,198.39 388.81,198.59 390.97,198.80 393.04,199.01 395.08,199.24 397.19,199.49 399.35,199.76 401.54,200.05 403.74,200.34 405.93,200.64 408.10,200.93 410.24,201.22 412.32,201.49 414.32,201.74 416.23,201.96 418.03,202.15 419.70,202.30 421.26,202.40 422.72,202.47 424.09,202.51 425.42,202.54 426.70,202.56 427.97,202.59 429.25,202.64 430.55,202.71 431.90,202.82 433.31,202.98 434.81,203.20 436.39,203.48 438.00,203.82 439.64,204.20 441.31,204.62 443.00,205.06 444.72,205.53 446.46,206.00 448.22,206.47 449.98,206.94 451.76,207.38 453.54,207.80 455.33,208.18 457.15,208.54 459.03,208.90 460.95,209.25 462.90,209.59 464.86,209.93 466.82,210.25 468.77,210.56 470.68,210.86 472.54,211.14 474.35,211.40 476.07,211.63 477.71,211.85 479.30,212.04 480.89,212.20 482.47,212.35 484.01,212.47 485.51,212.58 486.94,212.67 488.30,212.75 489.56,212.81 490.72,212.87 491.75,212.93 492.64,212.98 493.38,213.03" stroke="#3b6282" fill="none" stroke-width="1.2" stroke-opacity="1.0" stroke-linejoin="round"/>
<line x1="370.60" y1="164.50" x2="370.60" y2="246.00" stroke="#1a1a1a" stroke-width="1.0" />
<line x1="367.00" y1="237.00" x2="370.60" y2="237.00" stroke="#1a1a1a" stroke-width="0.8" />
<text x="364.70" y="239.34" font-size="6.5" text-anchor="end" fill="#2b2b2b" stroke="#2b2b2b" stroke-width="0.18">100</text>
<line x1="367.00" y1="223.90" x2="370.60" y2="223.90" stroke="#1a1a1a" stroke-width="0.8" />
<text x="364.70" y="226.24" font-size="6.5" text-anchor="end" fill="#2b2b2b" stroke="#2b2b2b" stroke-width="0.18">200</text>
<line x1="367.00" y1="210.80" x2="370.60" y2="210.80" stroke="#1a1a1a" stroke-width="0.8" />
<text x="364.70" y="213.14" font-size="6.5" text-anchor="end" fill="#2b2b2b" stroke="#2b2b2b" stroke-width="0.18">300</text>
<line x1="367.00" y1="197.70" x2="370.60" y2="197.70" stroke="#1a1a1a" stroke-width="0.8" />
<text x="364.70" y="200.04" font-size="6.5" text-anchor="end" fill="#2b2b2b" stroke="#2b2b2b" stroke-width="0.18">400</text>
<line x1="367.00" y1="184.60" x2="370.60" y2="184.60" stroke="#1a1a1a" stroke-width="0.8" />
<text x="364.70" y="186.94" font-size="6.5" text-anchor="end" fill="#2b2b2b" stroke="#2b2b2b" stroke-width="0.18">500</text>
<line x1="367.00" y1="171.50" x2="370.60" y2="171.50" stroke="#1a1a1a" stroke-width="0.8" />
<text x="364.70" y="173.84" font-size="6.5" text-anchor="end" fill="#2b2b2b" stroke="#2b2b2b" stroke-width="0.18">600</text>
<line x1="370.60" y1="245.50" x2="501.50" y2="245.50" stroke="#1a1a1a" stroke-width="1.0" />
<line x1="377.00" y1="245.50" x2="377.00" y2="248.50" stroke="#1a1a1a" stroke-width="0.8" />
<text x="377.00" y="257.80" font-size="6.2" text-anchor="middle" fill="#2b2b2b" stroke="#2b2b2b" stroke-width="0.18">10</text>
<line x1="395.65" y1="245.50" x2="395.65" y2="248.50" stroke="#1a1a1a" stroke-width="0.8" />
<text x="395.65" y="257.80" font-size="6.2" text-anchor="middle" fill="#2b2b2b" stroke="#2b2b2b" stroke-width="0.18">15</text>
<line x1="414.30" y1="245.50" x2="414.30" y2="248.50" stroke="#1a1a1a" stroke-width="0.8" />
<text x="414.30" y="257.80" font-size="6.2" text-anchor="middle" fill="#2b2b2b" stroke="#2b2b2b" stroke-width="0.18">20</text>
<line x1="432.95" y1="245.50" x2="432.95" y2="248.50" stroke="#1a1a1a" stroke-width="0.8" />
<text x="432.95" y="257.80" font-size="6.2" text-anchor="middle" fill="#2b2b2b" stroke="#2b2b2b" stroke-width="0.18">25</text>
<line x1="451.60" y1="245.50" x2="451.60" y2="248.50" stroke="#1a1a1a" stroke-width="0.8" />
<text x="451.60" y="257.80" font-size="6.2" text-anchor="middle" fill="#2b2b2b" stroke="#2b2b2b" stroke-width="0.18">30</text>
<line x1="470.25" y1="245.50" x2="470.25" y2="248.50" stroke="#1a1a1a" stroke-width="0.8" />
<text x="470.25" y="257.80" font-size="6.2" text-anchor="middle" fill="#2b2b2b" stroke="#2b2b2b" stroke-width="0.18">35</text>
<line x1="488.90" y1="245.50" x2="488.90" y2="248.50" stroke="#1a1a1a" stroke-width="0.8" />
<text x="488.90" y="257.80" font-size="6.2" text-anchor="middle" fill="#2b2b2b" stroke="#2b2b2b" stroke-width="0.18">40</text>
<text x="434.50" y="267.80" font-size="8.88" text-anchor="middle" fill="#161616" font-weight="bold" textLength="12.4" lengthAdjust="spacingAndGlyphs">Time</text>
<text x="348.60" y="206.30" font-size="8.88" text-anchor="middle" fill="#161616" font-weight="bold" textLength="13.4" lengthAdjust="spacingAndGlyphs" transform="rotate(-90 348.60 206.30)">GPX4</text>
<text x="380.60" y="170.10" font-size="6.2" text-anchor="start" fill="#2b2b2b" font-style="italic" stroke="#2b2b2b" stroke-width="0.18">P</text>
<text x="385.60" y="170.10" font-size="6.2" text-anchor="start" fill="#2b2b2b" stroke="#2b2b2b" stroke-width="0.18">= 5.36 × 10</text>
<text x="416.50" y="166.60" font-size="3.8" text-anchor="start" fill="#2b2b2b" stroke="#2b2b2b" stroke-width="0.18">−18</text>
<line x1="458.50" y1="175.40" x2="469.00" y2="175.40" stroke="#3b6282" stroke-width="1.1" />
<text x="472.50" y="177.60" font-size="6.2" text-anchor="start" fill="#2b2b2b" stroke="#2b2b2b" stroke-width="0.18">2</text>
<line x1="458.50" y1="181.70" x2="469.00" y2="181.70" stroke="#8aa8c4" stroke-width="1.1" />
<text x="472.50" y="183.90" font-size="6.2" text-anchor="start" fill="#2b2b2b" stroke="#2b2b2b" stroke-width="0.18">1</text>
<line x1="458.50" y1="188.30" x2="469.00" y2="188.30" stroke="#c3cbd1" stroke-width="1.1" />
<text x="472.50" y="190.50" font-size="6.2" text-anchor="start" fill="#2b2b2b" stroke="#2b2b2b" stroke-width="0.18">0</text>
<text x="336.30" y="282.20" font-size="10.8" font-weight="bold" fill="#111" stroke="#111" stroke-width="0.35">H</text>
<text x="429.00" y="324.60" font-size="5.95" text-anchor="middle" fill="#2b2b2b" stroke="#2b2b2b" stroke-width="0.18">GPX protein by donor Age and Storage</text>
<text x="429.00" y="331.40" font-size="5.95" text-anchor="middle" fill="#2b2b2b" stroke="#2b2b2b" stroke-width="0.18">(day)</text>
<polyline points="369.80,364.22 417.77,349.59 462.05,373.95 487.88,369.62" stroke="#8fc47c" fill="none" stroke-width="0.5" stroke-opacity="0.45"/>
<polyline points="369.80,380.36 417.77,364.39 462.05,381.23 487.88,379.52" stroke="#e99595" fill="none" stroke-width="0.5" stroke-opacity="0.45"/>
<polyline points="369.80,369.05 417.77,370.17 462.05,379.49 487.88,369.54" stroke="#e99595" fill="none" stroke-width="0.5" stroke-opacity="0.45"/>
<polyline points="369.80,368.54 417.77,355.62 462.05,375.34 487.88,372.93" stroke="#e99595" fill="none" stroke-width="0.5" stroke-opacity="0.45"/>
<polyline points="369.80,374.89 417.77,353.16 462.05,381.23 487.88,374.63" stroke="#ef8a8a" fill="none" stroke-width="0.5" stroke-opacity="0.45"/>
<polyline points="369.80,379.77 417.77,361.69 462.05,380.18 487.88,378.08" stroke="#ef8a8a" fill="none" stroke-width="0.5" stroke-opacity="0.45"/>
<polyline points="369.80,366.62 417.77,376.28 462.05,373.63 487.88,375.60" stroke="#ef8a8a" fill="none" stroke-width="0.5" stroke-opacity="0.45"/>
<polyline points="369.80,357.09 417.77,345.94 462.05,381.95 487.88,378.11" stroke="#d6c49a" fill="none" stroke-width="0.5" stroke-opacity="0.45"/>
<polyline points="369.80,367.02 417.77,350.06 462.05,378.56 487.88,371.51" stroke="#e99595" fill="none" stroke-width="0.5" stroke-opacity="0.45"/>
<polyline points="369.80,359.17 417.77,347.18 462.05,374.43 487.88,372.40" stroke="#ef8a8a" fill="none" stroke-width="0.5" stroke-opacity="0.45"/>
<polyline points="369.80,365.56 417.77,365.02 462.05,375.46 487.88,374.31" stroke="#ef8a8a" fill="none" stroke-width="0.5" stroke-opacity="0.45"/>
<polyline points="369.80,363.09 417.77,376.08 462.05,374.77 487.88,378.48" stroke="#d9b48e" fill="none" stroke-width="0.5" stroke-opacity="0.45"/>
<polyline points="369.80,387.87 417.77,389.62 462.05,391.42 487.88,395.54" stroke="#ef8a8a" fill="none" stroke-width="0.5" stroke-opacity="0.45"/>
<polyline points="369.80,392.09 417.77,395.56 462.05,393.43 487.88,397.05" stroke="#e99595" fill="none" stroke-width="0.5" stroke-opacity="0.45"/>
<polyline points="369.80,395.20 417.77,383.54 462.05,389.89 487.88,390.18" stroke="#d9b48e" fill="none" stroke-width="0.5" stroke-opacity="0.45"/>
<polyline points="369.80,379.97 417.77,395.47 462.05,392.90 487.88,384.29" stroke="#e99595" fill="none" stroke-width="0.5" stroke-opacity="0.45"/>
<polyline points="369.80,391.15 417.77,392.94 462.05,389.10 487.88,390.79" stroke="#d6c49a" fill="none" stroke-width="0.5" stroke-opacity="0.45"/>
<polyline points="369.80,391.82 417.77,396.52 462.05,388.84 487.88,390.33" stroke="#ef8a8a" fill="none" stroke-width="0.5" stroke-opacity="0.45"/>
<polyline points="369.80,392.63 417.77,397.29 462.05,392.54 487.88,390.08" stroke="#e99595" fill="none" stroke-width="0.5" stroke-opacity="0.45"/>
<polyline points="369.80,400.29 417.77,391.87 462.05,394.58 487.88,393.43" stroke="#e99595" fill="none" stroke-width="0.5" stroke-opacity="0.45"/>
<polyline points="369.80,379.59 417.77,387.01 462.05,381.08 487.88,389.57" stroke="#e99595" fill="none" stroke-width="0.5" stroke-opacity="0.45"/>
<polyline points="369.80,390.68 417.77,399.02 462.05,392.65 487.88,394.06" stroke="#add49a" fill="none" stroke-width="0.5" stroke-opacity="0.45"/>
<polyline points="369.80,383.47 417.77,388.56 462.05,390.69 487.88,386.81" stroke="#8fc47c" fill="none" stroke-width="0.5" stroke-opacity="0.45"/>
<polyline points="369.80,384.16 417.77,385.65 462.05,387.11 487.88,389.99" stroke="#ef8a8a" fill="none" stroke-width="0.5" stroke-opacity="0.45"/>
<polyline points="369.80,395.79 417.77,401.76 462.05,397.81 487.88,394.49" stroke="#e99595" fill="none" stroke-width="0.5" stroke-opacity="0.45"/>
<polyline points="369.80,379.38 417.77,381.82 462.05,378.18 487.88,378.11" stroke="#d9b48e" fill="none" stroke-width="0.5" stroke-opacity="0.45"/>
<polyline points="369.80,388.88 417.77,386.39 462.05,389.48 487.88,390.25" stroke="#d9b48e" fill="none" stroke-width="0.5" stroke-opacity="0.45"/>
<polyline points="369.80,382.20 417.77,386.85 462.05,383.52 487.88,381.67" stroke="#8fc47c" fill="none" stroke-width="0.5" stroke-opacity="0.45"/>
<polyline points="369.80,382.79 417.77,385.09 462.05,388.95 487.88,386.74" stroke="#d6c49a" fill="none" stroke-width="0.5" stroke-opacity="0.45"/>
<polyline points="369.80,396.03 417.77,396.14 462.05,395.43 487.88,394.40" stroke="#add49a" fill="none" stroke-width="0.5" stroke-opacity="0.45"/>
<polyline points="369.80,404.39 417.77,402.72 462.05,400.50 487.88,406.10" stroke="#add49a" fill="none" stroke-width="0.5" stroke-opacity="0.45"/>
<polyline points="369.80,391.17 417.77,385.73 462.05,388.91 487.88,395.06" stroke="#add49a" fill="none" stroke-width="0.5" stroke-opacity="0.45"/>
<polyline points="369.80,382.35 417.77,394.22 462.05,388.56 487.88,393.03" stroke="#ef8a8a" fill="none" stroke-width="0.5" stroke-opacity="0.45"/>
<polyline points="369.80,376.51 417.77,379.50 462.05,382.33 487.88,375.78" stroke="#8fc47c" fill="none" stroke-width="0.5" stroke-opacity="0.45"/>
<polyline points="369.80,387.69 417.77,385.44 462.05,388.71 487.88,377.75" stroke="#8fc47c" fill="none" stroke-width="0.5" stroke-opacity="0.45"/>
<polyline points="369.80,401.56 417.77,395.72 462.05,389.61 487.88,396.97" stroke="#d6c49a" fill="none" stroke-width="0.5" stroke-opacity="0.45"/>
<polyline points="369.80,392.21 417.77,387.99 462.05,383.85 487.88,391.17" stroke="#add49a" fill="none" stroke-width="0.5" stroke-opacity="0.45"/>
<polyline points="369.80,378.28 417.77,377.96 462.05,381.12 487.88,387.34" stroke="#d9b48e" fill="none" stroke-width="0.5" stroke-opacity="0.45"/>
<polyline points="369.80,375.49 417.77,384.87 462.05,374.24 487.88,372.10" stroke="#8fc47c" fill="none" stroke-width="0.5" stroke-opacity="0.45"/>
<polyline points="369.80,378.60 417.77,383.15 462.05,393.90 487.88,385.03" stroke="#e99595" fill="none" stroke-width="0.5" stroke-opacity="0.45"/>
<polyline points="369.80,389.23 417.77,398.35 462.05,393.00 487.88,396.56" stroke="#8fc47c" fill="none" stroke-width="0.5" stroke-opacity="0.45"/>
<polyline points="369.80,390.83 417.77,392.43 462.05,384.60 487.88,382.38" stroke="#d9b48e" fill="none" stroke-width="0.5" stroke-opacity="0.45"/>
<polyline points="369.80,394.25 417.77,388.90 462.05,390.79 487.88,389.00" stroke="#e99595" fill="none" stroke-width="0.5" stroke-opacity="0.45"/>
<polyline points="369.80,406.19 417.77,396.26 462.05,405.31 487.88,406.19" stroke="#add49a" fill="none" stroke-width="0.5" stroke-opacity="0.45"/>
<polyline points="369.80,389.74 417.77,385.73 462.05,376.91 487.88,390.89" stroke="#d6c49a" fill="none" stroke-width="0.5" stroke-opacity="0.45"/>
<polyline points="369.80,396.28 417.77,399.37 462.05,399.25 487.88,400.60" stroke="#8fc47c" fill="none" stroke-width="0.5" stroke-opacity="0.45"/>
<polyline points="369.80,392.92 417.77,393.65 462.05,395.97 487.88,397.86" stroke="#add49a" fill="none" stroke-width="0.5" stroke-opacity="0.45"/>
<polyline points="369.80,392.51 417.77,389.68 462.05,384.09 487.88,384.87" stroke="#d6c49a" fill="none" stroke-width="0.5" stroke-opacity="0.45"/>
<polyline points="369.80,387.29 417.77,387.82 462.05,382.73 487.88,392.23" stroke="#d6c49a" fill="none" stroke-width="0.5" stroke-opacity="0.45"/>
<polyline points="369.80,384.04 417.77,386.93 462.05,386.16 487.88,388.74" stroke="#d6c49a" fill="none" stroke-width="0.5" stroke-opacity="0.45"/>
<polyline points="369.80,406.19 417.77,406.19 462.05,406.19 487.88,406.19" stroke="#ef8a8a" fill="none" stroke-width="0.5" stroke-opacity="0.45"/>
<polyline points="369.80,385.66 417.77,384.27 462.05,391.63 487.88,385.67" stroke="#add49a" fill="none" stroke-width="0.5" stroke-opacity="0.45"/>
<polyline points="369.80,403.10 417.77,400.05 462.05,402.24 487.88,401.20" stroke="#ef8a8a" fill="none" stroke-width="0.5" stroke-opacity="0.45"/>
<polyline points="369.80,387.85 417.77,385.29 462.05,386.92 487.88,380.54" stroke="#add49a" fill="none" stroke-width="0.5" stroke-opacity="0.45"/>
<polyline points="369.80,379.57 417.77,385.31 462.05,378.85 487.88,380.95" stroke="#ef8a8a" fill="none" stroke-width="0.5" stroke-opacity="0.45"/>
<polyline points="369.80,377.31 417.77,374.49 462.05,378.31 487.88,380.74" stroke="#ef8a8a" fill="none" stroke-width="0.5" stroke-opacity="0.45"/>
<polyline points="369.80,394.54 417.77,397.78 462.05,393.80 487.88,398.81" stroke="#d6c49a" fill="none" stroke-width="0.5" stroke-opacity="0.45"/>
<polyline points="369.80,397.54 417.77,393.25 462.05,398.08 487.88,389.24" stroke="#8fc47c" fill="none" stroke-width="0.5" stroke-opacity="0.45"/>
<polyline points="369.80,398.87 417.77,406.19 462.05,404.12 487.88,394.51" stroke="#d9b48e" fill="none" stroke-width="0.5" stroke-opacity="0.45"/>
<polyline points="369.80,380.99 417.77,384.51 462.05,386.48 487.88,386.89" stroke="#e99595" fill="none" stroke-width="0.5" stroke-opacity="0.45"/>
<polyline points="369.80,387.67 417.77,394.25 462.05,388.53 487.88,394.13" stroke="#d6c49a" fill="none" stroke-width="0.5" stroke-opacity="0.45"/>
<polyline points="369.80,390.44 417.77,388.86 462.05,382.44 487.88,385.72" stroke="#d6c49a" fill="none" stroke-width="0.5" stroke-opacity="0.45"/>
<polyline points="369.80,385.48 417.77,386.88 462.05,386.70 487.88,391.15" stroke="#8fc47c" fill="none" stroke-width="0.5" stroke-opacity="0.45"/>
<polyline points="369.80,384.28 417.77,391.12 462.05,393.40 487.88,399.24" stroke="#e99595" fill="none" stroke-width="0.5" stroke-opacity="0.45"/>
<polyline points="369.80,393.94 417.77,387.52 462.05,386.91 487.88,382.90" stroke="#add49a" fill="none" stroke-width="0.5" stroke-opacity="0.45"/>
<polyline points="369.80,386.06 417.77,376.66 462.05,386.81 487.88,395.25" stroke="#d6c49a" fill="none" stroke-width="0.5" stroke-opacity="0.45"/>
<polyline points="369.80,364.43 417.77,368.45 462.05,365.89 487.88,365.34" stroke="#d6c49a" fill="none" stroke-width="0.5" stroke-opacity="0.45"/>
<polyline points="369.80,385.57 417.77,395.15 462.05,384.57 487.88,386.68" stroke="#d9b48e" fill="none" stroke-width="0.5" stroke-opacity="0.45"/>
<polyline points="369.80,394.37 417.77,395.30 462.05,389.92 487.88,393.21" stroke="#d9b48e" fill="none" stroke-width="0.5" stroke-opacity="0.45"/>
<polyline points="369.80,381.30 417.77,392.02 462.05,383.12 487.88,381.69" stroke="#d9b48e" fill="none" stroke-width="0.5" stroke-opacity="0.45"/>
<polyline points="369.80,378.87 417.77,384.51 462.05,383.72 487.88,383.16" stroke="#ef8a8a" fill="none" stroke-width="0.5" stroke-opacity="0.45"/>
<polyline points="369.80,393.34 417.77,389.40 462.05,392.41 487.88,393.58" stroke="#add49a" fill="none" stroke-width="0.5" stroke-opacity="0.45"/>
<polyline points="369.80,388.86 417.77,391.64 462.05,392.89 487.88,393.30" stroke="#e99595" fill="none" stroke-width="0.5" stroke-opacity="0.45"/>
<polyline points="369.80,377.90 417.77,386.34 462.05,380.72 487.88,383.68" stroke="#e99595" fill="none" stroke-width="0.5" stroke-opacity="0.45"/>
<polyline points="369.80,394.30 417.77,391.56 462.05,397.06 487.88,396.74" stroke="#8fc47c" fill="none" stroke-width="0.5" stroke-opacity="0.45"/>
<polyline points="369.80,396.29 417.77,389.53 462.05,396.22 487.88,393.36" stroke="#add49a" fill="none" stroke-width="0.5" stroke-opacity="0.45"/>
<polyline points="369.80,397.95 417.77,406.19 462.05,394.82 487.88,399.06" stroke="#add49a" fill="none" stroke-width="0.5" stroke-opacity="0.45"/>
<polyline points="369.80,392.63 417.77,391.52 462.05,389.68 487.88,395.81" stroke="#8fc47c" fill="none" stroke-width="0.5" stroke-opacity="0.45"/>
<polyline points="369.80,374.71 417.77,379.75 462.05,386.25 487.88,382.57" stroke="#d6c49a" fill="none" stroke-width="0.5" stroke-opacity="0.45"/>
<polyline points="369.80,384.03 417.77,387.67 462.05,383.88 487.88,375.32" stroke="#d6c49a" fill="none" stroke-width="0.5" stroke-opacity="0.45"/>
<polyline points="369.80,396.10 417.77,386.55 462.05,392.20 487.88,384.80" stroke="#add49a" fill="none" stroke-width="0.5" stroke-opacity="0.45"/>
<polyline points="369.80,395.22 417.77,398.69 462.05,396.52 487.88,388.45" stroke="#d9b48e" fill="none" stroke-width="0.5" stroke-opacity="0.45"/>
<polyline points="369.80,396.46 417.77,399.79 462.05,389.46 487.88,396.27" stroke="#ef8a8a" fill="none" stroke-width="0.5" stroke-opacity="0.45"/>
<polyline points="369.80,381.11 417.77,377.36 462.05,381.02 487.88,374.60" stroke="#ef8a8a" fill="none" stroke-width="0.5" stroke-opacity="0.45"/>
<polyline points="369.80,402.56 417.77,395.99 462.05,399.75 487.88,393.18" stroke="#8fc47c" fill="none" stroke-width="0.5" stroke-opacity="0.45"/>
<polyline points="369.80,386.51 417.77,387.10 462.05,391.16 487.88,390.56" stroke="#d6c49a" fill="none" stroke-width="0.5" stroke-opacity="0.45"/>
<polyline points="369.80,397.54 417.77,394.98 462.05,393.74 487.88,397.08" stroke="#8fc47c" fill="none" stroke-width="0.5" stroke-opacity="0.45"/>
<polyline points="369.80,385.13 417.77,384.39 462.05,386.04 487.88,389.41" stroke="#add49a" fill="none" stroke-width="0.5" stroke-opacity="0.45"/>
<polyline points="369.80,387.38 417.77,399.62 462.05,399.14 487.88,397.78" stroke="#8fc47c" fill="none" stroke-width="0.5" stroke-opacity="0.45"/>
<polyline points="369.80,386.09 417.77,383.82 462.05,388.79 487.88,397.26" stroke="#add49a" fill="none" stroke-width="0.5" stroke-opacity="0.45"/>
<polyline points="369.80,382.17 417.77,386.51 462.05,383.29 487.88,383.27" stroke="#d9b48e" fill="none" stroke-width="0.5" stroke-opacity="0.45"/>
<polyline points="369.80,406.19 417.77,399.43 462.05,400.13 487.88,396.97" stroke="#e99595" fill="none" stroke-width="0.5" stroke-opacity="0.45"/>
<polyline points="369.80,397.65 417.77,389.69 462.05,388.47 487.88,395.42" stroke="#d6c49a" fill="none" stroke-width="0.5" stroke-opacity="0.45"/>
<polyline points="369.80,387.58 417.77,391.35 462.05,391.02 487.88,390.70" stroke="#add49a" fill="none" stroke-width="0.5" stroke-opacity="0.45"/>
<polyline points="369.80,399.28 417.77,399.53 462.05,399.15 487.88,394.93" stroke="#ef8a8a" fill="none" stroke-width="0.5" stroke-opacity="0.45"/>
<polyline points="369.80,385.68 417.77,385.10 462.05,384.21 487.88,377.74" stroke="#8fc47c" fill="none" stroke-width="0.5" stroke-opacity="0.45"/>
<polyline points="369.80,388.75 417.77,387.77 462.05,394.43 487.88,381.51" stroke="#d9b48e" fill="none" stroke-width="0.5" stroke-opacity="0.45"/>
<polyline points="369.80,389.23 417.77,384.56 462.05,386.06 487.88,390.52" stroke="#d9b48e" fill="none" stroke-width="0.5" stroke-opacity="0.45"/>
<polyline points="369.80,387.16 417.77,391.78 462.05,391.79 487.88,399.76" stroke="#add49a" fill="none" stroke-width="0.5" stroke-opacity="0.45"/>
<polyline points="369.80,396.19 417.77,395.25 462.05,384.24 487.88,394.35" stroke="#e99595" fill="none" stroke-width="0.5" stroke-opacity="0.45"/>
<polyline points="369.80,393.31 417.77,385.93 462.05,380.62 487.88,396.40" stroke="#e99595" fill="none" stroke-width="0.5" stroke-opacity="0.45"/>
<polyline points="369.80,387.37 417.77,395.27 462.05,391.86 487.88,388.12" stroke="#e99595" fill="none" stroke-width="0.5" stroke-opacity="0.45"/>
<polyline points="369.80,393.18 417.77,382.45 462.05,384.34 487.88,390.58" stroke="#8fc47c" fill="none" stroke-width="0.5" stroke-opacity="0.45"/>
<polyline points="369.80,389.89 417.77,397.53 462.05,394.75 487.88,391.11" stroke="#e99595" fill="none" stroke-width="0.5" stroke-opacity="0.45"/>
<polyline points="369.80,382.90 417.77,391.22 462.05,385.96 487.88,386.68" stroke="#d6c49a" fill="none" stroke-width="0.5" stroke-opacity="0.45"/>
<polyline points="369.80,387.20 417.77,388.35 462.05,385.77 487.88,389.51" stroke="#d6c49a" fill="none" stroke-width="0.5" stroke-opacity="0.45"/>
<polyline points="369.80,376.33 417.77,376.10 462.05,371.64 487.88,375.66" stroke="#add49a" fill="none" stroke-width="0.5" stroke-opacity="0.45"/>
<polyline points="369.80,394.58 417.77,397.06 462.05,393.39 487.88,394.40" stroke="#8fc47c" fill="none" stroke-width="0.5" stroke-opacity="0.45"/>
<polyline points="369.80,385.39 417.77,378.20 462.05,384.39 487.88,380.49" stroke="#add49a" fill="none" stroke-width="0.5" stroke-opacity="0.45"/>
<polyline points="369.80,393.10 417.77,393.94 462.05,397.99 487.88,394.55" stroke="#e99595" fill="none" stroke-width="0.5" stroke-opacity="0.45"/>
<polyline points="369.80,390.00 417.77,394.16 462.05,390.14 487.88,390.09" stroke="#d9b48e" fill="none" stroke-width="0.5" stroke-opacity="0.45"/>
<polyline points="369.80,386.46 417.77,384.21 462.05,391.56 487.88,390.68" stroke="#d9b48e" fill="none" stroke-width="0.5" stroke-opacity="0.45"/>
<polyline points="369.80,381.23 417.77,378.14 462.05,374.37 487.88,377.83" stroke="#e99595" fill="none" stroke-width="0.5" stroke-opacity="0.45"/>
<polyline points="369.80,387.48 417.77,385.41 462.05,385.82 487.88,390.06" stroke="#add49a" fill="none" stroke-width="0.5" stroke-opacity="0.45"/>
<polyline points="369.80,385.19 417.77,381.21 462.05,388.64 487.88,392.09" stroke="#d9b48e" fill="none" stroke-width="0.5" stroke-opacity="0.45"/>
<polyline points="369.80,390.86 417.77,383.15 462.05,380.90 487.88,383.06" stroke="#d9b48e" fill="none" stroke-width="0.5" stroke-opacity="0.45"/>
<polyline points="369.80,398.52 417.77,404.54 462.05,402.89 487.88,400.31" stroke="#add49a" fill="none" stroke-width="0.5" stroke-opacity="0.45"/>
<polyline points="369.80,390.20 417.77,391.05 462.05,391.42 487.88,394.60" stroke="#d9b48e" fill="none" stroke-width="0.5" stroke-opacity="0.45"/>
<polyline points="369.80,393.85 417.77,390.98 462.05,393.50 487.88,392.72" stroke="#d6c49a" fill="none" stroke-width="0.5" stroke-opacity="0.45"/>
<polyline points="369.80,397.98 417.77,396.11 462.05,394.28 487.88,395.13" stroke="#d6c49a" fill="none" stroke-width="0.5" stroke-opacity="0.45"/>
<polyline points="369.80,390.08 417.77,382.74 462.05,394.90 487.88,391.50" stroke="#e99595" fill="none" stroke-width="0.5" stroke-opacity="0.45"/>
<polyline points="369.80,381.73 417.77,383.57 462.05,382.20 487.88,381.98" stroke="#d9b48e" fill="none" stroke-width="0.5" stroke-opacity="0.45"/>
<polyline points="369.80,390.19 417.77,393.22 462.05,389.39 487.88,389.39" stroke="#d6c49a" fill="none" stroke-width="0.5" stroke-opacity="0.45"/>
<polyline points="369.80,399.71 417.77,406.19 462.05,399.44 487.88,400.71" stroke="#add49a" fill="none" stroke-width="0.5" stroke-opacity="0.45"/>
<polyline points="369.80,395.96 417.77,391.99 462.05,394.72 487.88,390.17" stroke="#e99595" fill="none" stroke-width="0.5" stroke-opacity="0.45"/>
<polyline points="369.80,381.87 417.77,383.71 462.05,382.50 487.88,383.19" stroke="#e99595" fill="none" stroke-width="0.5" stroke-opacity="0.45"/>
<polyline points="369.80,394.18 417.77,394.91 462.05,392.31 487.88,398.86" stroke="#ef8a8a" fill="none" stroke-width="0.5" stroke-opacity="0.45"/>
<polyline points="369.80,391.72 417.77,387.85 462.05,395.72 487.88,393.26" stroke="#d9b48e" fill="none" stroke-width="0.5" stroke-opacity="0.45"/>
<polyline points="369.80,404.56 417.77,402.89 462.05,396.65 487.88,395.50" stroke="#ef8a8a" fill="none" stroke-width="0.5" stroke-opacity="0.45"/>
<polyline points="369.80,393.44 417.77,395.07 462.05,389.94 487.88,393.14" stroke="#d9b48e" fill="none" stroke-width="0.5" stroke-opacity="0.45"/>
<polyline points="369.80,389.27 417.77,384.98 462.05,391.90 487.88,382.93" stroke="#d9b48e" fill="none" stroke-width="0.5" stroke-opacity="0.45"/>
<polyline points="369.80,382.37 417.77,385.17 462.05,388.28 487.88,385.81" stroke="#8fc47c" fill="none" stroke-width="0.5" stroke-opacity="0.45"/>
<polyline points="369.80,388.65 417.77,388.05 462.05,392.76 487.88,395.21" stroke="#d9b48e" fill="none" stroke-width="0.5" stroke-opacity="0.45"/>
<polyline points="369.80,385.28 417.77,380.39 462.05,392.06 487.88,384.26" stroke="#e99595" fill="none" stroke-width="0.5" stroke-opacity="0.45"/>
<polyline points="369.80,398.46 417.77,398.35 462.05,398.10 487.88,399.57" stroke="#d6c49a" fill="none" stroke-width="0.5" stroke-opacity="0.45"/>
<polyline points="369.80,386.40 417.77,379.06 462.05,389.71 487.88,384.69" stroke="#e99595" fill="none" stroke-width="0.5" stroke-opacity="0.45"/>
<polyline points="369.80,385.83 417.77,388.05 462.05,387.45 487.88,390.82" stroke="#e99595" fill="none" stroke-width="0.5" stroke-opacity="0.45"/>
<polyline points="369.80,387.11 417.77,388.15 462.05,389.75 487.88,381.57" stroke="#8fc47c" fill="none" stroke-width="0.5" stroke-opacity="0.45"/>
<polyline points="369.80,378.37 417.77,383.86 462.05,380.25 487.88,382.82" stroke="#ef8a8a" fill="none" stroke-width="0.5" stroke-opacity="0.45"/>
<polyline points="369.80,382.85 417.77,387.40 462.05,389.58 487.88,387.63" stroke="#d9b48e" fill="none" stroke-width="0.5" stroke-opacity="0.45"/>
<polyline points="369.80,377.48 417.77,388.88 462.05,391.18 487.88,386.62" stroke="#add49a" fill="none" stroke-width="0.5" stroke-opacity="0.45"/>
<polyline points="369.80,391.01 417.77,382.20 462.05,384.31 487.88,392.65" stroke="#add49a" fill="none" stroke-width="0.5" stroke-opacity="0.45"/>
<polyline points="369.80,389.05 417.77,392.93 462.05,387.73 487.88,392.30" stroke="#d6c49a" fill="none" stroke-width="0.5" stroke-opacity="0.45"/>
<polyline points="369.80,398.33 417.77,400.49 462.05,394.68 487.88,396.74" stroke="#add49a" fill="none" stroke-width="0.5" stroke-opacity="0.45"/>
<polyline points="369.80,379.00 417.77,375.78 462.05,375.36 487.88,367.86" stroke="#d6c49a" fill="none" stroke-width="0.5" stroke-opacity="0.45"/>
<polyline points="369.80,390.43 417.77,391.22 462.05,387.88 487.88,390.15" stroke="#add49a" fill="none" stroke-width="0.5" stroke-opacity="0.45"/>
<polyline points="369.80,380.14 417.77,376.97 462.05,372.86 487.88,372.45" stroke="#e99595" fill="none" stroke-width="0.5" stroke-opacity="0.45"/>
<polyline points="369.80,386.02 417.77,388.73 462.05,382.21 487.88,387.31" stroke="#add49a" fill="none" stroke-width="0.5" stroke-opacity="0.45"/>
<polyline points="369.80,393.84 417.77,392.06 462.05,392.85 487.88,387.81" stroke="#d9b48e" fill="none" stroke-width="0.5" stroke-opacity="0.45"/>
<polyline points="369.80,388.55 417.77,395.56 462.05,392.60 487.88,391.97" stroke="#e99595" fill="none" stroke-width="0.5" stroke-opacity="0.45"/>
<polyline points="369.80,392.74 417.77,393.58 462.05,396.25 487.88,399.77" stroke="#8fc47c" fill="none" stroke-width="0.5" stroke-opacity="0.45"/>
<polyline points="369.80,397.49 417.77,397.04 462.05,392.84 487.88,391.61" stroke="#add49a" fill="none" stroke-width="0.5" stroke-opacity="0.45"/>
<polyline points="369.80,386.47 417.77,390.03 462.05,381.63 487.88,387.39" stroke="#d9b48e" fill="none" stroke-width="0.5" stroke-opacity="0.45"/>
<polyline points="369.80,392.71 417.77,395.12 462.05,399.35 487.88,394.44" stroke="#d9b48e" fill="none" stroke-width="0.5" stroke-opacity="0.45"/>
<polyline points="369.80,373.86 417.77,380.94 462.05,380.12 487.88,380.17" stroke="#ef8a8a" fill="none" stroke-width="0.5" stroke-opacity="0.45"/>
<polyline points="369.80,387.30 417.77,382.56 462.05,393.15 487.88,390.83" stroke="#d9b48e" fill="none" stroke-width="0.5" stroke-opacity="0.45"/>
<polyline points="369.80,384.02 417.77,384.74 462.05,384.13 487.88,385.51" stroke="#d9b48e" fill="none" stroke-width="0.5" stroke-opacity="0.45"/>
<polyline points="369.80,392.43 417.77,398.51 462.05,398.09 487.88,396.66" stroke="#e99595" fill="none" stroke-width="0.5" stroke-opacity="0.45"/>
<polyline points="369.80,396.78 417.77,401.49 462.05,390.93 487.88,395.18" stroke="#8fc47c" fill="none" stroke-width="0.5" stroke-opacity="0.45"/>
<polyline points="369.80,380.07 417.77,384.89 462.05,388.84 487.88,383.75" stroke="#add49a" fill="none" stroke-width="0.5" stroke-opacity="0.45"/>
<polyline points="369.80,393.78 417.77,390.84 462.05,395.75 487.88,385.21" stroke="#d6c49a" fill="none" stroke-width="0.5" stroke-opacity="0.45"/>
<polyline points="369.80,398.51 417.77,396.60 462.05,400.92 487.88,396.32" stroke="#e99595" fill="none" stroke-width="0.5" stroke-opacity="0.45"/>
<polyline points="369.80,394.19 417.77,394.40 462.05,399.59 487.88,399.43" stroke="#add49a" fill="none" stroke-width="0.5" stroke-opacity="0.45"/>
<polyline points="369.80,391.93 417.77,386.49 462.05,392.70 487.88,391.60" stroke="#d9b48e" fill="none" stroke-width="0.5" stroke-opacity="0.45"/>
<polyline points="369.80,386.44 417.77,383.97 462.05,383.93 487.88,382.65" stroke="#e99595" fill="none" stroke-width="0.5" stroke-opacity="0.45"/>
<polyline points="369.80,398.84 417.77,397.09 462.05,395.19 487.88,387.42" stroke="#ef8a8a" fill="none" stroke-width="0.5" stroke-opacity="0.45"/>
<polyline points="369.80,385.95 417.77,383.10 462.05,386.80 487.88,384.82" stroke="#add49a" fill="none" stroke-width="0.5" stroke-opacity="0.45"/>
<polyline points="369.80,390.02 417.77,388.71 462.05,395.49 487.88,390.45" stroke="#d9b48e" fill="none" stroke-width="0.5" stroke-opacity="0.45"/>
<polyline points="369.80,393.32 417.77,397.35 462.05,396.95 487.88,401.23" stroke="#e99595" fill="none" stroke-width="0.5" stroke-opacity="0.45"/>
<polyline points="369.80,395.19 417.77,391.68 462.05,386.57 487.88,393.68" stroke="#d9b48e" fill="none" stroke-width="0.5" stroke-opacity="0.45"/>
<polyline points="369.80,393.16 417.77,392.85 462.05,395.79 487.88,393.82" stroke="#d9b48e" fill="none" stroke-width="0.5" stroke-opacity="0.45"/>
<polyline points="369.80,398.05 417.77,395.06 462.05,399.48 487.88,390.57" stroke="#ef8a8a" fill="none" stroke-width="0.5" stroke-opacity="0.45"/>
<polyline points="369.80,376.41 417.77,383.04 462.05,380.00 487.88,380.84" stroke="#e99595" fill="none" stroke-width="0.5" stroke-opacity="0.45"/>
<polyline points="369.80,380.61 417.77,386.66 462.05,382.67 487.88,379.48" stroke="#ef8a8a" fill="none" stroke-width="0.5" stroke-opacity="0.45"/>
<polyline points="369.80,396.18 417.77,399.74 462.05,388.17 487.88,396.25" stroke="#ef8a8a" fill="none" stroke-width="0.5" stroke-opacity="0.45"/>
<polyline points="369.80,383.63 417.77,375.73 462.05,383.18 487.88,379.30" stroke="#ef8a8a" fill="none" stroke-width="0.5" stroke-opacity="0.45"/>
<polyline points="369.80,393.64 417.77,396.13 462.05,401.77 487.88,395.06" stroke="#8fc47c" fill="none" stroke-width="0.5" stroke-opacity="0.45"/>
<polyline points="369.80,377.00 417.77,383.09 462.05,385.46 487.88,380.40" stroke="#d6c49a" fill="none" stroke-width="0.5" stroke-opacity="0.45"/>
<polyline points="369.80,387.89 417.77,392.30 462.05,398.62 487.88,403.11" stroke="#add49a" fill="none" stroke-width="0.5" stroke-opacity="0.45"/>
<polyline points="369.80,396.38 417.77,397.16 462.05,393.53 487.88,395.37" stroke="#e99595" fill="none" stroke-width="0.5" stroke-opacity="0.45"/>
<polyline points="369.80,380.94 417.77,393.46 462.05,379.49 487.88,386.45" stroke="#e99595" fill="none" stroke-width="0.5" stroke-opacity="0.45"/>
<polyline points="369.80,395.60 417.77,384.17 462.05,389.64 487.88,389.58" stroke="#8fc47c" fill="none" stroke-width="0.5" stroke-opacity="0.45"/>
<polyline points="369.80,386.21 417.77,384.27 462.05,386.75 487.88,388.21" stroke="#8fc47c" fill="none" stroke-width="0.5" stroke-opacity="0.45"/>
<polyline points="369.80,385.40 417.77,385.65 462.05,387.46 487.88,380.76" stroke="#ef8a8a" fill="none" stroke-width="0.5" stroke-opacity="0.45"/>
<polyline points="369.80,392.35 417.77,398.01 462.05,388.93 487.88,390.42" stroke="#e99595" fill="none" stroke-width="0.5" stroke-opacity="0.45"/>
<polyline points="369.80,381.55 417.77,371.31 462.05,376.84 487.88,376.97" stroke="#d6c49a" fill="none" stroke-width="0.5" stroke-opacity="0.45"/>
<polyline points="369.80,403.43 417.77,403.61 462.05,395.56 487.88,398.67" stroke="#e99595" fill="none" stroke-width="0.5" stroke-opacity="0.45"/>
<polyline points="369.80,384.33 417.77,378.68 462.05,380.31 487.88,382.01" stroke="#d6c49a" fill="none" stroke-width="0.5" stroke-opacity="0.45"/>
<polyline points="369.80,393.11 417.77,392.77 462.05,388.61 487.88,389.81" stroke="#d9b48e" fill="none" stroke-width="0.5" stroke-opacity="0.45"/>
<polyline points="369.80,392.53 417.77,396.86 462.05,389.55 487.88,388.14" stroke="#8fc47c" fill="none" stroke-width="0.5" stroke-opacity="0.45"/>
<rect x="369.80" y="381.59" width="118.08" height="19.68" fill="#dcc2a8" stroke="none" stroke-width="1" fill-opacity="0.3"/>
<polyline points="369.80,391.92 417.77,391.87 462.05,391.75 487.88,391.26" stroke="#e46a6a" fill="none" stroke-width="0.6" stroke-opacity="0.55"/>
<polyline points="369.80,391.26 417.77,392.03 462.05,391.51 487.88,390.87" stroke="#e46a6a" fill="none" stroke-width="0.6" stroke-opacity="0.55"/>
<polyline points="369.80,391.95 417.77,393.25 462.05,394.20 487.88,394.76" stroke="#e46a6a" fill="none" stroke-width="0.6" stroke-opacity="0.55"/>
<polyline points="369.80,395.29 417.77,397.05 462.05,398.07 487.88,395.80" stroke="#e46a6a" fill="none" stroke-width="0.6" stroke-opacity="0.55"/>
<polyline points="369.80,394.34 417.77,393.46 462.05,394.40 487.88,394.46" stroke="#e46a6a" fill="none" stroke-width="0.6" stroke-opacity="0.55"/>
<polyline points="369.80,393.78 417.77,393.43 462.05,392.83 487.88,394.15" stroke="#e46a6a" fill="none" stroke-width="0.6" stroke-opacity="0.55"/>
<polyline points="369.80,393.06 417.77,393.01 462.05,394.88 487.88,394.86" stroke="#e46a6a" fill="none" stroke-width="0.6" stroke-opacity="0.55"/>
<polyline points="369.80,392.53 417.77,390.36 462.05,391.79 487.88,389.29" stroke="#e46a6a" fill="none" stroke-width="0.6" stroke-opacity="0.55"/>
<polyline points="369.80,393.91 417.77,393.32 462.05,393.65 487.88,392.40" stroke="#e46a6a" fill="none" stroke-width="0.6" stroke-opacity="0.55"/>
<polyline points="369.80,391.77 417.77,392.36 462.05,392.13 487.88,393.54" stroke="#e46a6a" fill="none" stroke-width="0.6" stroke-opacity="0.55"/>
<polyline points="369.80,392.53 417.77,394.54 462.05,391.10 487.88,393.98" stroke="#e46a6a" fill="none" stroke-width="0.6" stroke-opacity="0.55"/>
<polyline points="369.80,389.55 417.77,390.10 462.05,390.65 487.88,390.34" stroke="#e46a6a" fill="none" stroke-width="0.6" stroke-opacity="0.55"/>
<polyline points="369.80,391.11 417.77,390.00 462.05,391.75 487.88,392.52" stroke="#e46a6a" fill="none" stroke-width="0.6" stroke-opacity="0.55"/>
<polyline points="369.80,391.58 417.77,391.02 462.05,392.25 487.88,392.44" stroke="#e46a6a" fill="none" stroke-width="0.6" stroke-opacity="0.55"/>
<rect x="369.80" y="388.72" width="118.08" height="7.38" fill="#ec8a8a" stroke="none" stroke-width="1" fill-opacity="0.35"/>
<line x1="369.80" y1="392.41" x2="487.88" y2="392.41" stroke="#e05a5a" stroke-width="1.2" />
<line x1="364.60" y1="336.30" x2="364.60" y2="412.20" stroke="#1a1a1a" stroke-width="1.0" />
<line x1="361.00" y1="402.50" x2="364.60" y2="402.50" stroke="#1a1a1a" stroke-width="0.8" />
<text x="358.70" y="404.84" font-size="6.5" text-anchor="end" fill="#2b2b2b" stroke="#2b2b2b" stroke-width="0.18">100</text>
<line x1="361.00" y1="377.90" x2="364.60" y2="377.90" stroke="#1a1a1a" stroke-width="0.8" />
<text x="358.70" y="380.24" font-size="6.5" text-anchor="end" fill="#2b2b2b" stroke="#2b2b2b" stroke-width="0.18">200</text>
<line x1="361.00" y1="353.30" x2="364.60" y2="353.30" stroke="#1a1a1a" stroke-width="0.8" />
<text x="358.70" y="355.64" font-size="6.5" text-anchor="end" fill="#2b2b2b" stroke="#2b2b2b" stroke-width="0.18">300</text>
<line x1="364.60" y1="411.70" x2="490.80" y2="411.70" stroke="#1a1a1a" stroke-width="1.0" />
<line x1="369.80" y1="411.70" x2="369.80" y2="414.70" stroke="#1a1a1a" stroke-width="0.8" />
<text x="369.80" y="421.60" font-size="6.2" text-anchor="middle" fill="#2b2b2b" stroke="#2b2b2b" stroke-width="0.18">10</text>
<line x1="388.25" y1="411.70" x2="388.25" y2="414.70" stroke="#1a1a1a" stroke-width="0.8" />
<text x="388.25" y="421.60" font-size="6.2" text-anchor="middle" fill="#2b2b2b" stroke="#2b2b2b" stroke-width="0.18">15</text>
<line x1="406.70" y1="411.70" x2="406.70" y2="414.70" stroke="#1a1a1a" stroke-width="0.8" />
<text x="406.70" y="421.60" font-size="6.2" text-anchor="middle" fill="#2b2b2b" stroke="#2b2b2b" stroke-width="0.18">20</text>
<line x1="425.15" y1="411.70" x2="425.15" y2="414.70" stroke="#1a1a1a" stroke-width="0.8" />
<text x="425.15" y="421.60" font-size="6.2" text-anchor="middle" fill="#2b2b2b" stroke="#2b2b2b" stroke-width="0.18">25</text>
<line x1="443.60" y1="411.70" x2="443.60" y2="414.70" stroke="#1a1a1a" stroke-width="0.8" />
<text x="443.60" y="421.60" font-size="6.2" text-anchor="middle" fill="#2b2b2b" stroke="#2b2b2b" stroke-width="0.18">30</text>
<line x1="462.05" y1="411.70" x2="462.05" y2="414.70" stroke="#1a1a1a" stroke-width="0.8" />
<text x="462.05" y="421.60" font-size="6.2" text-anchor="middle" fill="#2b2b2b" stroke="#2b2b2b" stroke-width="0.18">35</text>
<line x1="480.50" y1="411.70" x2="480.50" y2="414.70" stroke="#1a1a1a" stroke-width="0.8" />
<text x="480.50" y="421.60" font-size="6.2" text-anchor="middle" fill="#2b2b2b" stroke="#2b2b2b" stroke-width="0.18">40</text>
<text x="428.80" y="431.30" font-size="8.03" text-anchor="middle" fill="#161616" font-weight="bold" textLength="11.6" lengthAdjust="spacingAndGlyphs">Time</text>
<text x="343.00" y="374.00" font-size="8.03" text-anchor="middle" fill="#161616" font-weight="bold" textLength="11.5" lengthAdjust="spacingAndGlyphs" transform="rotate(-90 343.00 374.00)">GPX4</text>
<text x="371.00" y="348.40" font-size="6.2" text-anchor="start" fill="#2b2b2b" font-style="italic" stroke="#2b2b2b" stroke-width="0.18">P</text>
<text x="376.00" y="348.40" font-size="6.2" text-anchor="start" fill="#2b2b2b" stroke="#2b2b2b" stroke-width="0.18">= .086</text>
<text x="371.00" y="354.40" font-size="6.2" text-anchor="start" fill="#2b2b2b" stroke="#2b2b2b" stroke-width="0.18">Mann-Whitney</text>
<rect x="451.50" y="347.30" width="34.60" height="12.50" fill="#fff" stroke="#ddd" stroke-width="0.5" rx="1"/>
<line x1="453.80" y1="351.10" x2="463.60" y2="351.10" stroke="#86c486" stroke-width="1.1" />
<line x1="453.80" y1="357.10" x2="463.60" y2="357.10" stroke="#d46a86" stroke-width="1.1" />
<text x="467.00" y="353.30" font-size="6.2" text-anchor="start" fill="#2b2b2b" stroke="#2b2b2b" stroke-width="0.18">Young</text>
<text x="467.00" y="359.30" font-size="6.2" text-anchor="start" fill="#2b2b2b" stroke="#2b2b2b" stroke-width="0.18">Old</text>
<text x="8.00" y="461.80" font-size="10.8" font-weight="bold" fill="#111" stroke="#111" stroke-width="0.35">I</text>
<text x="114.70" y="474.30" font-size="7.95" text-anchor="middle" fill="#2b2b2b" stroke="#2b2b2b" stroke-width="0.18">Correlation between GPX4 and YGMEEPLVIEK peptide</text>
<path d="M62.6 564.5h0M74.0 554.2h0M67.8 555.4h0M75.5 546.7h0M63.5 557.5h0M61.4 567.7h0M72.3 544.0h0M57.6 565.9h0M60.9 564.3h0M62.2 559.4h0M56.1 561.7h0M77.4 553.4h0M52.4 564.9h0M68.1 560.5h0M74.7 551.3h0M66.5 548.7h0M62.1 563.7h0M53.6 567.9h0M57.6 564.1h0M73.0 544.1h0M74.9 542.7h0M74.2 544.8h0M69.2 559.6h0M70.4 545.2h0M61.2 560.6h0M68.5 550.5h0M54.6 567.6h0M63.5 557.9h0M80.6 549.3h0M71.8 553.2h0M73.4 543.9h0M79.9 543.2h0M53.7 567.1h0M76.4 557.3h0M68.2 554.6h0M59.5 557.6h0M80.7 537.5h0M76.4 535.1h0M67.5 557.7h0M79.1 536.1h0M59.5 557.6h0M71.9 552.3h0M73.7 554.5h0M60.6 556.5h0M84.4 531.2h0M55.2 563.9h0M74.2 553.3h0M57.5 560.3h0M67.3 558.2h0M74.3 544.7h0M75.2 538.2h0M75.3 558.1h0M65.1 553.1h0M61.8 555.0h0M76.5 548.7h0M57.3 559.4h0M63.3 560.0h0M67.3 555.9h0M57.2 562.9h0M67.9 557.2h0M66.3 561.5h0M55.4 565.3h0M58.3 562.1h0M71.8 546.8h0M54.8 564.7h0M75.1 558.8h0M54.7 566.8h0M81.9 536.9h0M76.7 554.0h0M66.9 558.6h0M73.8 546.4h0M61.2 558.5h0M57.9 567.6h0M54.1 563.3h0M50.5 569.4h0M77.4 548.6h0M72.7 560.4h0M47.7 569.9h0M70.8 563.2h0M54.5 566.9h0M57.1 562.0h0M51.6 567.2h0M50.3 569.6h0M53.9 566.5h0M67.8 557.6h0M69.1 552.0h0M79.3 566.5h0M63.7 559.1h0M63.9 559.1h0M63.9 559.4h0M62.1 556.3h0M56.9 563.3h0M71.6 549.3h0M58.8 562.1h0M78.6 539.0h0M74.5 553.1h0M65.4 557.5h0M62.8 555.2h0M72.8 542.6h0M74.8 537.6h0M55.0 563.0h0M79.6 549.6h0M65.9 552.6h0M71.4 554.9h0M64.9 563.3h0M64.3 553.2h0M56.4 565.0h0M82.2 552.9h0M60.3 557.8h0M68.9 546.3h0M86.3 557.0h0M87.6 530.0h0M62.4 554.4h0M71.2 551.0h0M69.0 550.6h0M56.9 565.1h0M64.1 561.0h0M56.9 565.2h0M68.0 549.8h0M68.7 553.9h0M55.7 563.1h0M62.7 558.7h0M76.8 551.8h0M61.2 558.4h0M60.1 563.4h0M64.8 554.7h0M60.0 553.2h0M78.1 547.1h0M77.6 542.1h0M61.8 560.3h0M61.2 563.9h0M71.9 564.6h0M69.6 557.1h0M68.2 565.9h0M49.9 564.5h0M60.8 564.5h0M54.6 563.6h0M77.2 552.6h0M62.3 556.8h0M64.2 556.2h0M56.1 566.0h0M70.0 558.0h0M57.9 568.7h0M85.6 538.9h0M83.3 539.3h0M68.7 551.1h0M74.6 550.5h0M86.1 533.4h0M73.9 544.4h0M83.9 542.7h0M66.1 563.6h0M62.7 548.4h0M80.5 547.3h0M73.6 556.9h0M59.9 562.5h0M74.6 548.5h0M60.7 554.4h0M76.0 549.5h0M79.7 554.4h0M67.6 555.2h0M65.5 555.8h0M64.6 560.2h0M57.4 561.3h0M72.6 549.8h0M52.7 569.0h0M50.8 570.0h0M65.2 552.9h0M67.4 567.3h0M65.8 557.5h0M73.8 546.8h0M73.8 550.9h0M72.9 554.7h0M78.6 546.9h0M67.1 553.7h0M69.0 553.6h0M80.8 545.0h0M57.7 565.6h0M68.8 551.8h0M60.7 563.2h0M50.1 570.6h0M60.2 559.1h0M85.3 545.5h0M68.9 554.4h0M81.7 556.2h0M83.8 543.7h0M57.1 560.1h0M64.8 554.8h0M54.7 566.6h0M61.3 557.1h0M82.1 530.6h0M72.4 544.5h0M65.3 551.6h0M74.3 562.5h0M80.9 548.4h0M63.8 558.5h0M65.1 562.2h0M73.2 544.5h0M62.7 567.2h0M66.5 557.0h0M70.6 557.2h0M69.0 556.7h0M75.4 559.3h0M63.8 559.1h0M87.3 534.8h0M61.7 563.8h0M63.6 564.8h0M59.0 560.8h0M63.8 552.7h0M77.4 549.9h0M65.5 564.4h0M68.8 552.2h0M68.2 557.9h0M74.6 557.1h0M72.7 551.3h0M61.6 553.6h0M74.2 544.4h0M69.5 547.6h0M73.9 549.8h0M70.2 546.1h0M74.1 540.7h0M50.6 566.2h0M69.8 551.3h0M74.1 543.2h0M65.3 556.7h0M85.2 540.4h0M54.6 560.4h0M52.3 568.7h0M54.7 564.6h0M67.1 546.8h0M70.3 547.5h0M57.6 562.5h0M63.1 556.4h0M55.9 556.3h0M68.1 563.3h0M57.6 559.6h0M80.7 528.2h0M75.1 557.1h0M64.8 564.9h0M69.8 548.6h0M70.0 557.5h0M47.4 571.2h0M62.1 553.0h0M72.0 551.1h0M58.4 559.6h0M63.2 557.9h0M66.7 550.9h0M85.3 535.0h0M72.0 557.3h0M74.7 548.3h0M70.4 559.0h0M59.5 560.4h0M62.1 561.9h0M66.5 561.8h0M54.3 563.7h0M57.1 565.1h0M56.7 565.5h0M74.0 543.1h0M66.8 558.5h0M48.9 567.5h0M70.2 559.9h0M62.2 553.3h0M64.1 561.5h0M52.8 568.4h0M66.5 559.7h0M69.7 555.6h0M54.6 565.2h0M63.4 562.5h0M62.9 563.1h0M76.4 561.0h0M57.3 565.5h0M59.2 557.2h0M70.9 560.1h0M74.8 544.7h0M49.0 567.9h0M69.4 549.8h0M67.8 559.1h0M65.6 556.8h0M59.2 563.1h0M63.2 556.8h0M68.2 550.7h0M54.8 567.7h0M63.6 558.4h0M68.3 559.6h0M65.7 553.5h0M73.1 556.4h0M81.8 540.1h0M59.1 562.8h0M69.1 554.6h0M82.0 537.3h0M66.8 562.0h0M70.3 553.5h0M53.4 569.2h0M70.9 549.9h0M74.4 546.3h0M66.0 554.2h0M60.5 560.9h0M71.5 556.0h0M60.7 561.9h0M63.6 557.6h0M79.9 548.6h0M51.4 570.5h0M56.6 564.5h0M69.9 547.1h0M73.7 553.1h0M57.3 558.6h0M53.4 567.1h0M66.3 552.4h0M62.7 555.5h0M57.3 564.5h0M59.9 560.7h0M55.1 560.3h0M65.0 554.3h0M64.8 549.6h0M61.6 563.2h0M67.4 544.9h0M75.5 558.7h0M77.6 555.8h0M62.3 556.3h0M67.9 550.2h0M76.9 541.3h0M72.2 542.0h0M78.3 549.7h0M62.2 557.6h0M61.2 554.5h0M68.5 552.7h0M60.7 560.1h0M62.0 557.0h0M62.9 554.2h0M77.2 551.8h0M86.9 529.0h0M66.9 542.1h0M59.7 554.0h0M59.7 555.0h0M68.5 545.4h0M69.0 549.1h0M74.4 539.5h0M71.0 546.6h0M72.5 545.6h0M70.1 563.7h0M80.3 541.7h0M62.6 563.4h0M65.7 547.6h0M71.3 557.7h0M64.0 559.4h0M72.7 548.4h0M67.4 562.8h0M70.2 553.0h0M56.7 560.1h0M68.0 563.0h0M57.3 566.3h0M59.8 563.4h0M54.9 559.2h0M65.1 560.6h0M82.0 559.1h0M73.7 550.1h0M63.9 559.3h0M55.0 563.2h0M72.0 554.0h0M74.6 552.7h0M73.7 536.9h0M63.4 558.8h0M65.0 563.8h0M58.2 558.7h0M79.2 538.3h0M73.5 551.2h0M72.7 551.7h0M64.0 564.5h0M80.0 556.0h0M68.8 566.8h0M55.8 566.8h0M57.0 561.6h0M86.3 525.2h0M66.7 558.7h0M67.9 550.8h0M62.6 555.4h0M66.7 552.2h0M71.1 561.9h0M66.1 550.7h0M72.8 547.3h0M75.4 552.2h0M59.1 559.9h0M52.5 566.4h0M68.5 551.3h0M67.3 557.1h0M57.7 564.3h0M62.6 551.2h0M67.5 552.5h0M62.9 565.2h0M77.1 540.1h0M64.2 561.0h0M67.6 546.2h0M61.0 562.5h0M56.7 567.5h0M50.6 562.6h0M79.6 537.1h0M81.2 552.3h0M62.3 559.7h0M67.1 553.4h0M74.6 556.5h0M66.0 555.2h0M66.6 550.3h0M69.9 546.8h0M67.6 548.2h0M76.6 543.5h0M50.2 572.8h0M73.8 554.9h0M63.3 562.6h0M66.0 554.9h0M63.4 553.7h0M86.2 530.6h0M73.2 546.8h0M72.5 550.1h0M62.6 556.2h0M70.9 549.8h0M72.0 551.9h0M76.0 566.6h0M72.6 539.5h0M71.2 550.3h0M57.1 563.6h0M72.3 553.0h0M67.6 556.1h0M65.8 550.4h0M72.9 548.6h0M74.9 550.4h0M58.3 564.9h0M81.6 543.3h0M66.9 555.2h0M64.3 558.4h0M63.9 557.3h0M62.7 565.5h0M71.9 555.0h0M67.3 553.6h0M63.0 558.2h0M77.5 555.1h0M67.5 562.5h0M74.8 547.0h0M66.9 550.1h0M59.3 560.5h0M69.5 572.8h0M82.2 540.4h0M62.3 569.0h0M67.8 552.6h0M70.5 557.8h0M73.6 546.2h0M74.1 556.3h0M78.2 544.9h0M71.0 569.0h0M64.8 556.3h0M73.0 556.9h0M58.7 560.9h0M76.5 552.4h0M64.1 550.8h0M65.7 559.7h0M71.3 548.7h0M73.1 553.0h0M70.4 569.0h0M58.1 565.2h0M63.3 556.5h0M64.3 564.1h0M63.5 557.4h0M70.6 544.0h0M53.5 566.1h0M54.5 564.2h0M64.7 557.3h0M62.9 552.6h0M67.4 554.8h0M67.6 551.0h0M68.7 552.2h0M62.0 559.5h0M69.3 559.0h0M63.6 564.5h0M78.8 536.8h0M71.5 552.8h0M68.2 553.9h0M72.3 557.3h0M66.3 552.0h0M62.3 557.8h0M64.1 556.8h0M70.0 552.2h0M77.0 548.5h0M68.4 542.8h0M54.3 563.1h0M68.3 554.7h0M72.0 550.5h0M57.9 565.8h0M63.4 560.8h0M63.1 557.8h0M72.3 553.7h0M71.9 542.6h0M75.3 543.5h0M59.6 557.2h0M63.3 562.6h0M63.2 565.8h0M47.2 569.6h0M52.1 567.0h0M59.7 567.1h0M65.7 553.8h0M76.9 554.6h0M66.4 556.4h0M77.0 537.4h0M61.3 566.5h0M69.0 543.7h0M62.8 564.0h0M49.6 569.4h0M58.2 562.6h0M55.9 566.9h0M55.3 562.7h0M61.3 566.3h0M68.1 558.3h0M70.6 558.9h0M56.4 559.2h0M73.5 561.9h0M75.2 554.8h0M68.6 556.8h0M73.4 547.9h0M68.3 556.6h0M67.6 548.9h0M62.7 565.4h0M55.1 564.8h0M86.4 546.7h0M73.1 548.0h0M74.0 566.9h0M58.6 562.8h0M66.1 554.4h0M58.8 557.6h0M56.7 560.7h0M74.3 555.2h0M53.8 564.9h0M83.0 555.4h0M72.5 557.7h0M58.0 564.4h0M59.9 556.3h0M86.3 536.5h0M61.2 559.4h0M78.6 554.1h0M61.2 551.5h0M60.5 570.2h0M64.2 555.4h0M58.5 565.8h0M75.5 545.1h0M65.6 557.4h0M53.9 565.0h0M72.6 554.1h0M75.9 543.5h0M75.6 549.0h0M83.0 542.9h0M60.0 557.7h0M62.3 561.7h0M59.9 566.5h0M64.0 551.5h0M65.9 560.2h0M77.6 547.7h0M69.1 543.0h0M69.6 552.2h0M74.7 556.5h0M57.1 558.7h0M72.5 563.4h0M64.2 547.8h0M62.1 557.0h0M69.1 550.6h0M76.4 554.6h0M65.5 559.6h0M51.7 565.9h0M58.5 560.5h0M63.8 564.2h0M67.0 553.5h0M68.6 551.5h0M70.5 557.1h0M56.3 562.5h0M69.2 548.8h0M53.8 565.7h0M77.3 553.2h0M63.4 554.1h0M79.1 541.6h0M68.8 554.7h0M64.1 553.4h0M58.7 560.1h0M67.6 563.1h0M66.7 560.4h0M53.0 569.1h0M62.5 569.3h0M87.5 547.6h0M61.8 563.5h0M67.5 558.4h0M52.2 570.5h0M74.3 551.2h0M51.0 567.1h0M65.1 555.3h0M57.8 564.3h0M65.2 553.0h0M58.1 558.2h0M68.9 556.3h0M65.0 560.8h0M70.7 563.5h0M65.2 559.9h0M72.2 539.9h0M57.0 565.7h0M76.2 558.2h0M58.4 569.4h0M69.9 550.5h0M72.8 548.1h0M64.5 556.3h0M81.8 550.9h0M56.0 568.1h0M74.3 550.9h0M76.2 549.8h0M55.4 561.4h0M59.4 557.5h0M53.1 565.3h0M80.2 538.3h0M62.1 560.0h0M59.7 565.1h0M65.2 554.0h0M82.3 545.2h0M60.6 563.3h0M67.5 555.6h0M66.2 561.8h0M62.7 551.4h0M60.9 563.1h0M65.5 547.9h0M77.3 544.1h0M52.5 565.6h0M64.1 565.6h0M57.1 562.4h0M55.7 564.4h0M62.0 566.1h0M71.3 545.0h0M62.6 559.4h0M65.4 546.2h0M70.8 559.7h0M68.1 556.1h0M57.2 564.0h0M62.2 561.2h0M68.5 556.0h0M72.8 550.1h0M67.3 563.3h0M66.4 553.3h0M74.8 546.9h0M69.0 553.3h0M53.0 566.0h0M75.6 545.9h0M63.2 556.2h0M76.4 552.8h0M78.4 557.2h0M58.3 563.3h0M72.8 540.9h0M68.3 555.9h0M59.5 557.2h0M71.9 554.4h0M60.1 562.8h0M55.5 565.4h0M57.7 560.0h0M81.9 552.3h0M60.3 553.0h0M78.9 546.0h0M57.3 559.4h0M57.1 560.8h0M53.7 564.4h0M62.0 557.2h0M64.1 562.3h0M75.6 546.6h0M69.3 549.6h0M52.8 568.2h0M68.7 552.6h0M69.3 554.0h0M71.0 550.2h0M62.4 559.9h0M60.0 554.9h0M76.6 541.2h0M69.7 550.1h0M50.9 567.9h0M49.8 566.5h0M73.7 540.4h0M57.3 568.6h0M73.4 559.5h0M55.9 560.8h0M72.7 546.1h0M74.6 548.9h0M70.0 554.9h0M54.3 567.9h0M52.3 568.9h0M57.4 568.1h0M72.3 552.0h0M70.6 539.7h0M59.2 561.5h0M69.3 556.0h0" stroke="#106a4a" stroke-width="1.04" stroke-linecap="round" fill="none"/>
<path d="M71.9 558.6h0M61.0 562.8h0M82.8 534.4h0M58.9 566.3h0M63.1 567.6h0M61.8 559.7h0M78.5 549.1h0M66.3 554.4h0M72.7 545.7h0M68.2 554.7h0M66.1 553.7h0M60.4 554.1h0M83.6 536.3h0M64.1 551.2h0M58.9 565.9h0M71.7 546.6h0M66.0 556.3h0M60.5 559.4h0M67.9 556.7h0M71.8 549.3h0M59.5 562.7h0M69.4 561.2h0M54.5 564.7h0M79.5 550.9h0M63.3 551.7h0M65.7 552.4h0M53.0 566.8h0M58.9 561.8h0M60.2 558.7h0M67.5 553.6h0M72.6 552.3h0M65.4 564.1h0M62.2 550.6h0M61.4 560.8h0M64.4 553.1h0M48.4 569.6h0M65.5 555.5h0M74.4 550.3h0M83.9 544.2h0M59.9 557.4h0M83.4 531.5h0M57.5 562.5h0M66.8 550.3h0M61.1 556.4h0M60.5 565.6h0M70.0 560.5h0M60.9 552.6h0M64.0 556.3h0M80.8 534.6h0M80.9 539.6h0M65.4 547.1h0M60.1 556.7h0M64.0 561.2h0M68.3 550.0h0M58.4 563.8h0M62.4 548.4h0M77.5 547.2h0M74.7 547.9h0M49.2 569.4h0M70.7 561.6h0M60.8 560.9h0M69.9 551.6h0M52.7 566.5h0M63.2 558.2h0M72.8 536.9h0M60.5 564.5h0M81.6 537.1h0M76.1 544.6h0M63.5 562.3h0M73.8 551.8h0M71.2 553.3h0M65.1 564.5h0M81.2 549.0h0M48.9 569.9h0M66.8 557.5h0M75.7 549.6h0M66.8 556.2h0M62.5 564.7h0M67.8 555.5h0M52.7 566.1h0M73.7 542.3h0M55.0 567.7h0M74.8 550.1h0M67.2 554.7h0M71.5 545.4h0M59.8 555.3h0M54.1 565.7h0M73.6 556.5h0M61.0 555.7h0M85.1 544.5h0M71.4 551.2h0M64.8 549.1h0M60.3 562.7h0M68.5 556.2h0M63.9 561.2h0M53.5 565.9h0M67.6 557.5h0M71.8 566.8h0M74.2 553.8h0M66.7 556.5h0M63.4 562.6h0M63.4 560.6h0M81.1 548.3h0M68.5 549.2h0M68.8 552.9h0M54.0 564.7h0M71.4 547.8h0M68.3 552.4h0M60.6 558.4h0M52.8 566.5h0M58.5 562.5h0M59.9 560.9h0M77.2 537.0h0M49.8 567.6h0M68.9 554.5h0M66.6 551.3h0M71.8 546.6h0M82.3 542.8h0M64.9 554.9h0M65.6 552.3h0M75.0 557.1h0M59.5 562.8h0M64.2 553.2h0M75.7 554.9h0M61.9 560.6h0M62.1 556.4h0M80.3 553.6h0M61.7 554.1h0M71.9 559.5h0M75.4 547.9h0M63.3 561.5h0M80.1 538.4h0M49.2 571.2h0M75.1 536.7h0M55.3 563.9h0M56.9 557.0h0M62.4 555.9h0M67.5 559.2h0M64.2 556.4h0M65.2 554.5h0M66.8 550.4h0M53.1 567.4h0M65.1 555.2h0M63.1 554.3h0M74.1 548.5h0M68.7 562.1h0M76.4 563.2h0M70.6 561.9h0M62.7 554.4h0M70.9 548.9h0M49.8 570.8h0M64.5 554.6h0M67.0 554.0h0M58.4 559.7h0M53.8 568.8h0M60.9 567.6h0M68.6 555.4h0M84.6 554.8h0M68.0 554.2h0M63.4 564.5h0M68.7 554.5h0M79.6 556.6h0M78.4 543.8h0M76.2 542.0h0M68.6 551.5h0M79.3 555.5h0M61.4 556.7h0M90.2 529.0h0M59.6 554.0h0M49.6 567.7h0M63.4 562.6h0M59.9 560.7h0M75.5 547.0h0M75.1 549.6h0M70.0 553.9h0M70.3 553.1h0M67.4 556.6h0M48.8 569.7h0M72.2 546.8h0M75.3 538.3h0M61.6 557.9h0M56.1 558.6h0M55.6 562.6h0M63.4 553.8h0M61.9 566.6h0M67.6 556.6h0M69.0 560.5h0M73.7 551.1h0M70.1 552.7h0M60.6 562.6h0M56.7 558.2h0M76.3 543.2h0M67.1 553.9h0M76.1 541.4h0M73.2 554.2h0M64.7 546.3h0M73.0 550.1h0M51.9 563.1h0M68.2 550.7h0M57.9 568.0h0M77.5 552.6h0M72.7 545.7h0M84.7 540.3h0M71.0 555.4h0M77.8 562.7h0M59.3 562.1h0M76.4 542.6h0M58.1 562.0h0M59.7 562.4h0M62.0 565.0h0M60.8 567.0h0M64.3 558.2h0M64.6 554.5h0M52.7 565.0h0M66.6 553.3h0M61.5 558.8h0M65.0 544.9h0M65.4 554.6h0M58.8 565.2h0M68.8 561.3h0M67.9 557.5h0M75.4 564.3h0M62.8 551.0h0M71.1 546.9h0M63.8 553.6h0M67.2 562.4h0M66.2 554.2h0M61.6 559.9h0M78.4 552.2h0M59.4 561.4h0M74.8 552.6h0M56.8 564.9h0M74.2 539.6h0M81.4 547.3h0M85.5 531.8h0M74.3 549.6h0M62.7 556.5h0M75.6 554.7h0M81.0 534.2h0M80.6 559.9h0M57.4 566.7h0M59.2 562.3h0M64.2 561.6h0M71.9 554.2h0M81.5 551.2h0M87.6 536.4h0M82.1 538.8h0M60.5 565.2h0M75.2 553.0h0M63.6 558.6h0M51.6 569.2h0M74.2 549.9h0M83.3 537.8h0M56.2 563.4h0M64.2 564.7h0M74.8 546.3h0M66.0 546.7h0M80.0 533.9h0M60.3 558.3h0M69.0 551.2h0M86.6 543.8h0M72.7 553.6h0M57.5 560.1h0M60.3 555.2h0M67.8 545.8h0M66.3 551.1h0M61.5 561.3h0M67.6 550.1h0M81.5 539.3h0M72.8 553.5h0M56.4 560.3h0M69.2 550.8h0M75.5 546.2h0M60.3 560.0h0M76.2 557.1h0M63.2 558.0h0M64.4 549.5h0M86.2 534.8h0M63.4 552.7h0M72.1 553.4h0M69.0 551.5h0M73.7 556.1h0M70.4 563.6h0M73.5 548.7h0M67.5 560.8h0M70.6 561.3h0M62.1 560.7h0M74.2 543.0h0M67.6 549.6h0M62.3 565.0h0M81.9 531.8h0M54.2 567.2h0M64.8 557.7h0M67.5 559.2h0M47.5 571.3h0M61.5 564.2h0M67.1 561.0h0M62.0 557.5h0M64.7 561.8h0M70.2 542.2h0M73.3 560.5h0M54.1 563.0h0M55.1 563.1h0M57.1 562.4h0M55.8 563.5h0M56.9 566.5h0M61.8 565.9h0M73.1 555.9h0M57.9 570.0h0M70.5 557.8h0M72.2 551.6h0M80.0 546.6h0M81.9 562.3h0M74.3 554.4h0M72.6 560.7h0M62.5 557.0h0M75.0 548.6h0M66.8 550.2h0M60.5 558.5h0M63.2 560.7h0M65.0 554.5h0M58.4 563.1h0M62.0 559.5h0M73.6 560.3h0M65.1 557.7h0M85.9 541.4h0M83.3 540.3h0M62.3 561.7h0M71.9 555.9h0M60.5 568.4h0M66.2 566.3h0M67.1 556.0h0M66.0 559.6h0M63.8 557.4h0M67.6 551.3h0M72.6 543.8h0M58.4 559.5h0M66.1 547.0h0M67.5 557.6h0M70.0 551.7h0M71.4 551.8h0M55.2 564.7h0M74.7 543.8h0M84.7 545.3h0M66.6 556.8h0M68.2 552.7h0M63.6 554.9h0M51.6 569.3h0M78.5 550.6h0M78.1 564.5h0M78.0 544.5h0M68.7 557.9h0M57.8 562.0h0M72.8 558.5h0M47.9 569.2h0M61.6 561.0h0M52.5 566.2h0M72.4 545.2h0M89.5 535.6h0M76.7 549.8h0M53.4 566.0h0M61.5 556.5h0M53.3 564.6h0M73.1 543.6h0M58.4 558.9h0M68.0 548.9h0M69.0 543.0h0M62.9 555.7h0M64.2 558.1h0M84.2 537.6h0M73.0 541.7h0M67.0 547.1h0M58.4 560.2h0M68.8 550.3h0M60.7 560.0h0M68.3 562.5h0M67.4 547.9h0M63.7 561.6h0M67.2 544.9h0M92.9 546.8h0M56.3 565.0h0M57.9 560.6h0M58.2 556.9h0M71.4 552.8h0M81.2 549.1h0M73.0 557.7h0M67.0 553.7h0M64.4 554.6h0M71.9 550.1h0M76.2 548.7h0M72.2 555.9h0M68.1 553.2h0M57.6 561.2h0M65.0 553.0h0M62.0 561.2h0M72.1 540.6h0M65.6 554.4h0M59.1 563.4h0M79.2 554.4h0M54.7 561.8h0M51.5 569.6h0M62.3 560.4h0M63.3 566.0h0M52.2 564.5h0M67.1 561.0h0M76.6 551.1h0M68.4 557.7h0M61.8 563.1h0M62.7 560.2h0M66.7 552.4h0M71.4 566.1h0M77.7 543.5h0M64.3 556.2h0M78.9 557.1h0M65.4 548.4h0M55.8 563.1h0M74.5 549.8h0M73.5 557.7h0M70.3 551.4h0M60.0 557.5h0M76.7 547.6h0M69.0 554.0h0M61.8 562.7h0M75.3 550.4h0M64.3 555.9h0M78.9 553.0h0M57.4 563.4h0M73.0 537.4h0M64.6 569.9h0M63.3 561.7h0M59.1 558.7h0M66.2 558.9h0M64.2 561.3h0M64.6 556.4h0M72.1 553.5h0M80.0 535.9h0M84.1 545.2h0M68.0 541.6h0M68.2 554.2h0M72.5 548.5h0M76.7 550.7h0M62.9 564.4h0M62.5 554.4h0M75.5 556.0h0M66.2 552.8h0M74.2 539.7h0M70.0 563.5h0M64.3 554.4h0M69.0 547.6h0M75.2 554.2h0M74.2 549.8h0M66.1 553.0h0M50.6 569.0h0M63.1 551.8h0M66.2 557.2h0M74.1 550.5h0M59.2 561.0h0M82.6 532.2h0M49.3 571.7h0M80.3 556.2h0M69.2 556.4h0M71.5 548.0h0M65.5 569.4h0M46.9 571.1h0M75.6 560.7h0M69.9 559.7h0M60.1 564.7h0M68.5 555.8h0M76.6 543.3h0M66.6 556.9h0M56.7 566.0h0M74.1 555.2h0M68.1 553.1h0M47.0 570.4h0M69.8 545.6h0M72.3 543.3h0M69.6 549.2h0M57.8 556.6h0M57.3 564.5h0M63.9 551.0h0M74.5 555.8h0M69.4 553.3h0M70.4 556.6h0M53.2 561.8h0M70.8 562.1h0M68.4 556.1h0M69.1 548.2h0M69.2 548.0h0M64.4 562.4h0M60.4 566.1h0M51.6 564.8h0M61.7 564.8h0M68.5 556.9h0M52.1 567.0h0M71.0 550.1h0M65.9 551.0h0M69.0 551.4h0M76.0 552.9h0M65.8 557.9h0M66.9 560.2h0M63.0 562.5h0M63.4 558.2h0M81.5 540.7h0M66.2 560.0h0M81.2 557.9h0M68.2 564.5h0M66.7 564.0h0M65.5 558.5h0M51.3 562.1h0M61.4 557.3h0M57.3 566.3h0M49.7 567.5h0M72.3 539.9h0M51.4 565.4h0M67.9 555.4h0M57.0 562.3h0M71.1 555.7h0M58.3 562.2h0M73.1 552.4h0M58.1 565.5h0M73.5 554.1h0M65.1 551.4h0M78.8 537.3h0M60.2 556.7h0M49.9 568.5h0M64.9 557.4h0M67.5 561.2h0M70.8 558.1h0M69.5 554.4h0M65.0 559.7h0M68.1 551.1h0M61.2 565.3h0M63.6 565.8h0M64.5 555.0h0M72.3 548.1h0M61.5 557.1h0M53.9 567.0h0M60.1 555.4h0M61.7 564.0h0M65.8 556.6h0M57.7 565.8h0M66.8 554.5h0M57.2 570.5h0M61.4 558.6h0M72.3 548.7h0M56.1 565.3h0M69.9 551.6h0M51.7 562.0h0M70.6 566.0h0M52.8 567.2h0M60.7 556.8h0M73.3 550.6h0M69.8 552.0h0M69.3 563.3h0M77.7 545.7h0M52.4 569.0h0M50.4 565.6h0M56.3 563.7h0M83.7 546.6h0M68.4 552.5h0M77.1 544.7h0M66.3 557.6h0M58.9 560.0h0M73.4 555.0h0M67.5 559.7h0M65.4 551.8h0M56.6 567.6h0M67.9 547.8h0M56.4 563.5h0M63.6 561.0h0M57.9 563.5h0M66.2 549.6h0M79.8 545.2h0M61.2 563.4h0M63.3 553.3h0M81.0 526.7h0M48.3 569.6h0M70.8 545.4h0M56.8 566.0h0M78.9 543.9h0M72.2 550.4h0M60.5 559.0h0M80.8 556.3h0M57.1 564.3h0M71.0 545.7h0M68.0 547.0h0M67.1 567.4h0M68.5 552.1h0M82.1 543.3h0M83.4 548.1h0M71.8 555.4h0M70.6 552.8h0M71.0 542.6h0M60.2 561.9h0M77.7 552.5h0M76.1 539.9h0M60.7 555.7h0M74.8 543.9h0M71.5 548.9h0M55.5 564.4h0M65.4 559.7h0M62.2 550.6h0M81.4 549.7h0M54.6 565.9h0M67.4 553.0h0M59.1 558.3h0M80.5 554.1h0M85.0 540.1h0M74.0 557.7h0M68.2 559.1h0M57.7 559.0h0M73.9 543.7h0M73.2 553.3h0M77.7 546.2h0M59.5 562.1h0M61.7 560.4h0M68.8 568.0h0M62.9 563.2h0M63.5 558.6h0M65.1 548.6h0M62.3 557.5h0M71.4 553.9h0M72.9 553.4h0M68.1 562.6h0M61.6 563.2h0M69.1 554.3h0M64.4 561.8h0M90.9 533.8h0M74.3 551.2h0M60.9 559.8h0M74.8 544.5h0M59.9 561.5h0M61.8 556.5h0M66.7 549.4h0M73.9 544.9h0M91.9 531.8h0M67.5 560.6h0M66.1 549.5h0M74.5 553.7h0M82.4 537.5h0M51.4 568.9h0M55.8 569.3h0M81.5 549.3h0M76.9 549.7h0M71.4 548.6h0M70.0 561.8h0M76.6 551.6h0M81.8 558.7h0M69.3 549.3h0M70.1 550.6h0" stroke="#237f5c" stroke-width="1.04" stroke-linecap="round" fill="none"/>
<path d="M56.2 560.4h0M52.9 564.3h0M64.5 561.9h0M66.3 560.1h0M75.1 558.5h0M58.9 563.5h0M63.1 560.9h0M52.2 569.0h0M64.7 551.6h0M69.8 548.7h0M53.1 565.5h0M71.9 565.8h0M52.4 566.7h0M53.9 564.8h0M54.0 562.6h0M62.4 562.8h0M52.0 566.2h0M58.8 565.2h0M73.3 561.9h0M70.5 547.0h0M54.4 567.0h0M70.8 551.6h0M51.5 565.7h0M66.2 558.3h0M59.5 559.1h0M49.2 569.0h0M56.9 558.9h0M57.1 559.6h0M78.6 552.5h0M66.9 555.5h0M77.1 563.4h0M72.5 553.4h0M51.0 571.3h0M63.3 557.5h0M70.1 548.2h0M71.3 541.9h0M76.8 530.2h0M59.1 556.3h0M60.7 554.3h0M56.8 563.7h0M69.0 552.6h0M65.5 553.3h0M76.6 559.7h0M84.8 544.6h0M55.4 559.3h0M72.1 542.4h0M63.6 556.9h0M56.3 562.3h0M56.5 563.9h0M60.9 563.6h0M72.7 548.9h0M68.8 549.0h0M57.1 564.6h0M81.4 537.4h0M69.7 552.7h0M67.8 549.8h0M73.4 549.2h0M69.8 553.5h0M80.9 558.8h0M58.2 565.8h0M60.2 553.0h0M65.1 548.5h0M74.7 542.4h0M65.6 552.1h0M67.9 567.5h0M61.4 559.8h0M73.1 562.7h0M61.7 561.4h0M68.5 552.7h0M58.7 552.3h0M68.8 551.1h0M63.9 557.3h0M56.9 562.9h0M80.1 549.3h0M67.1 549.5h0M64.8 555.6h0M66.7 560.9h0M78.0 551.7h0M62.9 559.7h0M58.8 564.4h0M83.7 539.2h0M69.4 561.4h0M77.5 551.0h0M53.8 566.9h0M63.3 563.0h0M47.0 571.3h0M72.0 541.5h0M64.7 559.9h0M60.4 563.0h0M56.9 560.5h0M72.3 551.9h0M62.7 554.0h0M51.3 568.8h0M77.5 546.0h0M75.8 528.3h0M48.6 567.7h0M62.0 557.9h0M74.3 546.6h0M57.7 568.0h0M61.9 560.7h0M50.8 567.8h0M72.3 552.1h0M63.0 551.6h0M75.9 548.6h0M88.9 552.1h0M61.5 559.5h0M47.9 570.7h0M62.2 558.3h0M67.4 563.7h0M64.9 562.1h0M70.3 560.4h0M76.4 544.2h0M65.8 560.4h0M67.1 548.9h0M54.5 568.0h0M60.7 563.8h0M76.9 540.9h0M63.6 555.0h0M71.9 551.6h0M60.8 560.5h0M58.6 560.6h0M67.0 558.3h0M51.3 568.0h0M64.8 559.2h0M76.5 544.2h0M81.2 533.5h0M73.6 542.4h0M58.6 563.7h0M64.9 556.7h0M66.8 553.5h0M67.5 547.4h0M68.5 549.3h0M56.3 562.5h0M72.9 555.8h0M73.7 545.1h0M83.9 531.5h0M75.3 554.8h0M64.6 551.1h0M69.2 558.7h0M76.3 546.2h0M66.4 557.1h0M50.6 567.9h0M62.8 554.4h0M65.3 554.1h0M67.0 566.9h0M65.4 565.0h0M63.3 550.8h0M65.2 562.3h0M51.8 569.0h0M80.2 536.7h0M75.1 555.6h0M75.4 547.4h0M54.4 565.2h0M60.7 567.2h0M64.9 556.9h0M70.8 556.5h0M53.3 562.7h0M60.1 556.7h0M65.4 548.1h0M66.0 553.2h0M87.5 543.9h0M84.0 545.1h0M56.8 562.2h0M76.0 536.9h0M78.5 545.0h0M69.5 555.5h0M59.5 559.3h0M68.5 553.1h0M52.0 567.1h0M70.6 554.4h0M82.6 530.1h0M55.7 558.8h0M66.6 558.5h0M67.1 555.5h0M74.6 552.4h0M74.8 555.4h0M50.5 568.1h0M72.4 553.6h0M71.2 541.3h0M73.7 553.1h0M72.2 546.5h0M51.5 566.2h0M67.9 553.3h0M76.0 533.5h0M60.4 561.2h0M64.7 565.2h0M71.8 553.8h0M57.0 563.1h0M78.8 554.5h0M62.9 561.3h0M79.0 544.9h0M69.6 550.6h0M67.8 555.5h0M74.3 543.9h0M71.8 555.3h0M73.2 548.2h0M67.4 547.5h0M75.4 547.6h0M71.2 558.0h0M77.1 546.9h0M59.7 566.5h0M57.3 559.1h0M65.1 555.7h0M74.9 553.0h0M58.6 564.2h0M69.4 549.0h0M64.6 552.6h0M60.2 554.7h0M66.5 557.3h0M87.0 529.1h0M64.5 551.9h0M71.9 554.1h0M51.9 564.4h0M64.5 557.8h0M55.0 567.2h0M80.1 541.8h0M64.7 548.4h0M65.1 553.9h0M79.1 541.9h0M60.5 564.6h0M53.6 565.7h0M60.3 557.9h0M58.3 558.6h0M56.6 563.9h0M77.0 551.5h0M63.8 554.0h0M81.4 556.5h0M66.0 559.3h0M58.6 559.7h0M62.7 551.7h0M71.4 558.4h0M66.0 559.3h0M62.0 566.1h0M58.5 564.1h0M74.0 548.6h0M60.1 556.4h0M48.2 570.9h0M73.4 545.3h0M74.2 550.8h0M74.8 542.4h0M63.2 555.3h0M51.9 568.7h0M75.4 542.6h0M66.7 558.2h0M67.3 555.3h0M79.0 550.7h0M56.2 561.2h0M64.5 552.9h0M57.7 558.7h0M76.1 558.0h0M67.4 556.6h0M63.5 564.8h0M52.8 567.8h0M74.0 543.2h0M78.4 557.5h0M78.2 543.5h0M68.2 548.9h0M70.6 544.3h0M75.0 549.8h0M78.6 554.3h0M61.6 552.0h0M63.9 553.4h0M65.6 556.7h0M62.8 562.5h0M61.8 555.9h0M57.7 563.0h0M68.0 538.3h0M68.0 548.9h0M84.9 542.1h0M64.0 557.9h0M59.9 558.0h0M63.8 558.1h0M70.1 555.3h0M64.6 559.6h0M67.8 557.4h0M60.2 561.9h0M67.9 546.9h0M65.1 565.5h0M76.1 555.9h0M70.7 550.1h0M75.5 545.4h0M61.7 568.9h0M80.4 544.8h0M70.3 560.3h0M74.1 562.4h0M79.2 541.5h0M47.0 572.6h0M62.5 555.3h0M59.8 559.3h0M69.4 558.9h0M66.8 557.6h0M76.3 555.0h0M63.0 561.0h0M69.5 542.9h0M72.2 539.4h0M71.4 554.6h0M61.6 556.6h0M78.2 541.6h0M48.0 569.5h0M77.9 539.1h0M75.6 544.3h0M65.0 557.8h0M67.9 550.5h0M73.9 541.4h0M68.7 542.4h0M72.7 551.4h0M60.0 561.5h0M57.5 559.4h0M57.3 571.8h0M68.1 547.4h0M70.7 554.6h0M55.8 565.3h0M63.9 558.8h0M56.1 563.5h0M58.2 563.4h0M55.3 565.0h0M48.4 571.5h0M76.8 538.8h0M71.4 557.7h0M64.0 558.9h0M60.3 562.8h0M64.8 548.5h0M61.2 564.3h0M53.1 565.6h0M63.8 556.2h0M95.9 516.0h0M66.8 557.6h0M66.4 558.4h0M70.4 553.5h0M54.4 566.6h0M65.9 556.2h0M58.2 558.9h0M56.6 566.0h0M50.3 569.4h0M60.0 561.4h0M77.8 556.0h0M61.3 554.8h0M55.4 563.1h0M63.8 554.4h0M85.1 531.4h0M76.4 532.5h0M65.7 550.5h0M69.2 550.5h0M67.7 553.2h0M72.2 549.4h0M68.1 559.0h0M73.6 545.0h0M68.4 551.3h0M63.2 562.4h0M63.7 563.4h0M63.6 553.6h0M67.0 553.9h0M71.4 559.6h0M82.7 547.7h0M75.0 536.4h0M72.9 556.6h0M82.3 523.3h0M59.9 555.6h0M59.7 557.2h0M66.3 551.2h0M51.6 570.5h0M70.2 551.3h0M52.9 562.7h0M68.9 550.9h0M58.6 562.4h0M70.0 553.7h0M71.6 553.4h0M49.6 567.7h0M49.6 571.4h0M57.9 567.8h0M62.1 560.6h0M65.5 558.9h0M70.6 559.2h0M58.2 558.7h0M68.1 556.7h0M59.1 557.7h0M63.2 557.6h0M48.4 570.2h0M62.7 556.0h0M69.8 549.1h0M75.2 551.6h0M72.5 565.2h0M68.1 537.6h0M64.8 559.9h0M57.9 563.9h0M60.1 560.6h0M57.2 562.8h0M71.4 553.9h0M75.1 551.0h0M63.4 551.8h0M69.1 559.0h0M78.1 556.1h0M76.8 553.7h0M69.0 558.6h0M54.9 563.1h0M71.5 565.2h0M53.7 567.0h0M55.1 566.3h0M54.6 565.4h0M65.5 561.3h0M62.5 565.7h0M69.5 557.2h0M62.3 566.7h0M63.1 559.6h0M49.6 572.2h0M63.6 561.8h0M50.3 570.8h0M65.2 555.3h0M68.6 561.5h0M53.3 568.1h0M58.7 561.8h0M61.3 558.8h0M67.1 551.4h0M73.0 557.4h0M62.5 557.2h0M66.2 562.3h0M78.7 534.0h0M55.0 566.9h0M83.4 562.0h0M56.0 566.0h0M60.8 560.4h0M59.8 554.2h0M83.7 546.9h0M54.8 563.6h0M77.9 552.0h0M53.0 567.3h0M49.2 567.9h0M84.9 559.6h0M62.1 557.1h0M57.3 564.0h0M70.6 562.7h0M68.1 552.4h0M65.8 544.5h0M74.2 548.1h0M67.5 559.5h0M70.5 547.3h0M70.9 540.0h0M57.3 562.6h0M48.2 569.6h0M67.5 553.0h0M70.6 557.1h0M67.4 559.1h0M73.5 536.2h0M49.6 570.0h0M68.2 558.0h0M65.2 554.3h0M58.4 560.2h0M63.2 556.8h0M71.1 555.9h0M66.1 558.5h0M69.0 547.8h0M58.3 562.3h0M69.0 542.3h0M69.0 556.9h0M53.5 563.5h0M78.1 538.5h0M78.2 536.3h0M67.7 541.8h0M74.1 555.6h0M63.2 562.5h0M51.3 565.0h0M66.3 557.7h0M55.0 566.9h0M81.4 553.4h0M67.7 547.3h0M74.8 547.7h0M68.2 552.4h0M62.8 557.7h0M62.2 561.4h0M65.7 560.4h0M58.7 562.8h0M57.1 563.1h0M65.9 562.6h0M63.0 557.0h0M51.7 565.8h0M75.0 559.1h0M67.4 557.8h0M71.8 552.9h0M75.6 542.9h0M62.0 565.5h0M81.0 541.6h0M77.8 553.1h0M76.2 555.3h0M73.6 553.6h0M57.2 562.7h0M62.9 551.2h0M61.1 558.3h0M55.2 559.8h0M68.4 555.2h0M61.9 556.0h0M68.5 549.1h0M73.5 542.4h0M59.3 562.3h0M62.5 560.5h0M48.6 569.3h0M59.4 563.5h0M83.4 539.5h0M51.0 567.6h0M81.4 554.6h0M68.0 551.1h0M61.5 557.2h0M79.1 563.6h0M81.9 537.7h0M62.8 559.2h0M61.2 561.3h0M66.6 556.3h0M55.0 564.2h0M64.2 556.4h0M67.5 559.5h0M83.3 547.9h0M67.4 552.3h0M55.4 564.7h0M60.2 565.6h0M72.7 554.5h0M59.5 561.7h0M75.7 554.9h0M65.8 562.4h0M66.5 559.5h0M65.5 555.0h0M80.9 548.5h0M67.1 544.5h0M65.0 557.8h0M65.5 553.7h0M58.8 556.8h0M72.9 546.9h0M60.3 562.4h0M59.9 562.5h0M70.3 566.3h0M66.6 562.6h0M52.7 562.0h0M66.2 553.0h0M61.2 559.8h0M75.4 541.2h0M73.6 545.7h0M72.3 550.2h0M74.6 552.4h0M80.9 536.6h0M59.1 560.4h0M71.9 560.7h0M73.2 551.0h0M52.2 566.3h0M78.3 543.2h0M48.5 570.4h0M64.0 556.7h0M80.9 524.6h0M73.6 535.8h0M64.5 561.1h0M71.0 551.7h0M66.8 559.0h0M62.2 556.9h0M79.6 546.6h0M54.4 564.9h0M67.3 553.5h0M85.0 549.6h0M69.2 553.6h0M77.1 553.7h0M57.9 561.2h0M60.0 558.5h0M62.2 555.4h0M87.7 530.8h0M53.0 567.0h0M54.2 565.3h0M74.1 558.9h0M74.5 549.6h0M88.8 541.6h0M70.5 551.8h0M58.5 566.5h0M58.7 563.5h0M71.0 545.9h0M58.1 564.1h0M77.4 549.5h0M62.5 553.6h0M71.9 545.5h0M65.3 557.6h0M89.7 519.6h0M66.4 559.2h0M70.1 551.3h0M65.9 552.7h0M71.8 549.8h0M55.4 564.3h0M67.7 550.5h0M76.1 555.8h0M62.4 559.8h0M69.5 559.7h0M68.3 557.7h0M72.0 549.8h0M70.6 548.9h0M71.6 557.9h0M71.0 557.8h0M60.2 549.8h0M66.5 559.1h0M76.5 541.8h0M76.3 555.5h0M73.3 546.2h0M56.9 560.8h0M79.2 564.0h0M62.2 560.1h0M65.7 546.7h0M62.8 554.0h0M64.0 554.8h0M63.3 560.4h0M64.6 560.4h0M65.6 557.7h0M60.7 559.1h0M70.5 554.1h0M75.5 551.2h0M63.6 562.1h0M57.9 556.8h0M73.2 554.2h0M50.9 568.4h0M71.4 540.0h0M72.4 545.1h0M52.9 568.5h0M64.1 556.8h0M67.7 554.3h0M50.7 569.4h0M71.9 554.2h0M74.7 545.2h0M65.7 553.9h0M53.6 565.0h0M66.0 552.1h0M73.3 546.3h0M60.8 556.4h0M72.3 553.6h0M72.4 546.6h0M66.1 556.2h0M54.5 567.3h0M68.1 559.4h0M75.2 542.1h0M62.2 560.4h0M61.3 561.7h0M58.4 563.6h0M59.6 559.3h0M68.3 552.8h0M61.6 558.5h0M69.2 556.7h0M72.5 551.9h0M75.5 555.8h0M68.0 555.0h0M51.5 565.6h0M72.2 551.8h0M67.2 542.1h0M83.3 555.3h0M68.7 539.8h0M73.3 547.9h0M72.8 552.0h0M68.3 555.3h0M64.0 561.6h0M69.3 558.6h0M68.1 566.3h0M59.3 558.0h0M61.9 556.7h0M72.6 558.1h0M80.7 537.8h0M80.2 531.3h0M59.2 560.5h0M64.4 561.1h0M80.0 541.2h0M60.5 557.5h0M59.3 558.1h0M67.8 553.4h0M76.9 560.8h0M68.8 549.3h0M72.0 545.0h0M59.4 561.7h0M75.2 537.8h0M74.3 549.0h0M57.2 559.1h0M64.0 559.6h0M76.0 548.1h0M66.1 553.8h0M91.9 544.4h0M81.6 536.7h0" stroke="#0d5c40" stroke-width="1.04" stroke-linecap="round" fill="none"/>
<path d="M72.6 544.4h0M59.6 567.2h0M69.1 548.9h0M65.2 562.4h0M68.7 558.5h0M69.5 545.3h0M65.0 559.5h0M66.0 563.1h0M83.7 535.1h0M68.9 556.9h0M61.1 561.3h0M57.2 559.3h0M58.7 565.7h0M57.6 562.7h0M76.2 553.5h0M73.6 542.8h0M79.3 535.8h0M77.2 554.2h0M62.2 557.6h0M58.9 563.9h0M69.8 554.0h0M61.6 558.9h0M57.7 564.7h0M72.1 563.7h0M58.1 566.3h0M71.9 538.9h0M63.8 557.0h0M78.3 559.7h0M51.1 565.9h0M81.7 530.2h0M64.2 560.8h0M65.1 554.9h0M79.5 553.6h0M53.1 570.4h0M75.9 538.8h0M72.2 558.9h0M69.6 552.4h0M60.1 563.9h0M51.9 567.8h0M65.7 555.8h0M71.2 550.9h0M63.8 565.1h0M61.4 557.9h0M68.9 551.2h0M69.1 559.1h0M67.7 556.5h0M69.3 551.3h0M71.5 555.6h0M65.3 552.2h0M75.6 557.1h0M64.7 556.6h0M63.9 553.7h0M53.7 565.8h0M75.7 542.5h0M55.2 560.9h0M66.7 560.8h0M55.5 568.5h0M49.3 570.2h0M61.2 559.4h0M63.4 559.5h0M58.1 553.4h0M62.4 564.6h0M59.7 556.7h0M65.6 557.4h0M69.2 560.3h0M56.3 561.3h0M58.4 565.5h0M64.8 554.1h0M64.1 553.8h0M74.5 546.4h0M67.2 541.8h0M62.6 556.4h0M55.5 559.0h0M68.6 552.2h0M68.0 552.5h0M64.5 548.7h0M66.4 545.4h0M54.8 561.9h0M60.5 553.5h0M62.8 556.2h0M66.8 554.2h0M63.2 561.4h0M71.4 558.7h0M68.6 560.0h0M65.0 556.1h0M56.8 565.3h0M62.1 560.8h0M68.7 553.9h0M65.6 556.0h0M67.2 552.4h0M78.2 556.0h0M57.0 564.4h0M77.7 547.6h0M58.2 557.0h0M55.0 559.2h0M67.4 563.0h0M74.2 546.1h0M64.5 565.4h0M65.0 543.2h0M73.8 553.3h0M76.4 546.8h0M66.8 560.7h0M73.3 550.4h0M68.2 548.7h0M68.9 552.3h0M56.2 563.8h0M74.0 558.0h0M76.9 550.5h0M54.3 565.2h0M68.7 554.6h0M48.4 572.4h0M63.1 559.6h0M57.6 560.3h0M68.2 551.4h0M74.5 544.5h0M64.4 552.0h0M72.8 552.6h0M50.0 567.7h0M72.7 549.3h0M66.3 546.7h0M55.6 566.7h0M64.4 553.5h0M66.2 556.5h0M55.9 558.8h0M62.7 558.0h0M78.8 554.9h0M66.6 544.6h0M67.8 553.7h0M59.1 561.9h0M65.4 556.0h0M53.6 565.2h0M67.4 550.2h0M70.7 551.0h0M46.9 568.7h0M63.3 554.1h0M65.0 553.0h0M69.5 555.3h0M52.5 566.4h0M70.4 550.3h0M58.7 563.6h0M53.2 566.9h0M69.9 557.3h0M60.4 560.4h0M58.7 565.2h0M64.3 558.7h0M71.6 558.4h0M61.9 560.6h0M65.5 556.6h0M64.5 558.2h0M76.1 549.7h0M51.2 566.5h0M83.6 530.9h0M65.0 553.4h0M70.2 556.5h0M75.8 551.2h0M73.6 546.8h0M88.7 531.4h0M56.1 564.7h0M77.2 552.4h0M80.1 553.5h0M61.8 564.8h0M59.4 564.1h0M77.1 543.9h0M71.2 551.1h0M64.6 561.2h0M64.9 553.5h0M76.4 547.3h0M54.8 565.5h0M47.4 572.2h0M74.8 551.1h0M77.0 557.7h0M55.8 566.4h0M57.4 561.5h0M65.0 560.6h0M80.7 540.4h0M68.0 552.5h0M58.0 559.9h0M84.6 530.7h0M68.1 553.2h0M64.8 559.6h0M67.4 553.2h0M68.3 566.8h0M61.8 558.4h0M60.5 559.6h0M83.1 546.3h0M78.3 537.7h0M59.8 559.9h0M72.1 556.6h0M58.9 568.6h0M54.7 563.9h0M73.7 555.5h0M66.4 557.3h0M73.1 552.5h0M67.0 546.3h0M50.1 569.7h0M51.5 565.4h0M70.0 559.6h0M68.5 554.1h0M59.0 563.1h0M58.8 563.1h0M53.6 566.1h0M72.2 552.5h0M62.4 557.9h0M74.0 551.4h0M63.3 560.2h0M71.1 547.6h0M56.5 561.5h0M66.7 553.0h0M55.2 561.9h0M83.9 536.9h0M54.1 565.2h0M56.7 559.5h0M75.8 559.8h0M76.8 543.9h0M58.0 563.9h0M57.5 563.2h0M53.5 565.4h0M76.0 554.8h0M72.9 537.5h0M67.4 557.7h0M78.1 543.0h0M80.0 547.5h0M74.6 549.1h0M68.1 550.8h0M49.7 568.8h0M56.2 567.2h0M61.9 562.0h0M59.8 562.4h0M57.6 563.3h0M66.7 559.1h0M68.8 544.6h0M68.8 556.4h0M65.8 562.5h0M74.8 556.9h0M70.4 546.4h0M65.9 560.9h0M51.8 569.7h0M67.6 541.7h0M69.0 552.3h0M59.3 564.2h0M58.6 563.4h0M53.8 563.6h0M62.2 561.1h0M81.8 551.4h0M61.3 563.3h0M71.5 549.1h0M71.4 553.3h0M67.7 557.8h0M65.7 552.3h0M67.3 552.3h0M60.4 563.6h0M59.8 561.5h0M63.4 560.5h0M72.6 544.4h0M60.1 563.0h0M82.3 549.3h0M68.6 551.4h0M60.3 569.7h0M67.3 547.3h0M62.5 556.8h0M63.5 558.6h0M56.7 565.6h0M78.2 558.8h0M72.8 546.5h0M53.1 566.7h0M64.9 556.2h0M48.7 569.1h0M69.8 565.6h0M65.3 555.1h0M66.9 545.1h0M58.8 554.7h0M74.2 551.9h0M69.2 544.6h0M58.7 565.3h0M62.0 561.0h0M72.5 539.6h0M76.6 552.4h0M55.0 567.2h0M68.2 550.5h0M77.7 542.0h0M55.0 568.4h0M54.5 569.2h0M71.0 539.2h0M59.4 558.6h0M72.1 542.1h0M63.6 562.5h0M62.9 561.7h0M82.4 541.8h0M55.3 564.9h0M58.8 565.9h0M75.9 550.5h0M69.6 548.1h0M60.1 563.1h0M74.9 557.4h0M58.9 563.7h0M65.5 558.4h0M52.7 567.4h0M53.9 564.3h0M75.8 553.8h0M78.2 539.3h0M79.5 551.5h0M61.9 554.2h0M67.3 564.7h0M52.3 568.2h0M76.0 558.1h0M62.6 561.3h0M79.7 547.4h0M57.4 565.0h0M77.9 538.3h0M57.2 562.7h0M54.5 561.4h0M67.9 548.4h0M51.4 566.8h0M70.6 556.4h0M60.9 564.1h0M60.3 564.7h0M69.2 556.7h0M70.1 558.3h0M61.0 560.1h0M68.2 547.8h0M57.4 566.1h0M57.4 556.4h0M69.8 545.1h0M62.8 555.0h0M48.2 570.9h0M77.9 542.8h0M56.6 567.8h0M68.4 553.3h0M64.9 563.5h0M73.7 542.9h0M60.8 560.2h0M61.6 562.2h0M62.8 564.1h0M64.7 561.2h0M86.8 550.7h0M55.3 560.4h0M67.0 557.6h0M46.9 570.1h0M56.6 564.9h0M48.8 570.8h0M51.8 566.5h0M84.0 518.8h0M69.4 555.9h0M64.1 559.4h0M72.5 556.1h0M47.2 572.3h0M56.2 564.9h0M72.4 546.6h0M60.6 562.6h0M65.2 548.6h0M59.3 559.5h0M59.2 560.9h0M71.8 546.2h0M48.9 568.1h0M57.9 560.1h0M66.6 560.3h0M61.8 560.1h0M66.1 561.4h0M64.0 563.3h0M60.5 564.2h0M83.4 538.7h0M59.9 562.8h0M74.1 539.3h0M57.2 563.7h0M66.9 557.7h0M60.8 557.6h0M72.1 553.4h0M69.2 559.2h0M59.3 563.0h0M72.2 544.3h0M64.4 568.7h0M63.4 549.4h0M76.9 566.9h0M63.6 561.4h0M63.0 563.7h0M58.7 556.1h0M65.1 560.7h0M74.1 557.9h0M63.0 558.9h0M76.6 548.8h0M75.7 543.3h0M68.6 551.5h0M48.0 571.2h0M61.7 556.5h0M73.2 556.8h0M77.7 559.9h0M63.5 555.8h0M58.1 564.3h0M70.9 563.6h0M57.3 565.5h0M59.3 560.3h0M64.5 563.1h0M69.0 549.2h0M64.3 559.8h0M69.3 560.1h0M57.6 557.5h0M67.7 561.4h0M48.3 570.1h0M62.6 555.4h0M64.7 555.4h0M57.6 557.3h0M59.3 557.5h0M58.1 557.2h0M63.2 558.4h0M71.2 556.8h0M75.2 563.3h0M83.0 535.6h0M85.2 544.2h0M59.8 558.4h0M53.7 565.9h0M70.2 548.7h0M55.2 562.2h0M78.4 536.5h0M66.3 557.8h0M58.3 563.0h0M60.9 556.3h0M62.0 559.8h0M79.3 562.4h0M61.5 555.5h0M69.8 556.1h0M76.2 544.0h0M69.8 549.9h0M78.8 547.3h0M70.8 550.2h0M61.6 561.6h0M68.5 560.9h0M60.3 563.6h0M47.8 570.8h0M61.9 561.4h0M59.2 559.6h0M80.0 550.9h0M66.2 550.0h0M68.5 555.2h0M71.4 552.5h0M70.5 557.4h0M67.4 554.3h0M63.9 558.3h0M64.9 560.6h0M58.0 560.1h0M73.0 544.1h0M75.0 544.9h0M64.4 559.6h0M83.6 554.6h0M60.2 563.7h0M68.6 556.2h0M69.4 555.3h0M53.8 564.8h0M80.2 529.0h0M57.2 562.6h0M70.2 550.0h0M58.8 563.5h0M76.1 544.9h0M50.3 570.6h0M75.5 546.1h0M67.4 553.6h0M53.4 570.0h0M70.2 548.3h0M77.3 543.0h0M75.4 560.3h0M62.2 555.1h0M56.0 563.7h0M63.7 558.1h0M64.7 556.2h0M60.2 559.0h0M80.9 548.9h0M72.8 542.5h0M63.9 550.2h0M83.3 554.1h0M66.2 559.9h0M61.0 557.7h0M63.8 560.6h0M60.0 564.7h0M61.3 562.4h0M69.7 565.4h0M72.9 549.5h0M80.7 551.5h0M66.8 558.1h0M56.3 564.2h0M54.3 567.4h0M60.3 558.7h0M71.8 548.3h0M68.8 559.2h0M64.1 549.8h0M85.8 551.7h0M72.0 555.6h0M70.0 553.5h0M69.5 556.6h0M57.6 564.3h0M52.9 568.0h0M47.9 568.2h0M71.4 550.6h0M71.3 565.6h0M74.4 554.4h0M55.0 567.3h0M73.4 538.5h0M57.9 566.8h0M58.0 559.2h0M51.2 569.4h0M68.4 567.6h0M82.5 546.7h0M56.8 566.4h0M72.7 549.2h0M65.6 561.0h0M75.6 555.7h0M62.1 567.1h0M52.7 564.6h0M68.2 560.7h0M79.2 548.2h0M73.8 542.0h0M55.3 566.0h0M61.9 562.8h0M60.5 567.5h0M54.5 562.7h0M71.8 544.8h0M81.8 547.8h0M67.9 547.0h0M77.9 550.3h0M62.5 561.4h0M69.6 549.8h0M57.9 561.8h0M72.5 552.5h0M56.7 566.5h0M65.1 562.5h0M61.9 560.2h0M59.0 562.1h0M77.4 553.9h0M57.9 560.9h0M65.7 554.1h0M85.4 550.4h0M74.2 545.3h0M53.4 565.2h0M68.9 558.0h0M69.0 555.7h0M79.7 533.6h0M78.6 552.4h0M63.5 553.2h0M56.1 565.0h0M56.5 570.4h0M70.3 562.3h0M67.9 554.9h0M63.5 555.9h0M77.3 540.7h0M71.8 549.6h0M74.8 555.3h0M72.6 552.7h0M76.8 560.0h0M64.5 549.6h0M53.4 563.2h0M68.7 562.4h0M61.9 557.7h0M66.6 557.8h0M66.0 553.7h0M63.9 551.9h0M55.4 563.4h0M52.7 568.9h0M64.2 554.8h0M61.7 554.5h0M76.7 559.6h0M69.3 554.4h0M74.4 546.4h0M55.7 558.1h0M57.1 562.8h0M48.7 568.8h0M84.9 558.0h0M73.4 545.1h0M63.0 559.7h0M57.5 566.6h0M59.2 564.7h0M67.8 558.1h0M69.4 548.8h0M50.2 571.0h0M76.4 562.1h0M62.4 552.3h0M58.9 558.7h0M50.2 568.8h0M68.9 550.3h0M53.4 564.9h0M61.4 567.5h0M70.7 551.9h0M57.6 564.2h0M52.6 565.3h0M73.3 551.4h0M80.3 554.9h0M85.6 554.9h0M66.1 561.2h0M70.6 553.9h0M57.2 554.8h0M71.0 557.7h0M71.9 548.9h0M48.8 569.4h0M64.6 548.3h0M68.6 547.0h0M54.8 558.3h0M76.7 545.9h0M58.0 559.6h0M48.4 569.7h0M69.9 557.9h0M66.3 545.9h0M64.2 558.4h0M59.1 568.8h0M81.8 559.2h0M62.3 561.5h0M50.6 566.6h0M64.6 552.0h0M58.1 561.3h0M61.5 555.8h0M67.9 558.7h0M82.9 555.7h0M64.2 550.6h0M74.5 539.6h0M75.1 536.4h0M62.6 563.8h0M56.0 564.6h0M76.0 557.6h0M82.6 537.4h0M73.7 544.6h0M76.1 545.3h0M55.9 561.3h0M69.4 564.9h0M73.1 550.2h0M72.7 558.3h0M62.2 555.8h0M80.7 552.3h0M69.9 550.0h0M76.8 545.7h0M82.8 542.0h0M70.7 553.7h0M65.0 561.9h0M74.4 548.2h0M68.9 550.1h0M58.6 558.4h0M61.4 562.9h0M77.9 537.2h0M61.8 562.7h0M68.9 550.2h0M64.2 552.8h0M76.9 534.1h0M57.2 566.6h0M74.9 546.0h0M60.1 562.6h0M59.9 566.9h0M62.6 559.5h0M68.1 549.5h0M81.7 547.1h0M67.8 545.2h0M66.3 560.4h0M59.4 562.4h0M69.9 537.7h0M54.9 562.2h0M71.8 547.8h0M53.0 565.9h0M65.7 561.5h0M64.2 559.4h0M71.3 560.6h0M62.1 562.1h0M70.5 552.1h0M65.1 557.8h0M73.4 552.5h0M56.4 561.9h0M65.5 563.7h0M74.7 548.1h0M63.2 557.2h0M61.6 566.5h0M71.0 551.1h0M55.0 565.5h0M65.3 550.1h0M56.0 561.1h0M60.3 562.3h0M61.1 560.5h0M58.1 566.3h0M62.8 561.6h0M66.0 556.3h0M74.7 547.1h0M68.5 556.9h0M63.9 557.6h0M71.1 544.6h0M73.1 556.1h0M62.9 563.9h0M56.2 566.1h0M69.9 551.6h0M62.8 558.1h0M51.4 566.7h0M66.2 554.7h0M73.5 560.5h0M70.9 553.6h0M84.4 561.1h0M75.8 545.1h0M67.3 545.5h0M67.3 563.5h0M80.6 537.8h0M64.4 570.8h0" stroke="#177353" stroke-width="1.04" stroke-linecap="round" fill="none"/>
<path d="M94.0 546.6h0M75.3 555.1h0M79.5 558.4h0M86.4 505.4h0M81.6 555.2h0M95.5 544.3h0M86.1 558.6h0M80.3 543.1h0M101.2 535.7h0M92.9 548.4h0M96.4 543.8h0M88.2 549.3h0M100.9 526.7h0M71.6 547.7h0M89.8 532.5h0M88.6 556.8h0M86.8 549.7h0M73.1 532.9h0M98.7 521.3h0M73.5 530.3h0M76.5 543.0h0M77.7 547.5h0M81.5 537.3h0M78.9 541.8h0M84.8 546.3h0M91.9 547.1h0M70.4 555.1h0M86.0 540.3h0M89.7 543.6h0M87.8 557.6h0M79.2 549.4h0M70.2 536.7h0M99.3 544.3h0M72.9 555.1h0M97.1 546.6h0M70.9 561.4h0M84.4 538.4h0M69.1 553.6h0M102.4 530.3h0M94.7 530.4h0M75.8 554.0h0M84.6 558.2h0M84.6 551.4h0M71.2 554.8h0M95.4 542.0h0M93.6 558.1h0M75.4 531.9h0M94.1 555.8h0M84.8 542.8h0M82.4 548.0h0M77.8 558.4h0M71.2 562.3h0M80.6 539.1h0M86.6 528.0h0M70.6 559.1h0M101.2 550.8h0M81.3 549.6h0M87.1 544.7h0M85.0 566.2h0M100.8 539.9h0M93.1 538.4h0M71.1 561.8h0M80.1 537.3h0M81.2 538.5h0M95.0 540.2h0M78.5 543.0h0M74.1 550.1h0M101.1 531.3h0M70.7 555.3h0M74.7 567.7h0M83.9 539.4h0M83.4 533.6h0M95.4 543.1h0M100.2 558.1h0M80.3 552.0h0M101.9 516.4h0M70.9 569.0h0M86.7 528.3h0M81.2 540.3h0M88.4 531.7h0M88.2 557.2h0M102.4 537.9h0M91.9 557.1h0M73.8 553.6h0M94.7 539.0h0M92.3 559.9h0M76.3 561.2h0M95.3 549.4h0M75.1 556.1h0M74.5 558.7h0M86.5 544.4h0M95.4 527.5h0M98.8 557.7h0M94.4 551.7h0M84.4 536.0h0M96.6 539.5h0M94.9 516.2h0M99.6 545.1h0M100.3 538.9h0M93.7 548.8h0M86.9 560.5h0M95.4 547.0h0M71.8 567.0h0M102.3 548.1h0M94.5 524.0h0M95.5 556.9h0M100.7 545.7h0M85.4 550.4h0M89.5 525.2h0M101.8 537.1h0M79.2 562.1h0M89.4 567.1h0M95.9 530.4h0M88.3 554.1h0M102.6 531.9h0M70.8 546.9h0M94.1 556.2h0M100.5 510.2h0M76.8 530.6h0M98.1 532.5h0M74.2 542.4h0M84.1 547.8h0M74.5 550.6h0M75.4 544.5h0M75.8 536.7h0M71.1 560.8h0M79.8 549.8h0M75.4 555.4h0M87.2 562.9h0M90.2 529.0h0M79.0 555.6h0M83.7 530.2h0M101.0 548.5h0M97.9 524.6h0M81.7 542.2h0M98.5 522.4h0M89.0 557.6h0M87.3 561.7h0M89.3 533.4h0" stroke="#2a8a64" stroke-width="0.9" stroke-linecap="round" fill="none"/>
<path d="M101.2 517.5h0M93.9 526.0h0M97.5 512.4h0M91.7 526.1h0M86.7 523.4h0M82.1 526.3h0M92.7 528.1h0M97.9 520.8h0M86.4 526.3h0M109.3 502.4h0M84.7 524.0h0M96.0 519.7h0M103.5 503.9h0M96.1 516.8h0M107.2 510.4h0M103.7 510.4h0M85.7 526.8h0M94.6 526.8h0M102.3 509.5h0M89.8 525.0h0M95.9 526.4h0M96.4 525.6h0M87.2 576.9h0M61.7 576.9h0M77.8 576.9h0M78.3 576.9h0M62.7 576.9h0M61.3 576.9h0M52.2 576.9h0M74.4 576.9h0M86.2 576.9h0M50.8 576.9h0M53.1 576.9h0M48.7 576.9h0M81.6 576.9h0M75.7 576.9h0M53.4 576.9h0M80.6 576.9h0M87.4 576.9h0M86.2 576.9h0M51.9 576.9h0M50.4 576.9h0M79.7 576.9h0M62.6 576.9h0M59.1 576.9h0M74.1 576.9h0M70.0 576.9h0M70.2 576.9h0M79.2 576.9h0M87.5 576.9h0M49.8 576.9h0M54.5 576.9h0M84.2 576.9h0M65.6 576.9h0M74.8 576.9h0M76.9 576.9h0M69.6 576.9h0M61.0 576.9h0M50.1 576.9h0M66.9 576.9h0M61.1 576.9h0M76.7 576.9h0" stroke="#2a8a64" stroke-width="1.0" stroke-linecap="round" fill="none"/>
<path d="M88.9 535.7h0M90.4 541.4h0M99.5 557.3h0M101.0 562.8h0M95.1 539.5h0M99.8 562.5h0M100.3 537.7h0M87.3 528.3h0M98.2 558.6h0M92.5 530.3h0M90.0 546.6h0M85.6 555.0h0M87.2 557.4h0M88.6 567.1h0M100.0 551.8h0M86.8 562.6h0M84.0 553.7h0M98.1 568.1h0M97.6 546.1h0M98.5 565.0h0M93.8 556.4h0M90.4 550.2h0M97.9 534.3h0M100.5 546.5h0M98.5 532.0h0M93.2 558.2h0M85.0 562.6h0M91.1 543.2h0M94.4 552.6h0M85.5 543.5h0M84.5 553.2h0M86.3 558.1h0M93.0 570.0h0M89.4 537.8h0M98.7 529.3h0M90.9 568.9h0M86.6 553.8h0M86.8 556.3h0M90.6 544.2h0M100.1 559.4h0M96.6 550.1h0M97.2 533.9h0M98.9 548.3h0M95.3 559.8h0M92.1 548.4h0M84.8 541.6h0M98.9 534.6h0M97.7 560.0h0M94.9 558.5h0M96.6 560.7h0M97.5 557.9h0M86.9 563.3h0M100.3 537.5h0M97.6 555.4h0M90.9 558.0h0M97.2 563.4h0M94.9 555.3h0M95.6 559.5h0M88.4 541.9h0M95.8 546.3h0M97.3 528.2h0M92.0 555.8h0M87.5 538.6h0M87.3 549.7h0M90.8 564.8h0M88.6 549.3h0M90.1 534.2h0M84.5 554.1h0M87.6 548.1h0M99.9 566.2h0" stroke="#2a8a64" stroke-width="0.96" stroke-linecap="round" fill="none"/>
<path d="M121.6 490.4h0M114.6 497.3h0M117.0 503.0h0M107.7 500.8h0M111.2 510.0h0M100.8 512.3h0M93.9 515.8h0M119.3 541.2h0M118.1 555.0h0M135.4 533.1h0M133.1 537.7h0M110.0 577.0h0M184.4 517.0h0" stroke="#2a8a64" stroke-width="1.2" stroke-linecap="round" fill="none"/>
<line x1="46.50" y1="571.20" x2="183.75" y2="480.50" stroke="#111" stroke-width="0.8" />
<line x1="38.70" y1="480.50" x2="38.70" y2="583.00" stroke="#1a1a1a" stroke-width="1.0" />
<line x1="35.10" y1="577.70" x2="38.70" y2="577.70" stroke="#1a1a1a" stroke-width="0.8" />
<text x="32.80" y="580.04" font-size="6.5" text-anchor="end" fill="#2b2b2b" stroke="#2b2b2b" stroke-width="0.18">0</text>
<line x1="35.10" y1="553.90" x2="38.70" y2="553.90" stroke="#1a1a1a" stroke-width="0.8" />
<text x="32.80" y="556.24" font-size="6.5" text-anchor="end" fill="#2b2b2b" stroke="#2b2b2b" stroke-width="0.18">250</text>
<line x1="35.10" y1="530.10" x2="38.70" y2="530.10" stroke="#1a1a1a" stroke-width="0.8" />
<text x="32.80" y="532.44" font-size="6.5" text-anchor="end" fill="#2b2b2b" stroke="#2b2b2b" stroke-width="0.18">500</text>
<line x1="35.10" y1="506.30" x2="38.70" y2="506.30" stroke="#1a1a1a" stroke-width="0.8" />
<text x="32.80" y="508.64" font-size="6.5" text-anchor="end" fill="#2b2b2b" stroke="#2b2b2b" stroke-width="0.18">750</text>
<line x1="35.10" y1="482.50" x2="38.70" y2="482.50" stroke="#1a1a1a" stroke-width="0.8" />
<text x="32.80" y="484.84" font-size="6.5" text-anchor="end" fill="#2b2b2b" stroke="#2b2b2b" stroke-width="0.18">1000</text>
<line x1="38.70" y1="582.50" x2="190.50" y2="582.50" stroke="#1a1a1a" stroke-width="1.0" />
<line x1="81.00" y1="582.50" x2="81.00" y2="585.50" stroke="#1a1a1a" stroke-width="0.8" />
<text x="81.00" y="593.20" font-size="6.2" text-anchor="middle" fill="#2b2b2b" stroke="#2b2b2b" stroke-width="0.18">200</text>
<line x1="129.25" y1="582.50" x2="129.25" y2="585.50" stroke="#1a1a1a" stroke-width="0.8" />
<text x="129.25" y="593.20" font-size="6.2" text-anchor="middle" fill="#2b2b2b" stroke="#2b2b2b" stroke-width="0.18">400</text>
<line x1="177.50" y1="582.50" x2="177.50" y2="585.50" stroke="#1a1a1a" stroke-width="0.8" />
<text x="177.50" y="593.20" font-size="6.2" text-anchor="middle" fill="#2b2b2b" stroke="#2b2b2b" stroke-width="0.18">600</text>
<text x="115.00" y="604.60" font-size="8.03" text-anchor="middle" fill="#161616" font-weight="bold" textLength="14" lengthAdjust="spacingAndGlyphs">GPX4</text>
<text x="40.80" y="493.40" font-size="6.0" text-anchor="start" fill="#2b2b2b" stroke="#2b2b2b" stroke-width="0.18">Spearman rho: 0.68</text>
<text x="13.40" y="530.60" font-size="8.45" text-anchor="middle" fill="#161616" font-weight="bold" textLength="66" lengthAdjust="spacingAndGlyphs" transform="rotate(-90 13.40 530.60)">GPX4__YGPMEEPLVIEK_</text>
<text x="222.00" y="461.50" font-size="10.8" font-weight="bold" fill="#111" stroke="#111" stroke-width="0.35">J</text>
<text x="239.20" y="472.60" font-size="5.95" text-anchor="start" fill="#2b2b2b" stroke="#2b2b2b" stroke-width="0.18">GPX4__YGPMEEPLVIEK</text>
<clipPath id="cJ"><rect x="239.2" y="477.3" width="125.60000000000002" height="52.30000000000001"/></clipPath>
<g clip-path="url(#cJ)">
<polygon points="239.00,479.38 239.77,479.54 240.74,479.74 241.87,479.97 243.14,480.23 244.53,480.52 245.99,480.82 247.51,481.13 249.06,481.44 250.61,481.76 252.13,482.06 253.60,482.35 254.98,482.62 256.31,482.88 257.64,483.15 258.97,483.42 260.31,483.69 261.64,483.96 262.97,484.22 264.30,484.48 265.63,484.72 266.96,484.95 268.30,485.17 269.63,485.36 270.96,485.54 272.29,485.69 273.62,485.83 274.95,485.96 276.29,486.08 277.62,486.18 278.95,486.26 280.28,486.34 281.61,486.40 282.94,486.45 284.28,486.48 285.61,486.50 286.94,486.51 288.27,486.49 289.60,486.45 290.94,486.39 292.27,486.32 293.60,486.22 294.93,486.12 296.26,486.02 297.59,485.91 298.93,485.80 300.26,485.70 301.59,485.61 302.92,485.54 304.25,485.47 305.58,485.41 306.92,485.35 308.25,485.30 309.58,485.24 310.91,485.19 312.24,485.14 313.57,485.09 314.90,485.04 316.24,484.99 317.57,484.94 318.90,484.89 320.23,484.83 321.56,484.78 322.89,484.72 324.23,484.66 325.56,484.60 326.89,484.54 328.22,484.49 329.55,484.43 330.88,484.38 332.22,484.33 333.55,484.28 334.88,484.24 336.21,484.20 337.54,484.16 338.88,484.13 340.21,484.10 341.54,484.07 342.87,484.04 344.20,484.01 345.53,483.99 346.86,483.97 348.20,483.95 349.53,483.93 350.86,483.92 352.24,483.90 353.71,483.90 355.23,483.89 356.78,483.89 358.33,483.89 359.85,483.90 361.31,483.90 362.70,483.90 363.97,483.91 365.10,483.91 366.07,483.91 366.84,483.92 366.84,512.75 366.07,512.75 365.10,512.75 363.97,512.75 362.70,512.75 361.31,512.75 359.85,512.75 358.33,512.75 356.78,512.75 355.23,512.75 353.71,512.75 352.24,512.75 350.86,512.75 349.53,512.75 348.20,512.74 346.86,512.72 345.53,512.70 344.20,512.69 342.87,512.67 341.54,512.66 340.21,512.66 338.88,512.66 337.54,512.68 336.21,512.71 334.88,512.75 333.55,512.82 332.22,512.90 330.88,512.99 329.55,513.10 328.22,513.22 326.89,513.34 325.56,513.47 324.23,513.59 322.89,513.72 321.56,513.84 320.23,513.95 318.90,514.05 317.57,514.14 316.24,514.24 314.90,514.33 313.57,514.42 312.24,514.51 310.91,514.59 309.58,514.68 308.25,514.76 306.92,514.83 305.58,514.90 304.25,514.96 302.92,515.02 301.59,515.07 300.26,515.12 298.93,515.17 297.59,515.21 296.26,515.25 294.93,515.28 293.60,515.31 292.27,515.33 290.94,515.35 289.60,515.35 288.27,515.35 286.94,515.34 285.61,515.33 284.28,515.30 282.94,515.27 281.61,515.22 280.28,515.18 278.95,515.12 277.62,515.06 276.29,515.00 274.95,514.93 273.62,514.85 272.29,514.78 270.96,514.70 269.63,514.61 268.30,514.50 266.96,514.39 265.63,514.26 264.30,514.14 262.97,514.01 261.64,513.88 260.31,513.76 258.97,513.65 257.64,513.55 256.31,513.46 254.98,513.40 253.60,513.35 252.13,513.32 250.61,513.31 249.06,513.30 247.51,513.31 245.99,513.32 244.53,513.33 243.14,513.35 241.87,513.37 240.74,513.38 239.77,513.40 239.00,513.40" fill="#d8d8d8" fill-opacity="0.88"/>
<polygon points="239.00,502.38 239.77,502.38 240.74,502.38 241.87,502.37 243.14,502.36 244.53,502.35 245.99,502.34 247.51,502.34 249.06,502.34 250.61,502.34 252.13,502.35 253.60,502.36 254.98,502.38 256.31,502.42 257.64,502.46 258.97,502.52 260.31,502.58 261.64,502.64 262.97,502.71 264.30,502.78 265.63,502.84 266.96,502.90 268.30,502.95 269.63,503.00 270.96,503.03 272.29,503.05 273.62,503.07 274.95,503.08 276.29,503.08 277.62,503.08 278.95,503.07 280.28,503.06 281.61,503.06 282.94,503.05 284.28,503.04 285.61,503.03 286.94,503.03 288.27,503.03 289.60,503.03 290.94,503.03 292.27,503.03 293.60,503.03 294.93,503.03 296.26,503.03 297.59,503.03 298.93,503.03 300.26,503.03 301.59,503.03 302.92,503.03 304.25,503.03 305.58,503.03 306.92,503.03 308.25,503.03 309.58,503.03 310.91,503.03 312.24,503.03 313.57,503.03 314.90,503.03 316.24,503.03 317.57,503.03 318.90,503.03 320.23,503.03 321.56,503.03 322.89,503.03 324.23,503.03 325.56,503.03 326.89,503.03 328.22,503.03 329.55,503.03 330.88,503.03 332.22,503.03 333.55,503.03 334.88,503.03 336.21,503.03 337.54,503.03 338.88,503.03 340.21,503.03 341.54,503.03 342.87,503.03 344.20,503.03 345.53,503.03 346.86,503.03 348.20,503.03 349.53,503.03 350.86,503.03 352.24,503.03 353.71,503.03 355.23,503.03 356.78,503.03 358.33,503.03 359.85,503.03 361.31,503.03 362.70,503.03 363.97,503.03 365.10,503.03 366.07,503.03 366.84,503.03 366.84,510.81 366.07,510.81 365.10,510.80 363.97,510.79 362.70,510.78 361.31,510.78 359.85,510.77 358.33,510.76 356.78,510.76 355.23,510.76 353.71,510.77 352.24,510.79 350.86,510.81 349.53,510.84 348.20,510.88 346.86,510.92 345.53,510.98 344.20,511.03 342.87,511.09 341.54,511.15 340.21,511.22 338.88,511.28 337.54,511.34 336.21,511.40 334.88,511.46 333.55,511.51 332.22,511.56 330.88,511.62 329.55,511.67 328.22,511.73 326.89,511.78 325.56,511.83 324.23,511.89 322.89,511.94 321.56,512.00 320.23,512.05 318.90,512.10 317.57,512.16 316.24,512.22 314.90,512.28 313.57,512.34 312.24,512.41 310.91,512.47 309.58,512.53 308.25,512.58 306.92,512.64 305.58,512.68 304.25,512.72 302.92,512.75 301.59,512.78 300.26,512.80 298.93,512.81 297.59,512.82 296.26,512.83 294.93,512.83 293.60,512.83 292.27,512.82 290.94,512.81 289.60,512.80 288.27,512.78 286.94,512.75 285.61,512.72 284.28,512.68 282.94,512.64 281.61,512.58 280.28,512.53 278.95,512.47 277.62,512.41 276.29,512.34 274.95,512.28 273.62,512.22 272.29,512.16 270.96,512.10 269.63,512.05 268.30,512.00 266.96,511.94 265.63,511.89 264.30,511.83 262.97,511.78 261.64,511.73 260.31,511.67 258.97,511.62 257.64,511.56 256.31,511.51 254.98,511.46 253.60,511.40 252.13,511.34 250.61,511.28 249.06,511.22 247.51,511.15 245.99,511.09 244.53,511.03 243.14,510.98 241.87,510.92 240.74,510.88 239.77,510.84 239.00,510.81" fill="#c8ccd0" fill-opacity="0.45"/>
<polygon points="239.00,505.95 239.77,505.95 240.74,505.95 241.87,505.95 243.14,505.95 244.53,505.95 245.99,505.95 247.51,505.95 249.06,505.95 250.61,505.95 252.13,505.95 253.60,505.95 254.98,505.95 256.31,505.95 257.64,505.95 258.97,505.95 260.31,505.95 261.64,505.95 262.97,505.95 264.30,505.95 265.63,505.95 266.96,505.95 268.30,505.95 269.63,505.95 270.96,505.95 272.29,505.95 273.62,505.95 274.95,505.95 276.29,505.95 277.62,505.95 278.95,505.95 280.28,505.95 281.61,505.95 282.94,505.95 284.28,505.95 285.61,505.95 286.94,505.95 288.27,505.95 289.60,505.95 290.94,505.95 292.27,505.95 293.60,505.95 294.93,505.95 296.26,505.95 297.59,505.95 298.93,505.95 300.26,505.95 301.59,505.95 302.92,505.95 304.25,505.95 305.58,505.95 306.92,505.95 308.25,505.95 309.58,505.95 310.91,505.95 312.24,505.95 313.57,505.95 314.90,505.95 316.24,505.95 317.57,505.95 318.90,505.95 320.23,505.95 321.56,505.95 322.89,505.95 324.23,505.95 325.56,505.95 326.89,505.95 328.22,505.95 329.55,505.95 330.88,505.95 332.22,505.95 333.55,505.95 334.88,505.95 336.21,505.95 337.54,505.95 338.88,505.95 340.21,505.95 341.54,505.95 342.87,505.95 344.20,505.95 345.53,505.95 346.86,505.95 348.20,505.95 349.53,505.95 350.86,505.95 352.24,505.95 353.71,505.95 355.23,505.95 356.78,505.95 358.33,505.95 359.85,505.95 361.31,505.95 362.70,505.95 363.97,505.95 365.10,505.95 366.07,505.95 366.84,505.95 366.84,509.51 366.07,509.51 365.10,509.51 363.97,509.51 362.70,509.51 361.31,509.51 359.85,509.51 358.33,509.51 356.78,509.51 355.23,509.51 353.71,509.51 352.24,509.51 350.86,509.51 349.53,509.51 348.20,509.51 346.86,509.51 345.53,509.51 344.20,509.51 342.87,509.51 341.54,509.51 340.21,509.51 338.88,509.51 337.54,509.51 336.21,509.51 334.88,509.51 333.55,509.51 332.22,509.51 330.88,509.51 329.55,509.51 328.22,509.51 326.89,509.51 325.56,509.51 324.23,509.51 322.89,509.51 321.56,509.51 320.23,509.51 318.90,509.51 317.57,509.51 316.24,509.51 314.90,509.51 313.57,509.51 312.24,509.51 310.91,509.51 309.58,509.51 308.25,509.51 306.92,509.51 305.58,509.51 304.25,509.51 302.92,509.51 301.59,509.51 300.26,509.51 298.93,509.51 297.59,509.51 296.26,509.51 294.93,509.51 293.60,509.51 292.27,509.51 290.94,509.51 289.60,509.51 288.27,509.51 286.94,509.51 285.61,509.51 284.28,509.51 282.94,509.51 281.61,509.51 280.28,509.51 278.95,509.51 277.62,509.51 276.29,509.51 274.95,509.51 273.62,509.51 272.29,509.51 270.96,509.51 269.63,509.51 268.30,509.51 266.96,509.51 265.63,509.51 264.30,509.51 262.97,509.51 261.64,509.51 260.31,509.51 258.97,509.51 257.64,509.51 256.31,509.51 254.98,509.51 253.60,509.51 252.13,509.51 250.61,509.51 249.06,509.51 247.51,509.51 245.99,509.51 244.53,509.51 243.14,509.51 241.87,509.51 240.74,509.51 239.77,509.51 239.00,509.51" fill="#a9c8db" fill-opacity="0.6"/>
<polygon points="239.00,520.69 239.77,520.69 240.74,520.69 241.87,520.69 243.14,520.69 244.53,520.69 245.99,520.69 247.51,520.69 249.06,520.69 250.61,520.69 252.13,520.69 253.60,520.69 254.98,520.69 256.31,520.69 257.64,520.69 258.97,520.69 260.31,520.69 261.64,520.69 262.97,520.69 264.30,520.69 265.63,520.69 266.96,520.69 268.30,520.69 269.63,520.69 270.96,520.69 272.29,520.69 273.62,520.69 274.95,520.69 276.29,520.69 277.62,520.69 278.95,520.69 280.28,520.69 281.61,520.69 282.94,520.69 284.28,520.69 285.61,520.69 286.94,520.69 288.27,520.69 289.60,520.69 290.94,520.69 292.27,520.69 293.60,520.69 294.93,520.69 296.26,520.69 297.59,520.69 298.93,520.69 300.26,520.69 301.59,520.69 302.92,520.69 304.25,520.69 305.58,520.69 306.92,520.69 308.25,520.69 309.58,520.69 310.91,520.69 312.24,520.69 313.57,520.69 314.90,520.69 316.24,520.69 317.57,520.69 318.90,520.69 320.23,520.69 321.56,520.69 322.89,520.69 324.23,520.69 325.56,520.69 326.89,520.69 328.22,520.69 329.55,520.69 330.88,520.69 332.22,520.69 333.55,520.69 334.88,520.69 336.21,520.69 337.54,520.69 338.88,520.69 340.21,520.69 341.54,520.69 342.87,520.69 344.20,520.69 345.53,520.69 346.86,520.69 348.20,520.69 349.53,520.69 350.86,520.69 352.24,520.69 353.71,520.69 355.23,520.69 356.78,520.69 358.33,520.69 359.85,520.69 361.31,520.69 362.70,520.69 363.97,520.69 365.10,520.69 366.07,520.69 366.84,520.69 366.84,526.68 366.07,526.68 365.10,526.68 363.97,526.68 362.70,526.68 361.31,526.68 359.85,526.68 358.33,526.68 356.78,526.68 355.23,526.68 353.71,526.68 352.24,526.68 350.86,526.68 349.53,526.68 348.20,526.68 346.86,526.68 345.53,526.68 344.20,526.68 342.87,526.68 341.54,526.68 340.21,526.68 338.88,526.68 337.54,526.68 336.21,526.68 334.88,526.68 333.55,526.68 332.22,526.68 330.88,526.68 329.55,526.68 328.22,526.68 326.89,526.68 325.56,526.68 324.23,526.68 322.89,526.68 321.56,526.68 320.23,526.68 318.90,526.68 317.57,526.68 316.24,526.68 314.90,526.68 313.57,526.68 312.24,526.68 310.91,526.68 309.58,526.68 308.25,526.68 306.92,526.68 305.58,526.68 304.25,526.68 302.92,526.68 301.59,526.68 300.26,526.68 298.93,526.68 297.59,526.68 296.26,526.68 294.93,526.68 293.60,526.68 292.27,526.68 290.94,526.68 289.60,526.68 288.27,526.68 286.94,526.68 285.61,526.68 284.28,526.68 282.94,526.68 281.61,526.68 280.28,526.68 278.95,526.68 277.62,526.68 276.29,526.68 274.95,526.68 273.62,526.68 272.29,526.68 270.96,526.68 269.63,526.68 268.30,526.68 266.96,526.68 265.63,526.68 264.30,526.68 262.97,526.68 261.64,526.68 260.31,526.68 258.97,526.68 257.64,526.68 256.31,526.68 254.98,526.68 253.60,526.68 252.13,526.68 250.61,526.68 249.06,526.68 247.51,526.68 245.99,526.68 244.53,526.68 243.14,526.68 241.87,526.68 240.74,526.68 239.77,526.68 239.00,526.68" fill="#d8d8d8" fill-opacity="0.9"/>
<polyline points="239.00,495.26 239.77,495.28 240.74,495.31 241.87,495.34 243.14,495.38 244.53,495.41 245.99,495.46 247.51,495.51 249.06,495.57 250.61,495.64 252.13,495.71 253.60,495.80 254.98,495.90 256.31,496.02 257.64,496.15 258.97,496.30 260.31,496.46 261.64,496.62 262.97,496.80 264.30,496.97 265.63,497.15 266.96,497.33 268.30,497.51 269.63,497.68 270.96,497.85 272.29,498.01 273.62,498.19 274.95,498.36 276.29,498.54 277.62,498.72 278.95,498.90 280.28,499.07 281.61,499.24 282.94,499.40 284.28,499.54 285.61,499.68 286.94,499.79 288.27,499.89 289.60,499.98 290.94,500.06 292.27,500.13 293.60,500.19 294.93,500.24 296.26,500.28 297.59,500.32 298.93,500.35 300.26,500.38 301.59,500.41 302.92,500.44 304.26,500.46 305.63,500.48 307.01,500.49 308.39,500.49 309.78,500.49 311.16,500.48 312.52,500.47 313.87,500.46 315.19,500.46 316.47,500.45 317.71,500.44 318.90,500.44 320.08,500.44 321.27,500.44 322.46,500.44 323.63,500.44 324.78,500.44 325.89,500.44 326.94,500.44 327.93,500.44 328.83,500.44 329.63,500.44 330.32,500.44 330.88,500.44" stroke="#4b6b88" fill="none" stroke-width="1.0" stroke-opacity="1.0" stroke-linejoin="round"/>
<polyline points="239.00,507.57 239.77,507.57 240.74,507.57 241.87,507.57 243.14,507.57 244.53,507.57 245.99,507.57 247.51,507.57 249.06,507.57 250.61,507.57 252.13,507.57 253.60,507.57 254.98,507.57 256.31,507.57 257.64,507.56 258.97,507.56 260.31,507.56 261.64,507.55 262.97,507.55 264.30,507.55 265.63,507.54 266.96,507.55 268.30,507.55 269.63,507.56 270.96,507.57 272.29,507.58 273.62,507.60 274.95,507.63 276.29,507.65 277.62,507.68 278.95,507.71 280.28,507.74 281.61,507.77 282.94,507.80 284.28,507.83 285.61,507.86 286.94,507.89 288.27,507.92 289.60,507.95 290.94,507.98 292.27,508.01 293.60,508.04 294.93,508.07 296.26,508.10 297.59,508.13 298.93,508.16 300.26,508.18 301.59,508.20 302.92,508.22 304.26,508.23 305.63,508.23 307.01,508.24 308.39,508.24 309.78,508.24 311.16,508.24 312.52,508.23 313.87,508.23 315.19,508.22 316.47,508.22 317.71,508.22 318.90,508.22 320.08,508.22 321.27,508.22 322.46,508.22 323.63,508.22 324.78,508.22 325.89,508.22 326.94,508.22 327.93,508.22 328.83,508.22 329.63,508.22 330.32,508.22 330.88,508.22" stroke="#5aa8c8" fill="none" stroke-width="1.0" stroke-opacity="1.0" stroke-linejoin="round"/>
<polyline points="239.00,523.77 239.77,523.77 240.74,523.77 241.87,523.77 243.14,523.77 244.53,523.77 245.99,523.77 247.51,523.77 249.06,523.77 250.61,523.77 252.13,523.77 253.60,523.77 254.98,523.77 256.31,523.77 257.64,523.77 258.97,523.77 260.31,523.77 261.64,523.77 262.97,523.77 264.30,523.77 265.63,523.77 266.96,523.77 268.30,523.77 269.63,523.77 270.96,523.77 272.29,523.77 273.62,523.77 274.95,523.77 276.29,523.77 277.62,523.77 278.95,523.77 280.28,523.77 281.61,523.77 282.94,523.77 284.28,523.77 285.61,523.77 286.94,523.77 288.27,523.77 289.60,523.77 290.94,523.77 292.27,523.77 293.60,523.77 294.93,523.77 296.26,523.77 297.59,523.77 298.93,523.77 300.26,523.77 301.59,523.77 302.92,523.77 304.26,523.77 305.63,523.77 307.01,523.77 308.39,523.77 309.78,523.77 311.16,523.77 312.52,523.77 313.87,523.77 315.19,523.77 316.47,523.77 317.71,523.77 318.90,523.77 320.08,523.77 321.27,523.77 322.46,523.77 323.63,523.77 324.78,523.77 325.89,523.77 326.94,523.77 327.93,523.77 328.83,523.77 329.63,523.77 330.32,523.77 330.88,523.77" stroke="#d2d2d2" fill="none" stroke-width="0.8" stroke-opacity="1.0" stroke-linejoin="round"/>
<rect x="328.60" y="486.00" width="36.20" height="42.00" fill="#ffffff" stroke="none" stroke-width="1" fill-opacity="0.35"/>
</g>
<rect x="239.20" y="477.30" width="125.60" height="52.30" fill="none" stroke="#111" stroke-width="0.9" />
<text x="328.90" y="495.50" font-size="6.3" text-anchor="start" fill="#2b2b2b" stroke="#2b2b2b" stroke-width="0.18">i_rs8178973</text>
<rect x="332.90" y="502.00" width="6.00" height="5.40" fill="#c9c9c9" stroke="none" stroke-width="1" fill-opacity="0.9"/>
<line x1="332.90" y1="504.80" x2="338.90" y2="504.80" stroke="#d0d0d0" stroke-width="0.8" />
<text x="341.40" y="507.10" font-size="6.3" text-anchor="start" fill="#2b2b2b" stroke="#2b2b2b" stroke-width="0.18">HD</text>
<rect x="332.90" y="508.95" width="6.00" height="5.40" fill="#b5c5d3" stroke="none" stroke-width="1" fill-opacity="0.9"/>
<line x1="332.90" y1="511.75" x2="338.90" y2="511.75" stroke="#9bbbd5" stroke-width="0.8" />
<text x="341.40" y="514.05" font-size="6.3" text-anchor="start" fill="#2b2b2b" stroke="#2b2b2b" stroke-width="0.18">HET</text>
<rect x="332.90" y="515.90" width="6.00" height="5.40" fill="#9aa6b2" stroke="none" stroke-width="1" fill-opacity="0.9"/>
<line x1="332.90" y1="518.70" x2="338.90" y2="518.70" stroke="#4a6a8a" stroke-width="0.8" />
<text x="341.40" y="521.00" font-size="6.3" text-anchor="start" fill="#2b2b2b" stroke="#2b2b2b" stroke-width="0.18">HR</text>
<line x1="236.20" y1="481.00" x2="239.20" y2="481.00" stroke="#1a1a1a" stroke-width="0.8" />
<text x="233.20" y="483.35" font-size="6.5" text-anchor="end" fill="#2b2b2b" stroke="#2b2b2b" stroke-width="0.18">350</text>
<line x1="236.20" y1="497.20" x2="239.20" y2="497.20" stroke="#1a1a1a" stroke-width="0.8" />
<text x="233.20" y="499.55" font-size="6.5" text-anchor="end" fill="#2b2b2b" stroke="#2b2b2b" stroke-width="0.18">300</text>
<line x1="236.20" y1="513.40" x2="239.20" y2="513.40" stroke="#1a1a1a" stroke-width="0.8" />
<text x="233.20" y="515.75" font-size="6.5" text-anchor="end" fill="#2b2b2b" stroke="#2b2b2b" stroke-width="0.18">250</text>
<line x1="236.20" y1="529.60" x2="239.20" y2="529.60" stroke="#1a1a1a" stroke-width="0.8" />
<text x="233.20" y="531.95" font-size="6.5" text-anchor="end" fill="#2b2b2b" stroke="#2b2b2b" stroke-width="0.18">200</text>
<line x1="239.00" y1="529.60" x2="239.00" y2="533.00" stroke="#1a1a1a" stroke-width="0.8" />
<text x="239.00" y="541.10" font-size="6.5" text-anchor="middle" fill="#2b2b2b" stroke="#2b2b2b" stroke-width="0.18">10</text>
<line x1="278.95" y1="529.60" x2="278.95" y2="533.00" stroke="#1a1a1a" stroke-width="0.8" />
<text x="278.95" y="541.10" font-size="6.5" text-anchor="middle" fill="#2b2b2b" stroke="#2b2b2b" stroke-width="0.18">20</text>
<line x1="318.90" y1="529.60" x2="318.90" y2="533.00" stroke="#1a1a1a" stroke-width="0.8" />
<text x="318.90" y="541.10" font-size="6.5" text-anchor="middle" fill="#2b2b2b" stroke="#2b2b2b" stroke-width="0.18">30</text>
<line x1="358.85" y1="529.60" x2="358.85" y2="533.00" stroke="#1a1a1a" stroke-width="0.8" />
<text x="358.85" y="541.10" font-size="6.5" text-anchor="middle" fill="#2b2b2b" stroke="#2b2b2b" stroke-width="0.18">40</text>
<text x="302.00" y="551.60" font-size="8.56" text-anchor="middle" fill="#161616" font-weight="bold" textLength="11.9" lengthAdjust="spacingAndGlyphs">Time</text>
<text x="373.80" y="462.00" font-size="10.8" font-weight="bold" fill="#111" stroke="#111" stroke-width="0.35">L</text>
<text x="387.00" y="473.30" font-size="5.95" text-anchor="start" fill="#2b2b2b" stroke="#2b2b2b" stroke-width="0.18">GPX4__YAEC_Glutathione_GLR</text>
<clipPath id="cL"><rect x="386.4" y="478.5" width="126.39999999999998" height="51.10000000000002"/></clipPath>
<g clip-path="url(#cL)">
<polygon points="387.00,499.74 387.76,499.82 388.71,499.93 389.82,500.08 391.08,500.24 392.44,500.42 393.88,500.59 395.37,500.74 396.90,500.88 398.42,500.98 399.92,501.03 401.36,501.03 402.72,500.97 404.03,500.84 405.34,500.65 406.65,500.42 407.96,500.15 409.27,499.85 410.58,499.51 411.89,499.16 413.20,498.79 414.51,498.41 415.82,498.04 417.13,497.66 418.44,497.30 419.75,496.92 421.06,496.51 422.37,496.07 423.68,495.62 424.99,495.16 426.30,494.69 427.61,494.24 428.92,493.81 430.23,493.39 431.54,493.02 432.85,492.68 434.16,492.40 435.47,492.17 436.78,491.98 438.09,491.84 439.40,491.72 440.71,491.63 442.02,491.56 443.33,491.50 444.64,491.45 445.95,491.40 447.26,491.34 448.57,491.27 449.88,491.18 451.19,491.09 452.50,491.01 453.81,490.96 455.12,490.90 456.43,490.85 457.74,490.79 459.05,490.72 460.36,490.63 461.67,490.52 462.98,490.37 464.29,490.18 465.60,489.95 466.91,489.68 468.22,489.36 469.53,489.01 470.84,488.64 472.15,488.23 473.46,487.81 474.77,487.37 476.08,486.91 477.39,486.45 478.70,485.99 480.01,485.52 481.32,485.06 482.63,484.58 483.94,484.06 485.25,483.53 486.56,482.97 487.87,482.41 489.18,481.84 490.49,481.29 491.80,480.75 493.11,480.24 494.42,479.76 495.73,479.32 497.04,478.94 498.40,478.60 499.84,478.29 501.34,478.01 502.86,477.76 504.39,477.53 505.88,477.33 507.32,477.15 508.68,476.99 509.94,476.84 511.05,476.71 512.00,476.59 512.76,476.49 512.76,510.76 512.00,510.91 511.05,511.09 509.94,511.31 508.68,511.55 507.32,511.82 505.88,512.10 504.39,512.39 502.86,512.69 501.34,512.98 499.84,513.27 498.40,513.56 497.04,513.82 495.73,514.08 494.42,514.33 493.11,514.59 491.80,514.84 490.49,515.10 489.18,515.35 487.87,515.61 486.56,515.86 485.25,516.12 483.94,516.37 482.63,516.62 481.32,516.88 480.01,517.14 478.70,517.41 477.39,517.69 476.08,517.97 474.77,518.25 473.46,518.52 472.15,518.80 470.84,519.06 469.53,519.30 468.22,519.54 466.91,519.75 465.60,519.94 464.29,520.11 462.98,520.26 461.67,520.39 460.36,520.51 459.05,520.61 457.74,520.71 456.43,520.79 455.12,520.87 453.81,520.94 452.50,521.02 451.19,521.09 449.88,521.16 448.57,521.23 447.26,521.29 445.95,521.35 444.64,521.39 443.33,521.43 442.02,521.47 440.71,521.51 439.40,521.55 438.09,521.59 436.78,521.65 435.47,521.71 434.16,521.78 432.85,521.85 431.54,521.92 430.23,522.00 428.92,522.07 427.61,522.15 426.30,522.23 424.99,522.33 423.68,522.43 422.37,522.55 421.06,522.68 419.75,522.83 418.44,523.00 417.13,523.19 415.82,523.40 414.51,523.64 413.20,523.88 411.89,524.14 410.58,524.42 409.27,524.69 407.96,524.97 406.65,525.25 405.34,525.53 404.03,525.80 402.72,526.06 401.36,526.32 399.92,526.61 398.42,526.90 396.90,527.19 395.37,527.49 393.88,527.78 392.44,528.06 391.08,528.33 389.82,528.57 388.71,528.79 387.76,528.97 387.00,529.12" fill="#d4d4d4" fill-opacity="0.85"/>
<polygon points="387.00,515.04 387.76,514.99 388.71,514.92 389.82,514.84 391.08,514.75 392.44,514.65 393.88,514.55 395.37,514.44 396.90,514.32 398.42,514.20 399.92,514.07 401.36,513.95 402.72,513.82 404.03,513.68 405.34,513.54 406.65,513.38 407.96,513.21 409.27,513.04 410.58,512.86 411.89,512.69 413.20,512.53 414.51,512.37 415.82,512.23 417.13,512.10 418.44,511.98 419.75,511.89 421.06,511.80 422.37,511.73 423.68,511.67 424.99,511.61 426.30,511.56 427.61,511.52 428.92,511.49 430.23,511.45 431.54,511.42 432.85,511.40 434.16,511.37 435.47,511.35 436.78,511.34 438.09,511.33 439.40,511.33 440.71,511.33 442.02,511.33 443.33,511.34 444.64,511.35 445.95,511.36 447.26,511.36 448.57,511.37 449.88,511.37 451.19,511.37 452.50,511.37 453.81,511.37 455.12,511.37 456.43,511.37 457.74,511.37 459.05,511.37 460.36,511.37 461.67,511.37 462.98,511.37 464.29,511.37 465.60,511.37 466.91,511.37 468.22,511.37 469.53,511.37 470.84,511.37 472.15,511.37 473.46,511.37 474.77,511.37 476.08,511.37 477.39,511.37 478.70,511.37 480.01,511.37 481.32,511.37 482.63,511.37 483.94,511.37 485.25,511.37 486.56,511.37 487.87,511.37 489.18,511.37 490.49,511.37 491.80,511.37 493.11,511.37 494.42,511.37 495.73,511.37 497.04,511.37 498.40,511.37 499.84,511.37 501.34,511.37 502.86,511.37 504.39,511.37 505.88,511.37 507.32,511.37 508.68,511.37 509.94,511.37 511.05,511.37 512.00,511.37 512.76,511.37 512.76,521.78 512.00,521.78 511.05,521.78 509.94,521.78 508.68,521.78 507.32,521.78 505.88,521.78 504.39,521.78 502.86,521.78 501.34,521.78 499.84,521.78 498.40,521.78 497.04,521.78 495.73,521.78 494.42,521.78 493.11,521.78 491.80,521.78 490.49,521.78 489.18,521.78 487.87,521.78 486.56,521.78 485.25,521.78 483.94,521.78 482.63,521.78 481.32,521.78 480.01,521.78 478.70,521.78 477.39,521.78 476.08,521.78 474.77,521.78 473.46,521.78 472.15,521.78 470.84,521.78 469.53,521.78 468.22,521.78 466.91,521.78 465.60,521.78 464.29,521.78 462.98,521.78 461.67,521.78 460.36,521.78 459.05,521.78 457.74,521.78 456.43,521.78 455.12,521.78 453.81,521.78 452.50,521.78 451.19,521.78 449.88,521.78 448.57,521.77 447.26,521.76 445.95,521.75 444.64,521.73 443.33,521.71 442.02,521.70 440.71,521.69 439.40,521.69 438.09,521.69 436.78,521.71 435.47,521.73 434.16,521.78 432.85,521.83 431.54,521.89 430.23,521.97 428.92,522.05 427.61,522.14 426.30,522.24 424.99,522.34 423.68,522.46 422.37,522.58 421.06,522.71 419.75,522.85 418.44,523.00 417.13,523.16 415.82,523.34 414.51,523.53 413.20,523.73 411.89,523.93 410.58,524.15 409.27,524.37 407.96,524.59 406.65,524.81 405.34,525.03 404.03,525.24 402.72,525.45 401.36,525.66 399.92,525.88 398.42,526.12 396.90,526.35 395.37,526.59 393.88,526.83 392.44,527.05 391.08,527.26 389.82,527.46 388.71,527.63 387.76,527.78 387.00,527.90" fill="#e6d6d8" fill-opacity="0.45"/>
<polygon points="387.00,519.94 387.76,519.82 388.71,519.67 389.82,519.49 391.08,519.29 392.44,519.08 393.88,518.85 395.37,518.61 396.90,518.38 398.42,518.14 399.92,517.91 401.36,517.69 402.72,517.49 404.03,517.30 405.34,517.10 406.65,516.90 407.96,516.70 409.27,516.50 410.58,516.31 411.89,516.12 413.20,515.94 414.51,515.77 415.82,515.61 417.13,515.47 418.44,515.35 419.75,515.24 421.06,515.15 422.37,515.08 423.68,515.01 424.99,514.96 426.30,514.91 427.61,514.87 428.92,514.84 430.23,514.81 431.54,514.79 432.85,514.76 434.16,514.74 435.47,514.72 436.78,514.70 438.09,514.69 439.40,514.69 440.71,514.69 442.02,514.70 443.33,514.71 444.64,514.72 445.95,514.72 447.26,514.73 448.57,514.74 449.88,514.74 451.19,514.74 452.50,514.74 453.81,514.74 455.12,514.74 456.43,514.74 457.74,514.74 459.05,514.74 460.36,514.74 461.67,514.74 462.98,514.74 464.29,514.74 465.60,514.74 466.91,514.74 468.22,514.74 469.53,514.74 470.84,514.74 472.15,514.74 473.46,514.74 474.77,514.74 476.08,514.74 477.39,514.74 478.70,514.74 480.01,514.74 481.32,514.74 482.63,514.74 483.94,514.74 485.25,514.74 486.56,514.74 487.87,514.74 489.18,514.74 490.49,514.74 491.80,514.74 493.11,514.74 494.42,514.74 495.73,514.74 497.04,514.74 498.40,514.74 499.84,514.74 501.34,514.74 502.86,514.74 504.39,514.74 505.88,514.74 507.32,514.74 508.68,514.74 509.94,514.74 511.05,514.74 512.00,514.74 512.76,514.74 512.76,521.16 512.00,521.16 511.05,521.16 509.94,521.16 508.68,521.16 507.32,521.16 505.88,521.16 504.39,521.16 502.86,521.16 501.34,521.16 499.84,521.16 498.40,521.16 497.04,521.16 495.73,521.16 494.42,521.16 493.11,521.16 491.80,521.16 490.49,521.16 489.18,521.16 487.87,521.16 486.56,521.16 485.25,521.16 483.94,521.16 482.63,521.16 481.32,521.16 480.01,521.16 478.70,521.16 477.39,521.16 476.08,521.16 474.77,521.16 473.46,521.16 472.15,521.16 470.84,521.16 469.53,521.16 468.22,521.16 466.91,521.16 465.60,521.16 464.29,521.16 462.98,521.16 461.67,521.16 460.36,521.16 459.05,521.16 457.74,521.16 456.43,521.16 455.12,521.16 453.81,521.16 452.50,521.16 451.19,521.16 449.88,521.16 448.57,521.16 447.26,521.15 445.95,521.14 444.64,521.13 443.33,521.12 442.02,521.11 440.71,521.10 439.40,521.10 438.09,521.10 436.78,521.11 435.47,521.13 434.16,521.16 432.85,521.20 431.54,521.24 430.23,521.29 428.92,521.33 427.61,521.39 426.30,521.45 424.99,521.52 423.68,521.61 422.37,521.70 421.06,521.81 419.75,521.94 418.44,522.08 417.13,522.25 415.82,522.43 414.51,522.64 413.20,522.86 411.89,523.10 410.58,523.34 409.27,523.60 407.96,523.85 406.65,524.10 405.34,524.36 404.03,524.60 402.72,524.84 401.36,525.07 399.92,525.33 398.42,525.59 396.90,525.86 395.37,526.12 393.88,526.39 392.44,526.64 391.08,526.88 389.82,527.10 388.71,527.29 387.76,527.46 387.00,527.59" fill="#a6cbe0" fill-opacity="0.8"/>
<polyline points="387.00,514.43 387.76,514.35 388.71,514.25 389.82,514.13 391.08,514.00 392.44,513.86 393.88,513.71 395.37,513.54 396.90,513.37 398.42,513.18 399.92,512.99 401.36,512.80 402.72,512.60 404.03,512.38 405.34,512.15 406.65,511.90 407.96,511.64 409.27,511.38 410.58,511.10 411.89,510.83 413.20,510.56 414.51,510.29 415.82,510.02 417.13,509.77 418.44,509.54 419.75,509.31 421.06,509.08 422.37,508.85 423.68,508.63 424.99,508.41 426.30,508.20 427.61,507.99 428.92,507.79 430.23,507.60 431.54,507.42 432.85,507.25 434.16,507.09 435.47,506.95 436.78,506.83 438.09,506.74 439.40,506.66 440.71,506.58 442.02,506.51 443.33,506.44 444.64,506.36 445.95,506.27 447.26,506.16 448.57,506.03 449.88,505.86 451.20,505.67 452.55,505.46 453.90,505.23 455.27,504.98 456.63,504.72 457.99,504.45 459.33,504.17 460.65,503.89 461.95,503.61 463.21,503.34 464.43,503.06 465.60,502.80 466.76,502.54 467.93,502.26 469.10,501.97 470.26,501.67 471.39,501.37 472.48,501.08 473.51,500.80 474.48,500.54 475.36,500.29 476.15,500.08 476.83,499.89 477.39,499.74" stroke="#4b6b88" fill="none" stroke-width="1.0" stroke-opacity="1.0" stroke-linejoin="round"/>
<polyline points="387.00,523.92 387.76,523.78 388.71,523.61 389.82,523.41 391.08,523.18 392.44,522.93 393.88,522.67 395.37,522.41 396.90,522.14 398.42,521.87 399.92,521.62 401.36,521.38 402.72,521.16 404.03,520.96 405.34,520.75 406.65,520.55 407.96,520.35 409.27,520.15 410.58,519.96 411.89,519.78 413.20,519.60 414.51,519.44 415.82,519.28 417.13,519.14 418.44,519.02 419.75,518.92 421.06,518.82 422.37,518.75 423.68,518.68 424.99,518.63 426.30,518.58 427.61,518.54 428.92,518.51 430.23,518.48 431.54,518.46 432.85,518.43 434.16,518.41 435.47,518.39 436.78,518.37 438.09,518.37 439.40,518.36 440.71,518.37 442.02,518.37 443.33,518.38 444.64,518.39 445.95,518.40 447.26,518.40 448.57,518.41 449.88,518.41 451.20,518.41 452.55,518.41 453.90,518.41 455.27,518.41 456.63,518.41 457.99,518.41 459.33,518.41 460.65,518.41 461.95,518.41 463.21,518.41 464.43,518.41 465.60,518.41 466.76,518.41 467.93,518.41 469.10,518.41 470.26,518.41 471.39,518.41 472.48,518.41 473.51,518.41 474.48,518.41 475.36,518.41 476.15,518.41 476.83,518.41 477.39,518.41" stroke="#5aa8c8" fill="none" stroke-width="1.0" stroke-opacity="1.0" stroke-linejoin="round"/>
<rect x="477.30" y="487.00" width="35.50" height="41.00" fill="#ffffff" stroke="none" stroke-width="1" fill-opacity="0.35"/>
</g>
<rect x="386.40" y="478.50" width="126.40" height="51.10" fill="none" stroke="#111" stroke-width="0.9" />
<text x="477.60" y="496.50" font-size="6.3" text-anchor="start" fill="#2b2b2b" stroke="#2b2b2b" stroke-width="0.18">i_rs8178977</text>
<rect x="481.60" y="503.00" width="6.00" height="5.40" fill="#c9c9c9" stroke="none" stroke-width="1" fill-opacity="0.9"/>
<line x1="481.60" y1="505.80" x2="487.60" y2="505.80" stroke="#d0d0d0" stroke-width="0.8" />
<text x="490.10" y="508.10" font-size="6.3" text-anchor="start" fill="#2b2b2b" stroke="#2b2b2b" stroke-width="0.18">HD</text>
<rect x="481.60" y="509.95" width="6.00" height="5.40" fill="#b5c5d3" stroke="none" stroke-width="1" fill-opacity="0.9"/>
<line x1="481.60" y1="512.75" x2="487.60" y2="512.75" stroke="#9bbbd5" stroke-width="0.8" />
<text x="490.10" y="515.05" font-size="6.3" text-anchor="start" fill="#2b2b2b" stroke="#2b2b2b" stroke-width="0.18">HET</text>
<rect x="481.60" y="516.90" width="6.00" height="5.40" fill="#9aa6b2" stroke="none" stroke-width="1" fill-opacity="0.9"/>
<line x1="481.60" y1="519.70" x2="487.60" y2="519.70" stroke="#4a6a8a" stroke-width="0.8" />
<text x="490.10" y="522.00" font-size="6.3" text-anchor="start" fill="#2b2b2b" stroke="#2b2b2b" stroke-width="0.18">HR</text>
<line x1="383.40" y1="486.28" x2="386.40" y2="486.28" stroke="#1a1a1a" stroke-width="0.8" />
<text x="380.40" y="488.63" font-size="6.5" text-anchor="end" fill="#2b2b2b" stroke="#2b2b2b" stroke-width="0.18">10</text>
<line x1="383.40" y1="498.52" x2="386.40" y2="498.52" stroke="#1a1a1a" stroke-width="0.8" />
<text x="380.40" y="500.87" font-size="6.5" text-anchor="end" fill="#2b2b2b" stroke="#2b2b2b" stroke-width="0.18">8</text>
<line x1="383.40" y1="510.76" x2="386.40" y2="510.76" stroke="#1a1a1a" stroke-width="0.8" />
<text x="380.40" y="513.11" font-size="6.5" text-anchor="end" fill="#2b2b2b" stroke="#2b2b2b" stroke-width="0.18">6</text>
<line x1="383.40" y1="523.00" x2="386.40" y2="523.00" stroke="#1a1a1a" stroke-width="0.8" />
<text x="380.40" y="525.35" font-size="6.5" text-anchor="end" fill="#2b2b2b" stroke="#2b2b2b" stroke-width="0.18">4</text>
<line x1="387.00" y1="529.60" x2="387.00" y2="533.00" stroke="#1a1a1a" stroke-width="0.8" />
<text x="387.00" y="541.10" font-size="6.5" text-anchor="middle" fill="#2b2b2b" stroke="#2b2b2b" stroke-width="0.18">10</text>
<line x1="426.30" y1="529.60" x2="426.30" y2="533.00" stroke="#1a1a1a" stroke-width="0.8" />
<text x="426.30" y="541.10" font-size="6.5" text-anchor="middle" fill="#2b2b2b" stroke="#2b2b2b" stroke-width="0.18">20</text>
<line x1="465.60" y1="529.60" x2="465.60" y2="533.00" stroke="#1a1a1a" stroke-width="0.8" />
<text x="465.60" y="541.10" font-size="6.5" text-anchor="middle" fill="#2b2b2b" stroke="#2b2b2b" stroke-width="0.18">30</text>
<line x1="504.90" y1="529.60" x2="504.90" y2="533.00" stroke="#1a1a1a" stroke-width="0.8" />
<text x="504.90" y="541.10" font-size="6.5" text-anchor="middle" fill="#2b2b2b" stroke="#2b2b2b" stroke-width="0.18">40</text>
<text x="449.60" y="551.60" font-size="8.56" text-anchor="middle" fill="#161616" font-weight="bold" textLength="11.9" lengthAdjust="spacingAndGlyphs">Time</text>
<text x="226.10" y="572.80" font-size="10.8" font-weight="bold" fill="#111" stroke="#111" stroke-width="0.35">K</text>
<text x="238.70" y="583.70" font-size="5.95" text-anchor="start" fill="#2b2b2b" stroke="#2b2b2b" stroke-width="0.18">GPX4__DIDGHMVNLDKYR</text>
<clipPath id="cK"><rect x="238.4" y="588.1" width="125.9" height="53.10000000000002"/></clipPath>
<g clip-path="url(#cK)">
<polygon points="238.30,601.05 239.07,601.03 240.03,601.03 241.16,601.04 242.43,601.05 243.80,601.05 245.26,601.05 246.78,601.03 248.32,600.98 249.87,600.92 251.38,600.81 252.84,600.67 254.22,600.49 255.55,600.26 256.87,599.98 258.20,599.66 259.53,599.32 260.85,598.94 262.18,598.54 263.51,598.13 264.83,597.71 266.16,597.28 267.49,596.86 268.81,596.44 270.14,596.04 271.47,595.63 272.79,595.19 274.12,594.74 275.45,594.27 276.77,593.79 278.10,593.32 279.43,592.87 280.75,592.43 282.08,592.02 283.41,591.65 284.73,591.32 286.06,591.04 287.39,590.81 288.71,590.61 290.04,590.44 291.37,590.31 292.69,590.20 294.02,590.12 295.35,590.06 296.67,590.02 298.00,590.01 299.33,590.01 300.65,590.03 301.98,590.06 303.31,590.12 304.63,590.19 305.96,590.29 307.29,590.41 308.61,590.55 309.94,590.71 311.27,590.88 312.59,591.08 313.92,591.29 315.25,591.52 316.57,591.76 317.90,592.01 319.23,592.30 320.55,592.62 321.88,592.98 323.21,593.37 324.53,593.77 325.86,594.18 327.19,594.59 328.51,594.99 329.84,595.37 331.17,595.73 332.49,596.05 333.82,596.32 335.15,596.56 336.47,596.77 337.80,596.96 339.13,597.13 340.45,597.29 341.78,597.42 343.11,597.54 344.43,597.65 345.76,597.75 347.09,597.84 348.41,597.92 349.74,597.99 351.12,598.05 352.58,598.08 354.09,598.11 355.64,598.11 357.18,598.11 358.70,598.09 360.16,598.07 361.53,598.05 362.80,598.03 363.93,598.01 364.89,597.99 365.66,597.99 365.66,624.40 364.89,624.37 363.93,624.35 362.80,624.33 361.53,624.31 360.16,624.28 358.70,624.25 357.18,624.21 355.64,624.15 354.09,624.07 352.58,623.97 351.12,623.85 349.74,623.70 348.41,623.52 347.09,623.29 345.76,623.02 344.43,622.73 343.11,622.42 341.78,622.10 340.45,621.79 339.13,621.48 337.80,621.19 336.47,620.92 335.15,620.69 333.82,620.51 332.49,620.36 331.17,620.24 329.84,620.14 328.51,620.06 327.19,620.00 325.86,619.96 324.53,619.92 323.21,619.90 321.88,619.88 320.55,619.86 319.23,619.84 317.90,619.81 316.57,619.79 315.25,619.77 313.92,619.76 312.59,619.76 311.27,619.76 309.94,619.77 308.61,619.78 307.29,619.79 305.96,619.79 304.63,619.80 303.31,619.81 301.98,619.81 300.65,619.81 299.33,619.80 298.00,619.79 296.67,619.79 295.35,619.78 294.02,619.77 292.69,619.76 291.37,619.76 290.04,619.76 288.71,619.77 287.39,619.79 286.06,619.81 284.73,619.84 283.41,619.86 282.08,619.88 280.75,619.90 279.43,619.92 278.10,619.96 276.77,620.00 275.45,620.06 274.12,620.14 272.79,620.24 271.47,620.36 270.14,620.51 268.81,620.69 267.49,620.92 266.16,621.19 264.83,621.48 263.51,621.79 262.18,622.10 260.85,622.42 259.53,622.73 258.20,623.02 256.87,623.29 255.55,623.52 254.22,623.70 252.84,623.85 251.38,623.97 249.87,624.07 248.32,624.15 246.78,624.21 245.26,624.25 243.80,624.28 242.43,624.31 241.16,624.33 240.03,624.35 239.07,624.37 238.30,624.40" fill="#d6d6d6" fill-opacity="0.9"/>
<polygon points="238.30,624.40 239.07,624.40 240.03,624.40 241.16,624.40 242.43,624.40 243.80,624.40 245.26,624.40 246.78,624.40 248.32,624.40 249.87,624.40 251.38,624.40 252.84,624.40 254.22,624.40 255.55,624.40 256.87,624.40 258.20,624.40 259.53,624.40 260.85,624.40 262.18,624.40 263.51,624.40 264.83,624.40 266.16,624.40 267.49,624.40 268.81,624.40 270.14,624.40 271.47,624.40 272.79,624.40 274.12,624.40 275.45,624.40 276.77,624.40 278.10,624.40 279.43,624.40 280.75,624.40 282.08,624.40 283.41,624.40 284.73,624.40 286.06,624.40 287.39,624.40 288.71,624.40 290.04,624.40 291.37,624.40 292.69,624.40 294.02,624.40 295.35,624.40 296.67,624.40 298.00,624.40 299.33,624.40 300.65,624.40 301.98,624.40 303.31,624.40 304.63,624.40 305.96,624.40 307.29,624.40 308.61,624.40 309.94,624.40 311.27,624.40 312.59,624.40 313.92,624.40 315.25,624.40 316.57,624.40 317.90,624.40 319.23,624.40 320.55,624.40 321.88,624.40 323.21,624.40 324.53,624.40 325.86,624.40 327.19,624.40 328.51,624.40 329.84,624.40 331.17,624.40 332.49,624.40 333.82,624.40 335.15,624.40 336.47,624.40 337.80,624.40 339.13,624.40 340.45,624.40 341.78,624.40 343.11,624.40 344.43,624.40 345.76,624.40 347.09,624.40 348.41,624.40 349.74,624.40 351.12,624.40 352.58,624.40 354.09,624.40 355.64,624.40 357.18,624.40 358.70,624.40 360.16,624.40 361.53,624.40 362.80,624.40 363.93,624.40 364.89,624.40 365.66,624.40 365.66,628.01 364.89,628.01 363.93,628.01 362.80,628.01 361.53,628.01 360.16,628.01 358.70,628.01 357.18,628.01 355.64,628.01 354.09,628.01 352.58,628.01 351.12,628.01 349.74,628.01 348.41,628.01 347.09,628.01 345.76,628.01 344.43,628.01 343.11,628.01 341.78,628.01 340.45,628.01 339.13,628.01 337.80,628.01 336.47,628.01 335.15,628.01 333.82,628.01 332.49,628.01 331.17,628.01 329.84,628.01 328.51,628.01 327.19,628.01 325.86,628.01 324.53,628.01 323.21,628.01 321.88,628.01 320.55,628.01 319.23,628.01 317.90,628.01 316.57,628.01 315.25,628.01 313.92,628.01 312.59,628.01 311.27,628.01 309.94,628.01 308.61,628.01 307.29,628.01 305.96,628.01 304.63,628.01 303.31,628.01 301.98,628.01 300.65,628.01 299.33,628.01 298.00,628.01 296.67,628.01 295.35,628.01 294.02,628.01 292.69,628.01 291.37,628.01 290.04,628.01 288.71,628.01 287.39,628.01 286.06,628.01 284.73,628.01 283.41,628.01 282.08,628.01 280.75,628.01 279.43,628.01 278.10,628.01 276.77,628.01 275.45,628.01 274.12,628.01 272.79,628.01 271.47,628.01 270.14,628.01 268.81,628.01 267.49,628.01 266.16,628.01 264.83,628.01 263.51,628.01 262.18,628.01 260.85,628.01 259.53,628.01 258.20,628.01 256.87,628.01 255.55,628.01 254.22,628.01 252.84,628.01 251.38,628.01 249.87,628.01 248.32,628.01 246.78,628.01 245.26,628.01 243.80,628.01 242.43,628.01 241.16,628.01 240.03,628.01 239.07,628.01 238.30,628.01" fill="#b5d3e0" fill-opacity="0.85"/>
<polygon points="238.30,628.85 239.07,628.85 240.03,628.85 241.16,628.85 242.43,628.85 243.80,628.85 245.26,628.85 246.78,628.85 248.32,628.85 249.87,628.85 251.38,628.85 252.84,628.85 254.22,628.85 255.55,628.85 256.87,628.85 258.20,628.85 259.53,628.85 260.85,628.85 262.18,628.85 263.51,628.85 264.83,628.85 266.16,628.85 267.49,628.85 268.81,628.85 270.14,628.85 271.47,628.85 272.79,628.85 274.12,628.85 275.45,628.85 276.77,628.85 278.10,628.85 279.43,628.85 280.75,628.85 282.08,628.85 283.41,628.85 284.73,628.85 286.06,628.85 287.39,628.85 288.71,628.85 290.04,628.85 291.37,628.85 292.69,628.85 294.02,628.85 295.35,628.85 296.67,628.85 298.00,628.85 299.33,628.85 300.65,628.85 301.98,628.85 303.31,628.85 304.63,628.85 305.96,628.85 307.29,628.85 308.61,628.85 309.94,628.85 311.27,628.85 312.59,628.85 313.92,628.85 315.25,628.85 316.57,628.85 317.90,628.85 319.23,628.85 320.55,628.85 321.88,628.85 323.21,628.85 324.53,628.85 325.86,628.85 327.19,628.85 328.51,628.85 329.84,628.85 331.17,628.85 332.49,628.85 333.82,628.85 335.15,628.85 336.47,628.85 337.80,628.85 339.13,628.85 340.45,628.85 341.78,628.85 343.11,628.85 344.43,628.85 345.76,628.85 347.09,628.85 348.41,628.85 349.74,628.85 351.12,628.85 352.58,628.85 354.09,628.85 355.64,628.85 357.18,628.85 358.70,628.85 360.16,628.85 361.53,628.85 362.80,628.85 363.93,628.85 364.89,628.85 365.66,628.85 365.66,632.74 364.89,632.74 363.93,632.74 362.80,632.74 361.53,632.74 360.16,632.74 358.70,632.74 357.18,632.74 355.64,632.74 354.09,632.74 352.58,632.74 351.12,632.74 349.74,632.74 348.41,632.74 347.09,632.74 345.76,632.74 344.43,632.74 343.11,632.74 341.78,632.74 340.45,632.74 339.13,632.74 337.80,632.74 336.47,632.74 335.15,632.74 333.82,632.74 332.49,632.74 331.17,632.74 329.84,632.74 328.51,632.74 327.19,632.74 325.86,632.74 324.53,632.74 323.21,632.74 321.88,632.74 320.55,632.74 319.23,632.74 317.90,632.74 316.57,632.74 315.25,632.74 313.92,632.74 312.59,632.74 311.27,632.74 309.94,632.74 308.61,632.74 307.29,632.74 305.96,632.74 304.63,632.74 303.31,632.74 301.98,632.74 300.65,632.74 299.33,632.74 298.00,632.74 296.67,632.74 295.35,632.74 294.02,632.74 292.69,632.74 291.37,632.74 290.04,632.74 288.71,632.74 287.39,632.74 286.06,632.74 284.73,632.74 283.41,632.74 282.08,632.74 280.75,632.74 279.43,632.74 278.10,632.74 276.77,632.74 275.45,632.74 274.12,632.74 272.79,632.74 271.47,632.74 270.14,632.74 268.81,632.74 267.49,632.74 266.16,632.74 264.83,632.74 263.51,632.74 262.18,632.74 260.85,632.74 259.53,632.74 258.20,632.74 256.87,632.74 255.55,632.74 254.22,632.74 252.84,632.74 251.38,632.74 249.87,632.74 248.32,632.74 246.78,632.74 245.26,632.74 243.80,632.74 242.43,632.74 241.16,632.74 240.03,632.74 239.07,632.74 238.30,632.74" fill="#d8d8d8" fill-opacity="0.9"/>
<polygon points="238.30,633.99 239.07,633.99 240.03,633.99 241.16,633.99 242.43,633.99 243.80,633.99 245.26,633.99 246.78,633.99 248.32,633.99 249.87,633.99 251.38,633.99 252.84,633.99 254.22,633.99 255.55,633.99 256.87,633.99 258.20,633.99 259.53,633.99 260.85,633.99 262.18,633.99 263.51,633.99 264.83,633.99 266.16,633.99 267.49,633.99 268.81,633.99 270.14,633.99 271.47,633.99 272.79,633.99 274.12,633.99 275.45,633.99 276.77,633.99 278.10,633.99 279.43,633.99 280.75,633.99 282.08,633.99 283.41,633.99 284.73,633.99 286.06,633.99 287.39,633.99 288.71,633.99 290.04,633.99 291.37,633.99 292.69,633.99 294.02,633.99 295.35,633.99 296.67,633.99 298.00,633.99 299.33,633.99 300.65,633.99 301.98,633.99 303.31,633.99 304.63,633.99 305.96,633.99 307.29,633.99 308.61,633.99 309.94,633.99 311.27,633.99 312.59,633.99 313.92,633.99 315.25,633.99 316.57,633.99 317.90,633.99 319.23,633.99 320.55,633.99 321.88,633.99 323.21,633.99 324.53,633.99 325.86,633.99 327.19,633.99 328.51,633.99 329.84,633.99 331.17,633.99 332.49,633.99 333.82,633.99 335.15,633.99 336.47,633.99 337.80,633.99 339.13,633.99 340.45,633.99 341.78,633.99 343.11,633.99 344.43,633.99 345.76,633.99 347.09,633.99 348.41,633.99 349.74,633.99 351.12,633.99 352.58,633.99 354.09,633.99 355.64,633.99 357.18,633.99 358.70,633.99 360.16,633.99 361.53,633.99 362.80,633.99 363.93,633.99 364.89,633.99 365.66,633.99 365.66,638.99 364.89,638.99 363.93,638.99 362.80,638.99 361.53,638.99 360.16,638.99 358.70,638.99 357.18,638.99 355.64,638.99 354.09,638.99 352.58,638.99 351.12,638.99 349.74,638.99 348.41,638.99 347.09,638.99 345.76,638.99 344.43,638.99 343.11,638.99 341.78,638.99 340.45,638.99 339.13,638.99 337.80,638.99 336.47,638.99 335.15,638.99 333.82,638.99 332.49,638.99 331.17,638.99 329.84,638.99 328.51,638.99 327.19,638.99 325.86,638.99 324.53,638.99 323.21,638.99 321.88,638.99 320.55,638.99 319.23,638.99 317.90,638.99 316.57,638.99 315.25,638.99 313.92,638.99 312.59,638.99 311.27,638.99 309.94,638.99 308.61,638.99 307.29,638.99 305.96,638.99 304.63,638.99 303.31,638.99 301.98,638.99 300.65,638.99 299.33,638.99 298.00,638.99 296.67,638.99 295.35,638.99 294.02,638.99 292.69,638.99 291.37,638.99 290.04,638.99 288.71,638.99 287.39,638.99 286.06,638.99 284.73,638.99 283.41,638.99 282.08,638.99 280.75,638.99 279.43,638.99 278.10,638.99 276.77,638.99 275.45,638.99 274.12,638.99 272.79,638.99 271.47,638.99 270.14,638.99 268.81,638.99 267.49,638.99 266.16,638.99 264.83,638.99 263.51,638.99 262.18,638.99 260.85,638.99 259.53,638.99 258.20,638.99 256.87,638.99 255.55,638.99 254.22,638.99 252.84,638.99 251.38,638.99 249.87,638.99 248.32,638.99 246.78,638.99 245.26,638.99 243.80,638.99 242.43,638.99 241.16,638.99 240.03,638.99 239.07,638.99 238.30,638.99" fill="#d8d8d8" fill-opacity="0.9"/>
<polyline points="238.30,615.08 239.07,615.02 240.03,614.96 241.16,614.89 242.43,614.81 243.80,614.72 245.26,614.62 246.78,614.50 248.32,614.36 249.87,614.20 251.38,614.01 252.84,613.80 254.22,613.56 255.55,613.27 256.87,612.94 258.20,612.57 259.53,612.17 260.85,611.74 262.18,611.31 263.51,610.86 264.83,610.42 266.16,609.99 267.49,609.57 268.81,609.19 270.14,608.83 271.47,608.49 272.79,608.15 274.12,607.81 275.45,607.48 276.77,607.16 278.10,606.85 279.43,606.56 280.75,606.29 282.08,606.04 283.41,605.82 284.73,605.64 286.06,605.49 287.39,605.38 288.71,605.31 290.04,605.26 291.37,605.25 292.69,605.26 294.02,605.29 295.35,605.34 296.67,605.40 298.00,605.48 299.33,605.57 300.65,605.67 301.98,605.77 303.32,605.89 304.68,606.03 306.05,606.18 307.43,606.36 308.81,606.55 310.19,606.75 311.55,606.95 312.89,607.16 314.20,607.37 315.48,607.59 316.71,607.79 317.90,608.00 319.07,608.20 320.26,608.43 321.44,608.66 322.62,608.90 323.76,609.15 324.87,609.39 325.91,609.62 326.89,609.84 327.79,610.04 328.59,610.22 329.28,610.38 329.84,610.50" stroke="#4b6b88" fill="none" stroke-width="1.0" stroke-opacity="1.0" stroke-linejoin="round"/>
<polyline points="238.30,626.20 239.07,626.22 240.03,626.24 241.16,626.26 242.43,626.28 243.80,626.31 245.26,626.34 246.78,626.36 248.32,626.39 249.87,626.42 251.38,626.44 252.84,626.46 254.22,626.48 255.55,626.50 256.87,626.51 258.20,626.53 259.53,626.54 260.85,626.55 262.18,626.56 263.51,626.57 264.83,626.58 266.16,626.59 267.49,626.60 268.81,626.61 270.14,626.62 271.47,626.63 272.79,626.65 274.12,626.66 275.45,626.67 276.77,626.69 278.10,626.70 279.43,626.71 280.75,626.72 282.08,626.74 283.41,626.75 284.73,626.75 286.06,626.76 287.39,626.77 288.71,626.77 290.04,626.78 291.37,626.78 292.69,626.78 294.02,626.79 295.35,626.79 296.67,626.79 298.00,626.78 299.33,626.78 300.65,626.77 301.98,626.76 303.32,626.75 304.68,626.73 306.05,626.71 307.43,626.68 308.81,626.66 310.19,626.63 311.55,626.60 312.89,626.58 314.20,626.55 315.48,626.52 316.71,626.50 317.90,626.48 319.07,626.47 320.26,626.45 321.44,626.44 322.62,626.42 323.76,626.41 324.87,626.40 325.91,626.39 326.89,626.37 327.79,626.37 328.59,626.36 329.28,626.35 329.84,626.34" stroke="#5aa8c8" fill="none" stroke-width="1.0" stroke-opacity="1.0" stroke-linejoin="round"/>
<rect x="328.30" y="598.00" width="36.00" height="42.00" fill="#ffffff" stroke="none" stroke-width="1" fill-opacity="0.35"/>
</g>
<rect x="238.40" y="588.10" width="125.90" height="53.10" fill="none" stroke="#111" stroke-width="0.9" />
<text x="328.60" y="607.50" font-size="6.3" text-anchor="start" fill="#2b2b2b" stroke="#2b2b2b" stroke-width="0.18">i_rs8178973</text>
<rect x="332.60" y="614.00" width="6.00" height="5.40" fill="#c9c9c9" stroke="none" stroke-width="1" fill-opacity="0.9"/>
<line x1="332.60" y1="616.80" x2="338.60" y2="616.80" stroke="#d0d0d0" stroke-width="0.8" />
<text x="341.10" y="619.10" font-size="6.3" text-anchor="start" fill="#2b2b2b" stroke="#2b2b2b" stroke-width="0.18">HD</text>
<rect x="332.60" y="620.95" width="6.00" height="5.40" fill="#b5c5d3" stroke="none" stroke-width="1" fill-opacity="0.9"/>
<line x1="332.60" y1="623.75" x2="338.60" y2="623.75" stroke="#9bbbd5" stroke-width="0.8" />
<text x="341.10" y="626.05" font-size="6.3" text-anchor="start" fill="#2b2b2b" stroke="#2b2b2b" stroke-width="0.18">HET</text>
<rect x="332.60" y="627.90" width="6.00" height="5.40" fill="#9aa6b2" stroke="none" stroke-width="1" fill-opacity="0.9"/>
<line x1="332.60" y1="630.70" x2="338.60" y2="630.70" stroke="#4a6a8a" stroke-width="0.8" />
<text x="341.10" y="633.00" font-size="6.3" text-anchor="start" fill="#2b2b2b" stroke="#2b2b2b" stroke-width="0.18">HR</text>
<line x1="235.40" y1="599.10" x2="238.40" y2="599.10" stroke="#1a1a1a" stroke-width="0.8" />
<text x="232.40" y="601.45" font-size="6.5" text-anchor="end" fill="#2b2b2b" stroke="#2b2b2b" stroke-width="0.18">60</text>
<line x1="235.40" y1="613.00" x2="238.40" y2="613.00" stroke="#1a1a1a" stroke-width="0.8" />
<text x="232.40" y="615.35" font-size="6.5" text-anchor="end" fill="#2b2b2b" stroke="#2b2b2b" stroke-width="0.18">50</text>
<line x1="235.40" y1="626.90" x2="238.40" y2="626.90" stroke="#1a1a1a" stroke-width="0.8" />
<text x="232.40" y="629.25" font-size="6.5" text-anchor="end" fill="#2b2b2b" stroke="#2b2b2b" stroke-width="0.18">40</text>
<line x1="235.40" y1="640.80" x2="238.40" y2="640.80" stroke="#1a1a1a" stroke-width="0.8" />
<text x="232.40" y="643.15" font-size="6.5" text-anchor="end" fill="#2b2b2b" stroke="#2b2b2b" stroke-width="0.18">30</text>
<line x1="238.30" y1="641.20" x2="238.30" y2="644.60" stroke="#1a1a1a" stroke-width="0.8" />
<text x="238.30" y="652.70" font-size="6.5" text-anchor="middle" fill="#2b2b2b" stroke="#2b2b2b" stroke-width="0.18">10</text>
<line x1="278.10" y1="641.20" x2="278.10" y2="644.60" stroke="#1a1a1a" stroke-width="0.8" />
<text x="278.10" y="652.70" font-size="6.5" text-anchor="middle" fill="#2b2b2b" stroke="#2b2b2b" stroke-width="0.18">20</text>
<line x1="317.90" y1="641.20" x2="317.90" y2="644.60" stroke="#1a1a1a" stroke-width="0.8" />
<text x="317.90" y="652.70" font-size="6.5" text-anchor="middle" fill="#2b2b2b" stroke="#2b2b2b" stroke-width="0.18">30</text>
<line x1="357.70" y1="641.20" x2="357.70" y2="644.60" stroke="#1a1a1a" stroke-width="0.8" />
<text x="357.70" y="652.70" font-size="6.5" text-anchor="middle" fill="#2b2b2b" stroke="#2b2b2b" stroke-width="0.18">40</text>
<text x="301.35" y="663.20" font-size="8.56" text-anchor="middle" fill="#161616" font-weight="bold" textLength="11.9" lengthAdjust="spacingAndGlyphs">Time</text>
<text x="374.00" y="573.50" font-size="10.8" font-weight="bold" fill="#111" stroke="#111" stroke-width="0.35">M</text>
<text x="385.90" y="583.90" font-size="5.95" text-anchor="start" fill="#2b2b2b" stroke="#2b2b2b" stroke-width="0.18">GPX4__TEVNYTQLVDLHAR</text>
<clipPath id="cM"><rect x="385.3" y="589" width="128.09999999999997" height="52.200000000000045"/></clipPath>
<g clip-path="url(#cM)">
<polygon points="385.90,591.33 386.68,591.52 387.65,591.75 388.80,592.02 390.08,592.31 391.47,592.63 392.95,592.98 394.49,593.36 396.05,593.76 397.61,594.18 399.15,594.62 400.63,595.08 402.02,595.56 403.36,596.08 404.71,596.65 406.05,597.27 407.39,597.92 408.74,598.59 410.08,599.27 411.42,599.96 412.77,600.62 414.11,601.27 415.45,601.87 416.80,602.43 418.14,602.92 419.48,603.37 420.83,603.79 422.17,604.18 423.51,604.56 424.86,604.90 426.20,605.22 427.54,605.51 428.89,605.78 430.23,606.02 431.57,606.24 432.92,606.43 434.26,606.60 435.60,606.73 436.95,606.80 438.29,606.84 439.63,606.84 440.98,606.81 442.32,606.77 443.66,606.72 445.01,606.67 446.35,606.62 447.69,606.59 449.04,606.58 450.38,606.60 451.72,606.64 453.07,606.70 454.41,606.77 455.75,606.84 457.10,606.92 458.44,607.00 459.78,607.09 461.13,607.18 462.47,607.27 463.81,607.36 465.16,607.44 466.50,607.52 467.84,607.60 469.19,607.68 470.53,607.77 471.87,607.86 473.22,607.95 474.56,608.04 475.90,608.12 477.25,608.20 478.59,608.27 479.93,608.34 481.28,608.40 482.62,608.44 483.96,608.47 485.31,608.49 486.65,608.50 487.99,608.51 489.34,608.51 490.68,608.50 492.02,608.49 493.37,608.47 494.71,608.46 496.05,608.45 497.40,608.44 498.74,608.44 500.13,608.44 501.61,608.44 503.15,608.44 504.71,608.44 506.27,608.44 507.81,608.44 509.29,608.44 510.68,608.44 511.96,608.44 513.11,608.44 514.08,608.44 514.86,608.44 514.86,632.36 514.08,632.36 513.11,632.36 511.96,632.36 510.68,632.36 509.29,632.36 507.81,632.36 506.27,632.36 504.71,632.36 503.15,632.36 501.61,632.36 500.13,632.36 498.74,632.36 497.40,632.36 496.05,632.35 494.71,632.34 493.37,632.33 492.02,632.31 490.68,632.30 489.34,632.29 487.99,632.29 486.65,632.30 485.31,632.31 483.96,632.33 482.62,632.36 481.28,632.41 479.93,632.46 478.59,632.53 477.25,632.61 475.90,632.70 474.56,632.79 473.22,632.88 471.87,632.97 470.53,633.05 469.19,633.14 467.84,633.21 466.50,633.28 465.16,633.34 463.81,633.41 462.47,633.47 461.13,633.53 459.78,633.59 458.44,633.65 457.10,633.70 455.75,633.74 454.41,633.78 453.07,633.81 451.72,633.83 450.38,633.83 449.04,633.83 447.69,633.83 446.35,633.82 445.01,633.81 443.66,633.79 442.32,633.76 440.98,633.72 439.63,633.67 438.29,633.60 436.95,633.51 435.60,633.41 434.26,633.28 432.92,633.13 431.57,632.95 430.23,632.75 428.89,632.52 427.54,632.29 426.20,632.04 424.86,631.78 423.51,631.52 422.17,631.26 420.83,631.01 419.48,630.76 418.14,630.52 416.80,630.28 415.45,630.03 414.11,629.77 412.77,629.50 411.42,629.23 410.08,628.97 408.74,628.71 407.39,628.48 406.05,628.26 404.71,628.06 403.36,627.89 402.02,627.76 400.63,627.66 399.15,627.60 397.61,627.57 396.05,627.56 394.49,627.56 392.95,627.59 391.47,627.62 390.08,627.66 388.80,627.70 387.65,627.73 386.68,627.75 385.90,627.76" fill="#d6d6d6" fill-opacity="0.9"/>
<polygon points="385.90,612.12 386.68,612.13 387.65,612.14 388.80,612.16 390.08,612.19 391.47,612.21 392.95,612.24 394.49,612.25 396.05,612.26 397.61,612.25 399.15,612.23 400.63,612.18 402.02,612.12 403.36,612.03 404.71,611.92 406.05,611.79 407.39,611.64 408.74,611.48 410.08,611.31 411.42,611.14 412.77,610.96 414.11,610.78 415.45,610.61 416.80,610.44 418.14,610.28 419.48,610.12 420.83,609.95 422.17,609.78 423.51,609.60 424.86,609.42 426.20,609.24 427.54,609.08 428.89,608.92 430.23,608.77 431.57,608.64 432.92,608.53 434.26,608.44 435.60,608.37 436.95,608.31 438.29,608.27 439.63,608.24 440.98,608.22 442.32,608.21 443.66,608.22 445.01,608.24 446.35,608.27 447.69,608.31 449.04,608.37 450.38,608.44 451.72,608.53 453.07,608.66 454.41,608.81 455.75,608.99 457.10,609.17 458.44,609.36 459.78,609.55 461.13,609.73 462.47,609.91 463.81,610.06 465.16,610.19 466.50,610.28 467.84,610.34 469.19,610.39 470.53,610.41 471.87,610.42 473.22,610.41 474.56,610.39 475.90,610.37 477.25,610.35 478.59,610.32 479.93,610.30 481.28,610.29 482.62,610.28 483.96,610.28 485.31,610.28 486.65,610.28 487.99,610.28 489.34,610.28 490.68,610.28 492.02,610.28 493.37,610.28 494.71,610.28 496.05,610.28 497.40,610.28 498.74,610.28 500.13,610.28 501.61,610.28 503.15,610.28 504.71,610.28 506.27,610.28 507.81,610.28 509.29,610.28 510.68,610.28 511.96,610.28 513.11,610.28 514.08,610.28 514.86,610.28 514.86,617.64 514.08,617.64 513.11,617.64 511.96,617.64 510.68,617.64 509.29,617.64 507.81,617.64 506.27,617.64 504.71,617.64 503.15,617.64 501.61,617.64 500.13,617.64 498.74,617.64 497.40,617.65 496.05,617.66 494.71,617.68 493.37,617.71 492.02,617.73 490.68,617.75 489.34,617.77 487.99,617.78 486.65,617.77 485.31,617.75 483.96,617.70 482.62,617.64 481.28,617.55 479.93,617.42 478.59,617.27 477.25,617.09 475.90,616.91 474.56,616.72 473.22,616.53 471.87,616.35 470.53,616.17 469.19,616.02 467.84,615.89 466.50,615.80 465.16,615.74 463.81,615.69 462.47,615.67 461.13,615.66 459.78,615.67 458.44,615.68 457.10,615.71 455.75,615.73 454.41,615.76 453.07,615.78 451.72,615.79 450.38,615.80 449.04,615.79 447.69,615.76 446.35,615.71 445.01,615.66 443.66,615.61 442.32,615.57 440.98,615.54 439.63,615.53 438.29,615.54 436.95,615.59 435.60,615.67 434.26,615.80 432.92,615.98 431.57,616.20 430.23,616.46 428.89,616.75 427.54,617.07 426.20,617.41 424.86,617.76 423.51,618.12 422.17,618.47 420.83,618.82 419.48,619.16 418.14,619.48 416.80,619.79 415.45,620.11 414.11,620.44 412.77,620.77 411.42,621.11 410.08,621.43 408.74,621.76 407.39,622.07 406.05,622.37 404.71,622.65 403.36,622.92 402.02,623.16 400.63,623.38 399.15,623.59 397.61,623.79 396.05,623.98 394.49,624.15 392.95,624.31 391.47,624.46 390.08,624.59 388.80,624.71 387.65,624.82 386.68,624.92 385.90,625.00" fill="#b9cfdf" fill-opacity="0.7"/>
<polyline points="385.90,605.13 386.39,605.17 387.00,605.21 387.71,605.25 388.51,605.30 389.38,605.35 390.31,605.42 391.27,605.49 392.24,605.57 393.22,605.67 394.18,605.78 395.10,605.90 395.97,606.05 396.81,606.21 397.65,606.38 398.49,606.57 399.33,606.76 400.17,606.97 401.01,607.20 401.85,607.43 402.69,607.68 403.53,607.95 404.37,608.22 405.21,608.51 406.05,608.81 406.89,609.13 407.73,609.47 408.57,609.84 409.41,610.22 410.25,610.61 411.09,611.02 411.93,611.42 412.77,611.83 413.61,612.24 414.45,612.64 415.29,613.03 416.12,613.41 416.97,613.78 417.83,614.16 418.69,614.55 419.56,614.93 420.42,615.32 421.29,615.70 422.14,616.06 422.99,616.42 423.82,616.76 424.64,617.08 425.43,617.37 426.20,617.64 426.92,617.88 427.57,618.10 428.17,618.29 428.74,618.47 429.29,618.63 429.85,618.78 430.43,618.91 431.05,619.04 431.73,619.15 432.47,619.26 433.31,619.37 434.26,619.48 435.32,619.58 436.48,619.66 437.72,619.74 439.04,619.80 440.41,619.86 441.82,619.91 443.26,619.95 444.71,620.00 446.16,620.04 447.60,620.10 449.01,620.15 450.38,620.22 451.74,620.29 453.11,620.36 454.50,620.43 455.90,620.51 457.30,620.59 458.69,620.66 460.07,620.74 461.43,620.82 462.75,620.90 464.05,620.98 465.30,621.06 466.50,621.14 467.69,621.22 468.89,621.30 470.09,621.39 471.28,621.48 472.44,621.57 473.55,621.65 474.61,621.74 475.60,621.82 476.51,621.89 477.32,621.96 478.02,622.01 478.59,622.06" stroke="#4b6b88" fill="none" stroke-width="1.0" stroke-opacity="1.0" stroke-linejoin="round"/>
<polyline points="385.90,618.56 386.48,618.52 387.22,618.47 388.07,618.42 389.03,618.36 390.08,618.29 391.19,618.21 392.34,618.14 393.51,618.05 394.68,617.96 395.84,617.86 396.94,617.75 397.99,617.64 399.00,617.52 400.00,617.39 401.01,617.25 402.02,617.11 403.03,616.96 404.03,616.80 405.04,616.64 406.05,616.47 407.06,616.31 408.06,616.14 409.07,615.97 410.08,615.80 411.09,615.63 412.09,615.44 413.10,615.25 414.11,615.05 415.12,614.85 416.12,614.65 417.13,614.45 418.14,614.26 419.15,614.07 420.15,613.90 421.16,613.74 422.17,613.59 423.16,613.46 424.14,613.33 425.10,613.22 426.05,613.11 427.00,613.01 427.96,612.91 428.94,612.83 429.93,612.75 430.95,612.67 432.01,612.61 433.11,612.54 434.26,612.49 435.46,612.44 436.71,612.40 438.01,612.36 439.33,612.33 440.69,612.31 442.07,612.29 443.46,612.28 444.86,612.28 446.26,612.28 447.65,612.28 449.02,612.29 450.38,612.30 451.74,612.32 453.11,612.35 454.50,612.38 455.90,612.41 457.30,612.45 458.69,612.50 460.07,612.55 461.43,612.60 462.75,612.66 464.05,612.72 465.30,612.79 466.50,612.86 467.69,612.93 468.89,613.02 470.09,613.12 471.28,613.22 472.44,613.33 473.55,613.44 474.61,613.55 475.60,613.65 476.51,613.75 477.32,613.83 478.02,613.90 478.59,613.96" stroke="#7db4d4" fill="none" stroke-width="1.0" stroke-opacity="1.0" stroke-linejoin="round"/>
<rect x="477.00" y="598.00" width="36.40" height="42.00" fill="#ffffff" stroke="none" stroke-width="1" fill-opacity="0.35"/>
</g>
<rect x="385.30" y="589.00" width="128.10" height="52.20" fill="none" stroke="#111" stroke-width="0.9" />
<text x="477.30" y="607.50" font-size="6.3" text-anchor="start" fill="#2b2b2b" stroke="#2b2b2b" stroke-width="0.18">i_rs8178977</text>
<rect x="481.30" y="614.00" width="6.00" height="5.40" fill="#c9c9c9" stroke="none" stroke-width="1" fill-opacity="0.9"/>
<line x1="481.30" y1="616.80" x2="487.30" y2="616.80" stroke="#d0d0d0" stroke-width="0.8" />
<text x="489.80" y="619.10" font-size="6.3" text-anchor="start" fill="#2b2b2b" stroke="#2b2b2b" stroke-width="0.18">HD</text>
<rect x="481.30" y="620.95" width="6.00" height="5.40" fill="#b5c5d3" stroke="none" stroke-width="1" fill-opacity="0.9"/>
<line x1="481.30" y1="623.75" x2="487.30" y2="623.75" stroke="#9bbbd5" stroke-width="0.8" />
<text x="489.80" y="626.05" font-size="6.3" text-anchor="start" fill="#2b2b2b" stroke="#2b2b2b" stroke-width="0.18">HET</text>
<rect x="481.30" y="627.90" width="6.00" height="5.40" fill="#9aa6b2" stroke="none" stroke-width="1" fill-opacity="0.9"/>
<line x1="481.30" y1="630.70" x2="487.30" y2="630.70" stroke="#4a6a8a" stroke-width="0.8" />
<text x="489.80" y="633.00" font-size="6.3" text-anchor="start" fill="#2b2b2b" stroke="#2b2b2b" stroke-width="0.18">HR</text>
<line x1="382.30" y1="597.40" x2="385.30" y2="597.40" stroke="#1a1a1a" stroke-width="0.8" />
<text x="379.30" y="599.75" font-size="6.5" text-anchor="end" fill="#2b2b2b" stroke="#2b2b2b" stroke-width="0.18">50</text>
<line x1="382.30" y1="615.80" x2="385.30" y2="615.80" stroke="#1a1a1a" stroke-width="0.8" />
<text x="379.30" y="618.15" font-size="6.5" text-anchor="end" fill="#2b2b2b" stroke="#2b2b2b" stroke-width="0.18">40</text>
<line x1="382.30" y1="634.20" x2="385.30" y2="634.20" stroke="#1a1a1a" stroke-width="0.8" />
<text x="379.30" y="636.55" font-size="6.5" text-anchor="end" fill="#2b2b2b" stroke="#2b2b2b" stroke-width="0.18">30</text>
<line x1="385.90" y1="641.20" x2="385.90" y2="644.60" stroke="#1a1a1a" stroke-width="0.8" />
<text x="385.90" y="652.70" font-size="6.5" text-anchor="middle" fill="#2b2b2b" stroke="#2b2b2b" stroke-width="0.18">10</text>
<line x1="426.20" y1="641.20" x2="426.20" y2="644.60" stroke="#1a1a1a" stroke-width="0.8" />
<text x="426.20" y="652.70" font-size="6.5" text-anchor="middle" fill="#2b2b2b" stroke="#2b2b2b" stroke-width="0.18">20</text>
<line x1="466.50" y1="641.20" x2="466.50" y2="644.60" stroke="#1a1a1a" stroke-width="0.8" />
<text x="466.50" y="652.70" font-size="6.5" text-anchor="middle" fill="#2b2b2b" stroke="#2b2b2b" stroke-width="0.18">30</text>
<line x1="506.80" y1="641.20" x2="506.80" y2="644.60" stroke="#1a1a1a" stroke-width="0.8" />
<text x="506.80" y="652.70" font-size="6.5" text-anchor="middle" fill="#2b2b2b" stroke="#2b2b2b" stroke-width="0.18">40</text>
<text x="449.35" y="663.20" font-size="8.56" text-anchor="middle" fill="#161616" font-weight="bold" textLength="11.9" lengthAdjust="spacingAndGlyphs">Time</text>
</svg>
<svg id="brd" width="520" height="670" viewBox="0 0 520 670">
<rect x="0.5" y="0.5" width="519" height="669" fill="none" stroke="#555" stroke-width="1"/>
</svg>
</div></body></html>
